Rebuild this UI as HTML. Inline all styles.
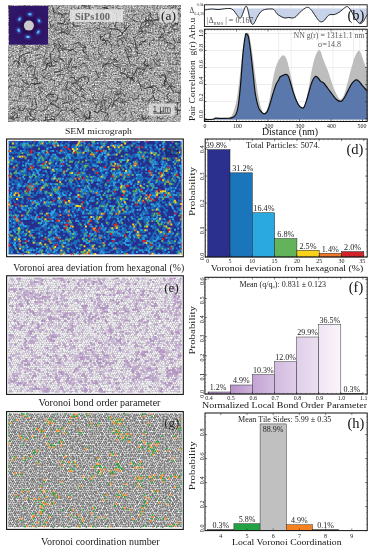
<!DOCTYPE html>
<html><head><meta charset="utf-8"><title>figure</title>
<style>
html,body{margin:0;padding:0;background:#fff;}
svg{display:block;}
text{font-family:"Liberation Serif", serif;opacity:0.999;}
</style></head><body>
<svg width="377" height="550" viewBox="0 0 377 550">
<defs>
<filter id="sem" x="0" y="0" width="100%" height="100%" color-interpolation-filters="sRGB">
<feTurbulence type="fractalNoise" baseFrequency="0.7" numOctaves="2" seed="3" result="n"/>
<feColorMatrix in="n" type="matrix" values="0 0.9 0 0 0.2  0 0.9 0 0 0.2  0 0.9 0 0 0.2  0 0 0 0 1"/>
</filter>
<filter id="soft" x="-2%" y="-2%" width="104%" height="104%"><feGaussianBlur stdDeviation="0.38"/></filter>
<filter id="soft2" x="-2%" y="-2%" width="104%" height="104%"><feGaussianBlur stdDeviation="0.35"/></filter>
<filter id="warp" x="0" y="0" width="100%" height="100%"><feTurbulence type="fractalNoise" baseFrequency="0.06" numOctaves="2" seed="8" result="t"/><feDisplacementMap in="SourceGraphic" in2="t" scale="16" xChannelSelector="R" yChannelSelector="G"/></filter>
<filter id="spot" x="-100%" y="-100%" width="300%" height="300%"><feGaussianBlur stdDeviation="1.1"/></filter>
<filter id="spot2" x="-100%" y="-100%" width="300%" height="300%"><feGaussianBlur stdDeviation="0.7"/></filter>
<radialGradient id="insbg" cx="50%" cy="50%" r="70%"><stop offset="0" stop-color="#2a0c4e"/><stop offset="0.5" stop-color="#2f1462"/><stop offset="1" stop-color="#331a70"/></radialGradient>
<clipPath id="clipA"><rect x="8" y="5" width="173" height="116.5"/></clipPath>
</defs>
<rect width="377" height="550" fill="#fff"/>

<g id="panelA">
<rect x="8" y="5" width="173" height="116.5" fill="#a6a6a6"/>
<rect x="8" y="5" width="173" height="116.5" filter="url(#sem)"/>
<g clip-path="url(#clipA)" fill="none" stroke-linecap="round" stroke-linejoin="round">
<path d="M30.24 63.17l-.24 -2.51M30.45 115.48l-.46 -3.76l2.53 -1.54l3.87 -1.99M149.3 68.97l3.76 -1.18M110.35 32.41l-.26 2.44l-.71 2.88l2.39 2.57M124.49 28.56l.92 -1.9M89.12 110.56l1.5 1.41l-1.67 5.23l1.26 1.79M154.34 73.49l1.56 -1.71M153.17 59.32l1.36 2.32l2.51 3.23M147.29 27.15l2.03 -2.24l-.46 -3.7l-2.67 -1.58M177.25 114.63l.25 -3.09l.08 -2.23M50.4 103.47l3.93 1.78l4.63 2.46M116.32 21.73l-1.35 4.95l2.37 2.24l4.26 3.47M69.8 12.09l1.89 1.72l.01 2.28M14.68 18.43l-3.01 .9M68.91 20.22l3.89 -3.45l3.94 .41M164.96 86.58l-.27 -4.38l1.68 -1.38l-1.07 -4.39M54.24 97l-3.13 -1.23M57.45 75.57l4.05 -1.05M58.24 98.06l-2.75 3.38l-2.85 -.55l-2.49 3.03M34.8 98.11l1.21 5.01l1.27 4.06M137.72 49.83l-1.67 -4.09l-1.19 -4.59l-1.42 -3.72M148.93 87.2l4.86 -1.48l4.25 2.76M115.14 57.99l-1.63 1.88M79.58 66.54l3.79 -3.29l2.13 .69M176.58 10.15l2.25 -.9l4.03 -1.99M57.82 34.76l2.43 -2.56l5.4 .08l1.55 2.04M20.35 11.23l.67 4.54l-1.56 1.41l-4.98 -.93M71.16 108.38l2.59 3.81l2.46 3.17M122.76 99.27l-.91 2.23l2.98 3.18M39.68 38.98l-.07 4.42M175.4 24.35l-4.85 2.1M65.43 24.61l-2.38 -.54l-3.97 -.77M163.7 111.2l.56 -3.63l.38 -3.38l4.24 -2.23M88.7 88.63l2.78 3.28M9.96 74.02l-2.13 2.72l-1.21 1.71l-.94 2.63M72.83 44.28l3.18 -.8l3.76 -1.42M62.88 50.13l4.04 -1.1l4.01 1.53l4.25 -2.84M171.1 100.71l-.91 -1.84M126.96 56.08l.99 2.02M16.43 33.97l-.66 3.35l1.9 2.27l2.85 -.34M29.15 118.47l3.55 1.94l2.98 -1.48M12.37 31.09l2.91 .46l3.47 -3.73M131.64 97.29l1.73 1.99l4.38 -.92l.8 -3.38M162.05 86.03l3.02 -1.44l-1 -3.55l3.37 -4.06M72.44 112.98l1.45 -1.81l2.61 -2.77l2.47 .57M116.84 22.65l-.08 -5.37l-.1 -3.13M113.2 64.7l2.85 1.66l3.44 1.25M51.91 116.13l3.94 1.06l3.34 -4.11l2.43 -3.16M85.57 78.92l-3.8 -2.16l-3.65 3.66l-4.4 3.22M174.84 23.53l3.24 -.41M11.2 113.73l2.84 -2.2l3.54 3.27l-.45 2.3M46.54 40.95l-3.07 -.75l-1.85 -.87M17.88 105.84l2.52 4.72l2.85 -.09l2.02 -3.89M90.53 10.31l-2.01 -4.76l-1.04 -4.64l-5.4 -.63M35.49 66.75l-.71 4.29l-1.08 5.11l3.61 4.04M32.27 109.33l-3.08 -.51M131.06 77.22l2.16 3.29M61.57 17.55l.9 -3.53l2.94 -.31l2.37 -.08M169.88 23.57l-1.27 -2.96l-5.11 -.18l-2.6 .44M173.96 92.64l-2.21 -3.25l-2.59 -4.25l-2.24 -3.01M11.24 35.79l3.52 -4.03l2.35 -3.51l1.76 -3.65M139.5 28.57l2.02 .17l.88 3.44l-2.11 2.23M130.28 24.49l-3.53 3.97l-1.52 2.19M36.16 13.85l3.63 .62M37.09 16.03l-3.68 -.14l-3.26 3.11M19.7 55.77l-.36 2.26l-.73 4.34l-1.03 5.05M41.82 70.89l4.78 -2.55l.25 -4.43l3.61 -1.95M35.04 5.97l.47 4.61l.46 3.43M153.18 95.73l1.57 4.17l3.83 .62M101.79 45.42l2.75 -2.45M27.5 37.89l.33 3.29l-1.56 2.28l-2.6 3.59M71.16 90.07l3.58 3.54l2.17 -1M117.51 36.62l4.72 -1.53l.49 -2.88M68.69 50.99l3.8 -1.6l3.93 2.81M166.16 76.3l-5.14 -.71M146.32 30.79l-2.84 .37l-2.73 .43l-2.24 .35M13.01 40.11l-2.09 -3.27M106.6 19.24l-3.9 .79l-3.37 .01l-.74 2.31M50.49 79.01l4.45 2M75.28 14.24l1.32 1.8M140.02 37.84l2.96 -.54M20.97 57.29l.58 -2.12l3.71 -1.55l4.92 -1.26M101.18 111.02l2.59 1.1l3.82 1.25l.78 3.85M118.99 14.72l-2.04 -1.84l-2.37 .58M18.73 74.57l3.29 1.37M171.89 31.8l-4.02 .72M63.12 60.27l-3.8 -2.23l-.33 -2.87M113.08 53.28l-3.46 -2.18M127.09 77.59l5.27 .51l2.22 3.77M76.11 19.42l-3.46 3.64l1.36 3.01l5.43 .15M59.5 52.42l-1.19 -3.27l2.28 -2.55l-1.96 -3.72M54.56 65.68l-5.24 .75M51.85 65.73l-.69 -4.32l-.63 -4.33l.06 -2.52M175.44 42.4l-2.62 -4.62M16.16 42.82l-.04 -4.35l-.05 -2.87l-3.8 -2.96M164.09 39.94l-2.06 .63M103.3 7.79l4.57 .7M54.52 72.89l4.34 -1.5l3.79 -.94M157.43 52.67l-1.36 2.96M69.33 90.42l-2.32 -.71l-1.1 -3.62l2.32 -3.79M13.34 61.87l1.91 -1.26l3.37 .78l.98 3.32M151.78 93.12l3.11 -3.36M169 103.23l-3.86 3.56l-5.11 -.85l-2.02 3.91M108.74 27.99l3.56 1l4.79 .41l2.25 .54M22.09 19.12l-.64 -3.09l3.75 -2.83l2.72 -.87M69.84 103.99l-1.33 -1.91l-4.48 1.02l-2.12 1.18M175.56 109.89l2.05 .38l4 .49l1.61 2.31M179.18 40.27l3.39 -4.31l2 -2.81M52.43 59.22l2.78 2.55l3.96 .14M174.34 25.1l-1.91 2.23l1.04 3.03l4.76 -1.46M45.31 115.64l.23 4.72M96.27 99.9l-4.01 .18l-2.66 .01M153.2 97.59l-4.14 1.82l-.2 4.54M143.25 100.63l-.72 -1.99M8.21 65.6l-2.43 -.51M83.52 49.83l.58 2.64M52.83 50.93l2.04 -3.57l-1.03 -4M13.98 81.28l-3.34 -.92M158.16 37.48l4.63 -.59l2.37 2.52l2.38 3.14M53.92 94.52l-5.29 -.4l-2.14 3.13M92.5 86.76l1.98 -1.74M57.82 21.91l1.39 2.07l4.37 -.57l1.48 -3.3M160.28 18.71l-5.06 1.11l-2.54 .23M76.11 98.52l-2.53 3.46l-1.37 1.73M120.22 97.19l-4.55 3.07M157.07 118.34l2.01 -1.06l2.25 1.72l2.21 -1.11M146.24 39.76l-3.46 2.75l-3.08 2.83M51.64 5.89l1.16 -1.9l4.01 .64M49.48 21.76l1.35 4.91l-1.6 1.82l-4.46 -.35M24.17 63.24l1.39 -4.4M101.86 41.15l2.16 -1.34M137.27 21.58l-4.51 -1.23M120.09 72.01l2.95 1.35l3.36 1.45l.87 3.07M84.97 91.27l-2.13 -2.69l-3.31 1.88l-3.73 -2.43M138.42 80.61l1.82 4.89l1.16 5.06M157.87 60.47l2.56 -1.25M169.89 101.96l-2.4 -3.63l-.93 -2.86l2.73 -2.98M67.23 26.63l1.04 3.22M51.65 62.66l-5.07 1.59M177.96 24.6l-2.56 -1.36l-.16 -3.68M126.98 28.01l-1.48 1.68l-2.54 2.99M161.57 20.18l.96 -2.39l4.36 -.08l1.95 2.89M9.98 14.16l.76 -3.32M16.87 21.66l1.14 -4.51l1.13 -2.6M42.66 110.71l4.02 -1.32l.78 -1.95l1.19 -2.67M86.73 83.48l2.16 -2.8l-.81 -3.45l-4.51 -1.15M75.11 78.96l-2.28 -1.78l-3.38 1.12M82.04 49.54l2.94 3.66l3.14 3.33l-.14 2.09M80.56 44.34l4.58 2.03l.64 2.74M20.98 91.5l-.83 2.39l-.69 2.93M38.8 87.85l2.06 3.59l-2.36 3.3M180.28 42.55l-2.72 -.06M119.82 39.35l2.95 1.93l-.57 2.34l1.4 1.48M109.37 42.11l1.56 2.65l2.1 .19l2.26 .16M17.1 8.27l-2.58 -.11M142.08 114.43l.72 4.42l2.89 .86l3.29 -3.6M155.32 58.96l1.95 2.26M89.79 112.2l.22 5.2l-2.72 1.27l-2.35 -3.38M115.26 94.42l5.01 -.47l-.12 -4.18M59.9 5.95l-3.07 3.3M43.67 77.86l2.86 -2.92l2.65 -2.41M135.36 65.28l-5.12 -.67l-1.33 -4.13l-.37 -2.32M145.78 17.33l.11 5.39l-.33 2.29l-4.12 2.53M93.51 98.31l-.94 -1.89l2.48 -2.22M155.56 105.92l2.32 2.43l3.17 2.93M96.2 71.53l1.09 2.8l1.21 3.17l-3.41 2.46M121.21 82.03l-2.43 .72l-1.67 -1.4l1.01 -2.82M25.96 108.01l2.42 3.19l1.81 3.15l2.11 2.78M102.4 67.44l1.58 -3.22l2.35 -.19l2.74 -.51M147.23 20.83l-2.27 .85l-3.28 1.05l-1.23 4.51M165.75 42.43l2.36 .33l4.14 1M117.12 100.78l-2.45 -.22l-1.29 3.2l-1.13 3.23M76.87 66.36l-4.72 .74M174.79 87.23l-3.98 -.6l-2.81 .32l-.41 2.98M178.92 74.02l3.44 -.71l2.09 -3.15M82.95 85.23l-2.7 2.93M12.14 121.02l-1.22 3.05l-2.4 4.81M152.97 87.45l-4.58 .15l-4.43 .81l-3.48 -3.31M145.77 59.73l-1.86 3.78l2.05 2.13l2.74 -.42M30.31 37.6l2.19 4.04M78.52 43.8l1.58 1.9l2.25 2.3l3.07 -.73M86.96 6.04l-4.85 -.34M146.95 66.09l-2.58 3.76l-3.43 -.98l-2.7 -.58M10.76 109.14l4.51 -1.12M54.9 119.59l-3.52 -.17l-5.39 .63l-2.08 .58M160.43 77.47l-2.04 -2.81M44.07 28.48l-1 -5.12M47.89 64.97l2.31 1.06M113.28 57.8l4 3.43M165.21 108.24l5 1.84l.28 2.03M102.86 108.47l-3.07 2.28l-2.88 1.9l-2.59 -1.44M111.43 101.8l-1.56 3.53l-2.11 3.61M85.53 98.96l-1.95 -1.42l-2.21 -1.51M149.75 45.52l-.24 -2.64l3.9 -3.56M177.19 105.06l.43 -2.71M31.83 80.16l3.96 -2.43l2.16 1.45M103.64 38.45l1.97 2.48l3.59 .31M106.65 45.18l-1.36 -4.46l-4.59 -1.09l-.55 -4.78M154.02 24.34l-2.51 -4.04l-4.49 .11M71.64 59.53l-1.7 3.59l-1.99 4.99M106.92 7.26l-2.72 .32M106.62 101.21l-3.42 -1.51l-1.9 1.63l1.11 5.04M138.98 45.29l2.04 -3.62l2.4 -.04l2.42 -.26M126.76 46.98l3 -.02l1.88 3.66l-1.7 1.96M99.96 28.93l-3 -.82M131.11 56.39l-3.04 .07l-1.3 -3.14l-1.65 -3.89M39.78 83.03l-4.27 1.03l-4.05 -.63l-3.26 4.15M22.05 79.25l1.95 3.49l4.61 1.16M10.04 85.62l-1.76 2.84l-.99 1.83M25.71 120l-.15 -2.85M152.81 18.74l-2.56 -2.63l.87 -2.27l-2.71 -1.79M25.01 46.08l-3.67 -2.13M137.37 67.43l-1.76 4.4l-2.65 4.36l-2.84 3.61M19.64 117.79l-3.8 -.31l-1.79 1.92l-2.99 -.92M27.29 71.28l-.52 -2.77l4.42 -3.11l2.48 1.22M99.58 36.69l2.43 .2l3.75 -2.76M52.94 8.35l.95 4.03l3.69 1.12l3.73 .76M10.68 6.25l-4.47 -.6M163.39 28.03l1.3 4.3l-3.24 2.79M11.67 26.76l1.3 4.43l4.15 2.3l3.56 -3.06" stroke="#222" stroke-width="0.9" opacity="0.8"/>
<path d="M61.52 13.99l-3.96 -1.94l-2.35 -1.03M89.11 26.62l-.92 3.36l2.43 2.15l3.23 -.99M106.4 120.22l3.49 .07l2 4.07M31.06 71.03l.99 2.62M100.02 15.82l-2.85 -1.38l-3.92 2.53l.27 2.46M125.55 86.04l1.62 2.39M48.47 114.82l-1.84 2.92l1.11 3.44M150.48 12.71l-1.39 3.57l-.57 2.42l2.72 1.82M65.04 83.84l1.2 -2.11l4.49 .34l2.51 3.13M124.75 69.05l-.84 2.39M172.26 101.11l3.13 1.16l5.14 .58M61.28 27.49l.66 5l-1.91 1.11M63.18 39.1l-3.44 4.03M161.41 74.87l5.21 -.65l3.4 -.6l4.95 -1.27M78.7 7.45l-2.23 2.87l-4.76 -.81l-2.17 2.12M100.07 99.45l-2.14 4.47l-1.56 3.31M116.48 13.75l-2.96 .26l-2.78 -3.81M102.84 27.12l2.48 .34M68.05 73.16l2.33 -3.23M81.08 91.56l.11 -3.96l-3.36 -2.67l-3.3 -2.67M54.85 120.69l-2.56 -1.49l-3.3 -2.89M122.48 92.69l3.06 4.41l-1.45 3.87l-4.59 1.24M105.33 112.61l-.05 -4.82l-1.02 -5.36M142.49 100.08l.68 2.16M85.17 112.62l-1.36 3.14l4.07 3.53M144.24 54.54l-2.26 -.38l-5.22 -1.13l-.71 -1.96M86.95 56.54l.4 2.8l4.1 1.85l3.74 2.24M32.49 15.39l-.19 -4.06l-3.05 -2.28M100.02 91.59l2.21 2.87l2.38 3.08l3.68 -.53M44.77 40.09l-4.44 -.7M173.32 82l-3.03 2.15l.67 3.73M46.72 97.06l2.91 3.5l1.83 1.93l1.94 1.44M21.3 89.33l2.54 1.68l4.25 -3.27M33.19 13.15l-2.09 -4.18l-2.08 -4.71M112.27 100.54l-3.41 -4.1M120.26 72.88l2.17 .9M171.84 109.37l4.08 -1.42l3.52 2.18l4.32 -3.13M81.06 69.74l-2.9 -1.77l-2.13 -.42l-2.68 -.28M32.24 102.74l-2.33 -1.88l.46 -2.15l-1.72 -2.1M129.7 10.76l4.7 .54l1.73 -2.06M27.92 120.34l-.97 -4.49M151.54 67.42l-3.19 -3.77l-3.95 .8M70.29 31.4l-2.16 2.95l-3.75 -.86l-1.7 1.63M161.95 33.86l-2.36 -3.87M154.67 29.53l2.47 -1.29M162.91 75.03l3.09 .65M148.05 27.63l-3.24 -.61M43.35 12.15l1.38 4.35M117.97 10.17l-4.94 1.6M20.28 96.65l-2.08 4.02l-3.34 -.24l-2.13 1.96M115.25 106.76l-1.42 -4.13M53.85 94.39l-3.26 -.23l-2 2.37l2.16 3.84M133.95 77.61l-3.74 .39l-2.37 -2.14M71.07 74.83l1.45 -2.32M29.73 39.89l2.04 -4.5l-2.2 -3.32l-1.03 -1.86M116.64 62.35l3.03 -2.25l3.76 -3.2M169.08 64.15l2.21 .24l4.17 -.19l3.6 0M40.48 54.59l-4.63 .61M103.69 63.73l3.23 .04l1.93 -2.97l2.12 -4.49M72.42 19.82l-5.12 .15l-2.78 -.92l-.97 -3.35M98.83 15.21l.99 -4.03l3.99 -1.61l3.24 -3.09M66.66 23.25l2 .71l3.81 -3.65M124.43 96.43l-1.24 -2.86l-3.07 .59M30.14 43.19l.6 -1.96l1 -5.31l-3.6 -2.37M151.81 18.89l-1.63 2.92M106.41 59.08l4.95 .54l4.45 1.05M75.96 112.55l-2.74 -2.6M127.38 66.95l1.07 1.9l1.39 3.37M110.17 24.74l-3.14 3.6l-2.85 -.49M50.45 12.6l-2.91 -4.62l.99 -1.85M66.82 65.08l2.46 -2.13M39.05 32.02l-3.06 2.09l-4.65 2.53l-1.9 .73M37.1 49.27l2.97 -4.26M107.46 108.48l-3.12 1.15l-2.52 -1.79M150.44 86.92l1.3 1.77l2.81 3.1l-2.02 3.91M175.13 72.35l-3.2 -4.13l-2.89 .6M104.24 65.06l4.93 -1.18l2.59 -.33M109.31 16.86l-3.84 3.55l-3.52 -.39l-2.5 3.57M34.92 13.03l-1.71 2.72l-2.41 -.07l-1.98 4.35M57.26 100.33l.68 -5.34M100.85 45.71l-2.62 2.69l.45 4.66l4.39 2.49M26.3 80.78l.76 3.61l-3.74 3.24l-.15 2.46M128.38 67.08l-2.81 -3.86l-4.88 .79l-3.87 .66M139.56 57.3l-3.1 2.63l.41 2.79M144.98 117.83l-4.01 .46l-2.56 -3.3M174.94 53.51l5.26 -.3l2.42 -.1l1.19 -1.75M48.61 38.55l2.23 .78M127.96 74.96l-1.31 -4.42l-1.03 -1.76M40.13 74.01l4.01 3.15l1.83 1.24l4.41 2.86M38.76 47.03l3.9 -1.84l2.05 1.62M101.58 62.42l1.6 4.25M115.98 78.55l-3.41 3.19M66.74 66.15l3.31 2.43M85.22 117.59l4.99 .55M29.55 116.8l-3.72 -.43M152.76 66.03l3.67 -0l4.28 -.54M164.83 23.44l.94 4.08M19.66 95.08l2.81 2.43l4.91 -1.16l4.34 -1.76M76.51 119.5l3.42 2.2l-1.05 5.36M140.98 72.49l-2.41 .23l-2.79 -3.38M12.55 38.59l2.58 -3.99l5.27 -.51M104.63 75.26l-1.15 -2.09M61.75 28.03l-1.89 -1.11M46.96 34.83l-4.51 -.96M123.62 101.7l4.75 -.86l.4 -2.07l1.52 -3.8M36.15 74.96l-3.94 -.2M10.6 48.07l-5.18 -.07M70.13 100.74l2.46 -1.29M28.31 78.14l-2.82 2.76M152.07 62.54l-3.05 4.09l-1.97 -.62M35.22 120.04l-1.96 -2.73M141.35 67.69l2.55 .38M114.11 104.45l3.36 2.7l-.41 2.05l1.73 2.27M55.68 114.95l4.17 .97l2.98 2.04l-.04 2.64M165.62 49.67l1.76 -4.25l4.63 -.81M106.5 61.29l-3.25 -3.65l-3.71 -3.13M47.54 57.58l-2.97 3.98l1.9 4.36l-1.52 3.74M85.62 18.26l3.97 3.73l2.57 2.03M19.55 110.57l-2.31 -3.04M101.44 64.09l-3.54 -.07l-1.12 2.43M100.71 31.69l4.49 -.53M119.1 61.97l-2.9 .29l-5.05 .58l-2.05 3.72M137.53 75.45l1.74 2.73l-2.62 3.81M53.9 23.19l-1.44 2.37l-1.31 1.57M27.36 6.7l-1.94 2.08l-2.25 2.35M61.81 72.77l-2.68 -1.59M130 54.12l4.16 2.53l3.09 -.66l.32 -5.24M12.25 54.73l-1.13 2.92l-3.71 .09M147.21 25.8l-1.31 1.89M32.48 68.96l-1.15 -3.25l-4.34 -1.06M174.63 49.56l.62 -3.55M130.87 111.73l.86 2.96l1.4 2.43M10.47 102.26l-.54 1.99M37.85 55.42l-3.81 -.45M72.88 23.47l.94 2.28l-1.69 2.29M55.01 111.31l1.97 -1.21l4.44 -2.39l2.29 -1.03M173 91.92l5.33 .68l3.11 -3.7M78.96 14l.01 3.59l.57 3.11M119.72 51.44l-.26 2.1M30.54 17.21l3.53 -.7l2.1 2.65l-2.19 4.38M37.35 59.24l5.08 -2l2.52 -1.31M144.84 64.63l-1.2 2.95l1.02 2.42l-3.33 4.2M176.78 65.45l-.12 -3.42l2.16 -1.43l2.7 .93M44.25 10.54l.25 2.15l-4.16 3.25l-4.17 -2.07M32.15 107.18l.41 -4.95l.07 -2.86l2.39 -.82M67.05 107.72l-1.21 2.55l-4.74 .32M32.58 84.84l1.64 -1.88l4.16 1.12l2.51 4.44M64.51 29.05l3.96 1.98l4.01 -2.36M133.51 34.15l1.93 3.73M101 13.31l2.77 -.76l4.29 3.16l2.6 2.34M170.09 63.32l-2.43 -3.59l.82 -1.94M12.7 85.12l4.98 1.67l4.9 .25M53.45 24.71l2.01 4.94l-2.86 3.6l.62 1.96M104.04 78.04l-2.77 .08M172.63 101.86l-1.22 2.46l-2.48 .18l-1.73 -1.98M56.6 101.72l-3.1 2.94M122.18 108.67l-1.3 -2.59M127.2 76.67l2.76 -1.17l2.19 -.61l.51 -4.76M74.9 91.15l3.44 2.15M66.77 96.2l-2.16 2.88l-4.98 -.51l-3.52 .09M124.46 119.91l.9 -3.55M170.61 72.37l-3.38 -1.19M57.23 40.23l2.48 -.71M177.49 18.15l-5.01 1.13M59.48 84.36l2.3 -3.66l2.13 -4.09l1.01 -3.22M108.26 88.4l-1.15 -3.14l-2.69 -2.68l-3.83 1.35M130.63 43.57l2.46 .38l1.3 4.04M177.3 91.45l3.68 1.45l1.41 4.65l2.42 1.46M117.83 93.77l.02 4.37M37.73 48.32l-2.41 -.56M85.34 59.96l-.58 -5.2M23.88 85.06l-2.04 1.49l.32 3.36M168.68 15.14l-3.99 -.78l-1.67 1.71M22.71 50.43l-2.41 .76M17.94 54.55l2.96 -4.13M124.57 71.52l-2.88 1.72l-.38 2.82M111.44 92.24l.27 2.59M121.47 109.34l3.98 1.66l.12 2.25l-2.64 1.67M172.25 78.48l2.95 2.34l2.72 -1.71M96.51 21.68l-3.05 1.96M66.91 89.13l-4.67 .16M93.25 53.63l1.17 4.92l4.1 1.16l1.86 -1.61M57.96 60.22l3.36 -.93l3.87 3.39l2.18 1.67M144.53 100.68l2.65 .7M55.68 45.49l.9 2.25l5.2 .63l4.01 -.76M123.31 77.93l1.98 3.04M142.6 14.97l3.77 -3.59M81.36 102.96l-1.38 -4.18M141.49 27.18l-2.54 1.83l-.1 4.93l-4.04 3.43M54.41 17.2l-.16 -2.42l-.49 -3.76l-.95 -3.93M129.19 29.51l-4.56 -1.15l-.38 -3.56l-3.23 -1.25M90.43 103.27l-1.89 -2.88l-2.19 .56l-4.78 .8M152.02 73.91l-2.1 -1.2M41.36 40.62l4.1 .46l1.99 -2.21M69.62 96.08l1.75 1.48l.85 3.86l2.05 1.08M83.8 97.35l-.64 -3.41l-.52 -2.38M51.18 102.72l4.15 2.92l2.11 1.58M76.42 79.08l.75 2.81l1.46 3.62l2.23 3.74M113.11 5.16l-4.08 -1.45l-1.52 -4.27l-2.78 -.39M38.37 49.18l-5.01 .64l-1.3 -2.17M77.61 77.95l3.39 .43l.65 1.93M67.68 94.94l1.3 4.71M73.62 35.76l-4.32 -1.04l-2.32 -3.72l-4.9 .64M54.64 92.02l.88 -4.97l3.52 -1.33l.69 -3.27M40.86 35.85l2.34 -2l-1.33 -2.73M12.43 65.81l1.8 -3.92M136.23 51.79l3.15 1.79M11.5 5.36l-2.12 -1.57l-3.65 -3.31l-2.76 -2.67M85.17 107.03l-3.51 -1.51M160.58 121.35l-3.38 1.23M27.26 47.42l-3.29 -.01l-1.57 -2.14M43.42 111.17l-2.32 .05M67.03 73.14l2.03 1.37l3.38 3.08M42.47 82.29l-5.19 1.57l-3.44 .75M176.22 53.37l-3.76 .13M54.71 43.37l2.98 .97l4.69 1.89l.45 5.19M48.11 114.32l2.14 -.54l3.97 -1.34M58.42 30.59l-2.03 .05l-.98 -1.88l2.32 -2.05M119.11 45.7l-3.58 2.31l-3.96 2.42M56.67 118.46l-2.61 1.52l.65 5.24M59.13 51.85l3.54 -3.05M160.15 37.26l-.99 3.24l-2.79 -.13l-2.85 -.38M159.85 37.27l2.08 -4.06M132 78.02l-1.73 5.06l-3.05 .86l-2.48 -1.98M153.12 33.07l-3.96 -.79l-3.64 .11l-1.81 3.31M99.85 57.04l.16 -2.62M114.86 59.96l2.76 -2.71M15.63 114.77l-4.16 2.58l-3.6 2.01M151.62 20.13l5.28 .66l1.57 -1.74l-1.36 -5.12M120.73 70.24l-.75 -4.96M46.22 28.97l-4.45 3.05l-4.34 2.55M31.2 43.11l-3 -3.92l-1.38 -1.47l-4 1.24M173.89 48.08l-4.6 .37M150.66 77.47l-1.55 2.07l1.64 4.11M105.34 117.06l2.33 1.72M103.51 74.79l3.67 1.9M159.25 66.02l.65 -3.69l-2.08 -1.92M57.1 41.19l2.21 -.4l2.88 3.01l2.26 3.77M89.1 119.6l.03 -2.8M128.96 41.27l4.72 -.13M131.14 20.16l2.19 -4.65l4.87 -1.56M111.73 37.5l-2.37 -4.16l-1.17 -2.06l-4.18 -.24M81.54 111.46l1.59 4.12l2.81 4.24l-1.68 2.44M168.13 115.2l-3.31 .41l-2.51 -.43M118.63 113.2l1.2 2.36M168.37 55.85l1.05 -2.05M177.81 37.4l-1.85 2.46M43.87 108.05l1.11 -2.27M75.14 87.09l-2.04 -3.64l2.22 -2.72l-1.3 -3.17M63.9 63.37l1.15 4.55l2.77 .72l.73 2.3M153.14 24.47l-2.58 .42M98.22 105.61l2.32 1.62l-.03 3.8l-3.13 1.75M27.52 65.06l-1.76 -3.07l-4.56 .44M67.59 54.03l4.38 .44l3.16 .4l2.79 -2.99M43.55 65.7l.18 -2.36l-.55 -4.11l2.81 -2.04M80.82 60.24l-3.15 2.21l-1.97 -.82M45.73 71.79l-2.89 2.51l.58 3.51M121.42 117l-2.63 -3.32l2.41 -3.83M73.72 75.45l-3.01 -3.51M89.23 6.76l-2.72 2.74M99.76 78.75l-.9 -2.86M125.31 40.2l1.58 -3.44l1.17 -4.33M89.15 42.78l1.3 2.49l2.03 -.21l2.6 3.92M52.48 76.58l-4.65 .97M134.79 94.83l-3.04 -3.72M9.49 96.5l2.76 3.19M108.86 87.28l1.89 2.12l4.04 -1.53l3.37 2.07M138.49 68.89l1.87 4.61l-1.11 1.72M150.49 28.22l2.52 -3.48l-1.36 -1.8l-3.62 .25M179.78 17.32l.31 -2.93l-4 -2.62M150.28 110.17l2.38 -4.5M109.11 68.95l-3.22 3.1M96.87 104.6l3.63 -1.84l.67 -2.6M18.38 35.02l-1.59 -4.09l-1.67 -4.41M32.04 16.81l-2.13 .05l-1.67 -1.41M41.5 99.41l-2.04 -4.84l3.31 -3.66M93.88 19.7l-5.36 .32l-2.71 -3.56M124.62 48.65l3.94 .96l.13 4.7M116.09 41.23l2 .46l3.35 -4.16l4.91 .18M95.58 112.44l.42 -4.83l1.02 -3.71l.79 -3.13M100.23 107.04l4.06 -1.87l.04 -4.59M132.05 19.24l-4.44 -2.47M170.29 10.96l.04 -2.69l4.77 -2.44l.82 -2.89M19.96 77.13l-3.26 -1.71l-3.35 -2.8M19.28 48.62l4.71 .06M36.95 82.6l-2.78 3.42l1.71 4.66M123.64 38.97l2.02 -4.95l5.39 -.92M11.58 14.59l-3.03 -3.28l-2.16 -2.78M176.41 6l-1.23 1.81l-4.21 -.4l-1.51 -2.6M34.39 113.31l1.3 2.35l-1.75 3.96l-2.89 .28M175.09 45.67l-.45 2.76l-1.96 .4M65.28 94.06l-.23 -4.32l.03 -2.99M117.96 64.95l-1.12 2.94l1.45 2.27M19.21 112.18l-.95 -3.45M165.07 80.44l3.61 1.51l3.17 3.38l2.85 2.24M108.19 114.48l-3.59 2.85l.79 3.36M125.75 69.1l-3.3 -.39M130.26 120.63l2.83 -1.14M60.76 37.71l-3.33 1.35l-4.05 1.73M13.79 36.6l1.37 -1.82l3.35 .67M9.61 8.76l-4.36 -.17l-2.51 -4.8M125.95 78.72l-2.22 -.09l-2.8 3.81l-2.59 3.82M145.56 116.97l-4.24 3.02l-2.65 -1.76l-2.29 .95M118.4 8.05l.64 2.88l1.92 5.02M88.21 110.6l1.35 2.55M62.25 99.49l5.27 1.54l2.56 -3.67M83.97 5.03l-2.16 -3.38M77.13 115.68l4.31 2.66l3.36 -2.73M114.79 91.45l2.44 .77l.33 2.45M44.56 89.93l-3 -2.07M131.38 43.45l2.71 .91l3.67 .78M87.31 118.41l-2.61 1.64M46.41 61.53l-2.19 3.13M172.68 104.24l1.36 1.97l3.67 3.93M135.72 45.13l-.46 3.35M176.21 91.93l3.4 1.64l3.5 -3.9M52.84 17.47l-3.26 -.97M138.14 69.04l2.76 -3.46l2.59 -2.22M31.85 41.02l1.99 -3.09M52.57 88.32l-1.83 4.46l-2.8 .81l-1.59 2.92M47.93 9.05l-1.23 2.37l-2.78 3.66l-3.49 3.06M160.15 28.94l.71 -2.61l-2.16 -1.67l-3.03 1.05M146.52 118.65l-1.79 -2.15M154.48 103.12l-2.77 -2.26M42.56 34.9l-2 -.37l-2.43 -4.39l-2.08 -4.66M60.16 46.27l-3.68 -.56l-2.37 -3.43M160.03 38.3l3.78 -2.31l2.06 -.94l4.46 -1.7M161.04 106.79l-3.53 .69l-1.08 4.27M127.83 72.44l5.27 .8l1.03 3.15M70.13 57.16l1.63 1.58l-1.08 3.07l-2.3 .5M106.37 63.53l-2.14 1.99l.4 2.58l.8 3.91M83.56 64.62l3.29 1.18l1.45 5.12l2.86 .39M89.59 101.07l4.37 .46l.87 2.91l2 .43M73.18 65.83l-2.17 4.1M46.62 13.23l2 3.39l-1.55 4.85l-1.77 3.47M89.37 35.97l-.54 -3.29M23.98 55.63l.47 5.47M86.66 92.3l-1.91 1.86l-4.29 2.94l-4.71 -2.63M45.62 59.5l2.46 -1.3l1.85 -1.63l.21 -5.42M146.69 65.99l-3.55 -.69M22.4 14.38l-4.99 -.34M160.46 104.03l-2.72 -.89l-3.37 2.96l-4.81 -1.8M73.94 46.29l-1.99 1.11M85.24 8.86l-.36 -5.3l5.07 -1.95l1.8 1.68M127.43 49.7l-2.71 -3.09M133.64 111.49l3.63 2.24M59.62 69.72l5.09 -1.38M67.56 62.11l2.96 -2.96M171.33 16.23l1.41 3.06M173.47 58.95l2.41 -.06l1.98 -4.66M137.3 78.16l-.49 -2.17l-.88 -4.16M15.33 113l-2.45 4.91l-5.44 .31l-2.51 4.82M75.37 83.86l.98 -1.89l4.37 -.46M23.41 32.57l4.61 -.26l1.44 -3.8M73.04 82.57l-1.38 2.98l-1.4 2.76M79.15 105.29l-1.64 -1.4M12.54 119.99l-1.9 -3.58M159.46 28.04l1.84 -4.04l-3.39 -2.68l1.16 -2.16M54.48 61.91l2.21 -.59l1.96 -4.2M36.44 81.34l3.11 .51l1.08 2.3l1.7 5.12M120.06 102.71l4.57 -.45l4.57 .63M50.03 43.98l-3.54 2.35l-.53 3.78l-.09 3.8M103.26 22.3l-4.32 2.51l.53 2.67l-4.55 3.01M162.41 28.61l2.36 -2.17l2.24 .25l1.36 -3.52M135.74 49.81l1.55 -2.02M180.62 91.15l-1.17 5.13l-.87 2.47l2.99 3.77M171.54 71.77l-3.39 .33M16.17 33.36l4.47 -.22M173.87 20.38l2.02 -1.79M51.1 24.8l2.58 4.14l3.78 .16l5.44 .63M106.26 29.39l5.03 -.16M139.83 20.57l-2.22 -3.52M35.28 19.42l3.13 .95M143.03 73.16l-.7 3.21l2.92 3.17M64.06 106.74l1.84 .82l.98 3.21l5.28 .2M64.32 120.23l-.84 -1.96M39.24 109.88l-2.23 1.63l-2.83 1.77M46.5 102.56l-1.05 -2.63l-4.9 -.39M108.97 97.47l-1.56 2.44l-3.86 -.1l-1.66 -4.26M117.4 90.64l-2.54 4.35l-.76 3.25l-.62 3.13M95.36 5.72l3.92 -3.19l2.3 2.32l4.13 .49M100.88 9.69l-2.06 .3l-1.06 2.16M156.58 64.74l-2.21 -.03M58 103.35l.9 3.41M123.93 91.57l-3.52 -3.06M87.54 54.36l-1.92 -2.95M55 61.33l-.34 -5.37l2.57 -1.61M14.25 120.64l-1.91 -4.34l-4.33 -.35l-1.26 -3.37M141.49 86.11l3.83 -3.55l3.94 2.14l2.74 2.98M126.06 25.88l.87 -4.07M125.61 40.14l2.13 3.52M117.4 37.51l.12 2.77l.32 4.92l3.28 2.32M66.52 25.16l2.4 -3.03M171.73 5.33l3.75 -3.26l3.57 1.1l1.86 3.25M97.73 73.7l2.37 -.86l3.58 -.8M163.77 93.28l-2.94 -1.3l-3.68 -2.13M177.87 40.6l2.86 .25l1.37 -1.46M109.27 16.17l-.47 -3.62M68.73 88.34l3 .49M8.88 75.83l-3.19 -2.41" stroke="#303030" stroke-width="0.6" opacity="0.75"/>
</g>
<rect x="9" y="6" width="39" height="38.7" fill="url(#insbg)"/>
<ellipse cx="29.9" cy="14.3" rx="2.2" ry="3.1" transform="rotate(-85 29.9 14.3)" fill="#3b4fc8" filter="url(#spot)" opacity="0.85"/>
<ellipse cx="29.9" cy="14.3" rx="1.1" ry="1.8" transform="rotate(-85 29.9 14.3)" fill="#55d2f8" filter="url(#spot2)"/>
<ellipse cx="39.1" cy="20.8" rx="2.2" ry="3.1" transform="rotate(-25 39.1 20.8)" fill="#3b4fc8" filter="url(#spot)" opacity="0.85"/>
<ellipse cx="39.1" cy="20.8" rx="1.1" ry="1.8" transform="rotate(-25 39.1 20.8)" fill="#55d2f8" filter="url(#spot2)"/>
<ellipse cx="38.2" cy="32.1" rx="2.2" ry="3.1" transform="rotate(35 38.2 32.1)" fill="#3b4fc8" filter="url(#spot)" opacity="0.85"/>
<ellipse cx="38.2" cy="32.1" rx="1.1" ry="1.8" transform="rotate(35 38.2 32.1)" fill="#55d2f8" filter="url(#spot2)"/>
<ellipse cx="27.9" cy="36.9" rx="2.2" ry="3.1" transform="rotate(95 27.9 36.9)" fill="#3b4fc8" filter="url(#spot)" opacity="0.85"/>
<ellipse cx="27.9" cy="36.9" rx="1.1" ry="1.8" transform="rotate(95 27.9 36.9)" fill="#55d2f8" filter="url(#spot2)"/>
<ellipse cx="18.7" cy="30.4" rx="2.2" ry="3.1" transform="rotate(155 18.7 30.4)" fill="#3b4fc8" filter="url(#spot)" opacity="0.85"/>
<ellipse cx="18.7" cy="30.4" rx="1.1" ry="1.8" transform="rotate(155 18.7 30.4)" fill="#55d2f8" filter="url(#spot2)"/>
<ellipse cx="19.6" cy="19.1" rx="2.2" ry="3.1" transform="rotate(215 19.6 19.1)" fill="#3b4fc8" filter="url(#spot)" opacity="0.85"/>
<ellipse cx="19.6" cy="19.1" rx="1.1" ry="1.8" transform="rotate(215 19.6 19.1)" fill="#55d2f8" filter="url(#spot2)"/>
<circle cx="28.9" cy="25.6" r="7.5" fill="#26094f" opacity="0.6" filter="url(#spot)"/>
<circle cx="28.9" cy="25.6" r="5" fill="#c9c9c9"/>
<rect x="70" y="9.3" width="53" height="12.6" fill="#e8e8e8" opacity="0.85"/>
<text x="75" y="19.6" font-size="10.4" fill="#666" font-weight="bold" textLength="35" lengthAdjust="spacingAndGlyphs">SiPs100</text>
<rect x="159.5" y="9.3" width="18.2" height="13.2" fill="#e4e4e4" opacity="0.85"/>
<text x="168.6" y="20.2" font-size="13.5" fill="#222" text-anchor="middle">(a)</text>
<rect x="148.6" y="103.4" width="26" height="12.2" fill="#e2e2e2" opacity="0.8"/>
<text x="161.9" y="112" font-size="8.3" fill="#3a3a3a" text-anchor="middle" style='font-family:"Liberation Sans",sans-serif'>1 µm</text>
<rect x="153.3" y="112.6" width="17.2" height="0.9" fill="#222"/>
</g>
<text x="98.4" y="134.2" font-size="9" text-anchor="middle" fill="#222" textLength="67" lengthAdjust="spacingAndGlyphs">SEM micrograph</text>
<g id="panelB">
<clipPath id="clipT"><rect x="204.4" y="8.2" width="162.8" height="18.3"/></clipPath>
<path d="M204.4 10.08C205.59 9.9 209.23 9.11 211.53 9.02C213.82 8.93 215.95 9.59 218.16 9.55C220.37 9.5 222.8 8.93 224.79 8.75C226.78 8.58 228.68 8.27 230.09 8.49C231.51 8.71 232.17 9.06 233.28 10.08C234.38 11.1 235.71 13.26 236.72 14.59C237.74 15.92 238.63 17.6 239.38 18.04C240.13 18.48 240.57 18.26 241.23 17.24C241.9 16.22 242.65 13.7 243.36 11.94C244.06 10.17 244.86 7.43 245.48 6.63C246.1 5.84 246.54 6.06 247.07 7.16C247.6 8.27 248.09 10.92 248.66 13.26C249.24 15.61 249.85 19.36 250.52 21.22C251.18 23.08 251.98 24.18 252.64 24.4C253.3 24.62 253.74 23.74 254.5 22.55C255.25 21.35 256.13 19.01 257.15 17.24C258.17 15.47 259.36 13.22 260.6 11.94C261.83 10.65 263.03 10.04 264.58 9.55C266.12 9.06 268.33 9.02 269.88 9.02C271.43 9.02 272.67 8.75 273.86 9.55C275.05 10.34 275.81 12.64 277 13.79C278.19 14.94 279.65 15.74 280.98 16.45C282.31 17.15 283.63 17.86 284.96 18.04C286.28 18.21 287.61 17.51 288.94 17.51C290.26 17.51 291.72 18.21 292.92 18.04C294.11 17.86 294.99 17.33 296.1 16.45C297.2 15.56 298.31 13.93 299.55 12.73C300.78 11.54 302.33 10.17 303.53 9.28C304.72 8.4 305.74 7.65 306.71 7.43C307.68 7.21 308.34 7.21 309.36 7.96C310.38 8.71 311.66 10.39 312.81 11.94C313.96 13.48 315.15 15.69 316.26 17.24C317.36 18.79 318.47 20.47 319.44 21.22C320.41 21.97 321.21 21.97 322.09 21.75C322.98 21.53 323.86 20.78 324.75 19.89C325.63 19.01 326.51 17.33 327.4 16.45C328.28 15.56 328.95 14.9 330.05 14.59C331.16 14.28 332.79 14.81 334.03 14.59C335.27 14.37 336.37 13.84 337.48 13.26C338.58 12.69 339.6 11.94 340.66 11.14C341.72 10.34 342.87 9.24 343.84 8.49C344.82 7.74 345.7 6.81 346.5 6.63C347.29 6.45 347.82 6.68 348.62 7.43C349.41 8.18 350.39 9.64 351.27 11.14C352.15 12.64 353.04 14.85 353.92 16.45C354.81 18.04 355.6 19.54 356.58 20.69C357.55 21.84 358.79 23.03 359.76 23.34C360.73 23.65 361.53 23.34 362.41 22.55C363.3 21.75 364.27 19.89 365.06 18.57C365.86 17.24 366.84 15.25 367.2 14.59L367.2 8.2L204.4 8.2Z" fill="#c6d3ea" clip-path="url(#clipT)"/>
<path d="M278.8 4.8V26.5M291.2 4.8V26.5M318.4 4.8V26.5M333 4.8V26.5M353.5 4.8V26.5M359.8 4.8V26.5" stroke="#d8d8d8" stroke-width="0.5" fill="none"/>
<path d="M204.4 10.08C205.59 9.9 209.23 9.11 211.53 9.02C213.82 8.93 215.95 9.59 218.16 9.55C220.37 9.5 222.8 8.93 224.79 8.75C226.78 8.58 228.68 8.27 230.09 8.49C231.51 8.71 232.17 9.06 233.28 10.08C234.38 11.1 235.71 13.26 236.72 14.59C237.74 15.92 238.63 17.6 239.38 18.04C240.13 18.48 240.57 18.26 241.23 17.24C241.9 16.22 242.65 13.7 243.36 11.94C244.06 10.17 244.86 7.43 245.48 6.63C246.1 5.84 246.54 6.06 247.07 7.16C247.6 8.27 248.09 10.92 248.66 13.26C249.24 15.61 249.85 19.36 250.52 21.22C251.18 23.08 251.98 24.18 252.64 24.4C253.3 24.62 253.74 23.74 254.5 22.55C255.25 21.35 256.13 19.01 257.15 17.24C258.17 15.47 259.36 13.22 260.6 11.94C261.83 10.65 263.03 10.04 264.58 9.55C266.12 9.06 268.33 9.02 269.88 9.02C271.43 9.02 272.67 8.75 273.86 9.55C275.05 10.34 275.81 12.64 277 13.79C278.19 14.94 279.65 15.74 280.98 16.45C282.31 17.15 283.63 17.86 284.96 18.04C286.28 18.21 287.61 17.51 288.94 17.51C290.26 17.51 291.72 18.21 292.92 18.04C294.11 17.86 294.99 17.33 296.1 16.45C297.2 15.56 298.31 13.93 299.55 12.73C300.78 11.54 302.33 10.17 303.53 9.28C304.72 8.4 305.74 7.65 306.71 7.43C307.68 7.21 308.34 7.21 309.36 7.96C310.38 8.71 311.66 10.39 312.81 11.94C313.96 13.48 315.15 15.69 316.26 17.24C317.36 18.79 318.47 20.47 319.44 21.22C320.41 21.97 321.21 21.97 322.09 21.75C322.98 21.53 323.86 20.78 324.75 19.89C325.63 19.01 326.51 17.33 327.4 16.45C328.28 15.56 328.95 14.9 330.05 14.59C331.16 14.28 332.79 14.81 334.03 14.59C335.27 14.37 336.37 13.84 337.48 13.26C338.58 12.69 339.6 11.94 340.66 11.14C341.72 10.34 342.87 9.24 343.84 8.49C344.82 7.74 345.7 6.81 346.5 6.63C347.29 6.45 347.82 6.68 348.62 7.43C349.41 8.18 350.39 9.64 351.27 11.14C352.15 12.64 353.04 14.85 353.92 16.45C354.81 18.04 355.6 19.54 356.58 20.69C357.55 21.84 358.79 23.03 359.76 23.34C360.73 23.65 361.53 23.34 362.41 22.55C363.3 21.75 364.27 19.89 365.06 18.57C365.86 17.24 366.84 15.25 367.2 14.59" fill="none" stroke="#111" stroke-width="0.9"/>
<rect x="204.4" y="4.8" width="162.80" height="21.70" fill="none" stroke="#111" stroke-width="0.9"/>
<text x="200.2" y="5.6" font-size="3.8" text-anchor="middle" fill="#333">0.04</text>
<text x="189.6" y="13.4" font-size="7.2" fill="#444">Δ<tspan font-size="4" dy="1.3">0.4,20</tspan></text>
<text x="206.8" y="23.4" font-size="8" fill="#555">|Δ<tspan font-size="4.6" dy="1.5">RMS</tspan><tspan dy="-1.5"> | = 0.167</tspan></text>
<text x="356" y="20" font-size="14.5" fill="#111" text-anchor="middle">(b)</text>
<path d="M278.8 29.2V121.5M291.2 29.2V121.5M318.4 29.2V121.5M333 29.2V121.5M353.5 29.2V121.5M359.8 29.2V121.5M204.4 33.5H367.2M204.4 50.52H367.2M204.4 67.54H367.2M204.4 84.56H367.2M204.4 101.58H367.2M204.4 118.6H367.2" stroke="#dcdcdc" stroke-width="0.5" fill="none"/>
<path d="M204.4 119.75C207.64 119.59 219.83 119.07 223.87 118.79C227.91 118.52 227.25 118.79 228.64 118.08C230.03 117.36 231.03 116.89 232.22 114.5C233.41 112.11 234.81 107.94 235.8 103.76C236.79 99.58 237.31 95.8 238.19 89.44C239.06 83.07 240.06 73.53 241.05 65.57C242.04 57.62 243.24 47.08 244.15 41.71C245.07 36.34 245.74 34.63 246.54 33.35C247.33 32.08 248.13 31.88 248.93 34.07C249.72 36.26 250.52 41.63 251.31 46.48C252.11 51.33 252.9 57.42 253.7 63.19C254.49 68.95 255.29 75.52 256.09 81.09C256.88 86.65 257.68 92.22 258.47 96.6C259.27 100.97 260.06 104.63 260.86 107.34C261.65 110.04 262.45 112.03 263.25 112.83C264.04 113.62 264.84 113.23 265.63 112.11C266.43 111 267.22 109.13 268.02 106.15C268.81 103.16 269.61 98.59 270.41 94.21C271.2 89.84 272 84.07 272.79 79.89C273.59 75.72 274.26 72.33 275.18 69.15C276.09 65.97 277.48 62.59 278.28 60.8C279.09 59.01 279.32 59.29 280 58.41C280.68 57.54 281.59 55.95 282.39 55.55C283.18 55.15 283.98 55.15 284.77 56.03C285.57 56.9 286.36 58.41 287.16 60.8C287.96 63.19 288.75 66.96 289.55 70.35C290.34 73.73 291.14 77.51 291.93 81.09C292.73 84.67 293.44 88.44 294.32 91.83C295.19 95.21 296.19 98.79 297.18 101.37C298.18 103.96 299.37 106.15 300.29 107.34C301.2 108.53 301.88 108.93 302.67 108.53C303.47 108.13 304.26 107.34 305.06 104.95C305.86 102.57 306.65 98.19 307.45 94.21C308.24 90.23 309.04 85.46 309.83 81.09C310.63 76.71 311.42 71.74 312.22 67.96C313.02 64.18 313.81 61 314.61 58.41C315.4 55.83 316.2 53.84 316.99 52.45C317.79 51.05 318.7 50.06 319.38 50.06C320.06 50.06 320.45 51.05 321.05 52.45C321.65 53.84 322.24 56.42 322.96 58.41C323.68 60.4 324.55 62.39 325.35 64.38C326.14 66.37 326.94 68.16 327.73 70.35C328.53 72.53 329.32 75.12 330.12 77.51C330.91 79.89 331.63 82.28 332.51 84.67C333.38 87.05 334.38 89.64 335.37 91.83C336.36 94.01 337.56 96.52 338.47 97.79C339.39 99.07 340.06 99.66 340.86 99.46C341.65 99.26 342.45 98.27 343.25 96.6C344.04 94.93 344.84 92.02 345.63 89.44C346.43 86.85 347.22 84.07 348.02 81.09C348.81 78.1 349.61 74.52 350.41 71.54C351.2 68.56 352 65.77 352.79 63.19C353.59 60.6 354.38 57.94 355.18 56.03C355.97 54.12 356.89 52.61 357.57 51.73C358.24 50.86 358.64 50.46 359.24 50.78C359.83 51.09 360.43 51.97 361.15 53.64C361.86 55.31 362.52 58.02 363.53 60.8C364.54 63.58 366.59 68.75 367.2 70.35L367.2 119.5L204.4 119.5Z" fill="#bdbdbd"/>
<path d="M204.4 119.75C205.85 119.67 211.27 119.55 213.13 119.27C214.98 118.99 214.52 118.24 215.51 118.08C216.51 117.92 217.3 118.28 219.09 118.32C220.88 118.36 224.07 118.44 226.25 118.32C228.44 118.2 230.63 118.24 232.22 117.6C233.81 116.96 234.81 116.41 235.8 114.5C236.79 112.59 237.39 111.12 238.19 106.15C238.98 101.17 239.78 93.42 240.57 84.67C241.37 75.91 242.16 61.79 242.96 53.64C243.75 45.49 244.71 39 245.35 35.74C245.98 32.48 246.26 33.87 246.78 34.07C247.3 34.27 247.81 34.07 248.45 36.93C249.09 39.8 249.84 45.29 250.6 51.25C251.35 57.22 252.19 65.57 252.98 72.73C253.78 79.89 254.46 88.44 255.37 94.21C256.28 99.98 257.44 104.36 258.47 107.34C259.51 110.32 260.66 111.04 261.58 112.11C262.49 113.19 263.09 113.78 263.96 113.78C264.84 113.78 265.87 113.58 266.83 112.11C267.78 110.64 268.7 107.94 269.69 104.95C270.68 101.97 271.76 97.59 272.79 94.21C273.83 90.83 274.9 87.05 275.89 84.67C276.89 82.28 278.07 81.17 278.76 79.89C279.44 78.62 279.2 77.82 280 77.03C280.8 76.23 282.59 75.56 283.58 75.12C284.57 74.68 285.17 74.2 285.97 74.4C286.76 74.6 287.56 74.8 288.35 76.31C289.15 77.82 289.94 80.89 290.74 83.47C291.54 86.06 292.21 89.04 293.13 91.83C294.04 94.61 295.23 97.87 296.23 100.18C297.22 102.49 298.14 104.4 299.09 105.67C300.05 106.94 301.16 107.54 301.96 107.82C302.75 108.09 303.15 108.41 303.87 107.34C304.58 106.26 305.46 103.76 306.25 101.37C307.05 98.99 307.84 95.8 308.64 93.02C309.44 90.23 310.23 87.05 311.03 84.67C311.82 82.28 312.62 80.09 313.41 78.7C314.21 77.31 315 76.43 315.8 76.31C316.6 76.19 317.39 77.19 318.19 77.98C318.98 78.78 319.58 80.17 320.57 81.09C321.57 82 322.96 82.28 324.15 83.47C325.35 84.67 326.54 86.65 327.73 88.25C328.93 89.84 330.12 91.43 331.31 93.02C332.51 94.61 333.7 96.48 334.89 97.79C336.09 99.11 337.48 100.3 338.47 100.89C339.47 101.49 340.06 101.61 340.86 101.37C341.65 101.13 342.45 100.46 343.25 99.46C344.04 98.47 344.84 96.88 345.63 95.41C346.43 93.93 347.1 92.42 348.02 90.63C348.93 88.84 350.13 86.26 351.12 84.67C352.12 83.07 353.11 81.88 353.99 81.09C354.86 80.29 355.58 79.89 356.37 79.89C357.17 79.89 357.88 80.29 358.76 81.09C359.63 81.88 360.63 83.47 361.62 84.67C362.62 85.86 363.8 87.17 364.73 88.25C365.66 89.32 366.79 90.63 367.2 91.11L367.2 119.5L204.4 119.5Z" fill="#5b78ad"/>
<path d="M204.4 119.75C205.85 119.67 211.27 119.55 213.13 119.27C214.98 118.99 214.52 118.24 215.51 118.08C216.51 117.92 217.3 118.28 219.09 118.32C220.88 118.36 224.07 118.44 226.25 118.32C228.44 118.2 230.63 118.24 232.22 117.6C233.81 116.96 234.81 116.41 235.8 114.5C236.79 112.59 237.39 111.12 238.19 106.15C238.98 101.17 239.78 93.42 240.57 84.67C241.37 75.91 242.16 61.79 242.96 53.64C243.75 45.49 244.71 39 245.35 35.74C245.98 32.48 246.26 33.87 246.78 34.07C247.3 34.27 247.81 34.07 248.45 36.93C249.09 39.8 249.84 45.29 250.6 51.25C251.35 57.22 252.19 65.57 252.98 72.73C253.78 79.89 254.46 88.44 255.37 94.21C256.28 99.98 257.44 104.36 258.47 107.34C259.51 110.32 260.66 111.04 261.58 112.11C262.49 113.19 263.09 113.78 263.96 113.78C264.84 113.78 265.87 113.58 266.83 112.11C267.78 110.64 268.7 107.94 269.69 104.95C270.68 101.97 271.76 97.59 272.79 94.21C273.83 90.83 274.9 87.05 275.89 84.67C276.89 82.28 278.07 81.17 278.76 79.89C279.44 78.62 279.2 77.82 280 77.03C280.8 76.23 282.59 75.56 283.58 75.12C284.57 74.68 285.17 74.2 285.97 74.4C286.76 74.6 287.56 74.8 288.35 76.31C289.15 77.82 289.94 80.89 290.74 83.47C291.54 86.06 292.21 89.04 293.13 91.83C294.04 94.61 295.23 97.87 296.23 100.18C297.22 102.49 298.14 104.4 299.09 105.67C300.05 106.94 301.16 107.54 301.96 107.82C302.75 108.09 303.15 108.41 303.87 107.34C304.58 106.26 305.46 103.76 306.25 101.37C307.05 98.99 307.84 95.8 308.64 93.02C309.44 90.23 310.23 87.05 311.03 84.67C311.82 82.28 312.62 80.09 313.41 78.7C314.21 77.31 315 76.43 315.8 76.31C316.6 76.19 317.39 77.19 318.19 77.98C318.98 78.78 319.58 80.17 320.57 81.09C321.57 82 322.96 82.28 324.15 83.47C325.35 84.67 326.54 86.65 327.73 88.25C328.93 89.84 330.12 91.43 331.31 93.02C332.51 94.61 333.7 96.48 334.89 97.79C336.09 99.11 337.48 100.3 338.47 100.89C339.47 101.49 340.06 101.61 340.86 101.37C341.65 101.13 342.45 100.46 343.25 99.46C344.04 98.47 344.84 96.88 345.63 95.41C346.43 93.93 347.1 92.42 348.02 90.63C348.93 88.84 350.13 86.26 351.12 84.67C352.12 83.07 353.11 81.88 353.99 81.09C354.86 80.29 355.58 79.89 356.37 79.89C357.17 79.89 357.88 80.29 358.76 81.09C359.63 81.88 360.63 83.47 361.62 84.67C362.62 85.86 363.8 87.17 364.73 88.25C365.66 89.32 366.79 90.63 367.2 91.11" fill="none" stroke="#111" stroke-width="1.2" stroke-linejoin="round"/>
<rect x="204.4" y="29.2" width="162.80" height="92.30" fill="none" stroke="#111" stroke-width="1.0"/>
<path d="M205 121.5v-1.3M208.15 121.5v-1.3M211.3 121.5v-1.3M214.45 121.5v-1.3M217.6 121.5v-1.3M220.75 121.5v-1.3M223.9 121.5v-1.3M227.05 121.5v-1.3M230.2 121.5v-1.3M233.35 121.5v-1.3M236.5 121.5v-1.3M239.65 121.5v-1.3M242.8 121.5v-1.3M245.95 121.5v-1.3M249.1 121.5v-1.3M252.25 121.5v-1.3M255.4 121.5v-1.3M258.55 121.5v-1.3M261.7 121.5v-1.3M264.85 121.5v-1.3M268 121.5v-1.3M271.15 121.5v-1.3M274.3 121.5v-1.3M277.45 121.5v-1.3M280.6 121.5v-1.3M283.75 121.5v-1.3M286.9 121.5v-1.3M290.05 121.5v-1.3M293.2 121.5v-1.3M296.35 121.5v-1.3M299.5 121.5v-1.3M302.65 121.5v-1.3M305.8 121.5v-1.3M308.95 121.5v-1.3M312.1 121.5v-1.3M315.25 121.5v-1.3M318.4 121.5v-1.3M321.55 121.5v-1.3M324.7 121.5v-1.3M327.85 121.5v-1.3M331 121.5v-1.3M334.15 121.5v-1.3M337.3 121.5v-1.3M340.45 121.5v-1.3M343.6 121.5v-1.3M346.75 121.5v-1.3M349.9 121.5v-1.3M353.05 121.5v-1.3M356.2 121.5v-1.3M359.35 121.5v-1.3M362.5 121.5v-1.3M365.65 121.5v-1.3" stroke="#222" stroke-width="0.4" fill="none"/>
<path d="M205 29.2v1.3M208.15 29.2v1.3M211.3 29.2v1.3M214.45 29.2v1.3M217.6 29.2v1.3M220.75 29.2v1.3M223.9 29.2v1.3M227.05 29.2v1.3M230.2 29.2v1.3M233.35 29.2v1.3M236.5 29.2v1.3M239.65 29.2v1.3M242.8 29.2v1.3M245.95 29.2v1.3M249.1 29.2v1.3M252.25 29.2v1.3M255.4 29.2v1.3M258.55 29.2v1.3M261.7 29.2v1.3M264.85 29.2v1.3M268 29.2v1.3M271.15 29.2v1.3M274.3 29.2v1.3M277.45 29.2v1.3M280.6 29.2v1.3M283.75 29.2v1.3M286.9 29.2v1.3M290.05 29.2v1.3M293.2 29.2v1.3M296.35 29.2v1.3M299.5 29.2v1.3M302.65 29.2v1.3M305.8 29.2v1.3M308.95 29.2v1.3M312.1 29.2v1.3M315.25 29.2v1.3M318.4 29.2v1.3M321.55 29.2v1.3M324.7 29.2v1.3M327.85 29.2v1.3M331 29.2v1.3M334.15 29.2v1.3M337.3 29.2v1.3M340.45 29.2v1.3M343.6 29.2v1.3M346.75 29.2v1.3M349.9 29.2v1.3M353.05 29.2v1.3M356.2 29.2v1.3M359.35 29.2v1.3M362.5 29.2v1.3M365.65 29.2v1.3" stroke="#222" stroke-width="0.4" fill="none"/>
<path d="M205 121.5v-2.4M236.5 121.5v-2.4M268 121.5v-2.4M299.5 121.5v-2.4M331 121.5v-2.4M362.5 121.5v-2.4" stroke="#222" stroke-width="0.5" fill="none"/>
<path d="M205 29.2v2.4M236.5 29.2v2.4M268 29.2v2.4M299.5 29.2v2.4M331 29.2v2.4M362.5 29.2v2.4" stroke="#222" stroke-width="0.5" fill="none"/>
<path d="M204.4 33.5h2.2M204.4 50.52h2.2M204.4 67.54h2.2M204.4 84.56h2.2M204.4 101.58h2.2M204.4 118.6h2.2" stroke="#222" stroke-width="0.5" fill="none"/>
<path d="M367.2 33.5h-2.2M367.2 50.52h-2.2M367.2 67.54h-2.2M367.2 84.56h-2.2M367.2 101.58h-2.2M367.2 118.6h-2.2" stroke="#222" stroke-width="0.5" fill="none"/>
<path d="M204.4 33.5h1.2M204.4 37.76h1.2M204.4 42.01h1.2M204.4 46.27h1.2M204.4 50.52h1.2M204.4 54.77h1.2M204.4 59.03h1.2M204.4 63.28h1.2M204.4 67.54h1.2M204.4 71.8h1.2M204.4 76.05h1.2M204.4 80.31h1.2M204.4 84.56h1.2M204.4 88.81h1.2M204.4 93.07h1.2M204.4 97.32h1.2M204.4 101.58h1.2M204.4 105.83h1.2M204.4 110.09h1.2M204.4 114.34h1.2M204.4 118.6h1.2" stroke="#222" stroke-width="0.4" fill="none"/>
<path d="M367.2 33.5h-1.2M367.2 37.76h-1.2M367.2 42.01h-1.2M367.2 46.27h-1.2M367.2 50.52h-1.2M367.2 54.77h-1.2M367.2 59.03h-1.2M367.2 63.28h-1.2M367.2 67.54h-1.2M367.2 71.8h-1.2M367.2 76.05h-1.2M367.2 80.31h-1.2M367.2 84.56h-1.2M367.2 88.81h-1.2M367.2 93.07h-1.2M367.2 97.32h-1.2M367.2 101.58h-1.2M367.2 105.83h-1.2M367.2 110.09h-1.2M367.2 114.34h-1.2M367.2 118.6h-1.2" stroke="#222" stroke-width="0.4" fill="none"/>
<text x="205.0" y="127.7" font-size="5.9" text-anchor="middle" fill="#222">0</text>
<text x="237.5" y="127.7" font-size="5.9" text-anchor="middle" fill="#222">100</text>
<text x="269.0" y="127.7" font-size="5.9" text-anchor="middle" fill="#222">200</text>
<text x="300.0" y="127.7" font-size="5.9" text-anchor="middle" fill="#222">300</text>
<text x="331.5" y="127.7" font-size="5.9" text-anchor="middle" fill="#222">400</text>
<text x="362.0" y="127.7" font-size="5.9" text-anchor="middle" fill="#222">500</text>
<text transform="translate(203.2,33.2) rotate(-90)" font-size="6.2" text-anchor="middle" fill="#222">1.0</text>
<text transform="translate(203.2,47.7) rotate(-90)" font-size="6.2" text-anchor="middle" fill="#222">0.8</text>
<text transform="translate(203.2,64.1) rotate(-90)" font-size="6.2" text-anchor="middle" fill="#222">0.6</text>
<text transform="translate(203.2,80.5) rotate(-90)" font-size="6.2" text-anchor="middle" fill="#222">0.4</text>
<text transform="translate(203.2,97.4) rotate(-90)" font-size="6.2" text-anchor="middle" fill="#222">0.2</text>
<text transform="translate(203.2,114.1) rotate(-90)" font-size="6.2" text-anchor="middle" fill="#222">0.0</text>
<text x="329" y="37.6" font-size="8" fill="#5a5a5a" text-anchor="middle" textLength="71" lengthAdjust="spacingAndGlyphs">NN g(r) = 131±1.1 nm</text>
<text x="329.5" y="47.4" font-size="8" fill="#5a5a5a" text-anchor="middle">σ=14.8</text>
<text x="290" y="134.6" font-size="9.4" fill="#111" text-anchor="middle" textLength="56" lengthAdjust="spacingAndGlyphs">Distance (nm)</text>
<text transform="translate(195.2,69.4) rotate(-90)" font-size="8.8" text-anchor="middle" fill="#222" textLength="103.3" lengthAdjust="spacingAndGlyphs">Pair Correlation &#160;g(r) Arb.u</text>
</g>
<g id="panelD">
<rect x="207.70" y="149.62" width="22.3" height="107.38" fill="#2b308e" stroke="#222" stroke-width="0.5"/>
<text x="216.3" y="148.2" font-size="8.2" text-anchor="middle" fill="#222">39.8%</text>
<rect x="230.00" y="172.82" width="22.3" height="84.18" fill="#1b75bb" stroke="#222" stroke-width="0.5"/>
<text x="242.8" y="171.4" font-size="8.2" text-anchor="middle" fill="#222">31.2%</text>
<rect x="252.30" y="212.75" width="22.3" height="44.25" fill="#29a9e0" stroke="#222" stroke-width="0.5"/>
<text x="263.9" y="211.4" font-size="8.2" text-anchor="middle" fill="#222">16.4%</text>
<rect x="274.60" y="238.65" width="22.3" height="18.35" fill="#62b35a" stroke="#222" stroke-width="0.5"/>
<text x="285.8" y="237.3" font-size="8.2" text-anchor="middle" fill="#222">6.8%</text>
<rect x="296.90" y="250.25" width="22.3" height="6.75" fill="#f9d21c" stroke="#222" stroke-width="0.5"/>
<text x="308.0" y="248.9" font-size="8.2" text-anchor="middle" fill="#222">2.5%</text>
<rect x="319.20" y="253.22" width="22.3" height="3.78" fill="#f0792b" stroke="#222" stroke-width="0.5"/>
<text x="330.3" y="251.8" font-size="8.2" text-anchor="middle" fill="#222">1.4%</text>
<rect x="341.50" y="251.60" width="22.3" height="5.40" fill="#d2232a" stroke="#222" stroke-width="0.5"/>
<text x="352.6" y="250.2" font-size="8.2" text-anchor="middle" fill="#222">2.0%</text>
<rect x="205.2" y="139.0" width="162.00" height="118.00" fill="none" stroke="#111" stroke-width="1.0"/>
<path d="M207.7 257v-2.2M230 257v-2.2M252.3 257v-2.2M274.6 257v-2.2M296.9 257v-2.2M319.2 257v-2.2M341.5 257v-2.2M363.8 257v-2.2" stroke="#222" stroke-width="0.5" fill="none"/>
<path d="M207.7 139v2.2M230 139v2.2M252.3 139v2.2M274.6 139v2.2M296.9 139v2.2M319.2 139v2.2M341.5 139v2.2M363.8 139v2.2" stroke="#222" stroke-width="0.5" fill="none"/>
<path d="M207.7 257v-1.1M212.16 257v-1.1M216.62 257v-1.1M221.08 257v-1.1M225.54 257v-1.1M230 257v-1.1M234.46 257v-1.1M238.92 257v-1.1M243.38 257v-1.1M247.84 257v-1.1M252.3 257v-1.1M256.76 257v-1.1M261.22 257v-1.1M265.68 257v-1.1M270.14 257v-1.1M274.6 257v-1.1M279.06 257v-1.1M283.52 257v-1.1M287.98 257v-1.1M292.44 257v-1.1M296.9 257v-1.1M301.36 257v-1.1M305.82 257v-1.1M310.28 257v-1.1M314.74 257v-1.1M319.2 257v-1.1M323.66 257v-1.1M328.12 257v-1.1M332.58 257v-1.1M337.04 257v-1.1M341.5 257v-1.1M345.96 257v-1.1M350.42 257v-1.1M354.88 257v-1.1M359.34 257v-1.1M363.8 257v-1.1" stroke="#222" stroke-width="0.35" fill="none"/>
<path d="M207.7 139v1.1M212.16 139v1.1M216.62 139v1.1M221.08 139v1.1M225.54 139v1.1M230 139v1.1M234.46 139v1.1M238.92 139v1.1M243.38 139v1.1M247.84 139v1.1M252.3 139v1.1M256.76 139v1.1M261.22 139v1.1M265.68 139v1.1M270.14 139v1.1M274.6 139v1.1M279.06 139v1.1M283.52 139v1.1M287.98 139v1.1M292.44 139v1.1M296.9 139v1.1M301.36 139v1.1M305.82 139v1.1M310.28 139v1.1M314.74 139v1.1M319.2 139v1.1M323.66 139v1.1M328.12 139v1.1M332.58 139v1.1M337.04 139v1.1M341.5 139v1.1M345.96 139v1.1M350.42 139v1.1M354.88 139v1.1M359.34 139v1.1M363.8 139v1.1" stroke="#222" stroke-width="0.35" fill="none"/>
<path d="M205.2 257h2.2M205.2 230.02h2.2M205.2 203.04h2.2M205.2 176.06h2.2M205.2 149.08h2.2" stroke="#222" stroke-width="0.5" fill="none"/>
<path d="M367.2 257h-2.2M367.2 230.02h-2.2M367.2 203.04h-2.2M367.2 176.06h-2.2M367.2 149.08h-2.2" stroke="#222" stroke-width="0.5" fill="none"/>
<path d="M205.2 257h1.1M205.2 251.6h1.1M205.2 246.21h1.1M205.2 240.81h1.1M205.2 235.42h1.1M205.2 230.02h1.1M205.2 224.62h1.1M205.2 219.23h1.1M205.2 213.83h1.1M205.2 208.44h1.1M205.2 203.04h1.1M205.2 197.64h1.1M205.2 192.25h1.1M205.2 186.85h1.1M205.2 181.46h1.1M205.2 176.06h1.1M205.2 170.66h1.1M205.2 165.27h1.1M205.2 159.87h1.1M205.2 154.48h1.1M205.2 149.08h1.1M205.2 143.68h1.1" stroke="#222" stroke-width="0.35" fill="none"/>
<path d="M367.2 257h-1.1M367.2 251.6h-1.1M367.2 246.21h-1.1M367.2 240.81h-1.1M367.2 235.42h-1.1M367.2 230.02h-1.1M367.2 224.62h-1.1M367.2 219.23h-1.1M367.2 213.83h-1.1M367.2 208.44h-1.1M367.2 203.04h-1.1M367.2 197.64h-1.1M367.2 192.25h-1.1M367.2 186.85h-1.1M367.2 181.46h-1.1M367.2 176.06h-1.1M367.2 170.66h-1.1M367.2 165.27h-1.1M367.2 159.87h-1.1M367.2 154.48h-1.1M367.2 149.08h-1.1M367.2 143.68h-1.1" stroke="#222" stroke-width="0.35" fill="none"/>
<text x="207.7" y="262.9" font-size="6" text-anchor="middle" fill="#222">0</text>
<text x="230.0" y="262.9" font-size="6" text-anchor="middle" fill="#222">5</text>
<text x="252.3" y="262.9" font-size="6" text-anchor="middle" fill="#222">10</text>
<text x="274.6" y="262.9" font-size="6" text-anchor="middle" fill="#222">15</text>
<text x="296.9" y="262.9" font-size="6" text-anchor="middle" fill="#222">20</text>
<text x="319.2" y="262.9" font-size="6" text-anchor="middle" fill="#222">25</text>
<text x="341.5" y="262.9" font-size="6" text-anchor="middle" fill="#222">30</text>
<text x="362.3" y="262.9" font-size="6" text-anchor="middle" fill="#222">35</text>
<text transform="translate(204.1,256.5) rotate(-90)" font-size="6.2" text-anchor="middle" fill="#222">0.0</text>
<text transform="translate(204.1,230.3) rotate(-90)" font-size="6.2" text-anchor="middle" fill="#222">0.1</text>
<text transform="translate(204.1,203.3) rotate(-90)" font-size="6.2" text-anchor="middle" fill="#222">0.2</text>
<text transform="translate(204.1,176.4) rotate(-90)" font-size="6.2" text-anchor="middle" fill="#222">0.3</text>
<text transform="translate(204.1,149.4) rotate(-90)" font-size="6.2" text-anchor="middle" fill="#222">0.4</text>
<text x="283" y="148.4" font-size="8.5" fill="#222" text-anchor="middle" textLength="74" lengthAdjust="spacingAndGlyphs">Total Particles: 5074.</text>
<text x="355" y="153.6" font-size="14.5" fill="#111" text-anchor="middle">(d)</text>
<text x="287" y="271.2" font-size="9.2" fill="#111" text-anchor="middle" textLength="152.5" lengthAdjust="spacingAndGlyphs">Voronoi deviation from hexagonal (%)</text>
<text transform="translate(194.6,191.5) rotate(-90)" font-size="8.8" text-anchor="middle" fill="#222" textLength="49" lengthAdjust="spacingAndGlyphs">Probability</text>
</g>
<g id="panelF"><defs>
<linearGradient id="fg0" x1="0" x2="1" y1="0" y2="0"><stop offset="0" stop-color="#b48ac6"/><stop offset="1" stop-color="#c3a3d3"/></linearGradient>
<linearGradient id="fg1" x1="0" x2="1" y1="0" y2="0"><stop offset="0" stop-color="#b892c9"/><stop offset="1" stop-color="#cdb2da"/></linearGradient>
<linearGradient id="fg2" x1="0" x2="1" y1="0" y2="0"><stop offset="0" stop-color="#c4a3d4"/><stop offset="1" stop-color="#d4bde1"/></linearGradient>
<linearGradient id="fg3" x1="0" x2="1" y1="0" y2="0"><stop offset="0" stop-color="#d2badf"/><stop offset="1" stop-color="#e0cfe9"/></linearGradient>
<linearGradient id="fg4" x1="0" x2="1" y1="0" y2="0"><stop offset="0" stop-color="#e0cfea"/><stop offset="1" stop-color="#ebdff1"/></linearGradient>
<linearGradient id="fg5" x1="0" x2="1" y1="0" y2="0"><stop offset="0" stop-color="#f1e6f4"/><stop offset="1" stop-color="#faf4fb"/></linearGradient>
<linearGradient id="fg6" x1="0" x2="1" y1="0" y2="0"><stop offset="0" stop-color="#fff"/><stop offset="1" stop-color="#fff"/></linearGradient>
</defs>
<rect x="208.20" y="392.0" width="22.1" height="2.00" fill="url(#fg0)" stroke="#333" stroke-width="0.5"/>
<text x="218.2" y="390.2" font-size="8" text-anchor="middle" fill="#222">1.2%</text>
<rect x="230.30" y="385.0" width="22.1" height="9.00" fill="url(#fg1)" stroke="#333" stroke-width="0.5"/>
<text x="241.3" y="383.2" font-size="8" text-anchor="middle" fill="#222">4.9%</text>
<rect x="252.40" y="374.6" width="22.1" height="19.40" fill="url(#fg2)" stroke="#333" stroke-width="0.5"/>
<text x="263.4" y="372.8" font-size="8" text-anchor="middle" fill="#222">10.3%</text>
<rect x="274.50" y="361.7" width="22.1" height="32.30" fill="url(#fg3)" stroke="#333" stroke-width="0.5"/>
<text x="285.6" y="359.9" font-size="8" text-anchor="middle" fill="#222">12.0%</text>
<rect x="296.60" y="337.0" width="22.1" height="57.00" fill="url(#fg4)" stroke="#333" stroke-width="0.5"/>
<text x="307.7" y="335.2" font-size="8" text-anchor="middle" fill="#222">29.9%</text>
<rect x="318.70" y="324.3" width="22.1" height="69.70" fill="url(#fg5)" stroke="#333" stroke-width="0.5"/>
<text x="329.8" y="322.5" font-size="8" text-anchor="middle" fill="#222">36.5%</text>
<rect x="340.80" y="393.4" width="22.1" height="0.60" fill="url(#fg6)" stroke="#333" stroke-width="0.5"/>
<text x="351.9" y="391.6" font-size="8" text-anchor="middle" fill="#222">0.3%</text>
<rect x="204.9" y="277.3" width="162.30" height="116.70" fill="none" stroke="#111" stroke-width="1.0"/>
<path d="M208.2 394v-2.2M230.3 394v-2.2M252.4 394v-2.2M274.5 394v-2.2M296.6 394v-2.2M318.7 394v-2.2M340.8 394v-2.2M362.9 394v-2.2" stroke="#222" stroke-width="0.5" fill="none"/>
<path d="M208.2 277.3v2.2M230.3 277.3v2.2M252.4 277.3v2.2M274.5 277.3v2.2M296.6 277.3v2.2M318.7 277.3v2.2M340.8 277.3v2.2M362.9 277.3v2.2" stroke="#222" stroke-width="0.5" fill="none"/>
<path d="M208.2 394v-1.1M212.62 394v-1.1M217.04 394v-1.1M221.46 394v-1.1M225.88 394v-1.1M230.3 394v-1.1M234.72 394v-1.1M239.14 394v-1.1M243.56 394v-1.1M247.98 394v-1.1M252.4 394v-1.1M256.82 394v-1.1M261.24 394v-1.1M265.66 394v-1.1M270.08 394v-1.1M274.5 394v-1.1M278.92 394v-1.1M283.34 394v-1.1M287.76 394v-1.1M292.18 394v-1.1M296.6 394v-1.1M301.02 394v-1.1M305.44 394v-1.1M309.86 394v-1.1M314.28 394v-1.1M318.7 394v-1.1M323.12 394v-1.1M327.54 394v-1.1M331.96 394v-1.1M336.38 394v-1.1M340.8 394v-1.1M345.22 394v-1.1M349.64 394v-1.1M354.06 394v-1.1M358.48 394v-1.1M362.9 394v-1.1" stroke="#222" stroke-width="0.35" fill="none"/>
<path d="M208.2 277.3v1.1M212.62 277.3v1.1M217.04 277.3v1.1M221.46 277.3v1.1M225.88 277.3v1.1M230.3 277.3v1.1M234.72 277.3v1.1M239.14 277.3v1.1M243.56 277.3v1.1M247.98 277.3v1.1M252.4 277.3v1.1M256.82 277.3v1.1M261.24 277.3v1.1M265.66 277.3v1.1M270.08 277.3v1.1M274.5 277.3v1.1M278.92 277.3v1.1M283.34 277.3v1.1M287.76 277.3v1.1M292.18 277.3v1.1M296.6 277.3v1.1M301.02 277.3v1.1M305.44 277.3v1.1M309.86 277.3v1.1M314.28 277.3v1.1M318.7 277.3v1.1M323.12 277.3v1.1M327.54 277.3v1.1M331.96 277.3v1.1M336.38 277.3v1.1M340.8 277.3v1.1M345.22 277.3v1.1M349.64 277.3v1.1M354.06 277.3v1.1M358.48 277.3v1.1M362.9 277.3v1.1" stroke="#222" stroke-width="0.35" fill="none"/>
<path d="M204.9 394h2.2M204.9 374.9h2.2M204.9 355.8h2.2M204.9 336.7h2.2M204.9 317.6h2.2M204.9 298.5h2.2M204.9 279.4h2.2" stroke="#222" stroke-width="0.5" fill="none"/>
<path d="M367.2 394h-2.2M367.2 374.9h-2.2M367.2 355.8h-2.2M367.2 336.7h-2.2M367.2 317.6h-2.2M367.2 298.5h-2.2M367.2 279.4h-2.2" stroke="#222" stroke-width="0.5" fill="none"/>
<path d="M204.9 394h1.1M204.9 390.18h1.1M204.9 386.36h1.1M204.9 382.54h1.1M204.9 378.72h1.1M204.9 374.9h1.1M204.9 371.08h1.1M204.9 367.26h1.1M204.9 363.44h1.1M204.9 359.62h1.1M204.9 355.8h1.1M204.9 351.98h1.1M204.9 348.16h1.1M204.9 344.34h1.1M204.9 340.52h1.1M204.9 336.7h1.1M204.9 332.88h1.1M204.9 329.06h1.1M204.9 325.24h1.1M204.9 321.42h1.1M204.9 317.6h1.1M204.9 313.78h1.1M204.9 309.96h1.1M204.9 306.14h1.1M204.9 302.32h1.1M204.9 298.5h1.1M204.9 294.68h1.1M204.9 290.86h1.1M204.9 287.04h1.1M204.9 283.22h1.1M204.9 279.4h1.1" stroke="#222" stroke-width="0.35" fill="none"/>
<path d="M367.2 394h-1.1M367.2 390.18h-1.1M367.2 386.36h-1.1M367.2 382.54h-1.1M367.2 378.72h-1.1M367.2 374.9h-1.1M367.2 371.08h-1.1M367.2 367.26h-1.1M367.2 363.44h-1.1M367.2 359.62h-1.1M367.2 355.8h-1.1M367.2 351.98h-1.1M367.2 348.16h-1.1M367.2 344.34h-1.1M367.2 340.52h-1.1M367.2 336.7h-1.1M367.2 332.88h-1.1M367.2 329.06h-1.1M367.2 325.24h-1.1M367.2 321.42h-1.1M367.2 317.6h-1.1M367.2 313.78h-1.1M367.2 309.96h-1.1M367.2 306.14h-1.1M367.2 302.32h-1.1M367.2 298.5h-1.1M367.2 294.68h-1.1M367.2 290.86h-1.1M367.2 287.04h-1.1M367.2 283.22h-1.1M367.2 279.4h-1.1" stroke="#222" stroke-width="0.35" fill="none"/>
<text x="209.0" y="400.1" font-size="6" text-anchor="middle" fill="#222">0.4</text>
<text x="231.1" y="400.1" font-size="6" text-anchor="middle" fill="#222">0.5</text>
<text x="253.2" y="400.1" font-size="6" text-anchor="middle" fill="#222">0.6</text>
<text x="275.3" y="400.1" font-size="6" text-anchor="middle" fill="#222">0.7</text>
<text x="297.4" y="400.1" font-size="6" text-anchor="middle" fill="#222">0.8</text>
<text x="319.5" y="400.1" font-size="6" text-anchor="middle" fill="#222">0.9</text>
<text x="341.6" y="400.1" font-size="6" text-anchor="middle" fill="#222">1.0</text>
<text x="363.7" y="400.1" font-size="6" text-anchor="middle" fill="#222">1.1</text>
<text transform="translate(204.0,393.8) rotate(-90)" font-size="6.2" text-anchor="middle" fill="#222">0.0</text>
<text transform="translate(204.0,376.7) rotate(-90)" font-size="6.2" text-anchor="middle" fill="#222">0.1</text>
<text transform="translate(204.0,357.6) rotate(-90)" font-size="6.2" text-anchor="middle" fill="#222">0.2</text>
<text transform="translate(204.0,338.5) rotate(-90)" font-size="6.2" text-anchor="middle" fill="#222">0.3</text>
<text transform="translate(204.0,319.4) rotate(-90)" font-size="6.2" text-anchor="middle" fill="#222">0.4</text>
<text transform="translate(204.0,300.3) rotate(-90)" font-size="6.2" text-anchor="middle" fill="#222">0.5</text>
<text transform="translate(204.0,281.2) rotate(-90)" font-size="6.2" text-anchor="middle" fill="#222">0.6</text>
<text x="239.4" y="286.6" font-size="8" fill="#222">Mean (q/q<tspan font-size="4.5" dy="1.3">o</tspan><tspan dy="-1.3">): 0.831 ± 0.123</tspan></text>
<text x="356" y="292.4" font-size="14.5" fill="#111" text-anchor="middle">(f)</text>
<text x="284.5" y="408.2" font-size="9.2" fill="#111" text-anchor="middle" textLength="165" lengthAdjust="spacingAndGlyphs">Normalized Local Bond Order Parameter</text>
<text transform="translate(194.6,330.3) rotate(-90)" font-size="8.8" text-anchor="middle" fill="#222" textLength="48.5" lengthAdjust="spacingAndGlyphs">Probability</text>
</g>
<g id="panelH">
<rect x="207.70" y="529.60" width="26.2" height="1.00" fill="#222" stroke="#333" stroke-width="0.5"/>
<text x="220.8" y="527.8" font-size="8" text-anchor="middle" fill="#222">0.3%</text>
<rect x="233.90" y="523.64" width="26.2" height="6.96" fill="#22a147" stroke="#333" stroke-width="0.5"/>
<text x="247.0" y="521.8" font-size="8" text-anchor="middle" fill="#222">5.8%</text>
<rect x="260.10" y="423.92" width="26.2" height="106.68" fill="#c0c0c0" stroke="#333" stroke-width="0.5"/>
<text x="273.2" y="432.1" font-size="8" text-anchor="middle" fill="#222">88.9%</text>
<rect x="286.30" y="524.72" width="26.2" height="5.88" fill="#f5821f" stroke="#333" stroke-width="0.5"/>
<text x="299.4" y="522.9" font-size="8" text-anchor="middle" fill="#222">4.9%</text>
<rect x="312.50" y="529.60" width="26.2" height="1.00" fill="#333" stroke="#333" stroke-width="0.5"/>
<text x="325.6" y="527.8" font-size="8" text-anchor="middle" fill="#222">0.1%</text>
<rect x="205.0" y="413.0" width="162.20" height="117.60" fill="none" stroke="#111" stroke-width="1.0"/>
<path d="M220.8 530.6v-2.2M247 530.6v-2.2M273.2 530.6v-2.2M299.4 530.6v-2.2M325.6 530.6v-2.2M351.8 530.6v-2.2" stroke="#222" stroke-width="0.5" fill="none"/>
<path d="M220.8 413v2.2M247 413v2.2M273.2 413v2.2M299.4 413v2.2M325.6 413v2.2M351.8 413v2.2" stroke="#222" stroke-width="0.5" fill="none"/>
<path d="M205 530.6h2.2M205 506.6h2.2M205 482.6h2.2M205 458.6h2.2M205 434.6h2.2" stroke="#222" stroke-width="0.5" fill="none"/>
<path d="M367.2 530.6h-2.2M367.2 506.6h-2.2M367.2 482.6h-2.2M367.2 458.6h-2.2M367.2 434.6h-2.2" stroke="#222" stroke-width="0.5" fill="none"/>
<path d="M205 530.6h1.1M205 524.6h1.1M205 518.6h1.1M205 512.6h1.1M205 506.6h1.1M205 500.6h1.1M205 494.6h1.1M205 488.6h1.1M205 482.6h1.1M205 476.6h1.1M205 470.6h1.1M205 464.6h1.1M205 458.6h1.1M205 452.6h1.1M205 446.6h1.1M205 440.6h1.1M205 434.6h1.1M205 428.6h1.1M205 422.6h1.1M205 416.6h1.1" stroke="#222" stroke-width="0.35" fill="none"/>
<path d="M367.2 530.6h-1.1M367.2 524.6h-1.1M367.2 518.6h-1.1M367.2 512.6h-1.1M367.2 506.6h-1.1M367.2 500.6h-1.1M367.2 494.6h-1.1M367.2 488.6h-1.1M367.2 482.6h-1.1M367.2 476.6h-1.1M367.2 470.6h-1.1M367.2 464.6h-1.1M367.2 458.6h-1.1M367.2 452.6h-1.1M367.2 446.6h-1.1M367.2 440.6h-1.1M367.2 434.6h-1.1M367.2 428.6h-1.1M367.2 422.6h-1.1M367.2 416.6h-1.1" stroke="#222" stroke-width="0.35" fill="none"/>
<text x="220.8" y="537.7" font-size="6" text-anchor="middle" fill="#222">4</text>
<text x="247.0" y="537.7" font-size="6" text-anchor="middle" fill="#222">5</text>
<text x="273.2" y="537.7" font-size="6" text-anchor="middle" fill="#222">6</text>
<text x="299.4" y="537.7" font-size="6" text-anchor="middle" fill="#222">7</text>
<text x="325.6" y="537.7" font-size="6" text-anchor="middle" fill="#222">8</text>
<text x="351.8" y="537.7" font-size="6" text-anchor="middle" fill="#222">9</text>
<text transform="translate(204.1,528.4) rotate(-90)" font-size="6.2" text-anchor="middle" fill="#222">0.0</text>
<text transform="translate(204.1,504.4) rotate(-90)" font-size="6.2" text-anchor="middle" fill="#222">0.2</text>
<text transform="translate(204.1,480.4) rotate(-90)" font-size="6.2" text-anchor="middle" fill="#222">0.4</text>
<text transform="translate(204.1,456.4) rotate(-90)" font-size="6.2" text-anchor="middle" fill="#222">0.6</text>
<text transform="translate(204.1,432.4) rotate(-90)" font-size="6.2" text-anchor="middle" fill="#222">0.8</text>
<text x="284.7" y="422.3" font-size="8.2" fill="#222" text-anchor="middle" textLength="93.4" lengthAdjust="spacingAndGlyphs">Mean Tile Sides: 5.99 ± 0.35</text>
<text x="356" y="428.4" font-size="14.5" fill="#111" text-anchor="middle">(h)</text>
<text x="286.8" y="544.6" font-size="9.2" fill="#111" text-anchor="middle" textLength="109.5" lengthAdjust="spacingAndGlyphs">Local Voronoi Coordination</text>
<text transform="translate(194.6,465.7) rotate(-90)" font-size="8.8" text-anchor="middle" fill="#222" textLength="49" lengthAdjust="spacingAndGlyphs">Probability</text>
</g>
<g id="panelC">
<clipPath id="clipC"><rect x="8.4" y="140.8" width="173.4" height="113.8"/></clipPath>
<g filter="url(#soft)" clip-path="url(#clipC)">
<rect x="8.4" y="140.8" width="173.4" height="113.8" fill="#282f8e"/>
<path d="M9.3 141.4h0M11.7 142.0h0M15.6 141.7h0M17.8 141.9h0M24.2 142.0h0M28.3 141.5h0M30.9 141.8h0M35.1 141.5h0M45.8 141.8h0M52.0 141.7h0M62.3 141.7h0M69.1 141.8h0M100.6 141.5h0M102.5 141.5h0M105.1 141.8h0M107.0 141.8h0M125.9 142.0h0M132.7 141.6h0M136.6 141.8h0M156.0 141.9h0M157.9 141.7h0M162.4 141.7h0M14.8 143.5h0M20.9 143.4h0M33.9 143.3h0M37.8 143.7h0M48.4 143.3h0M50.5 143.8h0M61.3 143.5h0M65.8 143.4h0M67.6 143.8h0M80.7 143.4h0M89.1 143.8h0M95.1 143.6h0M106.0 143.4h0M112.0 143.5h0M118.5 143.9h0M135.4 143.3h0M146.1 143.9h0M156.5 143.3h0M165.5 143.7h0M177.9 143.8h0M180.4 143.6h0M15.6 145.6h0M17.6 145.3h0M20.2 145.5h0M26.2 145.6h0M34.6 145.5h0M39.4 145.7h0M43.6 145.2h0M45.5 145.7h0M56.2 145.6h0M64.5 145.2h0M73.1 145.4h0M75.3 145.2h0M83.7 145.5h0M87.8 145.3h0M94.0 145.6h0M128.0 145.7h0M130.4 145.1h0M136.9 145.2h0M139.0 145.6h0M145.4 145.2h0M147.3 145.5h0M149.4 145.2h0M151.5 145.3h0M164.1 145.2h0M176.9 145.3h0M16.7 147.1h0M25.4 147.4h0M27.7 147.4h0M29.7 146.9h0M31.4 147.4h0M46.5 147.5h0M48.5 147.4h0M63.2 147.2h0M67.8 147.2h0M72.2 147.1h0M74.3 147.3h0M78.5 147.1h0M84.5 147.5h0M88.8 147.4h0M93.2 147.0h0M95.6 147.1h0M103.5 147.3h0M116.5 147.5h0M125.0 147.0h0M135.8 147.1h0M139.6 147.2h0M144.3 147.4h0M169.7 147.1h0M171.7 147.1h0M178.2 147.1h0M180.1 147.4h0M9.6 149.2h0M11.5 148.9h0M18.0 149.0h0M24.4 149.0h0M62.4 148.8h0M64.8 149.1h0M79.5 149.1h0M94.4 149.3h0M111.3 149.3h0M115.2 149.2h0M117.4 148.8h0M119.8 149.1h0M122.1 149.1h0M124.1 149.1h0M130.0 149.3h0M147.5 149.3h0M151.6 149.0h0M155.5 149.2h0M157.8 149.1h0M166.3 149.2h0M174.9 149.2h0M179.2 149.3h0M14.7 150.9h0M23.3 150.6h0M25.1 150.7h0M27.5 151.1h0M33.9 151.1h0M50.9 150.9h0M57.0 151.2h0M63.3 151.1h0M65.9 150.7h0M70.0 150.8h0M78.1 151.1h0M80.5 150.9h0M90.9 151.0h0M110.4 150.8h0M118.9 150.6h0M125.2 150.8h0M127.2 151.1h0M133.2 150.8h0M152.6 151.0h0M159.0 150.9h0M163.1 150.7h0M167.5 150.8h0M169.7 150.9h0M173.7 150.8h0M180.2 151.1h0M182.4 151.2h0M9.7 152.5h0M11.8 152.8h0M13.5 153.0h0M16.0 152.8h0M18.1 152.7h0M20.2 153.0h0M24.4 152.7h0M26.6 152.9h0M28.3 152.8h0M34.9 152.6h0M37.2 153.0h0M41.5 152.5h0M58.4 152.7h0M62.3 152.8h0M66.8 152.5h0M81.3 152.8h0M88.1 152.8h0M94.4 152.9h0M107.1 153.0h0M108.8 152.5h0M117.3 152.7h0M142.9 152.5h0M147.4 152.7h0M149.5 152.9h0M159.8 152.9h0M164.4 152.9h0M181.4 152.9h0M19.0 154.8h0M33.7 154.4h0M40.4 154.8h0M44.6 154.6h0M65.6 154.4h0M72.2 154.5h0M80.2 154.5h0M82.8 154.3h0M86.5 154.8h0M95.6 154.5h0M106.0 154.5h0M110.0 154.9h0M112.2 154.7h0M125.1 154.7h0M129.2 154.7h0M133.5 154.6h0M135.8 154.5h0M142.2 154.7h0M150.6 154.7h0M156.9 154.5h0M165.2 154.7h0M173.6 154.3h0M182.3 154.3h0M11.7 156.4h0M15.7 156.6h0M26.5 156.7h0M33.1 156.4h0M35.1 156.4h0M39.3 156.4h0M45.5 156.3h0M47.3 156.3h0M53.8 156.7h0M71.1 156.4h0M73.2 156.2h0M77.5 156.5h0M79.2 156.5h0M83.8 156.5h0M86.0 156.3h0M89.7 156.5h0M92.2 156.6h0M100.6 156.6h0M124.2 156.7h0M128.2 156.3h0M130.3 156.2h0M132.2 156.7h0M134.8 156.5h0M136.7 156.3h0M141.1 156.5h0M145.1 156.6h0M151.7 156.6h0M155.7 156.6h0M157.9 156.2h0M162.1 156.4h0M164.0 156.5h0M179.3 156.7h0M10.6 158.4h0M21.4 158.1h0M33.8 158.1h0M38.4 158.6h0M44.7 158.3h0M46.5 158.3h0M50.9 158.4h0M53.2 158.3h0M59.0 158.4h0M61.2 158.6h0M67.7 158.1h0M74.4 158.1h0M76.4 158.1h0M78.4 158.0h0M80.5 158.1h0M82.5 158.0h0M86.7 158.1h0M91.0 158.3h0M110.1 158.0h0M116.3 158.4h0M125.0 158.1h0M127.1 158.2h0M131.5 158.3h0M142.0 158.0h0M154.9 158.4h0M158.8 158.3h0M169.7 158.1h0M173.5 158.0h0M177.9 158.5h0M13.9 160.3h0M16.0 160.4h0M32.9 160.1h0M37.2 160.3h0M41.4 160.0h0M52.1 160.2h0M53.8 160.3h0M56.3 159.9h0M58.2 160.2h0M70.7 160.3h0M73.2 160.3h0M79.3 160.3h0M88.0 159.9h0M90.1 159.9h0M91.8 160.3h0M94.5 160.4h0M96.4 159.9h0M100.8 160.4h0M107.0 160.3h0M126.0 159.9h0M130.3 159.8h0M136.8 160.2h0M145.0 160.2h0M149.3 160.3h0M151.3 160.3h0M161.9 160.4h0M170.4 160.0h0M175.0 160.2h0M10.6 161.8h0M12.6 161.7h0M14.6 161.8h0M16.7 162.0h0M19.3 162.2h0M23.2 161.9h0M27.6 161.9h0M32.0 161.8h0M33.9 161.7h0M40.1 162.0h0M42.2 161.7h0M44.5 162.0h0M48.9 162.2h0M53.1 162.2h0M57.0 162.2h0M65.8 161.7h0M76.1 161.9h0M90.8 161.8h0M103.7 162.2h0M106.0 161.7h0M110.3 161.8h0M137.7 161.9h0M143.9 161.8h0M156.7 161.9h0M161.2 161.9h0M165.4 161.9h0M176.1 161.9h0M178.2 162.2h0M9.5 164.0h0M17.8 163.9h0M32.9 163.8h0M36.8 163.7h0M51.7 163.5h0M60.4 163.8h0M75.0 163.6h0M77.4 163.9h0M81.4 163.9h0M85.9 163.6h0M88.1 164.0h0M92.1 163.6h0M94.1 163.9h0M96.4 163.6h0M106.9 163.7h0M119.4 164.0h0M125.9 163.8h0M128.4 163.6h0M140.7 163.8h0M151.4 163.6h0M157.7 163.8h0M164.3 163.6h0M14.8 165.6h0M29.6 165.8h0M34.0 165.9h0M38.1 165.6h0M50.8 165.7h0M53.0 165.6h0M54.8 165.9h0M57.4 165.7h0M59.5 165.8h0M63.5 165.6h0M68.0 165.8h0M78.1 165.6h0M82.7 165.4h0M89.0 165.8h0M106.0 165.4h0M110.2 165.8h0M116.4 165.7h0M123.1 165.7h0M126.9 165.4h0M138.0 165.6h0M146.5 165.6h0M162.9 165.3h0M167.6 165.8h0M169.7 165.8h0M173.7 165.4h0M177.8 165.4h0M18.1 167.4h0M26.3 167.5h0M41.5 167.4h0M53.9 167.6h0M60.3 167.3h0M75.1 167.8h0M81.7 167.4h0M83.7 167.5h0M90.3 167.3h0M96.6 167.4h0M102.8 167.7h0M108.9 167.4h0M121.9 167.7h0M134.5 167.4h0M136.5 167.2h0M140.9 167.6h0M145.2 167.2h0M149.4 167.4h0M151.4 167.8h0M155.7 167.3h0M157.9 167.7h0M166.3 167.6h0M170.5 167.6h0M8.5 169.1h0M10.6 169.4h0M12.4 169.4h0M14.6 169.2h0M16.9 169.4h0M23.5 169.2h0M33.7 169.0h0M38.4 169.6h0M50.7 169.3h0M55.0 169.0h0M59.0 169.2h0M69.7 169.3h0M74.2 169.2h0M76.0 169.5h0M78.1 169.2h0M86.8 169.6h0M99.5 169.1h0M108.0 169.1h0M127.0 169.1h0M133.7 169.0h0M142.0 169.4h0M152.8 169.4h0M156.7 169.0h0M163.3 169.5h0M171.8 169.3h0M175.8 169.4h0M180.3 169.3h0M182.1 169.2h0M19.9 171.0h0M26.2 171.4h0M32.7 171.1h0M39.0 170.9h0M43.4 171.2h0M56.4 170.9h0M58.5 171.3h0M60.2 171.1h0M62.5 171.2h0M71.1 171.5h0M72.9 171.1h0M77.3 171.2h0M81.4 171.4h0M83.8 171.0h0M94.4 170.9h0M96.3 171.1h0M98.3 171.4h0M102.7 171.0h0M107.2 171.3h0M115.3 170.9h0M117.7 171.0h0M119.8 171.0h0M134.6 171.2h0M139.0 171.1h0M160.3 171.3h0M168.5 171.4h0M174.7 171.2h0M181.1 171.0h0M21.1 172.9h0M23.4 172.8h0M25.5 173.1h0M29.3 173.0h0M35.7 173.1h0M46.8 172.8h0M51.0 173.1h0M57.0 172.9h0M74.2 172.8h0M76.0 173.1h0M80.3 173.1h0M95.2 173.1h0M101.7 172.8h0M107.8 173.1h0M112.4 172.9h0M123.0 173.1h0M131.5 173.0h0M135.3 173.1h0M137.8 172.8h0M141.9 172.8h0M146.1 172.8h0M148.4 172.9h0M152.3 172.7h0M167.7 173.1h0M174.0 173.0h0M15.7 175.0h0M20.0 174.8h0M22.3 174.6h0M26.3 174.9h0M28.7 174.6h0M30.5 174.7h0M41.1 174.6h0M47.4 175.1h0M55.9 174.7h0M62.2 174.6h0M68.6 175.0h0M71.0 174.7h0M73.2 174.8h0M81.7 175.0h0M83.8 174.8h0M86.0 175.1h0M89.8 174.7h0M98.3 174.7h0M104.8 174.9h0M106.9 175.1h0M117.3 175.1h0M124.0 174.9h0M126.2 175.0h0M130.6 174.6h0M149.6 175.0h0M155.8 175.0h0M160.2 175.1h0M172.7 175.0h0M8.5 176.4h0M17.0 176.5h0M38.1 176.7h0M40.2 176.6h0M42.1 176.8h0M46.8 176.5h0M48.5 176.7h0M53.0 176.8h0M63.5 176.5h0M72.3 176.5h0M74.0 176.6h0M78.3 177.0h0M84.8 176.4h0M89.3 176.8h0M95.4 176.8h0M99.7 176.4h0M105.6 176.5h0M118.8 176.5h0M123.0 176.5h0M127.3 176.9h0M129.4 176.9h0M137.5 176.9h0M139.9 176.9h0M142.0 176.7h0M156.9 176.9h0M159.0 176.8h0M163.0 176.7h0M169.5 176.8h0M176.2 176.6h0M11.7 178.6h0M34.9 178.3h0M36.7 178.5h0M38.9 178.6h0M47.8 178.8h0M66.9 178.5h0M68.7 178.8h0M73.2 178.4h0M81.2 178.4h0M85.7 178.6h0M87.8 178.4h0M92.0 178.6h0M94.4 178.6h0M96.2 178.4h0M100.6 178.8h0M102.6 178.3h0M113.6 178.3h0M121.6 178.8h0M134.3 178.5h0M138.8 178.6h0M140.8 178.6h0M142.9 178.4h0M145.4 178.3h0M147.1 178.3h0M149.5 178.8h0M157.9 178.3h0M168.4 178.5h0M174.9 178.8h0M12.8 180.3h0M14.9 180.5h0M17.0 180.5h0M21.3 180.3h0M31.7 180.5h0M33.8 180.3h0M36.2 180.1h0M38.4 180.6h0M40.4 180.2h0M52.9 180.1h0M59.5 180.1h0M61.4 180.3h0M76.2 180.2h0M84.7 180.5h0M95.1 180.6h0M101.6 180.5h0M110.3 180.4h0M112.4 180.5h0M114.3 180.3h0M122.9 180.2h0M125.0 180.2h0M126.9 180.5h0M129.4 180.1h0M131.6 180.5h0M137.8 180.4h0M140.1 180.2h0M142.1 180.4h0M148.4 180.2h0M152.7 180.4h0M154.7 180.6h0M159.2 180.6h0M165.0 180.5h0M169.4 180.3h0M171.9 180.1h0M175.9 180.4h0M9.5 182.4h0M11.3 182.0h0M15.8 181.9h0M18.0 182.4h0M19.9 182.4h0M22.2 182.3h0M30.8 182.0h0M41.1 182.2h0M45.7 182.4h0M68.7 182.5h0M77.3 182.1h0M83.9 182.3h0M100.7 182.5h0M102.5 182.3h0M107.3 182.1h0M109.2 182.1h0M111.3 182.2h0M117.6 182.0h0M119.5 182.2h0M122.0 182.4h0M132.2 182.2h0M141.1 182.4h0M147.4 182.5h0M157.6 182.1h0M159.9 182.2h0M161.8 182.5h0M164.0 182.3h0M170.8 182.0h0M175.0 182.1h0M179.1 182.4h0M181.4 182.1h0M8.1 184.1h0M14.7 184.1h0M17.0 184.3h0M21.0 184.3h0M25.4 183.9h0M27.3 184.2h0M31.7 183.9h0M40.0 184.0h0M48.5 183.8h0M52.9 183.9h0M59.1 184.3h0M63.3 184.1h0M67.5 183.9h0M69.9 184.1h0M72.0 184.0h0M74.3 183.9h0M78.2 184.0h0M82.8 184.1h0M99.5 184.1h0M110.4 184.1h0M125.1 183.9h0M135.5 183.8h0M140.1 184.1h0M158.8 184.3h0M173.7 184.2h0M177.9 184.3h0M22.1 186.1h0M26.6 186.1h0M34.9 185.8h0M37.2 186.1h0M52.1 185.8h0M55.8 186.1h0M58.0 185.9h0M60.2 186.1h0M62.6 186.0h0M64.5 186.0h0M66.9 186.0h0M71.0 185.6h0M75.4 185.7h0M77.6 186.0h0M81.4 186.1h0M83.4 185.6h0M85.7 185.7h0M89.9 185.7h0M98.5 185.9h0M100.9 185.9h0M105.0 185.8h0M106.9 185.6h0M111.2 185.6h0M115.2 185.9h0M149.3 185.7h0M164.2 185.6h0M170.5 186.1h0M177.2 185.9h0M181.2 186.0h0M16.8 187.7h0M18.7 187.9h0M23.4 187.6h0M40.5 187.7h0M48.7 187.6h0M57.4 187.9h0M72.0 187.6h0M74.0 187.6h0M87.0 188.0h0M95.0 187.9h0M101.5 187.5h0M106.0 188.0h0M107.9 188.0h0M114.2 187.5h0M118.7 187.5h0M131.2 187.7h0M133.3 187.7h0M135.6 187.9h0M137.9 187.5h0M148.1 187.9h0M154.8 187.8h0M165.3 187.6h0M169.7 187.6h0M173.5 187.7h0M17.9 189.7h0M26.3 189.9h0M39.1 189.4h0M51.8 189.7h0M60.6 189.4h0M73.2 189.4h0M77.2 189.3h0M86.0 189.8h0M92.4 189.8h0M94.3 189.5h0M96.6 189.7h0M98.3 189.4h0M113.1 189.5h0M124.2 189.4h0M126.3 189.4h0M147.2 189.8h0M149.3 189.8h0M170.7 189.8h0M174.6 189.7h0M179.3 189.3h0M181.4 189.8h0M12.4 191.5h0M14.8 191.4h0M16.6 191.5h0M18.8 191.6h0M21.1 191.1h0M37.9 191.1h0M44.6 191.2h0M52.7 191.2h0M59.3 191.2h0M63.4 191.2h0M65.5 191.7h0M68.0 191.1h0M76.1 191.4h0M84.9 191.2h0M89.2 191.2h0M95.2 191.6h0M99.5 191.7h0M105.8 191.2h0M110.4 191.3h0M112.4 191.3h0M121.0 191.7h0M129.1 191.7h0M137.7 191.6h0M150.4 191.1h0M154.8 191.3h0M167.1 191.3h0M13.7 193.4h0M22.1 193.1h0M24.5 193.2h0M28.5 193.3h0M33.0 193.1h0M37.0 193.0h0M39.4 193.0h0M41.5 193.3h0M47.8 193.3h0M60.1 193.0h0M66.6 193.1h0M77.2 193.0h0M81.6 193.1h0M87.9 193.3h0M92.4 193.1h0M94.5 192.9h0M98.7 193.0h0M115.6 193.5h0M128.3 193.4h0M140.7 193.5h0M151.4 193.0h0M153.4 193.2h0M164.1 193.4h0M170.4 193.2h0M172.4 193.5h0M177.1 193.0h0M178.9 193.0h0M181.1 193.0h0M12.9 195.1h0M21.2 194.9h0M23.3 195.3h0M25.4 194.8h0M27.5 195.3h0M33.8 195.3h0M36.0 195.1h0M46.3 194.8h0M52.8 194.8h0M61.7 195.3h0M82.8 195.3h0M86.8 195.4h0M89.0 195.2h0M106.0 195.2h0M107.8 195.0h0M112.0 195.0h0M114.2 195.1h0M125.3 195.2h0M135.4 194.8h0M139.8 195.3h0M161.2 195.3h0M163.3 195.0h0M171.7 195.1h0M177.8 195.1h0M182.3 194.9h0M13.9 197.0h0M15.6 197.0h0M30.9 196.8h0M32.6 196.9h0M49.5 196.8h0M51.9 196.9h0M66.4 197.1h0M69.1 197.2h0M73.3 197.2h0M83.4 197.1h0M87.9 196.8h0M91.9 197.1h0M94.0 197.0h0M109.1 196.6h0M117.5 197.2h0M119.6 197.2h0M123.8 196.9h0M126.3 197.0h0M132.3 196.8h0M136.8 197.2h0M138.6 196.7h0M144.9 196.6h0M147.5 196.9h0M151.3 196.9h0M153.9 196.8h0M172.7 196.8h0M178.8 197.1h0M8.6 198.7h0M10.5 198.9h0M12.4 198.5h0M23.1 198.7h0M27.5 198.8h0M40.1 198.8h0M42.5 198.5h0M48.7 198.9h0M53.2 198.6h0M54.8 198.8h0M67.7 198.8h0M74.4 198.8h0M86.9 198.5h0M93.3 199.0h0M107.8 199.0h0M116.8 199.0h0M118.6 199.0h0M135.4 198.8h0M137.8 199.0h0M144.0 198.5h0M159.0 198.9h0M169.7 198.8h0M171.9 198.7h0M173.6 198.8h0M182.4 198.6h0M13.8 200.4h0M18.2 200.3h0M22.3 200.7h0M28.4 200.4h0M32.7 200.5h0M37.3 200.4h0M43.5 200.4h0M47.5 200.8h0M62.7 200.4h0M70.7 200.4h0M79.3 200.4h0M81.6 200.6h0M86.0 200.9h0M94.0 200.7h0M98.7 200.8h0M104.8 200.9h0M108.9 200.4h0M119.5 200.3h0M130.2 200.3h0M141.0 200.4h0M159.9 200.8h0M162.0 200.5h0M170.5 200.5h0M173.0 200.7h0M178.9 200.5h0M181.2 200.9h0M15.0 202.3h0M21.2 202.3h0M22.9 202.6h0M27.3 202.7h0M31.6 202.3h0M40.2 202.2h0M52.9 202.2h0M57.4 202.6h0M68.0 202.2h0M71.9 202.6h0M84.5 202.7h0M88.8 202.7h0M101.8 202.3h0M103.8 202.4h0M108.1 202.2h0M110.1 202.2h0M116.3 202.5h0M121.0 202.2h0M142.0 202.5h0M148.1 202.7h0M156.9 202.3h0M159.1 202.4h0M163.0 202.5h0M165.1 202.2h0M171.7 202.7h0M178.2 202.6h0M17.9 204.6h0M30.5 204.6h0M43.3 204.2h0M47.7 204.0h0M49.8 204.1h0M56.0 204.3h0M60.3 204.3h0M64.3 204.4h0M71.0 204.1h0M75.0 204.4h0M77.1 204.5h0M96.5 204.1h0M100.7 204.5h0M103.0 204.5h0M104.6 204.4h0M124.1 204.1h0M141.1 204.1h0M145.0 204.4h0M156.0 204.3h0M159.9 204.5h0M168.3 204.1h0M174.8 204.3h0M176.9 204.4h0M179.3 204.3h0M19.2 206.4h0M31.4 206.0h0M40.4 205.9h0M46.8 206.1h0M61.1 206.2h0M63.7 206.3h0M65.7 206.4h0M69.9 206.0h0M71.9 205.9h0M82.4 206.1h0M86.6 206.3h0M90.9 205.9h0M129.0 206.3h0M135.8 206.4h0M138.0 206.4h0M139.9 206.1h0M144.0 206.1h0M152.5 206.3h0M156.6 206.3h0M160.8 206.4h0M162.9 206.4h0M167.4 206.3h0M9.2 207.8h0M24.4 208.1h0M26.4 207.8h0M33.0 207.8h0M37.0 208.0h0M50.0 207.7h0M66.7 207.7h0M73.1 207.9h0M86.0 208.1h0M94.2 207.9h0M102.7 207.8h0M104.9 207.9h0M106.8 207.8h0M111.4 208.2h0M121.7 207.9h0M128.2 207.7h0M132.3 207.9h0M140.7 207.9h0M147.5 207.8h0M149.2 207.9h0M151.8 207.7h0M153.7 207.7h0M164.4 207.9h0M177.2 208.1h0M179.0 208.2h0M14.6 210.0h0M16.9 209.6h0M32.0 210.0h0M35.8 209.5h0M48.6 209.6h0M59.3 209.7h0M67.5 210.0h0M69.7 210.0h0M72.3 209.5h0M74.0 209.5h0M76.5 209.7h0M80.8 209.7h0M84.7 209.7h0M88.7 210.1h0M91.0 209.9h0M93.2 209.5h0M95.1 209.7h0M103.7 209.6h0M116.8 210.1h0M121.0 210.1h0M131.6 209.7h0M154.8 210.0h0M165.2 209.6h0M167.2 209.9h0M173.9 210.0h0M178.2 209.9h0M182.4 209.9h0M9.3 211.4h0M11.4 211.6h0M13.7 211.6h0M17.9 211.5h0M26.3 211.5h0M30.6 211.7h0M34.8 211.9h0M41.4 211.3h0M77.2 211.5h0M81.8 211.5h0M92.2 211.4h0M94.2 211.4h0M96.2 211.8h0M100.4 211.8h0M107.3 211.6h0M109.1 211.4h0M113.2 211.4h0M115.7 211.7h0M117.4 211.8h0M128.3 211.8h0M143.1 211.4h0M145.3 211.5h0M147.3 211.4h0M160.1 211.8h0M164.0 211.9h0M166.5 211.4h0M177.1 211.9h0M181.1 211.7h0M10.8 213.5h0M14.6 213.6h0M35.8 213.2h0M55.2 213.3h0M57.0 213.6h0M63.3 213.6h0M65.7 213.6h0M67.8 213.5h0M69.7 213.5h0M74.1 213.5h0M84.8 213.5h0M86.9 213.2h0M93.3 213.7h0M99.7 213.7h0M108.0 213.4h0M120.7 213.4h0M122.9 213.4h0M124.8 213.5h0M126.9 213.5h0M129.0 213.7h0M133.8 213.6h0M137.8 213.5h0M141.7 213.5h0M146.1 213.6h0M148.1 213.5h0M152.3 213.4h0M165.2 213.7h0M24.0 215.3h0M26.6 215.4h0M30.9 215.5h0M53.9 215.2h0M56.0 215.3h0M58.4 215.2h0M77.5 215.0h0M96.5 215.6h0M100.7 215.5h0M102.6 215.2h0M108.9 215.2h0M111.3 215.1h0M115.4 215.6h0M117.9 215.4h0M134.7 215.6h0M143.1 215.2h0M151.7 215.4h0M155.8 215.6h0M166.2 215.3h0M181.0 215.0h0M12.7 217.4h0M29.4 217.2h0M33.8 217.0h0M48.6 217.3h0M51.1 217.2h0M54.8 217.0h0M63.5 217.2h0M72.0 217.0h0M74.4 217.1h0M82.7 217.0h0M87.0 217.0h0M108.0 217.3h0M112.4 217.3h0M114.6 217.1h0M116.4 217.4h0M118.5 217.3h0M120.5 217.0h0M137.4 217.0h0M144.2 217.3h0M146.2 217.0h0M152.7 217.1h0M160.8 216.9h0M173.6 216.9h0M9.6 218.9h0M11.7 219.1h0M28.8 219.0h0M33.0 218.9h0M37.0 219.0h0M51.8 219.0h0M55.8 219.0h0M58.0 219.2h0M60.6 218.8h0M69.1 219.0h0M77.0 218.8h0M87.7 219.1h0M102.9 219.1h0M106.8 219.0h0M109.0 219.0h0M124.2 218.9h0M128.1 218.7h0M134.7 218.7h0M142.8 218.8h0M145.0 219.0h0M149.4 218.8h0M151.6 218.9h0M158.0 219.2h0M162.2 219.0h0M170.4 219.2h0M8.1 220.8h0M15.0 220.6h0M35.9 220.7h0M50.7 220.7h0M63.7 220.7h0M72.1 220.6h0M82.9 220.7h0M84.5 220.6h0M87.1 221.1h0M95.2 220.9h0M105.9 220.6h0M114.1 221.0h0M129.0 220.6h0M135.6 220.8h0M144.4 220.9h0M146.4 220.9h0M154.9 220.8h0M161.2 220.7h0M165.5 220.6h0M173.5 220.7h0M180.4 221.0h0M11.7 222.8h0M15.5 222.4h0M18.1 222.8h0M32.7 222.7h0M43.5 222.7h0M47.8 222.4h0M55.9 222.6h0M58.2 222.6h0M60.6 222.8h0M66.7 222.7h0M79.4 222.9h0M85.8 222.5h0M96.4 222.5h0M108.8 222.7h0M113.2 222.8h0M115.7 222.6h0M136.8 222.9h0M145.3 222.5h0M166.3 222.4h0M174.6 222.6h0M176.7 222.6h0M10.7 224.7h0M14.9 224.5h0M19.0 224.6h0M40.3 224.4h0M50.9 224.3h0M53.1 224.7h0M57.0 224.6h0M61.6 224.3h0M69.9 224.5h0M72.0 224.8h0M78.6 224.3h0M108.1 224.4h0M112.5 224.6h0M122.7 224.8h0M125.1 224.7h0M154.6 224.3h0M162.9 224.6h0M167.6 224.2h0M169.4 224.2h0M175.7 224.5h0M9.5 226.5h0M11.8 226.6h0M19.8 226.3h0M22.4 226.1h0M28.5 226.2h0M41.5 226.5h0M45.5 226.4h0M49.5 226.2h0M51.8 226.2h0M81.6 226.3h0M90.0 226.2h0M100.4 226.2h0M119.5 226.5h0M121.8 226.2h0M126.3 226.1h0M153.3 226.3h0M155.6 226.5h0M159.9 226.4h0M176.8 226.1h0M14.9 228.4h0M17.0 228.2h0M21.1 227.9h0M23.0 228.4h0M27.7 228.2h0M36.1 228.1h0M38.3 228.0h0M40.2 228.2h0M44.6 228.2h0M46.6 228.4h0M53.2 228.3h0M56.9 228.2h0M59.3 228.3h0M72.1 228.3h0M84.7 228.1h0M103.5 228.5h0M110.4 228.0h0M114.3 228.0h0M118.9 228.3h0M124.8 228.2h0M129.3 228.4h0M131.4 228.3h0M135.9 228.4h0M139.7 228.4h0M152.8 228.2h0M154.5 228.2h0M156.6 228.2h0M163.2 228.4h0M165.4 228.2h0M171.6 228.1h0M182.1 228.5h0M15.9 229.9h0M30.9 230.1h0M35.1 230.1h0M36.7 229.8h0M38.9 230.0h0M45.3 230.1h0M60.5 229.9h0M73.3 230.1h0M81.3 229.8h0M83.4 230.2h0M91.8 230.0h0M98.7 229.8h0M102.9 230.0h0M109.0 229.9h0M111.2 230.2h0M117.6 230.3h0M119.6 230.0h0M121.8 230.1h0M123.9 230.3h0M126.0 229.9h0M132.6 229.8h0M136.7 230.2h0M142.8 230.2h0M156.0 230.3h0M164.2 229.8h0M170.4 230.0h0M21.3 232.1h0M27.5 232.1h0M31.9 232.1h0M33.6 232.1h0M40.2 231.9h0M42.2 231.6h0M53.2 231.8h0M56.9 231.8h0M59.2 232.0h0M63.6 231.8h0M65.4 231.8h0M76.4 232.0h0M82.5 231.7h0M84.7 232.2h0M90.8 231.8h0M99.4 232.1h0M103.8 231.6h0M106.1 232.0h0M122.8 232.0h0M124.7 231.8h0M139.6 232.0h0M142.3 232.1h0M144.3 232.2h0M154.8 232.1h0M165.1 232.0h0M171.6 231.9h0M178.1 232.1h0M16.1 233.7h0M19.9 233.4h0M22.0 233.6h0M24.3 233.7h0M36.9 233.5h0M41.4 234.0h0M45.2 233.9h0M51.9 233.4h0M53.7 233.6h0M68.8 233.6h0M77.3 234.0h0M83.4 233.7h0M94.1 233.8h0M96.2 233.7h0M104.7 233.9h0M109.0 233.6h0M115.7 233.5h0M121.6 233.9h0M124.2 233.7h0M153.7 233.5h0M155.9 233.8h0M162.1 234.0h0M166.2 233.6h0M170.7 233.8h0M179.3 233.8h0M23.2 235.7h0M40.2 235.4h0M50.7 235.4h0M59.3 235.7h0M63.8 235.3h0M70.1 235.3h0M71.8 235.5h0M74.4 235.4h0M76.3 235.5h0M80.8 235.4h0M93.2 235.3h0M108.1 235.7h0M112.2 235.6h0M114.4 235.3h0M116.3 235.7h0M118.5 235.9h0M135.8 235.5h0M141.9 235.3h0M152.8 235.8h0M157.0 235.4h0M158.7 235.6h0M161.0 235.9h0M163.0 235.7h0M167.2 235.3h0M171.5 235.4h0M178.0 235.4h0M9.5 237.4h0M13.9 237.6h0M18.2 237.5h0M30.4 237.3h0M39.0 237.2h0M47.8 237.5h0M51.6 237.7h0M66.8 237.5h0M70.8 237.2h0M75.0 237.2h0M89.9 237.4h0M94.2 237.3h0M98.5 237.6h0M102.7 237.5h0M109.0 237.3h0M128.2 237.5h0M136.9 237.7h0M144.9 237.2h0M147.2 237.3h0M151.7 237.5h0M153.7 237.2h0M155.9 237.7h0M159.9 237.4h0M168.7 237.4h0M170.7 237.5h0M174.6 237.6h0M178.9 237.4h0M181.1 237.2h0M10.3 239.0h0M17.1 239.0h0M23.0 239.3h0M33.9 239.1h0M46.3 239.5h0M54.8 239.5h0M71.9 239.2h0M78.4 239.4h0M84.9 239.1h0M91.2 239.1h0M97.4 239.2h0M99.6 239.5h0M106.2 239.3h0M108.3 239.0h0M122.8 239.1h0M125.2 239.3h0M129.1 239.0h0M133.8 239.5h0M140.0 239.4h0M142.0 239.5h0M150.5 239.1h0M152.8 239.0h0M159.0 239.1h0M160.8 239.1h0M169.2 239.0h0M176.0 239.2h0M182.0 239.4h0M9.6 241.3h0M13.7 241.2h0M15.8 240.9h0M17.9 240.8h0M32.9 241.0h0M35.1 241.3h0M41.3 240.8h0M43.1 241.1h0M51.8 240.8h0M64.8 241.1h0M75.1 241.1h0M77.1 240.9h0M79.2 241.3h0M87.9 240.8h0M92.2 241.0h0M94.3 241.2h0M96.5 240.9h0M100.6 241.0h0M105.0 241.4h0M119.9 241.4h0M121.7 241.1h0M130.1 240.9h0M134.6 241.2h0M140.7 241.0h0M151.8 241.3h0M170.6 241.2h0M172.6 241.0h0M179.2 241.1h0M8.2 242.9h0M10.8 242.8h0M12.8 243.1h0M19.2 242.9h0M23.3 242.7h0M36.1 243.1h0M38.1 243.0h0M53.0 242.8h0M55.0 242.8h0M57.0 242.6h0M59.5 242.7h0M61.6 242.7h0M68.1 242.8h0M71.8 243.2h0M74.0 243.0h0M76.1 242.9h0M97.5 242.6h0M99.7 243.1h0M101.7 243.0h0M112.0 243.0h0M114.5 242.7h0M118.5 242.8h0M120.5 242.9h0M123.1 243.0h0M131.6 242.7h0M156.5 243.1h0M158.8 243.0h0M163.3 242.8h0M165.6 242.8h0M167.7 242.9h0M171.9 243.0h0M174.0 242.7h0M15.5 245.0h0M17.9 244.6h0M36.8 244.6h0M47.8 245.0h0M53.8 244.5h0M58.1 244.8h0M66.8 244.9h0M71.2 244.8h0M75.2 244.8h0M79.6 244.9h0M90.0 244.9h0M92.0 244.9h0M102.7 245.0h0M111.4 244.8h0M117.5 244.5h0M121.5 244.5h0M138.9 244.5h0M140.7 244.7h0M143.1 244.5h0M147.1 245.0h0M149.3 244.9h0M153.8 245.0h0M155.9 244.8h0M168.2 244.8h0M175.1 244.6h0M10.3 246.9h0M19.3 246.6h0M25.2 246.9h0M44.2 246.6h0M48.5 246.5h0M59.5 246.3h0M61.4 246.7h0M65.8 246.6h0M76.0 246.7h0M80.3 246.5h0M91.0 246.3h0M114.5 246.5h0M129.5 246.3h0M131.6 246.9h0M135.6 246.8h0M150.3 246.9h0M156.7 246.6h0M160.9 246.8h0M163.0 246.3h0M173.5 246.4h0M182.1 246.7h0M9.3 248.2h0M11.6 248.5h0M22.3 248.2h0M24.3 248.6h0M26.7 248.7h0M30.5 248.4h0M32.5 248.5h0M39.4 248.6h0M41.0 248.5h0M55.8 248.2h0M60.6 248.3h0M62.3 248.5h0M66.7 248.3h0M70.7 248.3h0M89.9 248.3h0M100.8 248.4h0M102.9 248.4h0M104.8 248.3h0M106.9 248.3h0M117.7 248.6h0M119.7 248.7h0M132.3 248.4h0M136.5 248.2h0M138.8 248.7h0M145.4 248.2h0M147.3 248.7h0M155.9 248.5h0M159.8 248.5h0M164.2 248.4h0M166.3 248.4h0M176.7 248.2h0M181.3 248.3h0M10.6 250.1h0M12.9 250.0h0M17.0 250.3h0M36.2 250.2h0M48.8 250.4h0M63.6 250.4h0M72.1 250.0h0M74.3 250.3h0M86.6 250.5h0M95.0 250.1h0M97.2 250.5h0M99.5 250.0h0M103.8 250.5h0M110.4 250.2h0M112.0 250.1h0M116.4 250.5h0M118.4 250.5h0M121.1 250.1h0M127.1 250.4h0M129.2 250.0h0M133.4 250.1h0M144.2 250.1h0M154.5 250.4h0M163.2 250.5h0M171.8 250.2h0M178.1 250.4h0M180.0 250.1h0M9.6 252.3h0M24.3 251.9h0M30.7 251.9h0M36.9 251.9h0M49.5 251.9h0M52.1 252.4h0M56.3 251.9h0M60.2 252.2h0M62.6 252.3h0M68.7 251.9h0M73.3 252.1h0M85.8 251.9h0M91.9 252.4h0M105.0 252.2h0M106.9 252.1h0M109.0 251.9h0M119.4 252.0h0M124.1 252.2h0M125.8 251.8h0M151.2 251.9h0M153.5 251.8h0M164.5 252.4h0M176.8 252.0h0M181.0 252.3h0M8.6 253.8h0M12.4 253.8h0M19.3 253.7h0M21.2 254.1h0M23.2 254.2h0M29.4 253.8h0M35.9 254.1h0M40.0 254.1h0M46.4 253.9h0M54.8 254.2h0M56.9 254.0h0M59.5 254.0h0M65.4 253.8h0M78.5 254.2h0M99.5 254.1h0M114.4 254.0h0M118.3 254.2h0M120.7 254.2h0M131.3 254.2h0M150.3 254.2h0" stroke="#1a70bc" stroke-width="1.95" stroke-linecap="square" fill="none"/>
<path d="M39.3 141.7h0M43.3 141.9h0M81.5 141.8h0M83.5 141.6h0M115.2 141.8h0M121.9 141.6h0M138.7 141.9h0M145.1 141.5h0M172.6 141.6h0M181.1 141.5h0M8.5 143.3h0M16.8 143.6h0M23.4 143.8h0M25.4 143.8h0M27.5 143.4h0M40.2 143.8h0M46.7 143.6h0M53.0 143.7h0M54.8 143.6h0M57.4 143.4h0M84.6 143.5h0M93.3 143.6h0M97.7 143.3h0M101.5 143.4h0M133.5 143.6h0M163.0 143.8h0M22.5 145.2h0M30.4 145.7h0M37.1 145.6h0M60.6 145.4h0M62.2 145.2h0M68.6 145.2h0M79.5 145.7h0M91.8 145.5h0M102.7 145.6h0M104.6 145.6h0M111.2 145.4h0M115.4 145.2h0M117.6 145.6h0M119.7 145.7h0M155.5 145.2h0M160.2 145.2h0M170.7 145.1h0M23.5 147.0h0M50.7 147.5h0M54.8 147.0h0M76.0 147.0h0M86.6 147.0h0M97.5 147.0h0M99.7 147.5h0M127.0 147.0h0M129.2 147.2h0M146.1 147.3h0M150.5 147.5h0M156.9 147.3h0M163.3 147.0h0M47.4 148.9h0M74.9 149.4h0M88.0 149.3h0M96.7 149.0h0M100.4 149.1h0M126.2 149.3h0M138.9 148.8h0M159.8 149.1h0M172.4 149.1h0M8.3 151.2h0M20.8 151.0h0M42.5 151.0h0M44.4 150.6h0M53.1 151.0h0M84.9 151.1h0M86.7 150.9h0M105.8 150.9h0M116.5 150.7h0M139.9 151.2h0M150.7 151.2h0M39.2 153.0h0M43.5 152.8h0M60.1 152.8h0M64.5 152.6h0M96.5 152.5h0M102.5 152.9h0M104.9 153.0h0M153.6 152.7h0M170.8 152.5h0M172.6 152.9h0M175.1 152.7h0M27.8 154.8h0M31.6 154.5h0M46.3 154.5h0M48.6 154.5h0M53.1 154.6h0M55.2 154.8h0M67.9 154.5h0M69.8 154.5h0M78.1 154.4h0M99.8 154.6h0M102.0 154.4h0M114.4 154.5h0M137.4 154.4h0M139.5 154.8h0M143.9 154.7h0M177.8 154.3h0M9.3 156.3h0M17.9 156.5h0M51.6 156.6h0M56.3 156.6h0M66.5 156.2h0M69.0 156.6h0M81.5 156.7h0M98.6 156.2h0M105.0 156.5h0M106.7 156.2h0M138.9 156.4h0M147.4 156.7h0M181.2 156.5h0M35.7 158.0h0M40.0 158.1h0M57.4 158.2h0M63.3 158.1h0M70.0 158.2h0M97.6 158.0h0M99.4 158.4h0M105.8 158.3h0M140.1 158.4h0M9.6 160.3h0M28.4 160.4h0M50.0 160.2h0M66.6 160.2h0M98.7 160.1h0M104.7 160.1h0M119.8 160.3h0M122.0 160.0h0M124.0 160.1h0M153.3 160.1h0M38.3 162.2h0M61.2 162.0h0M63.5 161.9h0M97.4 162.0h0M101.5 162.1h0M112.3 161.7h0M114.1 161.7h0M133.7 162.3h0M152.4 162.1h0M154.9 161.8h0M163.1 161.7h0M173.5 162.0h0M182.1 162.1h0M11.6 164.0h0M26.1 163.5h0M28.6 163.8h0M30.8 163.9h0M56.0 163.8h0M66.8 164.1h0M117.6 164.0h0M130.3 163.8h0M153.5 163.9h0M155.8 164.1h0M162.2 164.1h0M166.6 163.8h0M23.0 165.5h0M25.6 165.6h0M40.5 165.4h0M44.5 165.6h0M46.8 165.8h0M61.4 165.9h0M76.0 165.4h0M93.1 165.5h0M95.2 165.7h0M97.6 165.9h0M125.2 165.5h0M133.7 165.5h0M152.7 165.5h0M165.2 165.5h0M180.0 165.8h0M182.0 165.6h0M50.0 167.7h0M70.8 167.6h0M77.2 167.2h0M100.4 167.7h0M126.2 167.6h0M132.4 167.6h0M138.5 167.5h0M142.9 167.6h0M153.7 167.5h0M161.9 167.3h0M164.0 167.4h0M174.8 167.7h0M181.3 167.6h0M25.1 169.5h0M31.6 169.5h0M35.8 169.2h0M40.2 169.6h0M56.9 169.3h0M61.2 169.4h0M80.7 169.1h0M84.5 169.4h0M101.4 169.4h0M103.9 169.4h0M105.7 169.5h0M129.5 169.6h0M146.0 169.5h0M150.6 169.4h0M158.8 169.1h0M161.1 169.2h0M24.1 171.2h0M37.1 170.9h0M45.8 171.1h0M51.8 171.4h0M66.6 170.9h0M100.8 171.0h0M111.2 171.0h0M128.4 171.3h0M130.6 171.4h0M155.8 171.3h0M164.1 171.0h0M176.8 171.4h0M10.6 173.2h0M16.8 173.1h0M18.9 173.2h0M33.8 172.8h0M37.9 172.9h0M84.5 173.2h0M106.1 172.9h0M114.2 172.9h0M116.8 173.2h0M118.9 172.8h0M120.6 172.8h0M125.0 172.9h0M127.0 172.8h0M129.4 172.7h0M171.7 173.1h0M176.2 173.1h0M180.3 172.8h0M33.0 174.8h0M39.1 174.8h0M43.5 174.9h0M54.0 174.7h0M64.7 174.7h0M75.0 174.8h0M79.5 174.6h0M102.7 174.7h0M115.2 174.7h0M119.9 174.8h0M136.8 175.0h0M138.7 174.6h0M140.8 174.7h0M153.6 174.9h0M164.3 175.1h0M181.4 174.9h0M23.1 176.9h0M31.9 176.6h0M55.0 176.9h0M93.3 176.6h0M103.6 176.7h0M114.4 176.4h0M152.8 176.7h0M173.6 176.5h0M20.2 178.3h0M24.3 178.7h0M30.5 178.3h0M52.0 178.8h0M55.8 178.6h0M60.2 178.8h0M62.7 178.8h0M70.7 178.7h0M98.4 178.5h0M104.6 178.3h0M111.1 178.4h0M136.6 178.4h0M151.6 178.6h0M164.3 178.7h0M179.3 178.3h0M8.3 180.6h0M29.4 180.5h0M46.3 180.1h0M65.7 180.5h0M82.6 180.1h0M88.8 180.3h0M93.0 180.5h0M97.7 180.4h0M99.6 180.2h0M118.9 180.3h0M133.3 180.1h0M150.3 180.4h0M179.8 180.6h0M182.1 180.4h0M28.5 182.0h0M43.2 182.2h0M71.0 182.2h0M81.5 182.3h0M87.6 181.9h0M92.1 182.4h0M113.5 182.3h0M115.5 182.4h0M128.3 182.4h0M130.1 182.0h0M156.0 182.4h0M12.7 184.2h0M19.0 184.2h0M33.7 184.2h0M38.1 184.1h0M44.6 184.3h0M50.8 183.9h0M55.2 184.1h0M89.1 183.8h0M97.4 184.0h0M114.1 184.3h0M121.0 183.8h0M127.4 184.1h0M131.2 183.9h0M137.9 184.1h0M144.3 184.2h0M150.5 184.0h0M152.6 183.8h0M9.4 186.0h0M18.1 185.8h0M19.9 185.9h0M24.4 186.0h0M30.5 186.0h0M45.2 185.6h0M79.2 186.0h0M109.2 186.0h0M113.6 185.6h0M124.0 185.7h0M134.2 185.7h0M153.6 185.7h0M12.7 187.6h0M29.3 187.5h0M33.6 187.6h0M44.2 187.5h0M52.8 187.7h0M55.3 187.5h0M84.9 187.5h0M88.8 187.9h0M116.3 187.4h0M123.1 187.7h0M144.0 187.9h0M156.6 187.9h0M171.5 188.0h0M175.7 187.9h0M182.5 187.9h0M11.4 189.5h0M32.9 189.8h0M81.6 189.3h0M83.9 189.6h0M89.8 189.4h0M108.9 189.8h0M117.4 189.4h0M139.0 189.8h0M151.8 189.7h0M166.1 189.3h0M168.4 189.3h0M29.9 191.6h0M40.5 191.3h0M57.3 191.4h0M78.3 191.1h0M82.4 191.2h0M86.7 191.1h0M93.4 191.7h0M97.2 191.5h0M101.6 191.1h0M127.1 191.5h0M140.0 191.5h0M146.3 191.3h0M171.7 191.3h0M174.0 191.2h0M11.3 193.0h0M30.4 193.0h0M45.4 193.0h0M51.8 193.5h0M56.3 193.1h0M58.4 193.5h0M62.7 193.3h0M70.9 193.3h0M83.4 193.4h0M104.8 193.1h0M113.1 193.3h0M130.3 193.2h0M134.4 193.5h0M136.6 193.1h0M143.3 193.4h0M144.9 193.4h0M155.8 193.0h0M162.0 193.0h0M8.3 195.2h0M10.8 195.0h0M59.4 194.8h0M63.6 195.0h0M65.5 195.1h0M69.7 195.0h0M80.2 195.4h0M97.6 195.1h0M99.8 194.8h0M127.2 195.3h0M152.8 195.3h0M154.9 195.3h0M167.7 195.3h0M173.9 194.8h0M176.1 195.3h0M9.3 196.7h0M18.1 196.8h0M19.9 197.1h0M47.8 196.7h0M58.3 197.2h0M60.4 196.7h0M75.5 196.8h0M77.2 196.8h0M100.9 197.1h0M106.9 196.8h0M134.6 196.8h0M155.5 196.7h0M159.8 197.2h0M162.0 197.2h0M166.2 197.1h0M168.3 196.9h0M44.3 198.8h0M78.5 199.0h0M91.3 198.6h0M97.5 198.9h0M125.0 198.7h0M133.7 198.9h0M148.6 198.7h0M152.4 199.0h0M9.7 200.5h0M30.9 200.7h0M35.0 200.9h0M41.0 200.4h0M58.0 200.6h0M60.5 200.7h0M89.8 200.6h0M92.3 200.9h0M117.5 200.7h0M124.0 200.5h0M132.7 200.6h0M134.4 200.6h0M149.7 200.8h0M8.2 202.7h0M10.7 202.6h0M35.9 202.7h0M37.9 202.6h0M46.6 202.2h0M48.9 202.4h0M59.2 202.4h0M87.0 202.5h0M137.6 202.7h0M140.1 202.7h0M169.4 202.4h0M182.1 202.5h0M32.6 204.0h0M39.0 204.2h0M45.6 204.4h0M52.1 204.5h0M54.2 204.2h0M68.6 204.6h0M73.3 204.1h0M87.7 204.3h0M122.0 204.1h0M125.9 204.0h0M132.4 204.1h0M151.4 204.3h0M153.4 204.4h0M158.0 204.1h0M166.1 204.6h0M12.4 206.0h0M23.0 206.4h0M27.3 206.0h0M36.1 206.0h0M99.8 206.3h0M106.1 206.2h0M110.2 206.0h0M112.2 206.2h0M114.3 206.1h0M118.8 206.2h0M123.1 206.1h0M126.9 206.3h0M131.4 206.4h0M154.7 206.0h0M159.1 206.3h0M171.9 206.2h0M11.5 208.1h0M16.0 207.8h0M21.9 208.2h0M28.7 208.1h0M34.6 208.0h0M75.2 207.7h0M79.3 208.1h0M90.3 207.7h0M98.4 208.2h0M145.0 208.0h0M157.7 208.2h0M172.9 208.1h0M23.0 209.6h0M25.3 209.9h0M29.4 209.9h0M54.8 209.7h0M65.8 209.9h0M78.6 209.9h0M86.9 209.9h0M97.5 209.9h0M105.7 209.5h0M107.8 210.0h0M114.1 209.9h0M118.4 209.8h0M127.4 209.5h0M133.6 209.7h0M137.6 209.9h0M140.1 209.7h0M146.2 209.8h0M158.7 209.7h0M180.2 210.0h0M20.2 211.8h0M52.0 211.5h0M54.0 211.4h0M60.2 211.7h0M64.6 211.5h0M66.9 211.8h0M72.9 211.6h0M83.5 211.6h0M90.2 211.5h0M98.2 211.4h0M104.9 211.7h0M111.1 211.6h0M126.0 211.7h0M130.3 211.7h0M132.7 211.5h0M174.8 211.4h0M40.2 213.6h0M48.4 213.2h0M51.0 213.4h0M52.9 213.3h0M82.9 213.4h0M91.0 213.5h0M97.5 213.5h0M110.0 213.2h0M143.9 213.5h0M180.4 213.5h0M11.5 215.5h0M13.8 215.6h0M18.2 215.5h0M28.5 215.2h0M37.1 215.3h0M45.2 215.2h0M51.6 215.3h0M71.2 215.1h0M75.0 215.5h0M140.8 215.2h0M157.9 215.3h0M174.7 215.1h0M16.9 217.1h0M25.4 217.2h0M31.7 217.4h0M36.0 217.3h0M53.0 217.4h0M84.7 217.3h0M93.3 216.9h0M110.0 217.2h0M131.6 217.1h0M141.7 217.5h0M148.6 217.0h0M157.0 217.4h0M169.6 217.0h0M171.8 216.9h0M182.4 217.4h0M13.8 219.2h0M22.0 219.3h0M24.4 218.7h0M26.3 219.0h0M35.2 219.0h0M39.1 219.0h0M41.2 219.2h0M90.2 219.3h0M94.0 218.9h0M117.8 218.7h0M121.7 219.3h0M132.5 218.8h0M140.8 219.0h0M147.2 219.0h0M153.6 218.9h0M155.6 219.0h0M164.4 219.1h0M173.0 219.1h0M10.4 220.9h0M18.8 220.9h0M42.1 221.1h0M44.6 220.8h0M48.5 221.1h0M52.7 220.9h0M76.1 220.8h0M78.3 221.1h0M97.2 220.9h0M118.5 221.0h0M120.9 220.6h0M137.9 221.1h0M148.5 221.0h0M159.1 220.7h0M13.8 222.7h0M22.2 223.0h0M41.0 222.9h0M45.8 222.6h0M62.2 222.6h0M64.8 222.8h0M68.9 222.5h0M88.0 222.7h0M119.6 222.6h0M162.0 222.4h0M164.4 222.6h0M170.5 222.5h0M179.1 222.9h0M8.4 224.5h0M20.8 224.8h0M23.1 224.8h0M44.3 224.8h0M46.3 224.3h0M84.9 224.5h0M90.8 224.6h0M101.9 224.3h0M135.7 224.7h0M146.4 224.8h0M148.4 224.7h0M178.2 224.4h0M182.3 224.3h0M13.5 226.5h0M24.4 226.2h0M26.2 226.3h0M43.1 226.2h0M56.2 226.3h0M58.0 226.4h0M64.3 226.4h0M92.1 226.6h0M96.3 226.2h0M102.9 226.3h0M130.4 226.5h0M140.6 226.2h0M151.7 226.1h0M181.3 226.6h0M8.3 228.3h0M48.7 227.9h0M54.8 228.0h0M70.0 228.0h0M101.6 228.5h0M105.7 228.2h0M122.8 228.5h0M133.6 228.2h0M178.2 228.4h0M13.7 230.2h0M32.6 230.1h0M51.7 229.8h0M56.1 230.2h0M62.7 229.9h0M68.6 229.8h0M85.8 229.9h0M104.6 229.8h0M113.2 230.0h0M141.1 230.0h0M147.1 230.2h0M175.0 229.8h0M8.7 232.0h0M10.8 231.7h0M14.9 231.7h0M23.1 231.7h0M48.9 232.1h0M54.8 231.6h0M67.9 231.7h0M74.2 232.1h0M87.1 232.2h0M95.4 231.7h0M110.0 231.7h0M114.4 231.9h0M116.6 231.7h0M129.1 231.9h0M131.5 231.7h0M163.4 232.0h0M182.0 231.7h0M9.3 233.6h0M30.5 233.7h0M39.1 233.5h0M49.7 233.9h0M55.9 233.8h0M70.8 233.5h0M74.9 233.7h0M90.0 233.7h0M92.3 233.9h0M113.3 233.4h0M117.9 233.4h0M119.5 233.5h0M130.2 233.7h0M136.6 233.7h0M149.5 233.5h0M160.1 233.5h0M168.5 233.7h0M172.9 233.5h0M19.2 235.8h0M25.4 235.4h0M42.1 235.7h0M48.7 235.7h0M57.0 235.5h0M84.6 235.4h0M86.6 235.7h0M91.3 235.4h0M99.4 235.5h0M101.6 235.7h0M120.6 235.4h0M123.0 235.8h0M129.3 235.6h0M133.7 235.5h0M144.3 235.7h0M145.9 235.4h0M175.8 235.7h0M20.2 237.4h0M33.0 237.4h0M53.9 237.7h0M60.2 237.6h0M83.8 237.6h0M104.8 237.3h0M130.2 237.3h0M134.5 237.2h0M142.7 237.6h0M158.0 237.5h0M166.5 237.7h0M8.6 239.2h0M25.2 239.0h0M50.6 239.0h0M53.1 239.3h0M65.9 239.4h0M95.5 239.1h0M112.5 239.1h0M114.4 239.4h0M127.0 239.1h0M143.8 239.1h0M156.8 239.4h0M180.3 239.4h0M28.6 240.8h0M60.3 241.0h0M83.9 240.8h0M85.7 241.2h0M125.9 240.9h0M128.0 241.1h0M147.2 241.0h0M149.2 241.2h0M153.6 240.8h0M155.5 240.9h0M168.5 241.2h0M181.2 240.9h0M15.0 242.9h0M63.7 243.0h0M65.4 243.0h0M86.9 243.0h0M88.8 242.7h0M110.5 242.9h0M116.4 243.0h0M124.7 242.9h0M144.1 242.9h0M152.4 243.1h0M178.3 242.8h0M180.0 243.0h0M182.3 242.6h0M14.0 244.9h0M26.5 245.1h0M39.2 244.6h0M68.6 244.7h0M109.0 244.6h0M113.6 244.6h0M125.9 244.5h0M128.1 245.0h0M130.3 244.6h0M159.8 244.7h0M15.1 246.6h0M20.9 246.6h0M27.5 246.9h0M42.6 246.8h0M52.7 246.5h0M112.2 246.3h0M148.3 246.8h0M152.3 246.8h0M159.1 246.5h0M179.9 246.4h0M37.0 248.6h0M47.4 248.6h0M50.0 248.4h0M58.5 248.3h0M77.1 248.3h0M79.7 248.6h0M87.6 248.7h0M92.2 248.4h0M96.5 248.6h0M113.6 248.7h0M130.5 248.2h0M149.6 248.6h0M168.4 248.7h0M172.9 248.4h0M8.2 250.2h0M23.0 250.3h0M27.5 250.5h0M29.5 250.2h0M31.5 250.0h0M33.9 250.3h0M40.2 250.2h0M46.3 250.6h0M51.0 250.2h0M54.9 250.3h0M56.9 250.1h0M67.8 250.4h0M90.9 250.5h0M101.6 250.4h0M139.6 250.5h0M141.8 250.3h0M146.4 250.1h0M148.6 250.4h0M165.3 250.0h0M182.2 250.3h0M11.7 252.2h0M39.0 251.8h0M47.8 252.2h0M54.0 251.9h0M77.6 252.3h0M100.5 252.4h0M102.7 252.3h0M117.3 252.3h0M122.0 252.0h0M132.7 252.1h0M136.9 252.0h0M143.2 252.1h0M149.1 252.4h0M168.8 252.3h0M31.5 254.2h0M33.7 254.2h0M44.3 253.9h0M48.8 254.1h0M76.5 254.0h0M91.3 253.7h0M103.6 253.7h0M133.2 254.1h0M154.5 253.8h0M158.8 253.8h0M163.4 254.2h0M167.1 254.2h0M178.1 254.0h0M182.0 254.2h0" stroke="#2ba6e2" stroke-width="1.95" stroke-linecap="square" fill="none"/>
<path d="M41.3 141.5h0M49.5 141.9h0M54.1 141.8h0M56.0 141.9h0M92.3 141.8h0M94.2 141.7h0M123.8 141.9h0M164.1 142.0h0M104.0 143.8h0M176.1 143.4h0M24.4 145.1h0M28.5 145.2h0M32.7 145.3h0M81.4 145.2h0M132.2 145.5h0M181.4 145.7h0M10.4 147.1h0M12.7 147.2h0M14.7 147.4h0M123.0 147.2h0M173.5 147.2h0M39.0 148.8h0M85.8 149.1h0M109.2 148.9h0M163.9 149.3h0M177.0 148.9h0M46.7 151.1h0M76.1 150.6h0M88.7 150.8h0M103.8 150.7h0M120.6 150.8h0M171.8 151.2h0M22.4 153.0h0M72.9 152.7h0M77.4 152.7h0M79.6 152.6h0M92.1 152.8h0M119.4 152.5h0M138.5 152.5h0M141.1 152.5h0M145.2 152.5h0M155.8 152.9h0M177.0 153.0h0M29.4 154.6h0M38.2 154.7h0M126.8 154.4h0M158.7 154.9h0M41.5 156.4h0M94.3 156.6h0M121.7 156.3h0M25.6 158.2h0M42.5 158.3h0M54.9 158.3h0M65.7 158.1h0M144.4 158.4h0M150.5 158.5h0M163.0 158.5h0M167.6 158.4h0M11.9 160.1h0M39.1 160.2h0M43.3 159.9h0M60.3 160.1h0M62.5 160.1h0M86.0 160.4h0M168.3 160.1h0M177.0 160.4h0M50.7 162.2h0M69.8 161.7h0M71.9 161.8h0M78.5 162.2h0M82.6 161.8h0M99.3 162.2h0M121.0 161.8h0M127.2 162.0h0M135.5 161.8h0M150.6 161.8h0M45.4 164.0h0M111.3 163.7h0M175.1 163.7h0M8.3 165.6h0M16.7 165.5h0M42.4 165.3h0M69.6 165.6h0M84.8 165.8h0M86.8 165.6h0M112.4 165.6h0M120.6 165.8h0M131.1 165.9h0M30.8 167.4h0M43.3 167.4h0M45.2 167.7h0M85.5 167.3h0M130.4 167.7h0M67.8 169.3h0M112.3 169.3h0M118.9 169.1h0M123.2 169.4h0M165.5 169.5h0M167.1 169.1h0M169.2 169.1h0M16.1 171.4h0M22.2 171.2h0M54.0 171.0h0M14.6 173.0h0M63.8 173.0h0M70.1 173.3h0M82.5 173.0h0M158.9 173.2h0M163.3 173.1h0M11.3 174.6h0M24.4 175.1h0M34.6 174.9h0M77.4 174.9h0M113.2 175.0h0M132.7 174.9h0M174.8 174.8h0M29.9 176.7h0M36.0 176.6h0M80.4 176.5h0M87.1 176.6h0M91.2 176.9h0M116.6 176.8h0M124.8 176.4h0M177.8 177.0h0M58.5 178.7h0M115.2 178.7h0M124.0 178.5h0M172.5 178.6h0M69.7 180.5h0M72.3 180.5h0M86.7 180.3h0M91.2 180.5h0M157.0 180.5h0M167.6 180.6h0M173.8 180.6h0M36.8 182.4h0M149.1 182.3h0M166.3 182.1h0M36.0 183.8h0M46.4 184.3h0M57.0 184.1h0M61.5 183.9h0M105.8 184.3h0M165.1 184.0h0M169.7 183.8h0M171.5 183.9h0M28.6 186.1h0M43.5 186.1h0M47.4 185.6h0M87.7 186.1h0M147.3 185.9h0M151.5 185.6h0M31.7 187.5h0M124.9 187.6h0M142.2 187.4h0M152.8 187.7h0M30.6 189.5h0M54.0 189.5h0M55.8 189.4h0M58.1 189.5h0M115.2 189.8h0M121.7 189.8h0M136.7 189.4h0M25.1 191.2h0M46.5 191.7h0M55.2 191.6h0M80.5 191.2h0M91.2 191.2h0M108.1 191.4h0M133.5 191.2h0M135.8 191.3h0M141.9 191.5h0M26.5 193.3h0M49.5 193.1h0M85.6 193.4h0M124.2 193.0h0M159.7 193.1h0M166.4 193.0h0M29.3 195.1h0M103.6 194.9h0M110.4 195.4h0M133.7 194.8h0M169.8 194.9h0M180.2 195.1h0M11.4 197.0h0M22.2 197.2h0M81.6 196.7h0M140.9 196.8h0M164.5 197.1h0M70.2 198.5h0M101.8 199.0h0M110.3 198.6h0M114.4 198.5h0M122.9 199.0h0M127.1 198.9h0M140.0 199.0h0M163.1 198.9h0M121.6 200.5h0M147.4 200.4h0M151.3 200.5h0M50.8 202.3h0M61.3 202.3h0M97.4 202.7h0M118.5 202.4h0M135.6 202.6h0M173.9 202.3h0M37.1 204.3h0M66.5 204.3h0M81.7 204.1h0M107.2 204.4h0M119.4 204.5h0M10.2 206.3h0M25.4 206.0h0M48.6 206.1h0M59.2 206.2h0M102.0 206.1h0M103.7 206.3h0M121.0 206.4h0M30.7 208.1h0M96.5 208.1h0M113.1 207.7h0M117.7 207.7h0M126.3 207.8h0M112.2 209.7h0M152.6 210.0h0M28.4 211.8h0M124.1 211.4h0M27.2 213.7h0M42.1 213.6h0M88.7 213.4h0M112.0 213.7h0M118.9 213.4h0M154.6 213.4h0M157.1 213.6h0M182.3 213.6h0M9.3 215.3h0M15.9 215.3h0M153.7 215.5h0M159.7 215.1h0M179.3 215.6h0M42.4 217.4h0M97.2 217.2h0M101.5 217.0h0M125.0 216.9h0M16.1 219.0h0M96.5 218.8h0M138.9 219.1h0M181.0 219.1h0M46.6 220.8h0M69.8 220.8h0M88.9 221.0h0M152.3 221.1h0M157.0 221.0h0M38.8 222.9h0M71.0 222.6h0M98.2 222.6h0M106.9 222.8h0M122.1 222.8h0M138.6 222.8h0M147.5 222.9h0M158.1 222.8h0M80.6 224.4h0M140.0 224.5h0M159.1 224.4h0M161.2 224.3h0M54.1 226.4h0M66.4 226.4h0M117.4 226.3h0M145.0 226.5h0M164.2 226.3h0M67.5 228.1h0M167.6 228.3h0M18.2 230.0h0M19.8 229.8h0M26.6 230.3h0M67.0 229.8h0M158.1 229.8h0M19.0 231.7h0M50.8 231.9h0M69.8 231.6h0M107.8 231.9h0M112.1 231.9h0M127.2 232.1h0M159.1 231.6h0M18.0 233.7h0M26.2 233.9h0M73.0 234.0h0M85.5 233.7h0M138.6 233.8h0M164.2 233.8h0M177.2 234.0h0M10.5 235.3h0M12.4 235.8h0M29.6 235.5h0M95.6 235.8h0M16.1 237.4h0M34.6 237.6h0M45.6 237.5h0M58.3 237.6h0M73.0 237.5h0M125.9 237.5h0M138.7 237.7h0M48.8 239.2h0M67.7 239.5h0M70.2 239.1h0M82.8 239.0h0M86.8 239.5h0M92.9 239.2h0M62.7 240.8h0M68.9 240.8h0M162.3 241.0h0M175.0 241.2h0M25.5 242.6h0M50.8 242.9h0M150.4 242.8h0M169.8 243.1h0M41.5 244.5h0M62.3 244.7h0M81.4 244.9h0M94.3 245.0h0M104.6 245.0h0M23.3 246.7h0M46.8 246.8h0M99.6 246.4h0M103.7 246.3h0M171.7 246.6h0M15.9 248.5h0M54.0 248.3h0M68.5 248.6h0M134.4 248.3h0M151.4 248.3h0M157.8 248.4h0M162.3 248.4h0M42.2 250.5h0M17.9 252.1h0M26.5 251.9h0M41.5 252.1h0M64.4 252.4h0M81.6 252.0h0M83.7 251.9h0M89.9 251.8h0M179.0 252.1h0M61.2 253.7h0M74.3 253.9h0M82.6 254.2h0M86.6 253.9h0M93.4 254.1h0M124.8 254.1h0" stroke="#5fb85e" stroke-width="1.95" stroke-linecap="square" fill="none"/>
<path d="M79.3 141.6h0M12.9 143.5h0M42.4 143.4h0M78.5 143.4h0M125.1 143.4h0M58.1 145.5h0M77.3 145.3h0M113.3 145.7h0M121.6 145.3h0M101.7 147.2h0M108.3 147.0h0M114.7 147.2h0M118.7 147.2h0M72.9 149.0h0M77.2 149.0h0M10.3 151.1h0M74.0 151.0h0M83.5 152.8h0M151.6 153.0h0M179.2 152.5h0M93.4 154.6h0M108.3 154.4h0M116.6 154.6h0M154.5 154.6h0M19.9 156.7h0M22.4 156.4h0M12.9 158.2h0M182.1 158.1h0M128.0 160.3h0M179.2 160.3h0M8.6 162.2h0M49.6 163.6h0M115.2 163.7h0M135.3 165.6h0M47.8 167.4h0M52.9 169.6h0M114.2 169.2h0M126.0 170.9h0M166.5 171.0h0M72.1 173.0h0M162.2 174.9h0M101.6 176.8h0M161.3 176.6h0M54.2 178.5h0M42.4 180.2h0M163.1 180.2h0M60.2 182.1h0M138.6 182.0h0M182.4 183.8h0M121.7 185.8h0M140.7 185.7h0M42.3 187.8h0M120.9 187.5h0M123.1 191.5h0M160.9 191.4h0M163.0 191.2h0M165.1 191.3h0M15.6 193.1h0M157.6 193.2h0M168.6 193.3h0M14.5 194.9h0M19.0 195.3h0M50.8 195.1h0M78.4 195.0h0M156.9 194.9h0M17.0 199.0h0M59.3 198.5h0M120.9 198.8h0M146.1 198.5h0M69.0 200.9h0M138.7 200.8h0M174.8 200.6h0M44.6 202.5h0M65.7 202.5h0M124.9 202.2h0M175.7 202.5h0M9.4 204.5h0M170.3 204.5h0M181.2 204.0h0M76.3 206.0h0M78.2 205.9h0M80.3 206.3h0M156.8 209.5h0M119.4 211.5h0M46.8 213.6h0M101.8 213.7h0M91.3 216.9h0M99.7 217.3h0M45.4 219.1h0M160.0 218.8h0M133.2 224.4h0M171.4 224.4h0M72.8 226.6h0M86.0 226.4h0M134.3 226.6h0M147.1 226.5h0M166.3 226.4h0M18.9 228.2h0M112.2 228.2h0M116.7 227.9h0M169.4 228.4h0M145.3 230.3h0M29.4 231.7h0M137.8 232.0h0M161.1 232.1h0M169.7 231.8h0M137.8 235.5h0M14.8 239.4h0M19.0 239.3h0M33.7 242.7h0M40.3 242.9h0M146.4 242.9h0M45.3 244.5h0M55.2 246.9h0M63.4 246.6h0M84.5 246.3h0M92.9 246.4h0M20.1 248.6h0M61.4 250.5h0M84.7 250.4h0M89.1 250.3h0M28.7 252.4h0M87.6 252.4h0M42.4 254.1h0M63.6 254.2h0M95.3 254.0h0M152.6 253.8h0M180.3 253.7h0" stroke="#f6d524" stroke-width="1.95" stroke-linecap="square" fill="none"/>
<path d="M54.2 145.4h0M61.2 150.7h0M47.5 152.5h0M90.9 154.5h0M24.4 156.6h0M143.0 156.5h0M165.2 158.4h0M176.1 158.3h0M46.3 162.0h0M134.7 163.6h0M136.5 163.8h0M114.3 165.9h0M118.4 165.8h0M13.9 167.4h0M93.4 169.4h0M64.3 171.4h0M150.4 172.8h0M121.5 174.7h0M128.4 174.7h0M151.6 174.9h0M10.5 176.7h0M75.4 178.6h0M79.3 178.7h0M57.2 180.4h0M168.3 182.0h0M32.6 186.1h0M59.1 187.5h0M41.1 189.6h0M124.8 191.2h0M156.8 191.1h0M17.9 193.1h0M96.5 192.9h0M146.5 195.2h0M150.3 195.0h0M149.1 197.0h0M143.1 200.6h0M33.6 202.5h0M69.9 202.6h0M21.4 205.8h0M181.4 208.2h0M123.0 209.8h0M69.0 211.4h0M103.7 213.6h0M116.4 213.7h0M21.9 215.4h0M60.4 215.1h0M68.6 215.3h0M17.7 219.1h0M98.4 219.0h0M17.0 220.6h0M59.1 220.8h0M169.8 221.1h0M168.2 222.7h0M71.0 226.1h0M115.6 226.1h0M93.3 228.4h0M95.0 228.1h0M94.4 230.1h0M134.7 230.3h0M31.8 235.6h0M139.8 235.4h0M100.3 237.7h0M20.1 241.1h0M49.7 241.3h0M89.7 241.1h0M103.7 243.0h0M20.1 244.6h0M94.1 248.6h0M115.5 248.4h0M84.6 254.0h0M127.1 254.2h0" stroke="#f0802a" stroke-width="1.95" stroke-linecap="square" fill="none"/>
<path d="M89.9 145.1h0M65.6 147.0h0M138.0 147.2h0M142.0 147.3h0M68.7 148.9h0M162.4 149.1h0M170.3 149.1h0M31.6 150.7h0M97.6 151.0h0M101.4 151.0h0M30.9 152.5h0M75.0 152.6h0M43.3 163.9h0M62.4 164.0h0M31.8 165.9h0M32.8 167.7h0M105.1 167.2h0M117.8 167.5h0M168.2 167.4h0M29.5 169.2h0M149.2 171.0h0M78.4 172.9h0M97.2 172.9h0M161.1 173.3h0M177.0 174.7h0M112.4 176.5h0M17.8 178.3h0M83.8 178.4h0M159.8 178.7h0M108.2 180.6h0M29.8 184.2h0M126.4 186.0h0M128.3 185.6h0M27.5 187.5h0M28.7 189.5h0M34.7 189.3h0M79.4 189.7h0M141.1 189.5h0M159.8 189.7h0M27.5 191.2h0M114.6 191.6h0M182.3 191.5h0M123.1 195.1h0M165.0 195.2h0M79.3 196.9h0M157.6 197.2h0M170.7 197.0h0M29.5 198.6h0M150.4 199.0h0M53.9 200.7h0M64.6 200.4h0M153.9 200.3h0M82.7 202.2h0M144.4 202.5h0M15.8 204.4h0M136.5 204.5h0M83.4 207.9h0M8.3 209.8h0M158.8 213.4h0M175.7 213.3h0M47.9 215.6h0M14.6 217.3h0M38.2 217.3h0M49.9 219.2h0M57.2 220.8h0M67.8 220.9h0M90.9 220.8h0M182.3 221.0h0M20.3 222.5h0M65.8 224.7h0M67.7 224.7h0M89.1 224.3h0M114.6 224.7h0M116.4 224.4h0M65.5 228.2h0M99.6 228.2h0M96.1 230.2h0M168.7 230.0h0M97.7 231.6h0M111.0 234.0h0M88.9 235.8h0M125.3 235.3h0M165.6 235.7h0M56.0 237.5h0M44.7 239.0h0M59.3 239.5h0M163.0 239.0h0M26.5 241.1h0M113.3 241.2h0M143.1 241.3h0M145.3 240.9h0M9.2 244.9h0M56.3 244.9h0M151.4 245.0h0M51.8 248.7h0M170.5 248.3h0M89.2 253.8h0" stroke="#dc2424" stroke-width="1.95" stroke-linecap="square" fill="none"/>
</g>
<path d="M104.7 140.2l.9 1.8h-1.8zM83.1 140.2l.9 1.8h-1.8zM14.1 140.2l.9 1.8h-1.8zM105.0 140.2l.9 1.8h-1.8zM55.3 140.2l.9 1.8h-1.8zM146.1 140.2l.9 1.8h-1.8zM82.1 140.2l.9 1.8h-1.8zM172.8 140.2l.9 1.8h-1.8zM127.6 140.2l.9 1.8h-1.8zM173.0 140.2l.9 1.8h-1.8zM147.8 140.2l.9 1.8h-1.8zM135.3 140.2l.9 1.8h-1.8zM35.0 140.2l.9 1.8h-1.8zM85.9 140.2l.9 1.8h-1.8zM71.3 255.4l.9 -1.8h-1.8zM60.9 255.4l.9 -1.8h-1.8zM48.9 255.4l.9 -1.8h-1.8zM79.8 255.4l.9 -1.8h-1.8zM149.9 255.4l.9 -1.8h-1.8zM36.3 255.4l.9 -1.8h-1.8zM73.5 255.4l.9 -1.8h-1.8zM23.2 255.4l.9 -1.8h-1.8zM7.8 190.3l1.8 .9v-1.8zM7.8 151.0l1.8 .9v-1.8zM7.8 246.1l1.8 .9v-1.8zM7.8 151.4l1.8 .9v-1.8zM7.8 234.8l1.8 .9v-1.8zM7.8 206.0l1.8 .9v-1.8zM7.8 175.5l1.8 .9v-1.8zM7.8 203.0l1.8 .9v-1.8zM182.4 243.1l-1.8 .9v-1.8zM182.4 193.7l-1.8 .9v-1.8zM182.4 215.5l-1.8 .9v-1.8zM182.4 217.8l-1.8 .9v-1.8zM182.4 198.8l-1.8 .9v-1.8zM182.4 150.2l-1.8 .9v-1.8zM182.4 249.0l-1.8 .9v-1.8zM182.4 202.3l-1.8 .9v-1.8z" fill="#e03030"/>
<rect x="6.6" y="139.0" width="176.7" height="117.7" fill="none" stroke="#111" stroke-width="1.1"/>
<circle cx="172" cy="151" r="5.6" fill="#1d2a7a" opacity="0.55" filter="url(#spot)"/>
<text x="172" y="155" font-size="13" fill="#141a50" text-anchor="middle" style="opacity:.75">(c)</text>
</g>
<text x="98.8" y="271" font-size="9.3" text-anchor="middle" fill="#222" textLength="171" lengthAdjust="spacingAndGlyphs">Voronoi area deviation from hexagonal (%)</text>
<g id="panelE">
<clipPath id="clipE"><rect x="8.2" y="277.4" width="173.6" height="115.4"/></clipPath>
<g filter="url(#soft2)" clip-path="url(#clipE)">
<rect x="8.2" y="277.4" width="173.6" height="115.4" fill="#b2aeb8"/>
<path d="M9.2 278.6h0M13.5 278.1h0M15.3 278.7h0M22.1 278.1h0M24.0 278.6h0M26.0 278.5h0M28.2 278.3h0M30.6 278.6h0M32.8 278.4h0M43.0 278.2h0M45.0 278.1h0M47.6 278.1h0M49.6 278.5h0M51.6 278.6h0M64.2 278.2h0M66.2 278.1h0M68.6 278.0h0M72.8 278.3h0M75.0 278.5h0M77.0 278.0h0M78.9 278.4h0M81.5 278.6h0M83.3 278.3h0M87.5 278.4h0M91.8 278.1h0M96.0 278.1h0M100.7 278.1h0M106.9 278.6h0M109.0 278.3h0M110.8 278.5h0M112.9 278.1h0M119.8 278.4h0M121.4 278.2h0M125.6 278.5h0M128.2 278.3h0M129.8 278.2h0M132.5 278.6h0M134.6 278.4h0M140.4 278.3h0M146.9 278.1h0M149.4 278.4h0M151.4 278.3h0M153.1 278.3h0M155.3 278.2h0M159.6 278.6h0M162.1 278.2h0M166.2 278.4h0M168.4 278.5h0M176.8 278.5h0M178.7 278.4h0M8.2 280.1h0M10.4 280.3h0M14.7 280.3h0M16.7 280.4h0M21.2 280.1h0M23.2 280.3h0M24.9 280.3h0M27.5 280.3h0M29.3 280.4h0M33.4 279.9h0M35.9 280.2h0M37.9 280.4h0M44.2 280.4h0M46.7 279.9h0M48.3 280.4h0M53.0 280.3h0M54.6 280.4h0M57.3 280.0h0M58.8 280.1h0M67.3 280.3h0M70.0 280.1h0M71.6 280.0h0M76.4 279.9h0M77.9 280.4h0M92.8 279.8h0M95.0 280.4h0M96.9 280.1h0M101.3 280.4h0M105.8 280.3h0M108.1 280.2h0M109.9 280.0h0M111.9 280.5h0M114.5 280.5h0M116.6 280.0h0M120.6 280.1h0M123.0 280.2h0M126.7 280.5h0M129.2 279.8h0M131.3 280.4h0M133.4 280.3h0M135.7 279.9h0M137.2 280.5h0M140.0 280.3h0M141.7 280.1h0M143.9 280.2h0M146.2 280.2h0M148.0 279.9h0M152.7 280.3h0M154.4 280.4h0M156.8 280.4h0M158.7 280.1h0M160.9 280.1h0M162.7 279.9h0M167.1 280.2h0M173.3 280.1h0M175.6 280.1h0M177.7 280.4h0M182.1 280.1h0M9.1 282.0h0M11.1 281.9h0M13.2 282.0h0M15.6 282.0h0M17.5 282.1h0M19.9 282.2h0M22.0 282.3h0M24.3 282.3h0M26.5 281.7h0M28.6 282.1h0M43.2 282.3h0M45.4 282.2h0M47.7 282.3h0M49.5 282.2h0M51.6 282.3h0M53.5 281.7h0M55.9 281.8h0M58.2 282.0h0M60.1 282.0h0M62.4 282.0h0M66.4 282.3h0M70.8 282.3h0M73.0 281.7h0M75.0 282.1h0M77.3 281.8h0M81.1 282.3h0M83.2 281.7h0M87.8 282.3h0M89.9 282.3h0M98.4 281.9h0M102.5 281.7h0M104.8 282.0h0M106.7 281.9h0M108.8 282.2h0M111.2 282.3h0M113.3 282.3h0M117.4 282.3h0M119.5 282.2h0M125.8 282.3h0M130.0 282.1h0M132.0 282.1h0M134.6 282.3h0M138.9 282.3h0M140.5 281.8h0M143.1 282.0h0M145.0 282.0h0M146.8 282.0h0M149.4 281.8h0M151.5 281.7h0M155.4 281.8h0M157.6 281.8h0M159.5 282.0h0M162.1 281.9h0M163.8 282.3h0M166.1 282.2h0M168.2 282.0h0M174.7 281.7h0M177.0 281.8h0M10.1 283.6h0M12.2 283.7h0M14.7 283.8h0M16.6 283.6h0M20.6 284.0h0M23.2 283.9h0M25.3 284.2h0M27.2 283.8h0M29.7 283.6h0M35.5 283.8h0M37.7 283.9h0M44.3 284.1h0M46.0 283.9h0M48.7 283.7h0M50.9 283.6h0M53.0 283.8h0M54.7 283.7h0M57.3 283.8h0M59.3 283.9h0M61.5 283.8h0M63.3 283.7h0M65.4 283.5h0M67.6 283.9h0M69.8 283.8h0M72.0 284.0h0M73.6 283.9h0M75.9 283.8h0M80.4 283.8h0M84.4 283.5h0M86.5 284.1h0M90.8 284.0h0M95.2 283.9h0M103.9 283.9h0M105.8 283.9h0M107.6 283.7h0M110.1 283.8h0M111.9 283.7h0M114.0 283.7h0M120.6 284.1h0M122.8 284.0h0M124.5 284.1h0M131.4 284.2h0M137.6 283.7h0M139.9 283.7h0M142.1 283.8h0M146.1 284.1h0M150.5 284.0h0M152.0 283.7h0M154.1 284.0h0M156.5 283.7h0M159.0 283.8h0M165.0 284.2h0M167.3 284.2h0M171.7 283.5h0M175.8 283.9h0M177.6 283.5h0M179.6 284.0h0M182.2 283.8h0M15.3 286.0h0M17.7 285.7h0M19.9 285.4h0M24.1 285.9h0M26.2 285.5h0M36.9 285.4h0M39.1 285.8h0M41.2 285.9h0M42.9 285.9h0M45.5 286.0h0M47.2 285.4h0M49.4 285.4h0M51.8 285.5h0M53.6 285.8h0M55.6 286.0h0M57.9 285.5h0M60.0 285.8h0M66.8 285.5h0M68.9 286.0h0M71.0 285.8h0M73.0 285.9h0M75.0 285.8h0M77.1 285.5h0M83.2 285.4h0M85.9 285.4h0M90.1 285.7h0M91.8 285.5h0M94.3 285.7h0M95.8 285.9h0M98.4 285.4h0M100.1 285.8h0M102.5 285.4h0M106.9 285.4h0M109.2 285.3h0M111.3 285.8h0M113.0 285.7h0M117.2 285.4h0M119.7 285.6h0M121.5 285.9h0M124.1 285.5h0M125.9 285.5h0M130.1 285.9h0M132.3 285.6h0M134.4 285.9h0M136.4 285.5h0M138.6 285.4h0M141.0 286.0h0M142.7 285.5h0M145.0 285.6h0M147.0 285.6h0M149.4 285.9h0M151.3 285.4h0M153.5 285.4h0M157.6 286.0h0M159.9 286.0h0M162.2 285.7h0M164.0 285.9h0M166.0 285.9h0M168.4 286.0h0M172.5 285.6h0M174.9 285.8h0M178.7 285.7h0M181.2 285.5h0M10.6 287.7h0M12.3 287.5h0M14.7 287.3h0M17.0 287.3h0M18.9 287.4h0M21.0 287.2h0M23.2 287.2h0M24.9 287.7h0M27.4 287.8h0M29.7 287.3h0M31.4 287.6h0M33.8 287.6h0M35.9 287.3h0M38.1 287.3h0M40.1 287.6h0M41.9 287.3h0M44.5 287.6h0M46.3 287.2h0M50.8 287.3h0M52.9 287.7h0M54.6 287.3h0M57.1 287.4h0M61.2 287.3h0M63.6 287.2h0M67.3 287.4h0M69.4 287.5h0M71.7 287.7h0M73.7 287.6h0M78.4 287.2h0M80.0 287.8h0M82.5 287.2h0M84.8 287.2h0M86.9 287.6h0M88.5 287.7h0M92.8 287.7h0M95.3 287.8h0M101.1 287.8h0M108.0 287.3h0M109.8 287.4h0M111.9 287.5h0M116.6 287.3h0M118.2 287.2h0M120.6 287.5h0M122.8 287.2h0M124.6 287.7h0M128.8 287.7h0M131.3 287.5h0M133.0 287.6h0M135.6 287.5h0M137.5 287.2h0M139.9 287.5h0M141.5 287.4h0M143.7 287.6h0M146.1 287.6h0M150.3 287.2h0M152.7 287.7h0M154.2 287.6h0M156.5 287.2h0M158.5 287.8h0M160.8 287.2h0M163.3 287.4h0M165.1 287.2h0M167.3 287.8h0M169.2 287.7h0M171.7 287.4h0M175.7 287.7h0M177.7 287.4h0M180.2 287.5h0M182.1 287.7h0M17.9 289.1h0M26.0 289.1h0M28.2 289.6h0M30.5 289.4h0M34.9 289.7h0M36.8 289.7h0M38.7 289.1h0M41.0 289.2h0M43.1 289.2h0M45.5 289.1h0M49.8 289.4h0M51.8 289.2h0M53.8 289.7h0M56.1 289.5h0M59.8 289.4h0M61.9 289.1h0M64.1 289.6h0M66.4 289.2h0M69.0 289.2h0M72.6 289.1h0M77.3 289.6h0M85.9 289.1h0M88.0 289.4h0M89.5 289.6h0M91.8 289.5h0M94.1 289.0h0M100.7 289.6h0M104.7 289.6h0M106.7 289.3h0M115.4 289.6h0M117.3 289.1h0M119.5 289.0h0M121.8 289.1h0M123.8 289.1h0M127.8 289.0h0M132.0 289.4h0M134.3 289.0h0M136.7 289.5h0M138.3 289.7h0M145.2 289.1h0M147.3 289.1h0M148.9 289.3h0M151.2 289.7h0M153.2 289.4h0M155.7 289.4h0M157.6 289.4h0M161.7 289.4h0M163.8 289.5h0M166.2 289.5h0M168.5 289.5h0M170.1 289.6h0M179.2 289.2h0M181.1 289.2h0M10.5 291.5h0M12.3 291.2h0M16.9 291.5h0M19.0 290.9h0M22.9 291.4h0M31.3 291.5h0M35.8 291.2h0M37.8 291.1h0M40.0 291.4h0M42.2 291.4h0M44.4 291.3h0M46.2 291.0h0M48.7 291.1h0M50.7 291.3h0M53.0 290.9h0M57.3 291.1h0M59.4 290.9h0M61.2 291.2h0M65.7 291.4h0M67.4 291.4h0M71.8 291.4h0M76.0 290.9h0M80.1 291.3h0M84.8 291.2h0M86.9 291.3h0M91.0 291.1h0M93.2 291.2h0M95.3 291.3h0M97.6 291.4h0M99.1 291.4h0M101.5 291.1h0M103.4 291.1h0M105.7 291.4h0M107.9 291.4h0M109.7 291.5h0M112.4 291.0h0M116.2 291.2h0M122.7 291.2h0M126.9 291.5h0M131.4 291.2h0M135.7 291.4h0M137.5 291.1h0M139.3 290.9h0M145.8 291.5h0M148.1 291.2h0M154.8 291.0h0M156.8 290.9h0M160.6 290.9h0M167.5 291.5h0M169.2 291.1h0M171.8 291.0h0M173.5 291.1h0M175.9 291.4h0M178.1 291.2h0M180.0 291.5h0M9.2 293.3h0M11.6 293.3h0M13.4 293.3h0M15.4 293.0h0M22.2 293.0h0M36.6 292.8h0M39.3 293.0h0M45.1 293.2h0M53.8 293.1h0M60.4 293.1h0M64.5 293.2h0M66.2 293.0h0M72.9 293.1h0M75.1 292.7h0M79.5 293.0h0M81.6 292.9h0M85.9 292.9h0M89.9 292.7h0M92.0 292.8h0M93.8 292.7h0M96.4 292.8h0M98.5 292.7h0M100.3 293.1h0M104.9 293.1h0M106.4 293.0h0M108.8 293.4h0M110.8 293.0h0M115.5 292.8h0M125.6 293.0h0M128.2 293.0h0M136.3 293.2h0M138.7 293.4h0M140.9 292.7h0M144.8 293.2h0M147.4 293.3h0M149.0 292.9h0M151.4 292.7h0M153.2 293.4h0M157.4 293.3h0M159.6 293.4h0M164.0 293.1h0M168.4 293.1h0M170.6 293.3h0M172.7 292.7h0M177.1 292.8h0M7.9 295.1h0M10.2 294.6h0M12.6 294.8h0M14.3 294.9h0M16.5 294.6h0M20.6 295.0h0M41.9 295.1h0M44.4 295.1h0M46.4 295.0h0M50.4 295.0h0M52.6 295.0h0M56.9 294.7h0M59.2 295.2h0M63.3 294.5h0M67.3 294.6h0M69.7 295.0h0M73.8 294.9h0M76.0 295.1h0M78.2 294.7h0M80.1 295.1h0M84.8 294.9h0M86.5 295.0h0M88.8 294.8h0M90.7 295.0h0M92.8 294.7h0M94.8 295.2h0M101.6 295.2h0M108.0 294.6h0M116.6 295.2h0M118.2 295.1h0M120.7 294.6h0M122.7 295.0h0M124.9 295.0h0M126.8 294.8h0M131.2 294.9h0M133.5 294.5h0M137.6 295.2h0M146.1 295.0h0M150.2 295.0h0M152.2 294.9h0M154.7 295.2h0M158.5 295.0h0M160.6 294.9h0M163.3 294.7h0M165.3 294.8h0M167.4 294.7h0M169.0 295.0h0M171.5 295.1h0M177.7 294.5h0M180.0 294.7h0M182.2 294.5h0M9.1 296.4h0M11.1 296.6h0M13.2 296.6h0M15.8 296.9h0M21.9 296.9h0M26.1 296.9h0M41.0 296.8h0M51.6 296.9h0M53.6 296.6h0M58.2 297.1h0M60.0 297.0h0M66.5 296.9h0M70.5 297.1h0M72.6 297.0h0M74.6 296.6h0M77.4 296.6h0M79.5 296.9h0M81.3 297.0h0M83.6 296.4h0M85.9 296.6h0M87.5 296.6h0M90.1 296.6h0M92.1 296.6h0M94.2 296.9h0M96.1 297.0h0M100.7 296.7h0M102.7 297.0h0M104.7 296.6h0M106.6 296.9h0M108.8 296.6h0M110.9 296.9h0M112.9 296.5h0M115.5 296.5h0M117.0 296.4h0M119.6 296.5h0M121.9 296.5h0M136.5 296.9h0M141.0 296.8h0M144.7 296.4h0M149.3 296.6h0M151.5 296.8h0M155.4 296.7h0M157.7 296.9h0M160.1 296.4h0M161.8 296.6h0M164.1 296.4h0M168.3 297.0h0M170.5 296.4h0M180.9 296.6h0M12.1 298.6h0M14.5 298.4h0M16.5 298.6h0M23.0 298.4h0M27.3 298.4h0M29.6 298.5h0M33.7 298.5h0M50.8 298.4h0M52.4 298.6h0M58.8 298.5h0M65.4 298.3h0M67.7 298.2h0M70.0 298.5h0M71.6 298.2h0M74.1 298.4h0M75.9 298.2h0M78.3 298.3h0M80.4 298.4h0M82.7 298.4h0M84.9 298.5h0M86.3 298.5h0M88.6 298.6h0M95.2 298.2h0M101.3 298.7h0M103.8 298.4h0M105.4 298.7h0M107.8 298.4h0M109.7 298.4h0M111.9 298.6h0M114.4 298.6h0M116.1 298.2h0M118.6 298.2h0M120.7 298.6h0M128.9 298.7h0M133.1 298.3h0M137.4 298.6h0M142.1 298.4h0M143.8 298.6h0M145.8 298.2h0M147.8 298.3h0M156.3 298.3h0M159.0 298.6h0M160.8 298.4h0M163.1 298.5h0M169.5 298.5h0M171.1 298.4h0M180.2 298.4h0M182.2 298.9h0M11.0 300.6h0M13.8 300.7h0M17.9 300.6h0M19.9 300.1h0M23.9 300.4h0M30.6 300.6h0M32.8 300.5h0M34.6 300.2h0M36.8 300.3h0M41.2 300.1h0M43.3 300.2h0M47.5 300.2h0M51.5 300.7h0M58.1 300.2h0M59.8 300.1h0M68.9 300.1h0M70.9 300.6h0M72.7 300.1h0M79.2 300.1h0M81.6 300.3h0M85.5 300.5h0M87.8 300.5h0M90.0 300.3h0M93.8 300.4h0M96.2 300.1h0M102.4 300.3h0M104.3 300.3h0M106.6 300.6h0M108.7 300.2h0M115.2 300.1h0M117.7 300.7h0M119.7 300.2h0M123.9 300.1h0M127.9 300.3h0M130.2 300.5h0M132.0 300.5h0M145.2 300.6h0M146.7 300.4h0M148.9 300.5h0M151.6 300.6h0M153.6 300.4h0M155.6 300.4h0M157.8 300.4h0M159.7 300.4h0M161.9 300.1h0M163.8 300.1h0M168.5 300.5h0M170.5 300.4h0M178.7 300.3h0M10.6 302.5h0M12.2 302.2h0M14.6 302.2h0M16.4 302.1h0M18.8 302.2h0M22.9 302.4h0M25.5 302.4h0M29.5 302.3h0M31.9 302.0h0M33.6 302.2h0M44.0 302.1h0M46.5 302.4h0M48.3 302.1h0M50.6 302.3h0M52.9 302.0h0M54.8 302.0h0M60.9 302.5h0M63.6 302.0h0M65.7 302.3h0M67.7 301.9h0M69.4 302.2h0M71.6 302.1h0M73.9 302.5h0M76.1 302.5h0M82.7 302.6h0M86.5 302.2h0M88.9 302.3h0M90.8 302.2h0M92.7 302.5h0M96.9 302.0h0M103.4 302.3h0M105.5 302.2h0M108.1 302.3h0M120.4 301.9h0M122.6 302.6h0M125.1 302.5h0M126.7 302.0h0M128.8 302.3h0M131.1 302.0h0M135.6 301.9h0M139.7 302.1h0M141.4 302.5h0M143.6 302.4h0M146.1 302.4h0M150.2 302.0h0M154.3 302.3h0M156.7 302.5h0M158.4 302.2h0M160.6 302.4h0M163.1 302.2h0M167.0 301.9h0M169.5 302.4h0M171.7 302.3h0M173.6 302.2h0M9.5 304.2h0M11.3 304.0h0M13.5 304.1h0M15.3 303.8h0M17.7 303.8h0M24.1 304.4h0M26.3 304.3h0M30.7 304.2h0M32.8 304.2h0M38.8 303.9h0M41.2 304.1h0M43.3 304.3h0M47.4 303.9h0M49.3 304.1h0M53.6 304.1h0M56.2 304.0h0M64.4 303.8h0M68.7 304.1h0M70.6 304.4h0M73.0 304.4h0M75.1 303.8h0M76.8 303.8h0M78.9 304.3h0M81.6 304.1h0M83.3 304.1h0M85.7 303.8h0M88.0 304.3h0M90.1 304.2h0M91.8 304.0h0M96.4 303.9h0M102.6 304.1h0M106.5 304.3h0M108.9 304.4h0M110.7 303.7h0M113.5 304.2h0M115.4 303.9h0M119.8 303.8h0M121.6 303.9h0M123.9 304.0h0M125.9 303.7h0M127.7 304.2h0M132.4 304.0h0M138.7 304.1h0M140.8 304.4h0M151.6 303.8h0M153.1 304.3h0M157.8 303.8h0M159.6 304.3h0M161.8 303.9h0M166.2 304.2h0M168.0 304.2h0M170.5 304.4h0M172.3 304.4h0M176.6 304.1h0M179.0 304.1h0M8.5 306.2h0M14.8 305.8h0M25.0 306.0h0M27.6 306.2h0M29.1 305.9h0M31.8 305.6h0M33.6 306.3h0M36.0 305.7h0M37.6 305.7h0M42.3 306.2h0M43.9 305.8h0M46.2 306.0h0M52.6 305.9h0M54.7 305.7h0M57.0 306.2h0M58.8 305.8h0M61.4 306.2h0M63.6 305.9h0M69.7 305.9h0M72.0 306.0h0M74.0 306.1h0M76.1 305.8h0M78.2 305.8h0M80.2 306.0h0M88.5 305.7h0M90.8 305.7h0M92.8 306.0h0M95.3 305.7h0M101.3 306.1h0M103.8 306.3h0M109.9 306.2h0M112.2 305.7h0M114.5 305.7h0M116.5 306.2h0M118.2 305.7h0M120.7 306.2h0M122.7 306.3h0M126.9 306.1h0M129.0 305.9h0M131.4 305.6h0M133.4 305.7h0M137.7 305.9h0M139.9 305.7h0M142.0 306.0h0M144.1 306.1h0M148.0 306.1h0M149.9 306.2h0M158.8 305.7h0M160.6 306.2h0M163.2 306.1h0M167.1 306.1h0M171.1 305.6h0M175.8 305.9h0M177.5 305.9h0M182.1 306.1h0M9.6 307.8h0M11.2 307.9h0M13.7 307.8h0M15.3 307.6h0M18.0 308.0h0M20.0 307.5h0M22.2 307.8h0M24.3 307.5h0M26.5 307.8h0M28.1 307.7h0M30.5 307.8h0M32.6 307.7h0M34.4 307.6h0M36.7 307.8h0M38.8 307.6h0M41.2 307.5h0M43.4 307.8h0M45.1 307.5h0M47.2 308.0h0M49.5 307.5h0M51.8 307.7h0M53.7 307.7h0M56.0 307.7h0M57.8 307.7h0M62.4 307.9h0M64.4 307.5h0M68.7 307.8h0M70.6 307.6h0M73.1 307.9h0M75.2 307.7h0M76.9 308.0h0M79.5 307.5h0M81.2 307.5h0M87.8 308.0h0M89.8 307.8h0M93.9 307.9h0M109.2 307.6h0M111.3 307.5h0M113.3 307.8h0M117.5 307.9h0M119.6 307.5h0M121.8 307.5h0M128.1 307.5h0M130.3 308.1h0M132.3 307.7h0M134.4 308.0h0M142.6 307.6h0M147.0 307.9h0M149.4 308.1h0M151.4 307.6h0M153.1 307.9h0M155.8 307.8h0M157.7 307.5h0M159.6 307.5h0M161.8 307.7h0M164.3 307.6h0M166.1 307.8h0M170.7 307.5h0M8.4 309.4h0M10.5 309.8h0M14.2 309.6h0M20.7 309.3h0M22.9 309.3h0M25.4 309.6h0M31.7 309.6h0M33.5 309.8h0M35.8 309.3h0M37.6 309.8h0M44.0 309.6h0M50.9 309.3h0M52.5 309.9h0M54.9 309.7h0M56.8 309.5h0M65.4 309.4h0M67.4 309.5h0M69.9 309.5h0M71.9 309.5h0M73.7 309.5h0M75.9 309.3h0M78.0 309.8h0M80.1 309.5h0M82.2 309.8h0M88.9 309.4h0M90.8 309.6h0M92.9 309.8h0M97.5 309.9h0M99.2 309.8h0M108.2 309.7h0M109.7 309.9h0M112.3 309.4h0M118.1 309.6h0M131.0 309.8h0M142.0 309.5h0M143.8 309.8h0M146.1 309.3h0M148.2 309.5h0M149.9 309.3h0M152.7 309.9h0M154.5 309.7h0M156.5 309.8h0M158.5 309.5h0M163.3 309.7h0M171.4 309.3h0M175.3 309.8h0M179.6 309.5h0M182.0 309.3h0M9.2 311.1h0M11.6 311.2h0M15.6 311.8h0M21.8 311.8h0M24.0 311.5h0M28.7 311.4h0M34.9 311.2h0M36.5 311.3h0M43.4 311.7h0M53.4 311.6h0M62.1 311.3h0M64.2 311.7h0M66.5 311.7h0M68.8 311.7h0M70.5 311.7h0M74.9 311.6h0M76.8 311.2h0M78.9 311.4h0M87.9 311.7h0M89.7 311.6h0M92.2 311.5h0M98.6 311.4h0M100.7 311.8h0M108.9 311.3h0M111.0 311.5h0M113.4 311.1h0M115.3 311.2h0M119.7 311.4h0M121.9 311.6h0M123.4 311.5h0M132.1 311.2h0M134.3 311.4h0M136.4 311.3h0M140.7 311.6h0M142.9 311.2h0M144.8 311.7h0M147.3 311.5h0M149.1 311.7h0M151.1 311.3h0M155.3 311.5h0M159.7 311.5h0M168.2 311.5h0M172.2 311.5h0M174.3 311.2h0M180.8 311.2h0M8.4 313.6h0M10.5 313.4h0M12.2 313.3h0M17.0 313.4h0M19.1 313.5h0M23.1 313.2h0M25.5 313.4h0M31.3 313.6h0M42.0 313.1h0M44.5 313.4h0M48.5 313.4h0M50.3 313.2h0M55.0 312.9h0M59.0 313.2h0M61.2 313.0h0M78.3 313.4h0M80.3 313.5h0M84.8 313.1h0M89.0 313.1h0M92.9 313.2h0M94.9 313.4h0M99.1 313.5h0M105.4 313.4h0M108.0 313.4h0M110.2 313.3h0M111.9 313.0h0M125.1 313.4h0M126.6 313.0h0M131.1 313.3h0M133.3 313.4h0M135.3 313.2h0M139.3 313.0h0M141.9 313.3h0M143.9 313.6h0M146.0 313.2h0M147.8 313.3h0M150.3 313.1h0M154.8 313.5h0M158.4 313.3h0M160.7 313.3h0M163.3 313.4h0M165.3 313.5h0M166.9 313.5h0M173.5 313.2h0M177.8 313.1h0M181.7 313.1h0M9.4 314.8h0M11.3 315.2h0M13.4 314.8h0M15.6 314.9h0M19.7 314.9h0M21.9 314.9h0M24.0 315.1h0M26.3 314.9h0M28.1 315.1h0M32.4 315.3h0M47.4 315.0h0M49.4 315.0h0M51.9 315.4h0M53.6 315.4h0M56.1 315.2h0M57.8 315.2h0M62.3 315.1h0M68.6 315.0h0M76.9 315.2h0M81.0 315.1h0M85.3 315.1h0M87.8 314.9h0M91.7 315.4h0M93.9 315.0h0M100.4 315.0h0M102.4 315.3h0M104.8 315.2h0M107.0 314.8h0M108.8 315.4h0M111.3 315.1h0M112.9 315.0h0M115.4 315.2h0M119.4 315.0h0M121.6 315.1h0M123.6 315.4h0M129.8 315.0h0M132.5 314.8h0M134.0 314.9h0M140.7 315.4h0M142.7 314.8h0M144.7 315.1h0M146.9 315.3h0M149.2 315.3h0M151.2 314.8h0M153.1 314.8h0M159.8 314.9h0M161.7 314.9h0M163.7 315.5h0M165.9 314.9h0M168.4 315.2h0M172.7 314.9h0M10.2 317.1h0M12.2 316.9h0M14.7 316.6h0M16.8 317.1h0M18.8 316.7h0M20.8 317.2h0M23.2 316.7h0M25.4 317.0h0M29.5 317.1h0M31.7 317.3h0M33.7 316.7h0M35.9 316.6h0M38.1 317.3h0M39.8 316.8h0M42.4 317.2h0M44.3 317.2h0M46.1 316.8h0M57.3 316.7h0M59.3 317.1h0M69.4 316.8h0M71.5 316.7h0M73.8 317.1h0M76.1 316.8h0M80.3 317.1h0M82.2 317.1h0M86.5 317.3h0M97.1 317.2h0M99.3 316.8h0M110.0 316.9h0M111.9 316.9h0M114.5 316.6h0M116.5 316.7h0M118.7 317.0h0M120.5 316.9h0M126.7 317.1h0M129.1 317.2h0M130.9 317.0h0M135.6 316.8h0M137.3 316.9h0M139.6 316.9h0M141.5 316.9h0M143.6 317.1h0M145.7 317.3h0M152.6 316.7h0M156.4 317.3h0M160.7 317.3h0M162.7 317.2h0M165.1 316.7h0M167.5 316.9h0M169.3 316.9h0M171.2 317.0h0M173.3 317.2h0M175.6 316.9h0M177.8 317.0h0M180.1 317.0h0M182.2 317.0h0M9.2 318.9h0M11.3 318.6h0M13.7 319.1h0M15.4 318.6h0M20.1 319.1h0M22.3 318.6h0M24.0 319.1h0M26.3 319.0h0M28.5 318.6h0M30.7 318.7h0M32.5 318.8h0M34.6 318.9h0M36.7 319.0h0M39.0 318.5h0M41.2 319.1h0M47.7 319.0h0M60.0 318.6h0M62.0 318.8h0M64.7 318.7h0M66.5 318.9h0M71.0 318.9h0M74.9 318.7h0M79.0 318.9h0M81.4 318.7h0M83.7 318.7h0M87.6 318.6h0M94.1 318.7h0M100.7 318.9h0M104.3 318.6h0M106.8 318.8h0M108.8 319.0h0M111.0 318.6h0M112.9 318.9h0M119.3 318.5h0M124.0 318.6h0M128.3 318.9h0M130.2 319.1h0M131.9 318.8h0M134.7 318.5h0M136.7 319.1h0M138.5 318.9h0M140.5 318.5h0M145.1 318.9h0M147.2 318.7h0M149.0 319.1h0M151.2 318.6h0M153.6 318.6h0M164.0 319.0h0M170.1 318.7h0M172.5 318.7h0M179.2 318.9h0M181.2 319.1h0M8.0 320.3h0M10.3 320.6h0M12.4 320.9h0M18.6 320.6h0M21.0 320.8h0M23.1 320.9h0M25.2 320.4h0M29.7 320.8h0M31.5 320.5h0M34.0 320.8h0M36.0 320.7h0M37.7 320.8h0M40.1 320.8h0M46.6 320.4h0M48.2 320.4h0M52.5 320.4h0M54.5 320.7h0M57.3 320.9h0M61.5 320.7h0M63.1 320.6h0M67.7 320.4h0M69.5 320.8h0M74.1 320.8h0M76.3 320.4h0M80.2 320.5h0M82.4 320.6h0M86.5 320.7h0M93.1 320.5h0M97.2 320.3h0M99.4 321.0h0M101.3 320.7h0M103.9 320.9h0M107.9 320.5h0M109.8 320.4h0M112.2 320.8h0M114.2 320.5h0M116.0 320.6h0M118.4 320.5h0M120.6 320.9h0M131.4 320.8h0M133.3 320.9h0M135.5 320.4h0M137.5 320.4h0M144.0 320.7h0M145.9 320.6h0M149.9 320.9h0M152.3 320.6h0M154.4 320.6h0M159.1 320.8h0M160.5 320.7h0M162.8 320.6h0M165.4 320.7h0M169.1 320.6h0M171.7 320.4h0M175.4 320.6h0M178.0 320.4h0M179.7 320.9h0M9.2 322.8h0M11.6 322.7h0M13.3 322.4h0M15.8 322.8h0M19.7 322.4h0M22.0 322.4h0M28.4 322.5h0M30.7 322.5h0M39.3 322.3h0M40.8 322.6h0M43.1 322.8h0M47.6 322.7h0M55.6 322.2h0M57.8 322.7h0M60.1 322.3h0M64.5 322.7h0M68.6 322.5h0M75.0 322.6h0M76.8 322.5h0M81.6 322.2h0M83.4 322.6h0M87.4 322.6h0M93.9 322.3h0M96.4 322.5h0M98.0 322.2h0M100.6 322.1h0M102.8 322.4h0M105.0 322.7h0M109.0 322.8h0M110.9 322.3h0M113.1 322.5h0M115.0 322.8h0M117.7 322.7h0M121.9 322.6h0M126.1 322.3h0M128.0 322.2h0M130.4 322.5h0M132.1 322.5h0M134.4 322.4h0M136.5 322.5h0M149.3 322.7h0M151.0 322.7h0M153.7 322.5h0M155.7 322.5h0M157.7 322.7h0M159.8 322.3h0M164.3 322.3h0M166.0 322.7h0M168.2 322.7h0M170.5 322.7h0M172.6 322.2h0M174.4 322.2h0M176.8 322.8h0M179.2 322.6h0M180.7 322.7h0M10.0 324.5h0M12.6 324.0h0M14.2 324.0h0M16.8 324.1h0M22.8 324.0h0M25.4 324.3h0M27.6 324.3h0M29.1 324.0h0M35.7 324.4h0M40.3 324.0h0M46.4 324.2h0M50.3 324.4h0M52.6 324.3h0M55.1 324.5h0M57.3 324.1h0M61.0 324.0h0M63.5 324.4h0M65.4 324.0h0M67.2 324.0h0M73.7 324.5h0M75.7 324.2h0M80.1 324.2h0M82.7 324.5h0M84.8 324.0h0M86.7 324.6h0M90.6 324.3h0M92.9 324.6h0M95.2 324.4h0M99.3 324.3h0M101.4 324.6h0M103.6 324.5h0M105.7 324.6h0M107.5 324.1h0M109.8 324.0h0M112.3 324.6h0M113.9 324.0h0M116.0 324.4h0M122.8 324.2h0M124.7 324.1h0M126.8 324.5h0M128.8 324.0h0M133.0 324.5h0M135.7 324.3h0M137.5 324.3h0M141.6 324.3h0M143.7 324.4h0M145.7 324.1h0M148.4 324.0h0M150.0 324.2h0M152.1 324.0h0M158.8 324.4h0M161.1 324.5h0M162.7 324.1h0M164.8 324.1h0M167.5 324.4h0M169.3 324.5h0M171.3 324.1h0M173.5 324.4h0M175.6 324.1h0M177.9 324.5h0M9.5 326.3h0M11.1 326.1h0M17.5 326.3h0M19.5 326.1h0M28.1 326.1h0M30.3 326.0h0M32.9 326.1h0M34.9 326.1h0M42.8 326.0h0M45.4 326.0h0M47.1 326.1h0M53.9 326.2h0M62.5 325.9h0M64.6 325.9h0M66.3 326.2h0M68.7 325.9h0M77.3 325.9h0M78.9 325.8h0M81.1 326.3h0M83.7 325.9h0M85.8 326.4h0M87.6 326.4h0M89.9 326.3h0M91.9 326.0h0M93.9 326.3h0M95.8 326.3h0M98.4 326.1h0M100.1 326.5h0M102.8 326.4h0M104.7 326.1h0M106.6 325.8h0M113.1 325.9h0M115.0 325.9h0M117.3 325.9h0M121.4 326.4h0M125.9 325.9h0M130.3 326.4h0M136.4 326.4h0M140.6 326.4h0M142.8 326.4h0M145.1 326.1h0M149.2 326.1h0M151.0 326.4h0M153.2 325.9h0M155.7 326.2h0M157.8 326.4h0M159.9 326.2h0M161.6 326.0h0M166.4 326.3h0M168.4 326.0h0M170.4 325.9h0M172.3 326.4h0M174.5 325.9h0M176.8 326.4h0M180.9 326.4h0M10.3 328.2h0M12.7 327.7h0M23.1 327.8h0M24.9 327.9h0M27.2 328.0h0M31.9 327.8h0M33.5 327.8h0M40.0 328.3h0M42.4 328.1h0M44.1 327.7h0M46.7 328.0h0M48.2 328.0h0M50.7 328.3h0M52.4 328.1h0M56.8 328.2h0M61.5 328.2h0M63.1 327.9h0M74.1 328.2h0M76.4 328.0h0M78.1 328.0h0M82.3 327.9h0M84.5 328.0h0M86.9 328.2h0M89.1 328.1h0M90.5 327.9h0M95.0 327.9h0M97.5 328.0h0M99.5 328.0h0M103.9 328.3h0M106.0 328.0h0M108.1 328.3h0M112.0 328.0h0M114.3 327.8h0M122.3 328.1h0M124.7 328.0h0M127.0 327.8h0M130.8 328.3h0M133.1 327.9h0M137.7 328.2h0M139.6 327.8h0M141.5 328.2h0M148.1 328.2h0M150.5 327.8h0M152.5 328.2h0M156.5 327.9h0M159.0 327.9h0M160.6 328.2h0M163.2 327.9h0M165.1 328.2h0M171.6 327.8h0M173.6 327.9h0M175.8 327.8h0M179.9 328.2h0M182.0 328.2h0M9.4 330.2h0M15.6 329.7h0M17.8 330.2h0M21.9 329.6h0M26.5 329.8h0M28.3 329.7h0M30.7 329.6h0M34.5 329.8h0M36.7 329.7h0M45.5 329.7h0M47.7 329.8h0M49.3 329.7h0M51.6 329.8h0M53.6 329.9h0M55.6 330.0h0M58.3 329.8h0M60.2 330.0h0M64.5 330.0h0M66.3 330.0h0M74.9 329.7h0M76.8 330.1h0M79.0 330.2h0M81.1 329.9h0M85.5 329.9h0M88.0 330.1h0M89.9 330.0h0M91.8 329.6h0M94.2 330.0h0M96.2 329.9h0M98.4 329.6h0M104.8 329.8h0M115.2 329.6h0M117.4 330.0h0M119.6 330.0h0M122.0 330.0h0M124.0 329.7h0M125.8 329.5h0M127.8 330.0h0M132.1 330.1h0M134.4 329.6h0M136.7 330.0h0M138.5 330.0h0M142.6 330.1h0M144.8 329.9h0M149.4 330.2h0M153.2 330.2h0M155.8 329.8h0M157.8 330.0h0M162.1 329.8h0M164.1 330.0h0M166.5 330.0h0M170.6 330.0h0M172.5 329.5h0M174.6 330.1h0M8.0 331.8h0M10.5 331.4h0M12.1 331.8h0M14.9 331.5h0M17.0 332.0h0M18.9 331.8h0M20.8 331.6h0M23.1 331.7h0M25.3 331.7h0M27.2 331.6h0M35.7 331.8h0M38.2 331.9h0M42.3 332.0h0M44.1 331.4h0M48.4 331.7h0M50.9 331.9h0M54.9 331.6h0M57.1 331.9h0M58.9 331.9h0M61.3 331.8h0M65.6 332.0h0M69.5 331.4h0M74.0 331.5h0M75.8 331.9h0M78.4 331.6h0M84.3 331.7h0M86.8 331.5h0M89.0 332.0h0M91.0 331.4h0M93.2 331.6h0M97.5 331.9h0M99.2 331.8h0M101.4 331.5h0M103.8 331.8h0M114.5 331.6h0M118.2 331.5h0M125.0 332.0h0M127.2 332.0h0M129.3 331.4h0M131.2 331.7h0M133.4 331.7h0M139.7 332.0h0M141.9 331.9h0M143.9 331.7h0M148.3 331.6h0M150.4 331.5h0M152.7 331.4h0M154.6 331.7h0M158.4 332.0h0M161.2 331.8h0M163.1 331.7h0M164.9 331.6h0M167.5 331.9h0M173.9 331.5h0M9.5 333.5h0M11.7 333.5h0M13.4 333.2h0M15.9 333.5h0M17.8 333.7h0M19.9 333.2h0M22.2 333.2h0M24.0 333.8h0M26.4 333.9h0M32.8 333.3h0M35.0 333.7h0M36.7 333.4h0M39.1 333.5h0M41.2 333.8h0M42.9 333.5h0M45.2 333.3h0M47.2 333.4h0M49.2 333.8h0M51.7 333.8h0M55.9 333.2h0M57.9 333.7h0M60.3 333.2h0M62.3 333.9h0M64.2 333.8h0M66.2 333.5h0M68.9 333.6h0M71.0 333.2h0M76.9 333.8h0M81.3 333.7h0M83.8 333.6h0M85.7 333.6h0M87.8 333.4h0M90.2 333.6h0M92.2 333.2h0M94.0 333.8h0M96.1 333.4h0M100.2 333.4h0M107.0 333.9h0M113.2 333.6h0M115.0 333.2h0M117.5 333.5h0M119.2 333.7h0M124.0 333.7h0M132.3 333.9h0M134.6 333.2h0M138.3 333.7h0M140.4 333.8h0M143.2 333.6h0M146.7 333.6h0M149.5 333.5h0M151.3 333.6h0M153.6 333.5h0M157.8 333.7h0M159.7 333.7h0M162.1 333.5h0M163.9 333.2h0M166.0 333.9h0M168.5 333.3h0M174.6 333.6h0M180.8 333.3h0M14.6 335.1h0M16.7 335.1h0M18.9 335.3h0M21.0 335.1h0M22.8 335.5h0M24.9 335.3h0M31.7 335.3h0M33.6 335.2h0M37.6 335.4h0M40.2 335.5h0M42.1 335.1h0M44.0 335.4h0M46.2 335.7h0M48.1 335.2h0M61.1 335.0h0M63.6 335.1h0M65.4 335.6h0M67.5 335.1h0M70.0 335.7h0M71.6 335.5h0M77.8 335.0h0M80.5 335.7h0M84.4 335.5h0M86.6 335.1h0M90.9 335.3h0M92.9 335.1h0M95.0 335.3h0M97.2 335.0h0M99.3 335.4h0M101.5 335.1h0M103.9 335.2h0M107.8 335.2h0M109.7 335.1h0M112.0 335.3h0M118.3 335.0h0M120.8 335.3h0M124.8 335.4h0M126.6 335.5h0M128.9 335.4h0M131.2 335.1h0M133.2 335.1h0M137.8 335.3h0M139.9 335.2h0M141.7 335.4h0M144.1 335.3h0M146.2 335.6h0M148.0 335.1h0M150.5 335.1h0M152.0 335.6h0M154.7 335.4h0M156.3 335.6h0M164.8 335.7h0M167.2 335.3h0M169.3 335.0h0M171.4 335.4h0M173.7 335.5h0M177.9 335.0h0M179.6 335.4h0M15.5 337.1h0M22.0 337.0h0M24.2 337.1h0M26.1 337.4h0M30.2 337.4h0M37.1 337.2h0M38.8 337.5h0M41.3 337.0h0M43.3 337.2h0M45.1 337.0h0M49.8 337.4h0M57.8 337.4h0M60.4 337.4h0M62.0 337.1h0M64.2 336.9h0M66.8 337.4h0M68.3 337.5h0M70.7 337.2h0M75.1 337.4h0M77.2 337.2h0M79.3 337.2h0M81.4 337.4h0M83.6 336.9h0M85.8 337.0h0M94.3 337.0h0M96.0 337.0h0M98.5 337.2h0M100.3 336.9h0M102.8 337.1h0M104.9 336.9h0M106.5 337.3h0M108.9 337.4h0M112.8 337.1h0M115.5 336.9h0M117.3 336.9h0M119.2 337.4h0M121.8 337.4h0M125.8 337.0h0M127.8 337.5h0M130.2 337.2h0M132.5 337.2h0M134.6 337.0h0M136.4 337.4h0M138.4 336.9h0M140.8 337.1h0M145.0 337.2h0M147.2 337.0h0M148.9 336.9h0M151.5 337.2h0M157.3 337.0h0M159.8 337.0h0M161.8 337.2h0M166.4 337.2h0M168.4 337.5h0M170.7 337.4h0M172.2 337.5h0M179.0 337.3h0M180.9 336.9h0M12.2 339.3h0M14.7 339.1h0M17.0 339.0h0M18.7 339.2h0M21.0 339.4h0M22.9 339.0h0M27.1 339.3h0M29.1 339.2h0M33.8 339.2h0M38.1 338.8h0M40.2 339.1h0M42.4 338.8h0M46.3 339.3h0M55.0 338.7h0M56.7 339.1h0M59.0 339.1h0M61.5 339.4h0M63.4 339.4h0M65.5 339.0h0M72.0 339.2h0M73.8 338.7h0M76.0 338.9h0M78.4 338.8h0M80.3 339.2h0M84.2 338.8h0M88.4 339.1h0M90.9 339.2h0M92.8 339.1h0M99.3 339.3h0M101.3 339.3h0M103.7 339.1h0M105.8 339.3h0M108.1 339.1h0M118.1 338.8h0M125.1 338.8h0M126.7 339.3h0M129.1 339.4h0M131.4 339.1h0M133.3 339.3h0M135.2 338.9h0M137.2 338.7h0M139.7 339.3h0M148.5 339.0h0M152.5 339.3h0M160.8 339.2h0M163.0 338.9h0M164.9 338.8h0M167.0 339.0h0M169.0 339.0h0M171.2 338.8h0M175.4 339.4h0M177.9 339.3h0M181.8 338.9h0M11.2 341.1h0M13.5 341.0h0M15.8 341.1h0M17.4 340.7h0M19.8 340.5h0M22.1 340.8h0M24.2 340.7h0M28.0 340.7h0M38.9 340.9h0M41.0 340.7h0M43.3 340.9h0M45.2 340.9h0M47.7 340.8h0M55.9 341.2h0M57.8 341.1h0M60.3 340.9h0M62.4 340.7h0M64.4 340.9h0M66.8 340.8h0M72.9 340.8h0M79.1 341.0h0M83.7 340.9h0M85.9 340.7h0M87.5 341.1h0M89.6 340.9h0M91.6 341.2h0M94.3 341.1h0M102.2 341.0h0M104.7 340.9h0M115.5 341.2h0M121.7 340.9h0M126.1 340.7h0M130.4 340.9h0M132.5 341.1h0M134.3 341.0h0M136.8 341.2h0M138.9 341.0h0M140.6 341.2h0M142.6 341.2h0M145.2 341.1h0M146.7 340.8h0M148.9 340.7h0M155.3 340.8h0M157.7 340.6h0M166.0 340.7h0M168.4 340.8h0M170.5 340.7h0M174.7 340.6h0M176.8 340.6h0M178.7 340.6h0M8.5 342.7h0M10.5 342.5h0M12.6 342.5h0M14.3 342.7h0M16.4 342.4h0M18.6 342.9h0M21.0 343.0h0M22.9 342.4h0M27.0 342.9h0M35.9 342.7h0M37.7 342.6h0M40.0 343.0h0M42.4 342.5h0M44.4 343.0h0M46.3 342.8h0M48.3 342.5h0M50.6 342.4h0M55.0 342.8h0M57.2 342.4h0M61.4 342.9h0M65.4 342.6h0M67.8 342.9h0M71.5 342.4h0M74.2 342.5h0M78.0 342.7h0M80.0 342.5h0M82.6 343.0h0M84.3 342.6h0M86.5 342.4h0M89.0 342.7h0M93.1 342.6h0M95.5 342.9h0M97.4 342.9h0M103.4 342.9h0M109.9 342.5h0M122.4 342.6h0M126.7 342.6h0M129.3 342.9h0M130.9 342.8h0M137.4 342.9h0M141.7 342.5h0M143.9 342.6h0M152.1 342.4h0M154.5 342.8h0M156.7 342.6h0M161.0 342.5h0M163.0 343.1h0M164.8 342.9h0M169.4 342.9h0M173.6 342.4h0M177.7 343.1h0M181.7 342.7h0M13.5 344.7h0M17.8 344.9h0M20.0 344.3h0M22.3 344.6h0M28.2 344.8h0M30.2 344.7h0M32.4 344.4h0M34.7 344.4h0M37.0 344.6h0M38.7 344.9h0M40.8 344.3h0M43.1 344.8h0M45.2 344.4h0M47.7 344.4h0M49.9 344.5h0M51.4 344.4h0M53.8 344.5h0M56.2 344.3h0M57.7 344.7h0M61.9 344.4h0M66.7 344.6h0M68.3 344.8h0M72.6 344.8h0M74.7 344.3h0M77.0 344.6h0M79.5 344.8h0M81.0 344.7h0M83.2 344.5h0M85.4 344.6h0M87.5 344.5h0M89.5 344.3h0M96.1 344.8h0M98.4 344.7h0M100.7 344.8h0M106.8 344.4h0M111.2 344.5h0M113.3 344.9h0M117.4 344.6h0M119.8 344.6h0M128.2 344.5h0M129.9 344.4h0M132.5 344.9h0M134.3 344.2h0M138.7 344.7h0M140.5 344.9h0M143.1 344.9h0M144.9 344.3h0M149.1 344.6h0M155.7 344.4h0M160.0 344.7h0M162.1 344.9h0M166.2 344.5h0M170.3 344.8h0M172.2 344.9h0M174.4 344.4h0M8.5 346.3h0M12.2 346.1h0M14.5 346.4h0M16.4 346.5h0M19.1 346.1h0M23.1 346.4h0M27.0 346.2h0M29.7 346.2h0M31.9 346.1h0M33.4 346.2h0M35.8 346.6h0M37.7 346.4h0M40.0 346.3h0M42.3 346.7h0M43.9 346.6h0M46.6 346.5h0M48.8 346.6h0M52.5 346.6h0M58.8 346.7h0M61.2 346.2h0M63.5 346.5h0M69.6 346.7h0M76.1 346.5h0M78.5 346.2h0M80.0 346.5h0M82.3 346.1h0M84.4 346.2h0M90.7 346.4h0M93.0 346.6h0M95.0 346.5h0M97.1 346.1h0M99.7 346.5h0M103.5 346.1h0M105.7 346.3h0M107.7 346.4h0M109.7 346.4h0M114.2 346.3h0M116.1 346.4h0M118.6 346.4h0M120.8 346.3h0M122.5 346.5h0M124.5 346.3h0M129.0 346.5h0M131.1 346.2h0M133.1 346.2h0M143.8 346.1h0M146.3 346.7h0M147.9 346.2h0M152.7 346.1h0M154.6 346.5h0M156.4 346.2h0M158.8 346.1h0M161.2 346.7h0M162.9 346.5h0M164.7 346.5h0M167.5 346.2h0M171.3 346.4h0M173.5 346.7h0M9.1 348.4h0M11.7 347.9h0M13.7 348.4h0M15.5 348.6h0M17.5 348.1h0M24.1 348.3h0M30.2 348.3h0M32.6 348.5h0M34.7 348.1h0M37.1 348.3h0M39.1 348.0h0M41.2 348.1h0M43.5 348.4h0M49.7 348.5h0M51.5 348.2h0M56.0 347.9h0M60.3 348.3h0M62.0 348.6h0M64.1 348.5h0M66.7 348.0h0M68.5 348.1h0M77.0 348.2h0M79.3 348.4h0M81.1 348.4h0M83.5 348.0h0M88.0 348.1h0M90.0 348.4h0M95.9 348.2h0M98.5 348.5h0M102.6 348.2h0M109.1 348.2h0M111.3 348.2h0M115.0 348.2h0M117.5 347.9h0M121.8 348.2h0M123.7 348.0h0M126.0 348.3h0M128.1 348.1h0M130.1 348.2h0M132.1 347.9h0M134.1 348.5h0M136.8 348.1h0M138.8 348.0h0M140.6 348.6h0M145.1 347.9h0M146.9 348.2h0M149.1 348.1h0M151.5 348.4h0M153.2 348.5h0M161.6 348.4h0M166.1 348.2h0M168.4 347.9h0M170.4 348.0h0M172.6 347.9h0M174.4 348.5h0M10.5 349.9h0M12.5 350.1h0M14.5 349.8h0M16.7 350.3h0M18.5 349.8h0M21.2 349.8h0M23.0 350.4h0M26.9 350.2h0M33.7 350.2h0M35.5 350.1h0M37.8 350.4h0M40.0 350.1h0M42.1 350.3h0M44.5 349.9h0M46.5 350.1h0M57.1 349.8h0M58.9 350.1h0M61.0 350.0h0M63.7 350.1h0M65.3 350.3h0M67.8 349.9h0M71.8 350.2h0M73.9 350.1h0M76.3 349.8h0M80.4 350.2h0M82.1 349.9h0M84.3 350.2h0M93.1 349.8h0M95.2 350.0h0M97.4 350.4h0M99.4 350.3h0M101.3 350.3h0M103.4 350.3h0M108.0 350.0h0M111.9 350.3h0M114.3 349.8h0M118.1 349.8h0M125.0 350.3h0M127.2 349.8h0M131.0 350.3h0M133.3 350.3h0M135.4 350.2h0M137.4 350.3h0M139.9 350.2h0M142.0 349.8h0M143.9 349.7h0M145.7 349.9h0M148.4 350.3h0M150.2 350.3h0M154.5 349.8h0M169.5 349.8h0M171.2 349.8h0M177.7 349.8h0M182.3 349.9h0M9.6 351.6h0M11.6 351.7h0M13.6 352.0h0M17.7 352.0h0M20.0 351.7h0M22.0 351.9h0M24.2 351.7h0M30.3 351.8h0M36.6 352.2h0M38.9 352.2h0M41.2 352.2h0M45.0 351.7h0M47.2 352.2h0M49.3 351.8h0M52.0 351.7h0M55.7 351.7h0M58.2 351.7h0M60.0 351.7h0M64.2 351.8h0M66.5 351.6h0M68.6 351.8h0M70.6 351.7h0M73.1 352.0h0M75.1 351.6h0M76.9 351.8h0M79.0 352.0h0M81.4 351.6h0M87.5 351.8h0M89.7 351.7h0M98.5 351.6h0M104.4 351.8h0M106.6 352.1h0M108.7 352.0h0M111.3 352.0h0M113.4 351.7h0M115.4 351.6h0M119.2 352.2h0M121.5 352.2h0M125.5 351.6h0M129.8 351.7h0M132.0 352.0h0M134.2 352.1h0M140.7 351.7h0M149.0 351.8h0M153.5 352.1h0M155.4 352.1h0M157.4 352.1h0M172.7 352.0h0M174.6 351.8h0M176.4 352.0h0M180.7 351.6h0M8.3 354.1h0M10.0 353.5h0M12.6 353.8h0M14.5 353.4h0M20.9 353.5h0M25.3 353.7h0M27.5 353.6h0M29.7 354.0h0M33.5 353.9h0M35.9 353.6h0M38.0 354.0h0M40.3 353.9h0M41.9 353.7h0M46.2 353.7h0M48.8 353.8h0M50.9 353.5h0M53.0 353.8h0M54.6 353.9h0M56.7 354.1h0M58.7 353.9h0M61.4 353.8h0M63.4 353.8h0M65.5 353.8h0M71.6 353.5h0M74.1 353.6h0M76.3 353.7h0M77.9 353.9h0M84.3 353.6h0M90.9 353.5h0M96.9 353.4h0M99.3 353.5h0M101.2 353.5h0M105.8 353.9h0M108.1 353.7h0M110.2 353.6h0M114.5 353.5h0M116.4 353.6h0M118.7 353.5h0M120.4 353.7h0M123.0 353.8h0M124.7 354.1h0M126.7 353.8h0M129.1 354.0h0M130.9 353.6h0M133.2 353.5h0M139.7 353.5h0M146.0 353.8h0M148.3 353.9h0M150.5 354.1h0M152.7 353.7h0M154.5 353.9h0M156.4 353.6h0M158.7 353.6h0M164.9 353.9h0M169.2 354.1h0M171.3 353.9h0M173.7 353.7h0M175.7 354.0h0M177.5 353.5h0M182.2 353.5h0M9.5 355.7h0M17.6 355.7h0M19.8 355.7h0M22.1 355.4h0M24.0 355.6h0M26.0 355.6h0M28.0 355.6h0M30.7 355.9h0M38.8 355.4h0M43.0 355.8h0M45.4 355.9h0M49.7 355.3h0M51.8 355.3h0M60.3 355.3h0M61.9 355.4h0M66.8 355.3h0M68.4 355.8h0M85.5 355.6h0M87.7 355.4h0M90.1 355.6h0M100.3 355.5h0M102.5 355.4h0M111.2 355.8h0M115.4 355.5h0M117.5 355.4h0M119.2 355.6h0M122.0 355.4h0M123.5 355.9h0M125.6 355.5h0M128.1 355.6h0M130.2 355.9h0M132.1 355.9h0M134.7 355.3h0M138.6 355.6h0M147.2 355.6h0M149.2 355.4h0M151.3 355.7h0M153.7 355.8h0M157.7 355.5h0M160.0 355.8h0M168.5 355.4h0M170.3 355.6h0M174.8 355.6h0M176.9 355.8h0M12.7 357.7h0M14.4 357.3h0M21.0 357.7h0M23.2 357.1h0M25.4 357.5h0M27.0 357.6h0M29.4 357.6h0M31.5 357.7h0M33.3 357.5h0M41.9 357.6h0M44.5 357.4h0M46.7 357.4h0M48.6 357.7h0M52.5 357.6h0M54.6 357.5h0M59.3 357.4h0M63.0 357.6h0M67.3 357.5h0M69.6 357.7h0M71.5 357.2h0M90.6 357.5h0M93.2 357.4h0M99.2 357.4h0M101.5 357.5h0M112.4 357.2h0M116.6 357.4h0M118.5 357.5h0M120.5 357.2h0M122.4 357.1h0M126.8 357.6h0M129.4 357.3h0M130.9 357.1h0M133.2 357.4h0M135.2 357.1h0M137.7 357.7h0M139.8 357.1h0M143.8 357.5h0M146.2 357.6h0M150.4 357.2h0M152.7 357.5h0M154.8 357.5h0M156.9 357.1h0M158.6 357.5h0M164.8 357.5h0M167.3 357.8h0M171.5 357.6h0M173.5 357.5h0M175.8 357.8h0M181.9 357.6h0M9.5 359.4h0M13.2 359.1h0M15.4 359.2h0M17.5 359.6h0M21.9 359.5h0M24.0 359.2h0M28.2 359.2h0M30.3 359.6h0M34.4 359.4h0M36.6 359.6h0M39.0 359.4h0M41.0 359.6h0M43.4 359.6h0M45.5 359.6h0M47.1 359.6h0M49.7 359.5h0M55.7 359.3h0M62.4 359.5h0M64.6 359.3h0M68.5 359.1h0M70.4 359.2h0M73.1 359.5h0M79.2 359.1h0M85.5 359.1h0M95.9 359.4h0M106.9 359.2h0M111.2 359.3h0M113.5 359.3h0M115.6 359.2h0M119.8 359.4h0M121.7 359.5h0M123.9 359.4h0M127.9 359.1h0M130.3 359.3h0M134.4 359.1h0M140.9 359.0h0M142.5 359.5h0M145.0 358.9h0M147.3 359.4h0M155.7 359.5h0M157.9 359.1h0M165.8 359.5h0M174.5 359.1h0M176.5 359.1h0M178.6 359.2h0M181.0 359.2h0M10.2 361.2h0M12.6 361.0h0M14.6 360.8h0M16.5 360.9h0M18.6 360.9h0M20.7 361.1h0M33.5 361.1h0M37.9 361.1h0M39.8 361.2h0M41.8 361.3h0M46.2 361.1h0M48.4 361.3h0M55.1 361.0h0M56.8 361.2h0M63.4 361.0h0M67.6 361.2h0M71.5 360.9h0M77.9 361.4h0M82.1 361.0h0M84.9 361.0h0M86.9 361.1h0M88.4 361.0h0M92.8 361.4h0M95.2 361.2h0M99.1 361.0h0M101.6 360.9h0M110.3 361.5h0M111.8 361.3h0M118.5 361.0h0M120.3 361.3h0M123.0 361.3h0M129.0 360.8h0M133.4 361.2h0M137.7 361.5h0M139.7 361.1h0M141.7 361.1h0M143.7 361.1h0M150.0 361.4h0M154.4 361.1h0M160.6 361.0h0M163.0 361.4h0M167.4 361.3h0M169.3 360.8h0M173.2 361.0h0M177.5 361.2h0M179.9 361.4h0M181.9 361.3h0M11.3 363.0h0M13.6 363.0h0M15.6 362.7h0M17.8 362.6h0M19.8 363.2h0M24.0 362.8h0M26.1 363.0h0M30.6 362.7h0M32.4 362.9h0M36.6 363.1h0M41.0 362.9h0M43.5 362.8h0M49.7 362.8h0M51.9 362.7h0M54.1 363.3h0M64.6 362.9h0M66.7 362.8h0M68.9 362.8h0M72.6 362.7h0M75.3 362.7h0M77.1 362.7h0M79.1 363.0h0M81.2 362.9h0M89.8 363.3h0M96.1 363.3h0M102.6 362.6h0M104.3 363.2h0M115.2 363.0h0M117.7 363.1h0M119.4 362.8h0M121.8 362.9h0M123.9 362.8h0M130.3 363.1h0M138.4 363.0h0M142.6 362.7h0M147.1 362.7h0M149.0 363.1h0M153.5 362.8h0M155.9 362.8h0M159.7 363.1h0M161.8 362.7h0M164.0 363.3h0M166.4 363.3h0M168.4 362.8h0M174.7 363.1h0M176.9 363.0h0M179.1 363.0h0M181.2 362.9h0M8.3 364.6h0M12.4 364.8h0M14.5 364.8h0M16.4 365.1h0M23.4 365.1h0M31.4 364.7h0M34.0 364.7h0M41.8 364.6h0M44.4 365.1h0M48.2 365.1h0M52.5 364.6h0M54.9 365.1h0M56.9 364.5h0M65.4 364.6h0M67.3 364.6h0M69.7 364.8h0M72.1 364.5h0M73.8 365.0h0M75.7 364.7h0M77.8 364.7h0M80.4 365.0h0M88.8 365.1h0M92.9 364.8h0M97.3 364.8h0M101.6 365.1h0M103.6 364.7h0M108.0 364.6h0M112.0 365.0h0M113.9 365.1h0M116.4 365.0h0M118.1 364.7h0M120.6 365.1h0M122.9 365.1h0M131.5 365.0h0M132.9 364.9h0M135.2 364.9h0M137.2 364.8h0M142.0 364.5h0M144.1 364.7h0M148.2 364.8h0M150.1 364.9h0M156.8 365.1h0M158.9 364.8h0M160.6 364.9h0M163.3 364.6h0M169.7 365.1h0M171.3 364.7h0M173.7 365.0h0M176.0 364.9h0M177.5 364.5h0M180.0 365.1h0M181.9 364.6h0M9.3 366.9h0M13.7 366.7h0M15.7 366.8h0M17.8 366.9h0M24.1 366.7h0M26.2 366.8h0M28.2 366.9h0M30.7 366.4h0M32.6 366.4h0M35.0 366.4h0M37.2 366.5h0M38.7 367.0h0M41.2 366.5h0M45.0 366.6h0M47.3 366.7h0M49.4 366.9h0M51.7 366.5h0M57.7 366.7h0M62.5 366.7h0M66.7 366.8h0M68.7 366.4h0M71.0 366.4h0M72.8 366.6h0M75.1 366.9h0M77.0 366.4h0M83.5 366.6h0M85.4 366.6h0M87.6 366.9h0M89.6 366.3h0M94.3 366.5h0M95.9 366.6h0M106.7 366.8h0M109.1 366.4h0M113.2 366.9h0M115.4 366.7h0M117.2 367.0h0M119.3 366.6h0M121.3 366.8h0M126.1 366.4h0M140.5 367.0h0M146.9 366.6h0M151.6 366.4h0M153.3 366.7h0M155.3 366.7h0M157.8 366.7h0M162.1 366.5h0M163.8 366.4h0M166.4 366.8h0M168.6 366.8h0M170.2 366.8h0M172.8 366.5h0M176.8 366.5h0M178.7 366.7h0M8.3 368.7h0M10.4 368.2h0M12.7 368.6h0M14.9 368.2h0M17.0 368.8h0M20.8 368.3h0M29.4 368.3h0M33.7 368.3h0M37.7 368.8h0M40.0 368.8h0M42.1 368.4h0M44.1 368.7h0M46.4 368.6h0M48.3 368.5h0M50.6 368.5h0M52.9 368.8h0M57.2 368.8h0M58.8 368.5h0M61.2 368.2h0M63.7 368.6h0M65.7 368.7h0M67.8 368.7h0M70.0 368.8h0M71.8 368.6h0M73.9 368.5h0M80.0 368.6h0M82.6 368.8h0M84.6 368.7h0M86.4 368.8h0M91.0 368.7h0M93.1 368.6h0M95.1 368.3h0M101.7 368.3h0M105.6 368.2h0M108.1 368.6h0M110.0 368.8h0M113.9 368.3h0M116.5 368.5h0M118.1 368.2h0M120.4 368.8h0M122.4 368.5h0M124.6 368.3h0M131.2 368.7h0M139.7 368.8h0M141.4 368.8h0M158.7 368.8h0M160.6 368.5h0M163.2 368.5h0M164.9 368.2h0M169.3 368.5h0M171.2 368.5h0M175.7 368.7h0M9.1 370.0h0M11.6 370.3h0M13.2 370.1h0M15.3 370.6h0M17.9 370.0h0M22.2 370.3h0M24.0 370.5h0M32.6 370.3h0M34.5 370.7h0M41.3 370.5h0M43.0 370.0h0M45.4 370.1h0M49.3 370.0h0M52.0 370.1h0M57.8 370.5h0M62.4 370.0h0M64.2 370.4h0M66.8 370.5h0M68.8 370.4h0M72.8 370.4h0M81.3 370.4h0M83.6 370.1h0M85.9 370.3h0M87.8 370.3h0M94.2 370.5h0M98.2 370.1h0M100.7 370.3h0M102.7 370.0h0M107.1 370.0h0M112.9 370.5h0M115.0 370.5h0M117.5 370.4h0M119.5 370.5h0M124.0 370.3h0M127.7 370.6h0M130.3 370.6h0M138.6 370.5h0M145.2 370.4h0M155.3 370.7h0M157.6 370.5h0M159.9 370.2h0M162.2 370.1h0M164.1 370.3h0M8.5 372.1h0M10.4 372.1h0M12.5 372.2h0M14.7 372.3h0M18.5 372.1h0M21.3 372.1h0M23.0 372.0h0M29.3 372.2h0M31.4 372.4h0M36.0 371.9h0M37.6 372.3h0M44.6 372.0h0M46.3 372.1h0M48.6 372.2h0M50.9 372.5h0M54.7 372.0h0M57.2 371.9h0M65.2 372.4h0M67.4 372.4h0M69.9 372.4h0M71.9 371.9h0M78.0 372.4h0M80.0 371.8h0M82.2 372.4h0M86.6 372.5h0M88.4 371.9h0M92.7 372.3h0M94.9 372.3h0M105.8 372.5h0M107.8 372.5h0M112.2 372.4h0M114.5 372.5h0M116.6 372.5h0M118.7 371.9h0M120.7 371.9h0M122.4 372.2h0M124.5 372.1h0M126.9 372.1h0M129.0 371.8h0M130.8 372.4h0M135.2 372.2h0M139.8 372.0h0M148.3 372.4h0M150.2 372.4h0M152.7 372.1h0M154.7 371.9h0M159.0 372.2h0M160.9 372.1h0M162.8 372.0h0M165.2 372.3h0M171.4 372.0h0M9.5 373.9h0M11.2 374.0h0M22.3 373.9h0M23.9 373.7h0M26.4 373.8h0M28.1 373.7h0M32.8 374.1h0M36.5 374.1h0M39.3 373.7h0M40.8 374.0h0M43.1 373.7h0M45.5 374.3h0M49.6 374.3h0M51.5 374.2h0M57.8 373.9h0M71.1 374.0h0M73.2 374.3h0M74.7 373.7h0M76.9 374.1h0M85.7 373.9h0M90.1 374.3h0M94.0 373.7h0M96.2 374.2h0M98.2 373.8h0M104.8 373.8h0M106.7 374.0h0M109.2 373.9h0M111.3 373.9h0M113.3 373.8h0M115.1 373.7h0M119.2 374.1h0M123.6 374.2h0M126.2 373.9h0M127.7 373.7h0M130.1 374.0h0M131.9 374.3h0M134.5 374.3h0M143.0 373.7h0M149.2 373.7h0M155.5 374.1h0M162.0 374.2h0M164.1 374.0h0M179.2 374.3h0M180.6 374.2h0M7.9 375.8h0M10.6 376.0h0M19.0 375.8h0M21.2 375.7h0M23.0 376.1h0M24.8 376.1h0M29.4 375.8h0M31.6 375.9h0M37.5 376.1h0M39.9 376.0h0M41.9 375.9h0M44.0 375.8h0M46.6 375.8h0M53.0 375.8h0M58.8 376.1h0M60.9 375.6h0M69.4 376.2h0M74.1 375.6h0M76.1 376.0h0M78.1 375.8h0M80.4 375.6h0M88.6 375.7h0M94.8 376.1h0M97.1 376.2h0M99.3 375.8h0M101.7 376.0h0M106.0 375.8h0M107.5 376.2h0M110.2 375.9h0M112.0 376.2h0M114.5 375.9h0M118.2 376.1h0M120.8 376.0h0M125.0 376.1h0M126.6 376.2h0M129.2 375.6h0M135.7 375.5h0M141.5 375.7h0M144.0 376.0h0M146.3 375.9h0M147.9 375.5h0M154.3 376.0h0M158.8 375.7h0M161.0 376.1h0M165.2 375.6h0M173.8 375.8h0M181.8 375.6h0M9.2 377.9h0M11.7 377.4h0M15.7 377.5h0M20.0 377.4h0M22.3 377.4h0M26.0 377.9h0M30.5 377.4h0M34.7 377.9h0M37.0 378.0h0M38.7 377.4h0M40.7 377.7h0M49.3 377.5h0M54.0 377.5h0M62.5 377.7h0M64.4 377.5h0M66.8 377.5h0M73.0 377.3h0M75.3 377.6h0M79.0 377.6h0M81.6 377.6h0M83.2 377.5h0M87.7 377.5h0M89.6 377.6h0M91.8 377.8h0M93.7 377.5h0M96.1 377.8h0M98.5 377.7h0M100.4 377.7h0M102.6 377.9h0M113.2 377.9h0M115.6 377.5h0M117.4 377.4h0M119.4 377.7h0M121.9 378.0h0M125.9 377.6h0M128.3 378.0h0M132.1 377.6h0M140.9 377.4h0M142.7 377.7h0M159.9 377.7h0M162.2 377.5h0M164.2 377.6h0M166.2 377.7h0M170.2 377.8h0M172.8 377.6h0M174.7 377.8h0M179.2 377.9h0M181.1 377.7h0M12.6 379.8h0M18.8 379.6h0M20.6 379.4h0M23.2 379.7h0M27.4 379.7h0M29.5 379.6h0M31.4 379.7h0M33.8 379.5h0M35.7 379.6h0M37.6 379.2h0M39.8 379.4h0M42.4 379.2h0M44.1 379.5h0M46.1 379.2h0M48.5 379.3h0M50.9 379.2h0M52.4 379.7h0M54.6 379.5h0M61.3 379.5h0M63.0 379.8h0M65.2 379.4h0M69.9 379.6h0M82.6 379.8h0M88.4 379.7h0M90.7 379.2h0M93.3 379.5h0M94.9 379.3h0M97.2 379.5h0M99.7 379.4h0M101.3 379.8h0M105.8 379.2h0M110.1 379.2h0M112.1 379.5h0M118.6 379.5h0M120.6 379.8h0M125.1 379.5h0M130.8 379.7h0M137.7 379.6h0M146.0 379.8h0M147.9 379.5h0M160.7 379.3h0M162.6 379.8h0M165.4 379.6h0M169.4 379.8h0M171.4 379.5h0M177.9 379.8h0M180.1 379.6h0M17.5 381.4h0M19.9 381.2h0M25.9 381.1h0M28.0 381.4h0M32.8 381.6h0M37.1 381.3h0M38.8 381.6h0M42.9 381.4h0M47.3 381.5h0M49.7 381.6h0M51.7 381.3h0M55.8 381.7h0M60.3 381.0h0M62.1 381.3h0M75.1 381.2h0M76.8 381.2h0M83.4 381.6h0M87.9 381.6h0M90.0 381.1h0M106.6 381.5h0M111.3 381.3h0M113.0 381.1h0M115.5 381.6h0M117.3 381.1h0M119.5 381.0h0M121.3 381.2h0M123.5 381.0h0M125.9 381.5h0M128.2 381.1h0M130.3 381.3h0M136.2 381.7h0M138.9 381.6h0M142.6 381.2h0M145.1 381.4h0M147.3 381.7h0M149.3 381.4h0M151.1 381.6h0M159.5 381.1h0M164.2 381.6h0M165.9 381.1h0M168.3 381.1h0M170.6 381.7h0M176.5 381.3h0M178.7 381.6h0M181.0 381.6h0M12.1 383.4h0M27.4 383.2h0M33.5 383.0h0M36.0 383.0h0M38.2 383.3h0M39.8 383.5h0M41.9 382.9h0M44.2 383.3h0M48.7 383.0h0M52.8 383.5h0M54.8 383.0h0M56.7 383.5h0M63.1 383.5h0M65.4 382.9h0M67.9 383.1h0M78.0 383.3h0M82.2 383.4h0M84.2 383.5h0M86.6 383.5h0M90.8 382.9h0M99.2 383.5h0M101.1 383.3h0M103.7 383.0h0M105.6 383.0h0M112.1 383.1h0M120.7 383.5h0M124.8 383.5h0M126.9 383.3h0M128.7 383.3h0M133.4 383.0h0M139.7 383.0h0M142.1 383.5h0M143.5 383.2h0M146.3 383.5h0M148.2 382.9h0M150.0 383.3h0M152.3 383.3h0M154.3 382.9h0M156.7 383.0h0M159.0 383.1h0M160.7 383.3h0M167.0 383.3h0M173.5 383.2h0M175.5 383.0h0M178.0 383.0h0M180.1 383.3h0M181.8 383.3h0M9.1 385.0h0M11.5 385.4h0M13.3 384.9h0M15.5 384.7h0M21.9 385.3h0M34.9 384.7h0M37.0 385.3h0M39.2 384.7h0M40.9 384.9h0M45.0 384.9h0M47.7 385.1h0M49.6 385.0h0M51.6 385.2h0M53.8 385.2h0M56.1 385.3h0M60.3 385.3h0M62.6 384.9h0M64.5 385.1h0M66.4 384.9h0M68.9 385.2h0M70.8 385.4h0M75.1 385.0h0M79.2 384.7h0M81.0 385.4h0M87.9 385.3h0M89.9 385.3h0M91.9 385.3h0M94.4 384.8h0M96.4 385.4h0M100.6 384.8h0M102.5 385.4h0M104.8 385.4h0M106.6 385.3h0M109.1 385.3h0M110.7 385.0h0M115.1 385.2h0M119.5 385.3h0M121.9 385.0h0M123.5 385.1h0M126.1 385.1h0M128.2 385.4h0M130.2 384.9h0M132.3 385.0h0M134.4 385.2h0M136.7 385.2h0M138.5 385.1h0M141.0 385.0h0M143.1 385.0h0M144.9 385.2h0M147.2 385.3h0M149.3 384.7h0M151.1 385.2h0M153.6 385.0h0M155.4 385.0h0M157.5 385.3h0M159.7 385.0h0M162.2 385.2h0M164.2 385.0h0M172.2 385.2h0M174.5 385.4h0M176.7 384.9h0M178.7 385.1h0M180.9 385.2h0M8.1 386.5h0M10.1 386.7h0M12.1 386.6h0M14.4 386.9h0M17.0 386.8h0M19.0 386.6h0M20.9 386.8h0M23.0 387.2h0M25.4 386.9h0M27.0 386.8h0M29.6 386.8h0M31.7 386.5h0M33.8 387.0h0M37.6 386.7h0M39.8 387.2h0M42.2 387.1h0M50.4 387.1h0M52.5 387.0h0M55.1 387.2h0M57.0 387.1h0M59.3 387.2h0M63.6 387.1h0M65.7 386.8h0M67.7 387.0h0M69.6 387.0h0M73.7 386.6h0M76.2 386.7h0M78.2 386.6h0M80.0 387.0h0M82.3 386.8h0M86.4 387.0h0M88.6 387.1h0M91.0 387.0h0M93.2 387.0h0M94.8 387.1h0M97.2 386.8h0M99.6 387.2h0M101.7 386.8h0M103.5 386.7h0M105.9 386.9h0M107.6 386.8h0M110.0 387.0h0M114.5 386.8h0M118.2 386.5h0M120.7 387.2h0M122.6 386.8h0M125.0 386.7h0M126.8 387.0h0M129.3 386.7h0M131.1 386.6h0M133.6 386.8h0M139.3 387.1h0M141.6 387.0h0M143.8 386.8h0M145.9 386.6h0M147.8 387.2h0M152.4 386.8h0M156.4 387.1h0M161.1 386.5h0M162.8 386.8h0M165.3 386.8h0M169.2 387.1h0M171.3 387.0h0M182.0 386.7h0M9.1 389.0h0M11.2 388.7h0M13.2 388.8h0M15.8 388.4h0M17.7 388.4h0M19.6 388.5h0M24.1 388.9h0M26.4 388.9h0M28.2 388.5h0M51.8 388.5h0M53.8 388.8h0M55.9 388.9h0M64.4 388.9h0M66.8 388.7h0M68.7 388.6h0M73.0 389.0h0M77.2 388.5h0M79.3 388.5h0M88.0 388.4h0M91.7 389.0h0M93.8 388.5h0M98.4 388.4h0M102.8 388.8h0M104.5 388.9h0M106.8 388.8h0M109.2 389.0h0M111.0 388.9h0M113.3 388.6h0M115.0 388.9h0M121.6 389.0h0M123.8 388.4h0M126.0 388.5h0M127.9 388.5h0M134.4 388.8h0M138.5 388.8h0M141.0 388.6h0M144.6 388.6h0M147.2 388.4h0M148.9 388.8h0M151.1 389.1h0M153.7 388.6h0M155.6 388.8h0M157.6 388.9h0M163.7 388.5h0M168.0 388.7h0M170.2 388.5h0M174.9 388.6h0M176.8 388.8h0M180.8 388.6h0M7.9 390.6h0M12.7 390.3h0M14.5 390.7h0M16.4 390.8h0M18.9 390.4h0M22.8 390.7h0M25.2 390.6h0M33.8 390.8h0M36.1 390.4h0M37.8 390.7h0M39.9 390.6h0M50.8 390.5h0M54.8 390.7h0M60.9 390.6h0M65.1 390.3h0M69.7 390.5h0M72.0 390.3h0M73.7 390.8h0M78.4 390.8h0M80.2 390.8h0M88.7 390.8h0M93.2 390.9h0M95.0 390.2h0M97.5 390.3h0M103.6 390.3h0M106.0 390.3h0M108.2 390.3h0M109.7 390.6h0M111.9 390.5h0M113.9 390.5h0M118.7 390.5h0M120.7 390.7h0M125.1 390.5h0M127.2 390.5h0M129.1 390.7h0M133.3 390.7h0M135.5 390.9h0M137.4 390.5h0M139.6 390.6h0M144.0 390.3h0M146.1 390.8h0M148.2 390.2h0M149.9 390.6h0M152.6 390.4h0M154.4 390.8h0M156.9 390.6h0M162.8 390.5h0M165.3 390.4h0M167.4 390.3h0M169.3 390.9h0M171.7 390.5h0M173.5 390.6h0M178.1 390.4h0M180.2 390.2h0M182.1 390.3h0M13.7 392.3h0M15.4 392.4h0M17.8 392.4h0M20.0 392.6h0M22.2 392.4h0M23.8 392.1h0M26.4 392.2h0M28.2 392.6h0M30.1 392.2h0M32.4 392.7h0M35.0 392.2h0M36.9 392.3h0M38.6 392.4h0M41.2 392.1h0M49.7 392.3h0M51.9 392.5h0M53.7 392.5h0M60.3 392.2h0M62.2 392.1h0M66.3 392.5h0M68.4 392.3h0M72.7 392.7h0M74.7 392.4h0M79.1 392.3h0M81.5 392.3h0M83.4 392.5h0M87.5 392.3h0M92.2 392.4h0M94.2 392.1h0M96.2 392.4h0M98.3 392.6h0M106.7 392.6h0M109.1 392.5h0M110.8 392.6h0M115.4 392.2h0M117.1 392.3h0M123.8 392.7h0M126.2 392.1h0M134.5 392.5h0M136.5 392.6h0M145.0 392.1h0M147.4 392.3h0M151.1 392.1h0M153.5 392.6h0M155.3 392.6h0M157.6 392.3h0M164.3 392.2h0M166.0 392.6h0M168.2 392.3h0M170.6 392.5h0M172.6 392.4h0M175.0 392.5h0M180.8 392.1h0" stroke="#fbfafc" stroke-width="1.5" stroke-linecap="square" fill="none"/>
<path d="M19.8 278.6h0M54.0 278.3h0M57.8 278.5h0M60.3 278.0h0M62.5 278.4h0M117.1 278.4h0M163.7 278.3h0M170.7 278.4h0M174.9 278.0h0M181.2 278.4h0M42.2 280.2h0M34.9 282.3h0M68.6 282.2h0M85.4 281.7h0M94.2 281.9h0M100.2 281.8h0M42.0 284.0h0M78.1 284.0h0M93.3 284.0h0M101.5 283.5h0M135.6 284.1h0M169.1 284.0h0M11.7 289.4h0M19.9 289.3h0M110.7 289.6h0M113.0 289.1h0M130.1 289.3h0M159.9 289.7h0M174.5 289.4h0M14.5 291.3h0M63.4 290.9h0M144.0 290.9h0M150.0 291.3h0M30.7 293.1h0M47.4 293.3h0M117.5 292.9h0M123.6 292.9h0M134.1 293.0h0M143.1 292.8h0M40.3 295.1h0M97.2 294.8h0M103.7 294.5h0M109.7 294.5h0M114.0 294.9h0M141.4 295.1h0M148.1 295.0h0M19.6 296.6h0M34.4 296.4h0M43.0 296.9h0M45.0 297.1h0M49.7 296.7h0M174.9 296.6h0M179.1 296.6h0M35.4 298.2h0M42.1 298.3h0M57.3 298.5h0M154.8 298.3h0M177.6 298.8h0M92.2 300.6h0M113.2 300.3h0M121.6 300.5h0M140.7 300.6h0M174.9 300.5h0M27.6 302.3h0M35.4 302.2h0M56.8 302.4h0M118.7 302.4h0M178.1 302.5h0M19.5 304.0h0M28.1 303.9h0M117.1 303.8h0M136.2 303.8h0M155.5 303.9h0M181.2 303.9h0M21.2 305.9h0M65.2 306.1h0M82.5 305.8h0M84.8 305.8h0M86.8 305.7h0M99.1 305.7h0M107.8 305.6h0M154.6 306.0h0M179.9 306.0h0M100.5 307.6h0M102.9 308.0h0M104.9 307.9h0M179.1 307.6h0M29.6 309.7h0M48.5 309.6h0M103.4 309.5h0M133.1 309.8h0M135.3 309.6h0M137.7 309.4h0M30.5 311.7h0M32.6 311.4h0M60.4 311.7h0M85.6 311.7h0M104.6 311.6h0M107.1 311.5h0M125.9 311.7h0M128.2 311.3h0M138.5 311.3h0M162.2 311.5h0M14.7 313.6h0M33.7 313.2h0M67.3 313.3h0M74.2 313.3h0M82.7 313.5h0M90.8 313.3h0M101.6 313.4h0M114.2 313.4h0M116.1 313.3h0M64.6 314.9h0M70.6 314.8h0M96.4 315.1h0M155.5 315.4h0M50.7 317.2h0M63.0 316.9h0M78.5 317.2h0M89.0 317.1h0M93.0 316.8h0M103.6 317.3h0M159.0 317.0h0M49.2 319.1h0M53.5 319.1h0M68.5 318.6h0M91.7 318.5h0M98.3 318.5h0M167.9 319.1h0M14.9 320.4h0M42.1 320.5h0M44.3 320.8h0M65.2 320.9h0M95.0 320.9h0M105.7 320.8h0M126.7 320.4h0M139.4 320.8h0M147.8 320.6h0M173.8 320.7h0M18.0 322.7h0M32.9 322.4h0M85.5 322.3h0M106.6 322.6h0M144.9 322.4h0M18.7 324.3h0M37.7 324.4h0M42.3 324.3h0M21.8 326.3h0M38.7 326.5h0M72.7 326.2h0M14.4 327.7h0M20.9 327.8h0M38.0 327.9h0M71.5 327.7h0M110.2 327.8h0M68.9 329.7h0M111.3 329.5h0M31.3 331.6h0M109.7 331.4h0M122.7 332.0h0M137.3 331.8h0M171.3 331.7h0M175.9 331.6h0M178.1 331.5h0M30.8 333.7h0M104.8 333.3h0M125.9 333.3h0M172.7 333.5h0M179.0 333.2h0M10.7 335.2h0M51.6 337.1h0M53.9 336.9h0M56.2 337.4h0M110.9 337.3h0M155.3 336.9h0M25.2 339.3h0M50.6 339.3h0M120.7 338.8h0M150.1 339.1h0M26.3 341.1h0M51.5 340.8h0M54.0 340.9h0M71.1 341.1h0M117.3 340.8h0M119.5 340.6h0M151.3 340.7h0M153.2 340.7h0M24.9 342.5h0M90.6 342.8h0M99.2 342.7h0M120.4 342.6h0M15.3 344.7h0M109.1 344.6h0M153.5 344.7h0M181.2 344.8h0M65.6 346.7h0M74.1 346.5h0M21.9 348.5h0M26.6 348.1h0M47.3 348.0h0M57.7 348.3h0M94.1 348.5h0M119.4 348.3h0M157.7 348.1h0M90.9 349.9h0M120.4 350.3h0M161.2 350.3h0M173.4 350.1h0M102.5 351.7h0M138.6 352.2h0M145.0 352.2h0M147.3 351.9h0M159.4 351.8h0M164.3 352.1h0M80.5 353.4h0M141.6 353.9h0M47.5 355.5h0M56.2 355.3h0M64.6 355.8h0M104.9 355.5h0M107.0 355.3h0M142.9 355.3h0M144.7 355.7h0M163.8 355.5h0M178.8 355.6h0M181.0 355.3h0M10.0 357.7h0M40.3 357.1h0M50.6 357.4h0M80.4 357.4h0M82.3 357.1h0M97.5 357.1h0M163.2 357.3h0M26.4 359.4h0M32.5 359.2h0M60.3 359.5h0M81.6 359.2h0M98.3 359.1h0M100.5 359.1h0M136.4 359.5h0M138.8 359.3h0M170.6 359.0h0M25.5 361.4h0M90.9 361.0h0M97.5 360.9h0M103.3 361.3h0M124.6 360.9h0M127.0 360.9h0M135.7 361.1h0M146.2 361.4h0M156.8 361.4h0M34.8 362.8h0M47.8 363.0h0M57.9 363.2h0M59.9 363.3h0M85.5 362.8h0M94.3 363.0h0M98.6 362.8h0M100.5 362.9h0M106.9 363.0h0M113.3 363.2h0M128.1 362.8h0M25.0 364.7h0M27.6 364.6h0M110.2 364.7h0M154.1 365.0h0M79.6 366.6h0M100.3 366.4h0M102.2 366.3h0M129.9 366.3h0M181.3 366.7h0M27.5 368.8h0M76.1 368.7h0M89.0 368.6h0M148.4 368.2h0M150.2 368.5h0M156.3 368.7h0M167.1 368.1h0M173.3 368.6h0M180.2 368.5h0M38.9 370.0h0M132.0 370.3h0M168.3 370.6h0M170.2 370.4h0M172.5 370.4h0M175.0 370.0h0M61.4 372.5h0M74.3 372.1h0M133.2 371.9h0M167.5 372.0h0M173.7 372.1h0M175.7 372.3h0M177.8 372.2h0M179.9 372.2h0M62.4 374.0h0M83.5 374.0h0M138.6 374.0h0M170.4 373.8h0M176.6 374.2h0M14.4 376.2h0M16.4 375.6h0M33.4 375.8h0M35.7 375.9h0M82.2 375.7h0M139.5 376.0h0M167.5 376.1h0M55.6 377.7h0M68.5 377.3h0M104.7 378.0h0M124.0 377.5h0M136.6 377.7h0M146.9 378.0h0M149.1 377.6h0M155.5 377.6h0M59.1 379.8h0M67.8 379.4h0M132.9 379.5h0M175.8 379.2h0M11.5 381.1h0M13.8 381.6h0M30.5 381.0h0M34.6 381.4h0M66.8 381.7h0M81.5 381.5h0M96.4 381.4h0M153.2 381.1h0M8.2 383.1h0M18.5 383.0h0M20.6 383.3h0M25.0 383.2h0M69.6 383.0h0M95.4 383.3h0M97.3 383.5h0M109.9 383.0h0M116.2 383.0h0M165.2 383.4h0M169.7 383.1h0M171.3 383.1h0M17.8 385.1h0M23.9 385.1h0M35.6 386.6h0M150.5 386.9h0M173.5 387.2h0M34.5 389.1h0M36.9 388.6h0M39.2 389.0h0M47.3 388.6h0M85.8 388.8h0M100.5 388.7h0M119.4 388.7h0M162.0 389.0h0M46.1 390.5h0M84.2 390.4h0M86.5 390.6h0M99.5 390.4h0M101.8 390.2h0M160.8 390.8h0M45.2 392.7h0M47.5 392.5h0M64.4 392.7h0M85.3 392.2h0M102.3 392.7h0M104.4 392.4h0M140.8 392.1h0" stroke="#b38cc6" stroke-width="1.75" stroke-linecap="square" fill="none"/>
<path d="M17.6 278.7h0M36.6 278.1h0M39.0 278.0h0M138.3 278.3h0M172.6 278.4h0M61.5 280.3h0M63.4 280.1h0M73.9 280.0h0M84.6 280.0h0M99.5 280.5h0M103.9 280.4h0M150.3 280.0h0M164.9 280.1h0M30.6 282.0h0M37.0 282.0h0M64.5 282.1h0M96.3 281.9h0M153.1 281.9h0M7.9 284.1h0M31.5 283.7h0M88.8 284.1h0M118.7 283.9h0M126.6 283.8h0M128.9 284.1h0M148.4 283.7h0M64.7 285.9h0M79.2 285.9h0M104.7 285.6h0M176.5 285.8h0M59.0 287.2h0M75.7 287.5h0M105.6 287.2h0M173.5 287.2h0M9.0 289.7h0M13.8 289.3h0M15.9 289.2h0M98.5 289.6h0M126.1 289.6h0M172.6 289.5h0M8.3 291.1h0M27.3 291.1h0M33.4 291.4h0M88.7 291.0h0M118.3 291.4h0M129.1 291.3h0M142.1 291.3h0M24.1 292.7h0M32.7 293.1h0M41.4 292.7h0M119.4 293.0h0M129.9 293.3h0M174.7 293.1h0M25.0 294.5h0M27.3 294.9h0M35.6 294.6h0M61.1 294.7h0M99.6 294.7h0M144.1 294.9h0M24.4 296.4h0M126.0 297.0h0M128.1 296.8h0M10.7 298.5h0M18.5 298.3h0M24.8 298.4h0M31.7 298.5h0M37.8 298.6h0M40.2 298.5h0M61.3 298.9h0M90.6 298.3h0M97.0 298.6h0M99.1 298.4h0M152.5 298.9h0M15.7 300.5h0M26.2 300.4h0M28.1 300.3h0M45.6 300.3h0M53.8 300.4h0M64.7 300.7h0M66.6 300.5h0M77.1 300.6h0M100.2 300.5h0M110.7 300.3h0M136.5 300.5h0M142.7 300.7h0M7.9 302.4h0M38.0 302.6h0M40.0 302.4h0M42.2 302.1h0M77.9 302.5h0M94.8 302.0h0M101.8 302.2h0M148.4 302.2h0M152.7 302.4h0M175.9 302.4h0M179.6 302.4h0M182.3 302.3h0M21.7 304.3h0M58.1 304.0h0M62.4 304.1h0M98.3 304.1h0M104.7 304.2h0M174.6 304.1h0M10.0 306.0h0M12.2 305.7h0M16.8 305.7h0M22.8 306.0h0M105.7 305.8h0M125.1 306.1h0M135.5 306.1h0M146.0 305.7h0M152.6 306.0h0M156.7 306.1h0M165.3 305.8h0M169.4 305.8h0M173.6 305.9h0M83.2 308.1h0M85.6 308.1h0M107.1 307.9h0M123.9 307.6h0M136.2 307.8h0M168.4 307.8h0M176.5 308.1h0M180.9 307.8h0M16.8 309.7h0M39.7 309.9h0M84.3 309.9h0M124.8 309.6h0M161.1 309.9h0M173.3 309.6h0M45.0 311.4h0M49.2 311.1h0M57.8 311.5h0M117.0 311.1h0M157.7 311.3h0M166.4 311.3h0M170.3 311.4h0M176.6 311.1h0M27.4 313.0h0M39.7 313.6h0M65.3 313.1h0M70.0 313.2h0M122.5 313.2h0M152.2 313.4h0M156.9 313.5h0M171.4 313.5h0M180.2 313.3h0M34.9 315.0h0M36.6 314.9h0M66.3 314.9h0M74.8 315.0h0M89.8 314.9h0M117.6 314.8h0M174.8 315.2h0M177.0 315.3h0M8.0 317.3h0M27.6 317.2h0M48.8 316.9h0M61.4 316.7h0M65.5 316.9h0M94.8 317.3h0M107.6 317.2h0M148.1 316.7h0M51.6 318.9h0M58.3 318.9h0M73.0 318.8h0M76.8 318.6h0M89.7 318.5h0M142.7 318.8h0M157.7 319.0h0M160.0 318.7h0M174.6 319.0h0M176.8 318.6h0M50.9 320.5h0M59.3 320.5h0M84.6 320.5h0M88.9 320.6h0M124.7 320.8h0M128.9 320.5h0M141.8 320.9h0M24.3 322.6h0M51.4 322.5h0M147.3 322.2h0M162.1 322.5h0M8.1 324.6h0M48.5 324.6h0M72.0 324.3h0M120.6 324.1h0M139.7 324.3h0M156.5 324.3h0M180.0 324.6h0M181.8 324.1h0M23.9 326.0h0M119.7 325.8h0M134.6 326.5h0M138.4 326.3h0M147.0 326.5h0M164.1 326.4h0M178.8 325.9h0M65.6 327.9h0M92.9 328.3h0M118.6 328.2h0M120.8 328.1h0M20.1 330.0h0M42.9 330.0h0M62.5 329.9h0M70.6 329.5h0M72.7 330.0h0M108.9 330.2h0M140.6 330.1h0M146.8 330.1h0M29.1 331.7h0M33.5 331.4h0M39.7 331.7h0M46.6 331.6h0M53.0 331.9h0M67.4 332.0h0M71.6 331.4h0M95.0 331.8h0M112.0 331.5h0M120.3 332.0h0M98.1 333.7h0M110.7 333.3h0M136.3 333.4h0M155.7 333.8h0M177.0 333.4h0M8.5 335.1h0M12.5 335.4h0M35.8 335.6h0M50.8 335.2h0M53.0 335.2h0M55.1 335.1h0M73.7 335.3h0M116.0 335.1h0M122.3 335.6h0M162.6 335.7h0M32.8 337.5h0M34.5 337.3h0M47.5 337.0h0M177.0 337.3h0M48.7 338.7h0M109.9 339.3h0M116.4 339.0h0M154.7 339.1h0M156.7 339.2h0M173.4 339.0h0M9.1 341.1h0M30.6 341.2h0M32.8 340.6h0M74.8 340.7h0M77.2 341.0h0M96.5 341.0h0M109.0 340.7h0M128.1 340.7h0M160.0 341.1h0M172.7 340.6h0M181.1 340.6h0M31.3 342.9h0M33.8 342.6h0M101.2 342.9h0M124.5 342.9h0M135.1 342.9h0M147.8 342.4h0M167.4 342.7h0M26.5 344.5h0M64.4 344.9h0M91.8 344.4h0M94.1 344.5h0M102.4 344.8h0M115.6 344.6h0M121.5 344.5h0M136.3 344.7h0M177.1 344.8h0M24.8 346.7h0M55.1 346.4h0M57.1 346.2h0M88.9 346.3h0M135.4 346.1h0M137.6 346.3h0M28.5 348.4h0M85.3 348.5h0M159.9 348.2h0M178.7 348.0h0M8.5 350.0h0M31.6 349.9h0M88.8 349.8h0M156.8 350.4h0M163.2 350.0h0M175.4 350.4h0M53.6 351.7h0M85.7 351.7h0M92.1 351.9h0M142.7 352.0h0M162.2 351.8h0M44.5 353.9h0M82.6 353.8h0M92.8 353.9h0M103.7 353.4h0M137.5 353.6h0M144.1 353.9h0M161.1 353.7h0M13.3 355.5h0M96.4 355.5h0M98.0 355.5h0M136.6 355.6h0M155.2 355.7h0M161.8 355.6h0M8.4 357.3h0M38.0 357.3h0M57.0 357.7h0M65.7 357.6h0M84.8 357.7h0M86.5 357.2h0M88.6 357.3h0M108.1 357.6h0M114.1 357.1h0M160.6 357.7h0M177.8 357.5h0M11.1 359.4h0M66.3 359.3h0M83.7 359.0h0M87.5 359.1h0M132.2 359.5h0M151.5 359.1h0M161.8 359.1h0M172.7 359.2h0M23.3 361.0h0M27.5 361.0h0M31.7 361.0h0M52.6 360.8h0M59.1 361.3h0M75.7 361.4h0M116.2 360.8h0M131.3 361.2h0M148.3 361.1h0M175.3 360.8h0M9.5 363.1h0M22.3 362.8h0M28.4 363.0h0M45.1 363.3h0M87.5 363.2h0M109.0 363.1h0M111.3 362.7h0M170.4 363.1h0M172.5 363.0h0M29.6 364.6h0M84.4 364.6h0M95.4 364.5h0M99.3 365.1h0M105.7 365.1h0M125.0 365.1h0M128.8 365.0h0M140.0 364.9h0M127.7 366.7h0M136.4 366.4h0M138.4 366.4h0M36.1 368.3h0M111.9 368.8h0M133.3 368.3h0M135.7 368.8h0M177.7 368.7h0M182.0 368.7h0M53.6 370.6h0M75.0 370.3h0M77.3 370.1h0M89.8 370.1h0M91.9 370.5h0M111.2 370.5h0M121.6 370.0h0M134.7 370.3h0M141.0 370.1h0M142.7 370.4h0M147.1 370.4h0M151.5 370.4h0M153.7 370.2h0M181.3 370.3h0M25.5 372.1h0M59.2 371.9h0M63.6 372.0h0M144.0 372.0h0M156.3 372.1h0M181.7 372.2h0M13.6 373.7h0M34.7 373.9h0M47.3 374.2h0M56.0 373.9h0M66.2 374.0h0M100.5 374.1h0M136.8 374.1h0M159.4 373.8h0M168.1 374.2h0M172.2 373.7h0M174.9 374.0h0M48.3 375.8h0M50.4 375.9h0M57.0 376.0h0M67.5 376.0h0M84.4 376.0h0M137.8 375.9h0M150.6 375.7h0M152.6 375.7h0M169.1 375.8h0M175.4 375.8h0M32.7 377.4h0M85.8 377.7h0M109.2 377.4h0M138.4 377.5h0M145.0 377.8h0M153.7 377.7h0M168.1 377.7h0M8.3 379.3h0M14.4 379.2h0M16.7 379.2h0M56.6 379.5h0M72.1 379.7h0M86.4 379.6h0M114.3 379.4h0M116.6 379.4h0M143.9 379.5h0M152.7 379.5h0M173.9 379.4h0M182.2 379.8h0M15.7 381.4h0M53.5 381.7h0M57.9 381.1h0M70.9 381.3h0M78.9 381.5h0M85.6 381.4h0M92.2 381.4h0M134.3 381.3h0M162.0 381.5h0M174.4 381.2h0M50.9 383.5h0M59.2 382.9h0M74.1 382.9h0M88.8 383.4h0M92.8 383.0h0M118.2 383.1h0M131.3 383.5h0M73.2 385.3h0M83.5 385.1h0M85.8 384.8h0M166.1 384.9h0M168.6 385.2h0M170.2 385.4h0M44.1 386.8h0M60.9 386.9h0M167.2 387.1h0M177.7 386.8h0M32.8 388.9h0M49.5 389.0h0M59.8 389.0h0M61.9 388.7h0M71.0 388.6h0M117.7 388.5h0M172.5 388.9h0M44.0 390.5h0M48.8 390.8h0M63.3 390.3h0M76.1 390.8h0M82.5 390.4h0M90.6 390.7h0M141.8 390.4h0M70.7 392.6h0M89.9 392.5h0M100.3 392.1h0M113.2 392.4h0M121.9 392.2h0M162.1 392.1h0" stroke="#bf9fcf" stroke-width="1.75" stroke-linecap="square" fill="none"/>
<path d="M11.3 278.0h0M34.6 278.0h0M41.2 278.6h0M56.1 278.5h0M90.0 278.2h0M94.1 278.4h0M98.1 278.1h0M104.6 278.3h0M115.2 278.2h0M123.7 278.5h0M136.6 278.1h0M142.7 278.3h0M12.7 280.1h0M18.6 280.4h0M80.5 280.5h0M86.5 280.5h0M88.5 280.1h0M124.5 280.5h0M169.6 280.2h0M171.6 280.0h0M179.7 280.2h0M32.9 282.2h0M38.7 281.8h0M41.4 281.8h0M79.4 281.9h0M91.9 282.1h0M121.9 281.7h0M128.2 281.8h0M179.2 282.3h0M18.6 283.7h0M33.9 283.8h0M82.5 283.8h0M99.5 283.7h0M116.3 284.1h0M143.9 283.7h0M160.9 283.5h0M162.8 284.1h0M11.4 285.8h0M21.9 285.6h0M28.3 286.0h0M34.9 285.5h0M62.1 285.5h0M88.0 285.4h0M115.4 285.4h0M170.3 285.4h0M48.7 287.3h0M65.1 287.2h0M91.0 287.8h0M99.2 287.8h0M22.3 289.3h0M47.7 289.6h0M75.0 289.2h0M79.4 289.2h0M81.4 289.3h0M108.6 289.3h0M20.8 291.1h0M25.5 291.3h0M54.6 291.1h0M73.8 291.5h0M77.9 291.1h0M82.1 291.4h0M114.1 291.4h0M120.8 291.4h0M152.3 291.0h0M158.6 291.4h0M17.4 292.8h0M26.5 293.4h0M28.1 293.1h0M49.5 293.0h0M51.9 293.0h0M62.6 292.7h0M68.4 293.1h0M83.1 292.9h0M121.7 292.9h0M155.5 293.2h0M178.5 293.2h0M23.2 295.0h0M31.3 294.8h0M37.8 294.6h0M54.5 294.9h0M65.8 295.0h0M135.4 295.1h0M173.6 295.2h0M175.6 294.9h0M17.6 297.0h0M28.5 296.6h0M30.6 296.6h0M32.2 296.6h0M47.6 296.4h0M56.0 297.1h0M62.6 296.8h0M64.1 296.9h0M142.8 296.8h0M146.9 296.7h0M166.3 296.6h0M8.2 298.2h0M44.2 298.4h0M46.0 298.8h0M48.8 298.5h0M55.0 298.6h0M63.3 298.9h0M139.5 298.6h0M165.1 298.3h0M175.8 298.8h0M9.3 300.4h0M38.7 300.3h0M49.9 300.6h0M75.1 300.2h0M83.6 300.6h0M98.6 300.7h0M138.4 300.7h0M180.7 300.5h0M20.6 302.3h0M84.8 302.4h0M99.3 302.6h0M114.0 302.0h0M116.2 302.5h0M137.9 302.3h0M164.9 302.5h0M37.0 303.8h0M45.0 304.2h0M51.6 304.2h0M93.9 304.3h0M130.2 304.4h0M144.7 304.3h0M40.0 306.1h0M48.2 306.0h0M67.7 306.0h0M97.3 306.0h0M60.2 307.6h0M96.2 307.9h0M141.0 307.6h0M144.8 307.9h0M12.1 309.5h0M18.9 309.3h0M27.2 309.7h0M46.5 309.4h0M95.0 309.7h0M114.4 309.9h0M122.6 309.4h0M127.1 309.8h0M177.8 309.8h0M17.5 311.1h0M20.1 311.6h0M40.7 311.6h0M47.3 311.4h0M51.9 311.2h0M93.9 311.6h0M102.4 311.1h0M153.1 311.5h0M164.1 311.5h0M63.2 313.1h0M72.0 313.6h0M86.6 313.5h0M97.0 313.6h0M120.7 313.4h0M128.8 313.3h0M175.7 313.0h0M17.5 315.3h0M43.2 315.4h0M45.3 315.2h0M73.2 315.3h0M79.0 315.4h0M83.4 315.2h0M157.4 314.8h0M178.9 315.3h0M181.0 314.9h0M67.3 316.7h0M101.3 316.8h0M124.5 316.8h0M154.4 316.7h0M43.1 318.5h0M55.8 318.7h0M85.9 318.8h0M95.9 318.7h0M115.1 318.9h0M126.2 318.7h0M165.8 319.1h0M71.7 320.9h0M90.9 320.9h0M182.2 320.7h0M26.3 322.1h0M73.1 322.6h0M90.1 322.4h0M91.6 322.2h0M119.7 322.8h0M124.1 322.2h0M142.5 322.6h0M31.2 324.6h0M59.0 324.3h0M69.6 324.2h0M77.8 324.0h0M89.1 324.3h0M131.0 324.4h0M154.7 324.3h0M13.5 326.2h0M15.8 326.0h0M49.6 326.3h0M55.7 326.3h0M59.8 326.2h0M71.1 326.5h0M74.7 325.9h0M109.2 326.0h0M111.0 326.5h0M16.7 328.0h0M18.9 328.3h0M29.3 328.3h0M35.6 327.8h0M101.5 328.3h0M116.6 327.8h0M135.1 328.3h0M167.3 327.9h0M169.4 328.2h0M32.5 329.7h0M39.1 330.0h0M41.1 330.1h0M83.4 330.0h0M102.7 329.7h0M113.5 329.7h0M130.0 329.6h0M159.5 329.7h0M168.3 329.7h0M178.6 329.6h0M181.0 329.6h0M82.3 331.5h0M135.6 331.9h0M146.3 332.0h0M28.4 333.7h0M53.9 333.7h0M72.8 333.8h0M79.1 333.7h0M127.7 333.2h0M130.0 333.6h0M144.6 333.8h0M170.1 333.6h0M27.4 335.0h0M29.2 335.4h0M56.8 335.1h0M59.3 335.2h0M105.7 335.3h0M158.7 335.7h0M161.0 335.5h0M181.8 335.6h0M11.4 337.1h0M13.3 337.3h0M88.0 337.3h0M123.5 337.0h0M142.6 337.3h0M153.7 337.3h0M164.0 337.4h0M8.4 339.0h0M10.6 339.2h0M35.9 339.3h0M67.6 339.2h0M95.4 338.9h0M111.7 338.7h0M141.4 338.7h0M145.9 338.9h0M34.8 340.6h0M36.6 340.8h0M49.4 341.0h0M161.6 341.2h0M163.7 341.1h0M29.5 342.7h0M63.4 342.8h0M105.4 343.0h0M114.4 342.4h0M116.1 342.5h0M133.0 343.0h0M150.2 343.1h0M158.8 342.4h0M171.5 342.7h0M176.0 342.6h0M180.1 342.8h0M11.0 344.3h0M24.3 344.2h0M60.4 344.4h0M70.8 344.7h0M123.5 344.5h0M147.3 344.2h0M151.3 344.6h0M157.9 344.5h0M164.0 344.9h0M168.6 344.5h0M178.5 344.8h0M71.8 346.5h0M101.4 346.2h0M139.9 346.2h0M141.9 346.6h0M150.1 346.2h0M169.4 346.2h0M175.8 346.3h0M178.1 346.6h0M45.5 348.6h0M53.5 348.5h0M70.6 348.6h0M72.9 348.2h0M74.8 348.1h0M104.6 348.1h0M106.7 348.1h0M143.1 348.0h0M163.8 348.5h0M24.8 350.1h0M50.3 350.1h0M52.7 349.9h0M54.9 350.4h0M69.5 350.4h0M78.4 350.4h0M86.3 350.1h0M106.0 349.8h0M159.1 349.8h0M32.4 351.7h0M94.1 351.8h0M127.7 352.0h0M136.7 351.7h0M151.1 351.7h0M166.3 351.8h0M167.9 351.7h0M16.5 354.1h0M18.7 354.0h0M31.3 353.8h0M86.8 353.8h0M135.7 353.8h0M163.1 353.9h0M167.1 354.0h0M179.8 353.7h0M32.9 355.3h0M34.8 355.5h0M53.6 355.3h0M71.0 355.3h0M77.0 355.7h0M79.4 355.8h0M83.8 355.9h0M93.8 355.6h0M109.1 355.3h0M112.8 355.8h0M18.8 357.1h0M35.7 357.3h0M76.2 357.7h0M78.1 357.3h0M103.5 357.2h0M105.6 357.2h0M124.5 357.4h0M179.6 357.8h0M19.6 359.3h0M53.7 359.6h0M57.8 359.0h0M75.1 359.3h0M77.0 359.2h0M89.7 359.4h0M102.7 359.4h0M126.1 359.6h0M159.9 359.3h0M168.3 359.5h0M35.9 361.0h0M44.5 361.0h0M65.6 361.3h0M74.1 361.2h0M80.3 360.8h0M105.8 361.1h0M114.1 361.3h0M158.6 361.0h0M164.9 360.9h0M171.3 360.8h0M39.1 362.9h0M55.6 363.2h0M83.4 363.0h0M125.7 363.0h0M134.5 362.8h0M140.5 362.7h0M144.9 362.8h0M151.4 363.1h0M10.1 364.9h0M18.7 364.5h0M21.2 365.0h0M35.9 364.9h0M50.9 364.9h0M63.0 364.7h0M91.1 364.5h0M126.6 364.7h0M152.6 364.6h0M11.3 366.5h0M19.6 366.8h0M21.8 367.0h0M56.0 367.0h0M60.0 366.6h0M92.2 367.0h0M104.7 366.3h0M123.8 366.8h0M132.4 366.9h0M134.4 366.6h0M145.1 366.6h0M149.3 366.6h0M174.8 366.3h0M18.7 368.2h0M25.5 368.3h0M78.2 368.6h0M96.9 368.2h0M137.6 368.4h0M146.0 368.3h0M19.6 370.3h0M28.4 370.2h0M30.7 370.5h0M37.1 370.3h0M47.6 370.0h0M56.2 370.2h0M108.9 370.1h0M125.5 370.2h0M149.3 370.3h0M178.8 370.5h0M33.3 372.2h0M40.3 372.1h0M91.1 372.4h0M99.1 372.0h0M101.4 372.3h0M103.8 372.3h0M137.5 372.4h0M146.2 372.3h0M169.0 372.4h0M17.4 373.9h0M19.7 374.3h0M30.6 374.2h0M60.0 373.8h0M64.5 374.3h0M79.5 374.0h0M92.0 374.2h0M117.4 374.0h0M121.4 373.8h0M140.4 374.3h0M153.7 374.3h0M157.8 374.1h0M12.8 375.8h0M63.2 376.0h0M71.6 375.7h0M86.8 375.8h0M91.0 375.7h0M103.8 376.1h0M122.9 376.1h0M133.0 375.6h0M171.3 375.8h0M13.4 377.4h0M28.3 377.6h0M43.0 377.4h0M45.4 377.9h0M58.0 377.8h0M60.1 377.7h0M106.5 377.4h0M111.0 378.0h0M129.9 377.6h0M134.5 377.5h0M151.1 377.5h0M176.9 377.6h0M10.0 379.4h0M25.0 379.6h0M74.0 379.6h0M78.3 379.8h0M122.7 379.6h0M126.8 379.9h0M139.3 379.7h0M142.0 379.5h0M149.9 379.2h0M154.8 379.5h0M156.6 379.3h0M9.5 381.3h0M21.8 381.3h0M40.8 381.2h0M68.6 381.5h0M102.6 381.0h0M108.8 381.5h0M157.5 381.6h0M16.8 383.0h0M23.3 383.0h0M46.2 383.0h0M71.5 382.9h0M80.3 383.2h0M107.8 383.3h0M162.6 383.1h0M26.0 384.7h0M28.0 384.8h0M32.9 385.4h0M43.1 384.9h0M57.8 385.2h0M76.9 385.3h0M117.2 385.4h0M111.9 387.1h0M135.3 386.7h0M154.5 386.7h0M22.3 388.8h0M30.6 389.0h0M41.2 388.6h0M43.0 389.1h0M45.4 389.0h0M81.0 388.9h0M90.0 388.9h0M130.0 388.9h0M136.7 389.0h0M142.6 388.6h0M160.1 389.0h0M178.5 388.6h0M10.4 390.7h0M20.9 390.5h0M27.2 390.7h0M31.4 390.8h0M41.8 390.3h0M52.7 390.8h0M67.4 390.5h0M122.9 390.6h0M131.3 390.5h0M158.5 390.8h0M9.2 392.6h0M43.4 392.5h0M55.6 392.6h0M58.1 392.2h0M76.8 392.4h0M119.3 392.5h0M128.1 392.3h0M130.0 392.3h0M142.8 392.4h0M149.4 392.6h0M178.7 392.6h0" stroke="#ccb3d9" stroke-width="1.75" stroke-linecap="square" fill="none"/>
<path d="M70.7 278.6h0M85.4 278.1h0M102.6 278.4h0M144.8 278.5h0M158.0 278.4h0M31.7 280.5h0M39.7 280.4h0M50.3 280.1h0M65.4 280.2h0M82.6 280.5h0M90.7 279.9h0M118.3 279.8h0M115.0 282.1h0M123.9 281.9h0M136.5 281.7h0M170.3 281.7h0M172.4 281.8h0M181.3 281.8h0M39.9 283.9h0M97.0 283.9h0M133.1 283.7h0M173.4 283.8h0M9.2 285.5h0M13.5 285.9h0M30.5 285.9h0M32.8 285.4h0M81.3 285.7h0M128.3 285.4h0M155.5 285.4h0M8.5 287.3h0M97.1 287.5h0M103.6 287.4h0M114.5 287.9h0M127.2 287.3h0M147.8 287.6h0M24.3 289.6h0M32.8 289.6h0M57.8 289.6h0M70.9 289.6h0M83.6 289.4h0M96.1 289.5h0M102.4 289.3h0M140.8 289.1h0M142.5 289.4h0M176.4 289.2h0M29.4 291.3h0M69.6 291.2h0M124.8 290.9h0M133.5 291.3h0M162.9 291.2h0M165.0 291.4h0M182.2 291.0h0M19.9 292.7h0M34.4 293.2h0M43.3 292.8h0M56.0 292.9h0M58.2 293.3h0M70.7 293.3h0M77.4 292.9h0M88.0 293.3h0M102.6 293.0h0M113.0 293.3h0M132.0 293.1h0M162.1 293.0h0M166.5 293.2h0M181.3 293.0h0M18.8 295.0h0M29.5 295.2h0M33.8 295.1h0M48.8 295.1h0M71.5 294.6h0M82.4 295.2h0M106.0 294.6h0M112.1 294.9h0M129.3 295.0h0M139.3 295.1h0M156.7 294.8h0M36.5 296.7h0M38.7 297.0h0M68.4 296.6h0M98.1 296.5h0M123.5 297.0h0M130.3 297.0h0M132.0 296.4h0M134.2 296.5h0M138.3 296.8h0M153.4 296.6h0M172.3 296.9h0M177.0 296.8h0M20.7 298.9h0M93.1 298.9h0M122.5 298.7h0M124.9 298.8h0M127.0 298.9h0M130.9 298.8h0M135.3 298.7h0M150.0 298.3h0M167.2 298.6h0M173.5 298.9h0M22.3 300.5h0M55.7 300.5h0M62.2 300.1h0M125.9 300.5h0M134.6 300.5h0M166.2 300.4h0M172.8 300.4h0M176.5 300.4h0M59.2 302.5h0M80.1 302.3h0M110.2 302.3h0M112.2 302.0h0M133.4 302.5h0M34.7 303.8h0M60.1 303.8h0M66.6 303.9h0M100.5 303.7h0M134.4 304.1h0M142.5 304.2h0M146.8 304.4h0M149.0 303.9h0M163.7 304.1h0M18.5 305.8h0M50.7 305.8h0M66.5 307.5h0M91.8 308.0h0M98.5 307.5h0M115.3 307.6h0M125.9 307.4h0M138.3 308.0h0M172.6 307.5h0M174.7 307.6h0M42.2 309.7h0M59.0 309.9h0M61.0 309.3h0M63.3 309.4h0M86.8 309.4h0M101.4 309.9h0M105.9 309.9h0M116.3 309.6h0M120.8 309.6h0M129.3 309.8h0M139.4 309.8h0M164.7 309.6h0M167.1 309.9h0M169.6 309.6h0M13.6 311.2h0M25.9 311.4h0M39.0 311.4h0M55.6 311.7h0M73.1 311.3h0M81.7 311.7h0M83.6 311.3h0M96.3 311.5h0M130.3 311.5h0M179.0 311.6h0M21.1 313.4h0M29.1 313.1h0M36.0 313.5h0M37.9 313.4h0M46.5 313.1h0M53.0 313.6h0M57.0 313.4h0M75.7 313.3h0M103.8 313.6h0M118.1 313.0h0M137.5 313.4h0M169.1 313.3h0M30.4 315.3h0M38.6 315.5h0M41.4 315.4h0M60.4 315.3h0M98.1 315.3h0M125.8 315.1h0M128.3 315.0h0M136.2 315.4h0M138.3 315.3h0M170.4 315.3h0M53.0 316.7h0M55.0 316.7h0M84.3 316.7h0M91.1 317.1h0M105.6 317.0h0M122.6 317.2h0M133.4 316.9h0M150.2 316.8h0M17.5 319.0h0M45.5 318.6h0M102.9 318.9h0M117.2 318.6h0M121.4 318.7h0M155.3 318.9h0M162.2 319.0h0M16.9 320.6h0M27.6 320.7h0M78.5 320.8h0M122.9 321.0h0M156.8 320.4h0M167.1 320.7h0M34.4 322.5h0M36.9 322.5h0M45.3 322.5h0M49.9 322.4h0M54.0 322.7h0M62.2 322.2h0M66.4 322.8h0M71.1 322.5h0M79.5 322.3h0M138.6 322.6h0M140.8 322.7h0M20.8 324.0h0M33.9 324.5h0M44.5 324.3h0M97.1 324.6h0M118.7 324.6h0M26.0 326.3h0M36.6 326.1h0M41.0 326.5h0M51.7 326.3h0M57.8 326.0h0M123.7 326.0h0M127.9 326.0h0M132.5 326.5h0M8.4 328.0h0M54.6 327.9h0M59.0 327.7h0M67.6 327.8h0M70.0 327.7h0M80.5 328.2h0M128.9 328.0h0M144.1 328.1h0M146.2 327.7h0M154.7 328.1h0M177.6 328.2h0M11.3 329.5h0M13.8 329.7h0M23.8 329.6h0M100.4 330.0h0M106.9 330.0h0M151.1 329.7h0M176.7 330.0h0M63.2 331.8h0M80.3 331.9h0M106.0 331.6h0M107.5 331.9h0M116.5 331.4h0M156.6 331.4h0M169.6 331.9h0M179.8 331.4h0M182.0 331.5h0M74.8 333.7h0M102.3 333.6h0M109.0 333.4h0M121.7 333.4h0M75.8 335.3h0M82.4 335.4h0M88.8 335.5h0M113.9 335.5h0M135.7 335.5h0M175.4 335.1h0M8.9 337.2h0M17.9 336.9h0M20.0 337.3h0M28.3 337.3h0M73.1 337.0h0M89.6 337.0h0M92.1 337.2h0M174.8 337.5h0M31.7 338.9h0M44.3 339.1h0M52.9 338.9h0M69.6 339.2h0M82.5 338.8h0M86.9 339.0h0M97.6 338.8h0M114.5 339.4h0M122.8 338.9h0M143.6 339.3h0M158.6 339.0h0M179.9 339.3h0M68.9 340.8h0M81.5 341.0h0M98.2 341.2h0M100.5 341.0h0M106.9 341.1h0M110.7 340.8h0M113.4 340.7h0M124.0 340.9h0M52.5 342.6h0M59.2 342.6h0M69.5 343.0h0M75.8 342.5h0M108.0 342.5h0M112.0 342.9h0M118.6 342.9h0M139.5 342.7h0M146.0 342.7h0M9.2 344.7h0M105.0 344.6h0M125.9 344.6h0M10.1 346.3h0M20.7 346.6h0M50.4 346.2h0M67.5 346.4h0M86.8 346.3h0M111.7 346.4h0M126.9 346.7h0M179.9 346.7h0M181.7 346.7h0M20.1 348.0h0M91.8 348.3h0M100.5 348.5h0M113.0 348.5h0M155.8 348.1h0M176.7 348.1h0M180.7 348.3h0M29.3 350.2h0M48.8 350.3h0M109.7 350.3h0M116.4 350.1h0M122.4 350.1h0M128.9 350.3h0M152.6 349.9h0M165.4 350.0h0M166.9 350.4h0M180.2 350.2h0M15.4 351.9h0M26.3 351.9h0M28.5 352.2h0M34.4 351.8h0M43.4 351.8h0M61.9 351.9h0M83.4 351.9h0M96.2 352.2h0M100.3 351.6h0M117.2 351.6h0M123.9 352.1h0M170.3 351.7h0M178.6 352.0h0M23.2 353.9h0M67.3 353.4h0M69.7 353.6h0M88.6 353.4h0M95.4 353.4h0M111.8 354.0h0M11.5 355.9h0M15.8 355.8h0M37.0 355.5h0M41.1 355.8h0M58.2 355.3h0M72.9 355.9h0M75.3 355.4h0M81.4 355.4h0M92.1 355.4h0M141.0 355.9h0M165.9 355.8h0M172.7 355.4h0M16.5 357.7h0M61.0 357.1h0M73.8 357.5h0M95.0 357.8h0M109.9 357.4h0M141.7 357.2h0M147.8 357.3h0M169.3 357.3h0M51.5 359.2h0M92.0 359.3h0M93.8 359.4h0M104.9 359.2h0M109.0 359.6h0M117.7 359.4h0M149.0 359.4h0M153.3 359.0h0M163.9 359.5h0M8.4 361.4h0M29.1 360.9h0M50.6 361.3h0M61.5 360.9h0M69.7 361.0h0M107.6 360.8h0M152.6 361.5h0M62.5 363.0h0M70.9 362.7h0M92.1 363.1h0M132.4 363.0h0M136.2 362.6h0M157.6 363.3h0M37.5 364.7h0M40.0 365.1h0M46.2 364.5h0M59.2 365.1h0M61.2 365.1h0M82.1 365.0h0M86.3 364.8h0M146.1 364.5h0M165.0 364.8h0M167.5 364.7h0M43.5 366.3h0M54.0 366.6h0M64.4 366.9h0M81.6 367.0h0M98.2 366.5h0M111.1 366.3h0M142.6 366.9h0M160.0 366.9h0M23.0 368.8h0M31.8 368.8h0M55.1 368.8h0M99.1 368.1h0M103.7 368.8h0M127.0 368.5h0M128.9 368.2h0M144.0 368.6h0M152.2 368.2h0M154.4 368.7h0M26.2 370.3h0M60.0 370.2h0M70.8 370.2h0M79.4 370.5h0M96.1 370.2h0M104.5 370.6h0M136.5 370.1h0M166.3 370.4h0M176.6 370.1h0M16.8 371.9h0M27.1 372.2h0M41.9 371.9h0M52.9 372.3h0M75.9 372.4h0M84.2 371.9h0M97.5 372.1h0M110.1 372.4h0M141.9 372.4h0M15.6 374.3h0M54.1 373.7h0M68.9 374.2h0M81.6 373.8h0M87.9 374.0h0M102.7 373.7h0M145.1 373.8h0M147.0 374.2h0M151.3 373.8h0M166.3 374.0h0M27.3 375.9h0M54.7 375.7h0M65.1 375.9h0M93.0 375.9h0M116.1 375.7h0M131.3 375.6h0M156.9 375.8h0M163.2 375.9h0M178.0 376.1h0M179.7 375.6h0M17.5 377.9h0M23.8 377.6h0M47.1 377.9h0M51.9 378.0h0M70.9 377.6h0M77.1 378.0h0M157.7 377.7h0M75.8 379.2h0M80.1 379.3h0M84.5 379.3h0M103.5 379.2h0M107.5 379.7h0M129.0 379.3h0M135.3 379.8h0M159.0 379.7h0M167.5 379.5h0M24.2 381.5h0M45.6 381.3h0M64.2 381.7h0M72.7 381.6h0M93.8 381.1h0M98.1 381.2h0M100.6 381.1h0M104.6 381.4h0M132.1 381.5h0M140.7 381.3h0M155.8 381.5h0M172.7 381.6h0M10.5 383.5h0M14.6 383.2h0M29.3 383.5h0M31.8 383.0h0M61.0 383.4h0M75.9 383.1h0M114.1 383.4h0M122.6 383.3h0M135.7 383.1h0M137.9 383.4h0M19.5 384.8h0M30.3 384.8h0M98.5 384.7h0M112.8 384.9h0M46.6 386.8h0M48.1 386.9h0M71.6 387.2h0M84.8 386.6h0M116.1 386.7h0M137.7 386.6h0M158.8 386.7h0M175.5 386.9h0M180.2 386.9h0M58.1 388.6h0M74.7 389.0h0M83.5 389.0h0M96.0 388.5h0M132.1 388.7h0M165.8 388.8h0M29.4 390.3h0M56.8 390.3h0M58.8 390.5h0M116.3 390.8h0M175.9 390.6h0M11.5 392.6h0M132.5 392.1h0M138.6 392.3h0M159.6 392.7h0M176.8 392.7h0" stroke="#dccae4" stroke-width="1.75" stroke-linecap="square" fill="none"/>
</g>
<rect x="6.6" y="275.8" width="176.7" height="118.6" fill="none" stroke="#111" stroke-width="1.1"/>
<text x="171.5" y="292" font-size="13" fill="#222" text-anchor="middle">(e)</text>
</g>
<text x="99.5" y="406.4" font-size="9.3" text-anchor="middle" fill="#222" textLength="122" lengthAdjust="spacingAndGlyphs">Voronoi bond order parameter</text>
<g id="panelG">
<clipPath id="clipG"><rect x="8.2" y="413.2" width="173.6" height="114.6"/></clipPath>
<g filter="url(#soft2)" clip-path="url(#clipG)">
<rect x="8.2" y="413.2" width="173.6" height="114.6" fill="#f6f6f6"/>
<path d="M11.1 414.3h0M13.7 414.0h0M15.5 414.2h0M17.4 414.3h0M19.5 414.4h0M21.9 414.0h0M26.5 413.9h0M28.6 414.0h0M30.5 414.1h0M32.3 414.3h0M34.8 413.9h0M37.1 414.2h0M38.8 414.1h0M41.2 414.0h0M43.5 414.3h0M45.0 414.1h0M47.3 414.0h0M49.4 414.0h0M52.0 414.2h0M53.7 414.4h0M55.6 413.9h0M57.7 414.1h0M60.2 414.0h0M62.5 414.0h0M64.7 413.9h0M66.6 413.9h0M68.7 414.4h0M70.7 414.0h0M73.2 414.4h0M81.6 413.8h0M83.3 414.5h0M85.6 414.0h0M89.9 413.8h0M91.9 413.9h0M94.0 414.4h0M96.0 414.1h0M98.2 413.8h0M100.2 414.2h0M102.2 414.2h0M105.0 413.9h0M107.0 414.2h0M108.9 414.1h0M111.2 414.4h0M113.4 414.1h0M115.0 414.2h0M117.6 414.4h0M119.3 414.1h0M121.6 414.1h0M123.7 413.8h0M126.0 414.0h0M128.0 414.1h0M130.1 414.3h0M132.1 413.8h0M134.2 414.4h0M136.3 414.4h0M138.3 414.2h0M141.0 414.4h0M145.0 414.1h0M146.8 414.4h0M149.0 414.0h0M153.3 414.1h0M155.7 414.4h0M157.5 414.0h0M159.8 414.1h0M162.2 414.3h0M164.0 414.3h0M166.1 413.9h0M168.1 414.4h0M170.5 414.2h0M172.3 414.1h0M174.9 413.9h0M176.4 414.5h0M179.1 414.3h0M181.1 414.4h0M8.4 415.7h0M10.3 415.8h0M12.2 416.3h0M14.5 415.9h0M16.4 416.2h0M19.1 415.8h0M21.3 415.7h0M25.0 416.2h0M29.6 415.7h0M31.4 416.0h0M33.4 415.6h0M35.9 415.7h0M37.6 416.2h0M40.3 416.0h0M42.3 416.2h0M44.6 415.9h0M46.4 416.2h0M48.2 415.9h0M50.8 416.1h0M52.6 416.3h0M54.5 415.6h0M56.9 416.0h0M58.8 416.2h0M60.9 415.8h0M63.6 416.0h0M65.4 415.7h0M67.8 415.8h0M69.5 416.3h0M77.8 416.1h0M80.6 415.9h0M82.3 415.7h0M84.4 416.2h0M88.7 415.6h0M90.5 416.0h0M92.9 416.1h0M95.2 415.9h0M97.4 416.2h0M99.2 415.7h0M101.2 416.1h0M103.7 416.1h0M105.5 415.8h0M107.8 416.0h0M110.2 416.2h0M112.4 416.0h0M114.1 416.0h0M116.3 416.2h0M118.5 416.3h0M120.7 415.8h0M122.9 416.1h0M125.0 415.6h0M127.0 415.7h0M128.9 415.9h0M131.0 416.1h0M133.5 416.1h0M135.4 416.0h0M137.2 415.8h0M139.3 415.8h0M141.9 416.1h0M146.1 416.3h0M148.4 415.8h0M150.3 415.8h0M154.8 415.9h0M156.9 416.1h0M158.4 416.2h0M160.5 415.6h0M163.3 416.1h0M164.8 416.3h0M166.9 416.2h0M169.4 415.9h0M171.3 416.2h0M173.6 415.7h0M175.8 416.1h0M177.7 415.7h0M180.2 416.0h0M182.2 416.2h0M9.1 417.7h0M11.4 418.0h0M13.5 418.0h0M15.5 418.0h0M17.7 417.6h0M19.6 417.5h0M22.1 418.0h0M24.3 417.6h0M26.2 417.6h0M30.7 418.1h0M32.3 417.5h0M34.4 417.5h0M36.9 417.8h0M39.2 418.1h0M41.1 417.8h0M42.9 418.0h0M45.1 417.6h0M47.4 417.7h0M49.6 417.8h0M51.9 417.9h0M53.8 417.6h0M55.7 417.7h0M57.9 417.9h0M60.1 417.7h0M62.5 417.6h0M64.3 417.5h0M66.7 417.7h0M68.5 417.5h0M73.0 417.7h0M74.8 417.5h0M79.0 418.0h0M81.7 418.0h0M83.7 417.6h0M85.3 417.5h0M87.9 418.0h0M90.0 417.5h0M91.8 417.8h0M94.1 417.6h0M95.8 417.9h0M98.3 417.7h0M100.3 418.1h0M102.3 417.7h0M104.7 417.6h0M106.5 417.9h0M113.3 418.1h0M115.3 417.8h0M117.5 417.7h0M119.5 418.0h0M121.6 417.9h0M123.5 417.6h0M126.0 417.8h0M127.6 418.0h0M129.8 417.6h0M132.5 417.8h0M134.4 418.1h0M136.1 418.1h0M138.6 417.8h0M140.5 417.9h0M143.1 417.9h0M144.7 418.0h0M147.4 417.8h0M149.5 418.0h0M151.4 417.8h0M153.5 417.8h0M155.3 417.5h0M157.6 417.5h0M159.6 418.1h0M162.1 417.6h0M163.7 418.1h0M166.5 417.6h0M168.0 417.8h0M170.6 417.8h0M172.6 418.1h0M174.6 418.0h0M176.7 418.1h0M179.2 417.6h0M180.9 418.1h0M8.0 419.8h0M10.1 419.5h0M12.6 419.5h0M18.7 419.7h0M20.8 419.5h0M23.3 419.4h0M25.1 419.8h0M27.5 419.8h0M29.1 419.4h0M31.4 419.4h0M33.4 419.7h0M35.7 419.9h0M38.2 419.4h0M40.2 419.7h0M42.1 419.5h0M43.9 420.0h0M52.4 419.7h0M55.2 419.5h0M56.7 419.3h0M59.3 419.9h0M61.3 419.8h0M63.4 419.8h0M65.3 420.0h0M67.7 419.9h0M70.0 419.4h0M72.1 419.9h0M73.7 419.9h0M75.8 419.3h0M78.3 419.5h0M80.4 419.7h0M82.3 419.3h0M84.7 419.7h0M86.3 419.8h0M88.6 420.0h0M91.0 419.8h0M93.3 420.0h0M95.2 419.9h0M97.1 420.0h0M99.6 419.8h0M101.5 419.5h0M103.3 419.8h0M105.9 419.7h0M108.1 419.4h0M110.0 419.6h0M114.4 419.8h0M124.9 419.9h0M126.8 419.4h0M129.0 419.3h0M130.8 420.0h0M133.1 419.6h0M135.1 419.9h0M137.5 419.7h0M139.9 419.3h0M141.8 419.7h0M143.8 419.5h0M146.1 419.8h0M147.9 419.8h0M150.0 419.7h0M152.2 419.5h0M154.7 419.3h0M156.6 419.7h0M158.9 419.9h0M160.8 419.7h0M163.2 419.9h0M165.1 419.5h0M167.0 419.7h0M169.1 419.5h0M171.6 420.0h0M173.7 419.5h0M175.5 419.4h0M177.5 419.9h0M179.9 419.9h0M9.2 421.2h0M11.6 421.5h0M13.5 421.2h0M15.5 421.5h0M17.4 421.7h0M19.7 421.6h0M22.0 421.2h0M23.9 421.2h0M26.3 421.7h0M28.5 421.2h0M30.6 421.7h0M32.7 421.8h0M34.5 421.4h0M36.7 421.1h0M38.7 421.2h0M41.2 421.7h0M43.2 421.6h0M45.2 421.2h0M47.5 421.6h0M51.3 421.6h0M55.7 421.6h0M57.8 421.3h0M60.2 421.2h0M62.4 421.5h0M64.3 421.6h0M66.3 421.2h0M70.8 421.7h0M73.1 421.3h0M75.0 421.5h0M77.0 421.4h0M78.9 421.4h0M81.0 421.8h0M83.2 421.8h0M85.7 421.5h0M87.5 421.6h0M89.5 421.7h0M91.7 421.7h0M93.9 421.2h0M96.3 421.4h0M98.5 421.4h0M100.3 421.3h0M102.7 421.1h0M104.5 421.2h0M106.6 421.2h0M108.6 421.2h0M110.7 421.7h0M115.5 421.7h0M124.0 421.1h0M126.0 421.7h0M127.7 421.3h0M130.0 421.2h0M132.1 421.2h0M134.3 421.2h0M136.3 421.8h0M138.3 421.7h0M140.9 421.7h0M142.7 421.4h0M145.1 421.8h0M147.1 421.7h0M149.3 421.4h0M151.5 421.3h0M153.5 421.7h0M155.2 421.3h0M157.4 421.5h0M159.9 421.3h0M162.2 421.5h0M163.8 421.6h0M165.9 421.5h0M168.4 421.7h0M170.6 421.7h0M172.6 421.8h0M174.3 421.5h0M176.8 421.2h0M178.5 421.2h0M12.6 423.1h0M14.4 423.3h0M16.9 423.6h0M19.0 423.2h0M21.1 423.2h0M22.8 423.3h0M25.5 423.0h0M27.3 423.2h0M29.5 423.1h0M31.3 423.6h0M33.4 423.5h0M35.7 423.3h0M37.9 423.5h0M39.8 423.2h0M42.4 423.0h0M44.5 423.6h0M50.4 423.3h0M54.9 423.2h0M57.0 423.5h0M59.4 423.3h0M61.0 423.0h0M63.6 423.4h0M65.6 423.1h0M67.6 423.5h0M71.6 423.5h0M73.6 423.3h0M75.8 423.1h0M78.2 423.2h0M80.0 423.3h0M82.4 423.0h0M84.9 423.3h0M86.5 423.6h0M89.0 423.2h0M93.2 423.4h0M95.3 423.4h0M97.5 423.3h0M101.4 423.3h0M103.8 423.3h0M106.0 423.3h0M107.5 423.5h0M110.3 423.4h0M112.3 423.6h0M122.6 423.3h0M124.9 423.3h0M126.6 423.6h0M128.9 423.2h0M131.2 423.0h0M133.4 423.5h0M135.5 423.3h0M137.4 423.1h0M139.4 423.6h0M142.0 423.1h0M143.6 423.2h0M145.9 423.4h0M150.2 423.0h0M152.1 423.5h0M154.3 423.0h0M156.3 423.2h0M158.8 423.5h0M161.0 423.2h0M162.9 423.6h0M165.0 423.6h0M167.3 423.4h0M169.5 423.5h0M171.5 423.5h0M173.6 423.5h0M175.6 423.7h0M178.0 423.1h0M179.9 423.6h0M182.1 423.2h0M9.4 425.1h0M11.7 425.4h0M13.2 425.0h0M15.8 425.2h0M17.8 425.0h0M19.8 424.8h0M22.0 425.1h0M24.1 425.0h0M26.0 425.2h0M28.4 425.3h0M30.4 425.2h0M32.6 425.3h0M34.5 425.4h0M37.0 425.4h0M39.0 425.5h0M40.7 424.8h0M43.4 425.3h0M45.3 425.1h0M47.4 425.5h0M49.8 424.9h0M51.3 425.2h0M54.1 425.3h0M55.7 425.5h0M57.8 425.5h0M60.4 425.3h0M62.5 425.0h0M64.1 425.4h0M66.2 425.1h0M68.7 425.0h0M70.9 425.3h0M72.8 425.5h0M75.1 425.4h0M76.8 425.0h0M79.4 425.4h0M81.6 424.8h0M83.3 425.4h0M85.9 425.2h0M87.4 425.0h0M92.1 424.9h0M94.4 424.9h0M100.5 425.5h0M102.5 425.2h0M104.5 425.4h0M106.8 424.9h0M108.7 425.3h0M111.0 425.4h0M113.0 425.2h0M115.4 425.3h0M117.4 425.0h0M119.6 425.5h0M121.5 425.1h0M123.5 425.1h0M126.0 425.3h0M128.3 425.4h0M130.2 425.2h0M132.1 424.9h0M134.2 424.9h0M136.3 425.3h0M138.3 425.5h0M140.7 425.0h0M142.9 425.4h0M144.6 425.5h0M147.4 424.9h0M151.5 425.3h0M153.3 425.4h0M155.8 425.4h0M157.3 425.0h0M159.9 425.3h0M162.1 425.2h0M163.7 425.4h0M166.1 425.1h0M168.3 425.0h0M170.1 425.2h0M172.2 424.9h0M174.5 425.3h0M176.9 425.5h0M179.2 425.4h0M180.7 425.1h0M8.3 427.0h0M10.7 426.9h0M12.7 427.1h0M14.5 427.1h0M17.0 427.0h0M18.5 427.2h0M20.9 426.8h0M22.9 426.8h0M24.9 426.7h0M27.0 427.2h0M29.6 426.7h0M31.4 426.7h0M33.6 426.9h0M35.7 426.7h0M37.6 427.1h0M39.7 427.1h0M42.4 426.8h0M44.0 427.1h0M46.3 427.2h0M48.6 426.8h0M50.8 427.2h0M53.0 427.2h0M54.5 426.9h0M57.1 427.0h0M59.0 426.9h0M61.4 427.0h0M63.3 426.7h0M65.2 426.8h0M67.6 426.9h0M69.8 427.0h0M71.8 427.3h0M74.0 426.9h0M75.8 426.7h0M78.0 427.1h0M80.6 426.9h0M82.6 427.2h0M84.5 427.0h0M86.5 427.0h0M88.6 426.9h0M90.9 426.9h0M93.3 426.7h0M95.4 426.7h0M97.1 426.9h0M99.3 427.3h0M101.2 427.0h0M103.4 426.7h0M105.9 427.0h0M107.5 426.9h0M109.7 426.7h0M112.0 426.8h0M114.1 426.9h0M116.5 427.1h0M118.7 427.3h0M120.9 427.3h0M122.7 426.9h0M127.0 427.2h0M128.9 426.9h0M131.3 427.0h0M133.4 426.7h0M135.2 426.9h0M137.2 426.9h0M139.6 426.7h0M141.6 427.0h0M143.9 426.8h0M146.2 427.1h0M148.2 426.9h0M150.4 427.2h0M152.1 426.7h0M154.2 427.0h0M156.4 426.8h0M158.9 427.3h0M160.9 426.7h0M162.7 426.7h0M164.9 427.0h0M167.1 426.8h0M169.1 427.0h0M171.5 427.0h0M173.5 427.2h0M175.7 426.7h0M180.2 426.9h0M181.9 427.2h0M8.9 429.1h0M11.6 428.9h0M13.8 429.2h0M15.7 428.6h0M18.0 429.2h0M20.2 428.6h0M21.8 428.5h0M23.8 429.0h0M26.5 428.6h0M28.3 428.8h0M30.5 429.0h0M32.9 429.0h0M38.7 428.6h0M41.2 429.1h0M43.5 428.9h0M45.1 428.5h0M47.3 428.6h0M49.8 429.0h0M51.5 429.1h0M53.6 428.9h0M55.6 428.8h0M60.4 428.8h0M66.5 429.0h0M68.4 429.1h0M71.0 429.2h0M72.6 429.2h0M75.2 428.6h0M77.2 428.6h0M78.9 428.9h0M81.3 428.7h0M83.4 429.2h0M85.8 429.0h0M87.6 428.8h0M90.1 428.5h0M92.2 428.6h0M94.2 428.7h0M96.3 428.9h0M98.6 428.7h0M100.3 429.0h0M102.2 428.7h0M104.6 428.8h0M106.5 429.0h0M109.1 428.5h0M112.9 429.0h0M115.0 428.5h0M119.2 429.2h0M121.3 429.0h0M123.6 428.8h0M125.8 429.0h0M128.3 428.6h0M129.8 428.9h0M132.1 428.8h0M134.4 429.2h0M136.4 428.7h0M138.7 428.6h0M140.7 428.9h0M142.5 428.9h0M144.8 428.8h0M146.8 429.1h0M149.3 428.6h0M151.2 429.0h0M153.7 428.6h0M155.2 428.7h0M157.8 429.2h0M159.7 428.5h0M161.7 428.7h0M163.8 428.6h0M165.8 428.6h0M168.3 428.6h0M170.1 428.8h0M172.3 429.0h0M174.8 428.5h0M176.8 429.1h0M8.4 430.9h0M10.2 431.0h0M12.6 431.0h0M14.6 430.7h0M16.4 430.8h0M19.0 431.0h0M20.8 430.9h0M23.0 430.9h0M25.4 430.8h0M27.6 430.6h0M29.1 430.8h0M31.2 430.8h0M33.4 430.6h0M35.9 430.9h0M37.6 430.7h0M46.2 430.3h0M48.6 430.8h0M50.9 430.9h0M52.8 430.6h0M54.9 430.4h0M60.9 430.6h0M63.3 430.8h0M65.7 430.6h0M67.6 431.0h0M69.5 430.4h0M71.5 430.9h0M74.2 431.0h0M75.8 430.4h0M78.1 430.6h0M82.4 430.7h0M84.2 431.0h0M86.6 430.7h0M89.1 431.0h0M91.1 430.7h0M93.1 430.7h0M95.0 431.0h0M96.9 430.5h0M99.4 430.7h0M101.2 430.4h0M103.7 430.9h0M105.8 430.4h0M108.2 430.6h0M110.1 430.4h0M112.1 430.5h0M120.6 430.4h0M122.9 430.6h0M124.6 430.5h0M127.3 430.6h0M129.2 430.4h0M131.2 430.7h0M133.5 430.8h0M135.4 430.9h0M137.3 430.8h0M139.9 430.4h0M141.5 431.0h0M144.1 431.0h0M146.3 430.4h0M148.3 430.6h0M150.3 430.3h0M152.7 430.3h0M154.1 430.6h0M156.4 430.6h0M158.5 430.5h0M161.0 430.9h0M163.1 430.4h0M165.1 430.9h0M167.1 431.0h0M169.3 430.9h0M171.6 431.0h0M173.3 430.4h0M175.6 430.9h0M178.0 430.9h0M179.9 430.9h0M182.1 430.4h0M9.4 432.8h0M11.6 432.3h0M13.6 432.4h0M15.3 432.3h0M17.8 432.3h0M19.5 432.8h0M22.0 432.6h0M24.0 432.4h0M26.5 432.9h0M28.6 432.7h0M30.2 432.7h0M32.7 432.7h0M34.4 432.3h0M36.5 432.4h0M38.6 432.3h0M43.3 432.8h0M45.2 432.2h0M47.4 432.8h0M49.5 432.7h0M51.4 432.7h0M53.5 432.6h0M56.0 432.7h0M59.9 432.2h0M61.9 432.6h0M68.3 432.7h0M71.0 432.9h0M72.7 432.2h0M75.0 432.3h0M76.8 432.3h0M83.4 432.7h0M85.7 432.2h0M87.5 432.3h0M90.0 432.4h0M92.1 432.6h0M94.3 432.7h0M96.5 432.4h0M98.5 432.2h0M100.6 432.6h0M102.2 432.8h0M104.7 432.2h0M106.7 432.5h0M108.8 432.4h0M111.0 432.3h0M115.2 432.6h0M121.4 432.8h0M123.8 432.7h0M128.0 432.8h0M129.9 432.4h0M132.2 432.2h0M134.5 432.3h0M136.3 432.5h0M138.9 432.5h0M141.0 432.3h0M143.0 432.7h0M147.1 432.4h0M149.5 432.5h0M151.5 432.7h0M153.6 432.8h0M155.4 432.6h0M157.9 432.5h0M160.0 432.3h0M162.2 432.4h0M163.7 432.3h0M166.1 432.7h0M168.5 432.3h0M170.6 432.7h0M172.8 432.4h0M174.6 432.5h0M177.1 432.6h0M179.2 432.4h0M180.9 432.7h0M7.9 434.4h0M10.5 434.7h0M12.2 434.2h0M14.8 434.1h0M16.6 434.1h0M19.1 434.3h0M21.0 434.1h0M23.2 434.3h0M24.9 434.6h0M27.5 434.6h0M29.6 434.2h0M31.6 434.4h0M34.0 434.1h0M35.7 434.1h0M37.7 434.4h0M40.0 434.2h0M41.9 434.4h0M44.1 434.6h0M46.7 434.5h0M48.6 434.4h0M50.9 434.6h0M52.4 434.2h0M54.5 434.2h0M57.1 434.1h0M58.8 434.4h0M61.4 434.4h0M63.1 434.7h0M65.5 434.2h0M67.7 434.6h0M69.4 434.3h0M71.6 434.2h0M73.6 434.3h0M75.7 434.5h0M78.2 434.2h0M80.0 434.4h0M82.2 434.7h0M84.8 434.7h0M86.4 434.3h0M88.9 434.3h0M91.0 434.5h0M92.7 434.4h0M95.1 434.2h0M97.2 434.3h0M99.1 434.1h0M101.8 434.5h0M103.3 434.0h0M106.0 434.4h0M108.1 434.6h0M110.0 434.3h0M112.3 434.4h0M114.3 434.3h0M123.0 434.6h0M124.8 434.2h0M129.1 434.2h0M133.0 434.1h0M135.3 434.4h0M137.6 434.6h0M139.5 434.4h0M141.6 434.1h0M146.2 434.7h0M147.8 434.1h0M150.2 434.2h0M152.4 434.2h0M154.3 434.2h0M156.7 434.6h0M158.6 434.6h0M160.5 434.1h0M162.8 434.7h0M165.2 434.5h0M167.1 434.4h0M169.3 434.6h0M171.3 434.2h0M173.5 434.1h0M175.8 434.5h0M177.6 434.5h0M179.7 434.1h0M181.8 434.6h0M9.2 436.2h0M11.3 436.1h0M13.6 435.9h0M15.6 436.4h0M17.5 436.3h0M24.0 436.5h0M26.2 436.5h0M28.6 436.1h0M30.2 436.3h0M34.7 436.5h0M37.2 436.3h0M39.3 436.4h0M40.9 435.9h0M43.4 436.2h0M49.4 435.9h0M51.7 436.3h0M54.1 436.1h0M55.8 436.3h0M58.0 436.4h0M59.8 436.0h0M62.1 436.5h0M64.3 436.1h0M66.3 436.1h0M68.9 436.3h0M70.6 436.4h0M72.7 436.5h0M75.2 436.2h0M76.9 436.5h0M79.3 436.1h0M81.5 436.0h0M83.5 436.5h0M85.9 436.1h0M87.6 436.4h0M89.9 436.4h0M91.9 436.3h0M94.1 436.3h0M96.0 436.2h0M98.6 436.3h0M100.7 436.5h0M102.5 436.2h0M104.5 436.3h0M107.1 436.0h0M108.6 436.5h0M111.1 436.5h0M113.5 436.3h0M115.3 436.3h0M117.7 436.5h0M119.5 436.2h0M121.7 436.3h0M128.2 436.3h0M132.1 435.9h0M134.1 436.2h0M136.7 436.0h0M138.4 436.2h0M140.9 436.1h0M143.1 436.5h0M144.8 436.3h0M147.1 436.4h0M149.2 436.3h0M151.2 436.1h0M153.5 436.2h0M155.8 436.4h0M158.0 436.3h0M159.8 436.4h0M163.9 436.5h0M165.9 435.9h0M168.2 436.0h0M170.0 436.1h0M172.8 436.3h0M176.5 435.9h0M179.2 436.2h0M181.2 436.3h0M7.9 438.3h0M10.5 437.9h0M12.6 438.1h0M14.4 437.9h0M16.5 437.9h0M18.9 437.8h0M25.3 437.8h0M29.6 437.9h0M31.4 438.1h0M35.7 437.8h0M37.6 437.9h0M39.8 437.9h0M42.2 438.0h0M44.5 438.4h0M46.4 438.4h0M48.3 438.1h0M50.5 438.1h0M53.0 438.3h0M54.9 438.2h0M56.9 438.4h0M59.2 438.3h0M60.9 438.2h0M63.4 437.7h0M65.7 437.8h0M67.6 438.3h0M69.9 438.4h0M71.5 438.2h0M74.1 438.0h0M75.8 437.9h0M78.3 438.4h0M80.1 438.2h0M82.5 437.9h0M84.6 437.8h0M86.5 438.0h0M88.5 438.3h0M90.8 438.0h0M93.2 438.1h0M95.3 438.0h0M97.4 438.3h0M99.1 438.1h0M101.7 438.1h0M103.5 437.8h0M105.9 438.2h0M108.1 437.7h0M110.0 438.3h0M112.2 438.2h0M114.0 437.7h0M116.3 438.3h0M120.6 438.2h0M127.2 438.4h0M129.0 437.8h0M131.0 437.8h0M133.1 438.0h0M135.4 438.2h0M137.3 437.7h0M139.8 437.8h0M141.7 438.3h0M143.8 437.9h0M146.3 438.3h0M147.9 437.9h0M149.9 437.9h0M152.3 437.8h0M154.2 437.9h0M156.6 438.0h0M158.4 437.8h0M160.6 438.1h0M163.2 438.3h0M165.4 438.2h0M167.4 437.8h0M169.2 438.0h0M171.3 438.1h0M173.4 437.8h0M177.8 438.2h0M180.0 438.4h0M182.2 437.8h0M9.5 440.2h0M11.5 439.9h0M13.5 439.7h0M15.4 439.7h0M17.9 439.8h0M20.0 439.7h0M21.9 440.0h0M24.3 440.2h0M28.3 439.9h0M30.2 439.7h0M32.3 440.2h0M34.9 439.9h0M36.9 440.0h0M39.3 439.8h0M40.9 440.2h0M43.3 440.1h0M45.0 439.8h0M47.2 439.8h0M49.3 439.9h0M51.3 440.0h0M53.8 440.1h0M56.0 439.6h0M57.7 439.7h0M60.4 439.9h0M64.7 439.7h0M66.4 439.7h0M68.8 439.6h0M70.8 440.0h0M73.1 439.6h0M75.0 440.0h0M77.1 440.0h0M79.0 440.0h0M81.1 440.2h0M83.6 439.7h0M85.3 439.8h0M87.8 439.8h0M89.6 439.9h0M91.9 439.7h0M94.2 439.7h0M96.2 439.8h0M98.6 439.6h0M100.7 439.8h0M102.4 439.8h0M104.9 439.8h0M106.5 439.7h0M109.0 439.9h0M110.8 440.2h0M113.0 439.8h0M115.2 440.2h0M119.7 439.7h0M121.9 440.2h0M126.0 439.9h0M128.0 439.9h0M132.2 439.9h0M134.1 440.1h0M136.1 439.6h0M138.5 440.0h0M140.6 440.0h0M143.0 439.7h0M144.9 439.6h0M147.4 439.8h0M149.2 439.8h0M151.3 440.2h0M153.3 439.8h0M155.6 439.6h0M157.7 440.1h0M160.1 439.7h0M162.1 439.6h0M164.0 439.9h0M165.9 440.0h0M168.4 440.1h0M170.6 440.1h0M172.3 440.0h0M174.7 439.8h0M176.8 439.9h0M178.7 440.0h0M181.2 440.0h0M8.5 441.7h0M12.6 441.7h0M14.6 441.7h0M16.9 441.4h0M18.7 441.9h0M20.6 441.6h0M23.3 442.0h0M25.1 441.8h0M27.2 441.8h0M29.3 441.6h0M31.6 441.9h0M33.5 441.5h0M35.5 441.7h0M37.9 441.7h0M39.7 442.1h0M42.3 442.0h0M44.1 441.5h0M46.6 441.7h0M50.9 442.0h0M52.9 441.6h0M54.9 441.5h0M56.8 442.0h0M63.3 441.7h0M65.7 441.8h0M67.5 441.7h0M69.8 441.9h0M72.1 441.4h0M73.6 441.6h0M76.1 441.7h0M77.8 441.5h0M80.2 441.6h0M82.4 442.0h0M84.4 441.7h0M86.3 442.0h0M88.4 442.0h0M90.7 441.9h0M92.7 441.7h0M94.8 441.6h0M97.5 441.6h0M99.4 441.5h0M101.3 441.8h0M103.9 441.9h0M105.8 441.8h0M108.1 441.4h0M110.2 441.4h0M111.8 441.6h0M114.1 441.5h0M116.0 441.5h0M118.1 441.6h0M120.5 441.4h0M122.6 441.5h0M124.9 441.5h0M126.9 441.7h0M131.3 442.0h0M133.1 441.7h0M135.7 442.0h0M137.2 441.4h0M139.3 442.1h0M145.9 441.5h0M147.8 441.9h0M150.1 441.9h0M152.3 441.7h0M154.3 442.0h0M161.1 441.9h0M162.9 441.9h0M165.4 442.0h0M166.9 441.6h0M169.6 441.7h0M171.1 441.7h0M173.7 441.8h0M176.0 441.8h0M178.0 441.9h0M179.9 441.9h0M182.0 441.6h0M11.6 443.6h0M13.4 443.4h0M15.4 443.5h0M17.6 443.5h0M19.8 443.5h0M21.9 443.5h0M24.0 443.6h0M26.5 443.7h0M28.5 443.3h0M30.2 443.9h0M32.5 443.6h0M34.5 443.8h0M36.8 443.6h0M39.1 443.3h0M41.3 443.3h0M43.1 443.5h0M45.0 443.6h0M49.5 443.4h0M51.6 443.7h0M53.5 443.2h0M55.8 443.3h0M58.0 443.2h0M62.6 443.6h0M64.3 443.3h0M66.8 443.3h0M68.6 443.7h0M70.5 443.6h0M72.7 443.8h0M75.2 443.7h0M77.2 443.4h0M79.5 443.7h0M81.6 443.5h0M83.2 443.3h0M85.8 443.4h0M87.9 443.4h0M89.5 443.5h0M91.8 443.6h0M94.1 443.3h0M96.2 443.9h0M98.6 443.8h0M100.2 443.3h0M102.4 443.8h0M104.5 443.4h0M106.5 443.3h0M109.1 443.7h0M111.1 443.3h0M113.4 443.5h0M115.0 443.9h0M117.3 443.3h0M119.2 443.5h0M121.3 443.4h0M123.8 443.4h0M125.6 443.4h0M127.9 443.5h0M130.0 443.7h0M132.4 443.2h0M134.5 443.6h0M136.6 443.4h0M138.8 443.3h0M140.6 443.3h0M142.8 443.6h0M149.1 443.6h0M155.8 443.4h0M159.6 443.4h0M162.0 443.3h0M163.9 443.7h0M165.8 443.8h0M168.0 443.8h0M170.5 443.5h0M172.3 443.4h0M174.4 443.4h0M176.7 443.5h0M178.7 443.3h0M180.8 443.8h0M8.1 445.4h0M10.6 445.5h0M12.2 445.5h0M14.9 445.2h0M16.6 445.6h0M18.5 445.3h0M20.9 445.5h0M25.4 445.3h0M27.0 445.7h0M29.4 445.6h0M31.4 445.5h0M33.5 445.2h0M36.1 445.7h0M38.2 445.3h0M39.8 445.6h0M42.4 445.3h0M44.2 445.1h0M46.4 445.6h0M48.6 445.5h0M57.2 445.5h0M59.2 445.2h0M63.0 445.7h0M65.2 445.5h0M67.3 445.1h0M70.0 445.7h0M71.9 445.7h0M73.7 445.4h0M76.3 445.3h0M78.5 445.1h0M80.5 445.2h0M82.4 445.6h0M84.3 445.6h0M86.6 445.7h0M88.9 445.5h0M90.7 445.7h0M93.1 445.7h0M95.4 445.1h0M96.9 445.5h0M99.3 445.4h0M101.5 445.3h0M103.7 445.5h0M105.8 445.1h0M108.0 445.3h0M109.7 445.2h0M112.2 445.4h0M114.5 445.5h0M116.4 445.1h0M118.6 445.5h0M120.4 445.6h0M122.9 445.1h0M124.7 445.2h0M127.0 445.6h0M129.3 445.6h0M131.2 445.5h0M132.9 445.6h0M135.5 445.1h0M137.3 445.3h0M139.4 445.2h0M141.9 445.7h0M144.0 445.4h0M145.8 445.7h0M148.3 445.6h0M152.7 445.6h0M154.7 445.6h0M158.6 445.6h0M160.6 445.2h0M162.7 445.6h0M165.4 445.2h0M166.9 445.7h0M169.3 445.1h0M171.4 445.2h0M173.7 445.2h0M175.7 445.2h0M177.6 445.6h0M179.6 445.3h0M181.7 445.3h0M8.9 447.6h0M11.3 447.2h0M13.5 446.9h0M15.8 447.6h0M17.6 447.2h0M20.2 447.0h0M22.2 447.3h0M24.4 447.2h0M26.5 447.3h0M28.1 447.1h0M30.5 447.5h0M32.4 447.4h0M34.7 447.0h0M37.2 447.4h0M38.9 447.4h0M41.4 447.4h0M43.2 447.5h0M45.6 447.1h0M47.5 446.9h0M51.5 447.1h0M55.9 447.1h0M57.8 447.4h0M60.0 447.1h0M62.2 447.3h0M64.2 447.0h0M66.3 447.1h0M68.5 447.4h0M70.9 447.5h0M72.6 447.3h0M74.8 447.0h0M77.3 447.6h0M79.4 446.9h0M81.6 446.9h0M83.3 447.4h0M85.5 447.1h0M89.6 447.2h0M91.8 447.0h0M93.8 447.4h0M96.3 447.0h0M98.3 447.5h0M100.3 447.2h0M102.6 446.9h0M104.9 447.3h0M106.8 447.4h0M109.0 447.2h0M111.0 447.6h0M113.1 447.3h0M115.3 447.2h0M117.5 447.1h0M119.7 447.0h0M121.5 447.2h0M123.9 447.2h0M126.2 447.4h0M128.0 447.1h0M130.1 447.2h0M132.5 447.1h0M134.4 447.2h0M136.8 446.9h0M140.7 447.2h0M144.8 447.2h0M147.4 447.2h0M153.5 447.4h0M157.5 447.4h0M160.1 447.0h0M162.1 447.4h0M163.9 447.4h0M166.3 447.4h0M167.9 447.0h0M170.5 447.3h0M172.6 447.2h0M174.6 447.0h0M176.5 447.0h0M178.6 446.9h0M180.9 447.2h0M8.0 449.3h0M10.0 449.0h0M12.7 449.0h0M14.4 448.8h0M16.9 449.1h0M18.7 448.8h0M20.7 449.2h0M23.3 449.1h0M25.4 449.3h0M27.6 448.9h0M29.7 449.2h0M31.8 449.0h0M33.9 449.2h0M35.8 449.3h0M37.9 448.8h0M40.0 449.0h0M42.4 449.4h0M44.5 449.0h0M46.6 448.9h0M48.6 449.4h0M50.6 449.0h0M52.7 449.4h0M54.5 448.7h0M57.3 448.8h0M58.8 449.0h0M61.2 449.3h0M63.5 449.0h0M65.5 449.4h0M67.2 448.8h0M70.0 448.9h0M72.1 448.9h0M73.6 449.2h0M75.8 449.3h0M78.1 449.1h0M80.6 448.8h0M82.6 449.1h0M84.5 449.3h0M89.0 448.9h0M91.1 448.8h0M93.3 449.2h0M95.4 448.8h0M97.2 449.4h0M99.7 448.9h0M101.5 449.2h0M103.6 449.2h0M105.7 449.4h0M108.0 449.2h0M110.0 449.2h0M111.8 449.1h0M114.3 449.2h0M116.5 449.2h0M118.8 448.7h0M120.8 448.8h0M122.6 448.9h0M125.1 449.0h0M126.6 448.8h0M129.3 449.3h0M131.0 448.9h0M133.6 449.3h0M135.1 448.9h0M137.2 449.0h0M142.0 448.8h0M143.6 449.0h0M146.3 449.0h0M154.2 449.2h0M156.4 449.0h0M158.9 448.8h0M160.7 449.0h0M162.7 449.1h0M165.3 449.2h0M169.3 449.4h0M171.4 449.0h0M173.5 448.8h0M175.7 449.2h0M177.7 448.8h0M9.4 450.7h0M11.5 451.1h0M13.5 450.6h0M15.4 451.3h0M17.4 451.2h0M19.5 450.8h0M22.1 450.8h0M24.3 450.6h0M26.1 450.8h0M28.5 451.3h0M30.4 451.1h0M32.7 450.9h0M38.6 450.9h0M41.2 450.6h0M43.0 450.6h0M45.6 450.6h0M47.2 451.1h0M49.3 450.8h0M52.0 450.9h0M54.0 451.2h0M55.9 450.9h0M58.3 451.1h0M60.5 450.8h0M62.5 450.7h0M64.6 451.0h0M66.2 450.8h0M68.4 451.0h0M71.0 451.2h0M72.8 450.7h0M75.1 450.6h0M77.1 450.7h0M78.9 451.2h0M81.2 450.8h0M83.2 451.2h0M85.3 451.0h0M87.5 451.0h0M89.7 451.1h0M91.7 451.1h0M93.7 450.9h0M96.3 450.6h0M98.3 450.9h0M100.1 451.1h0M102.6 451.1h0M104.4 450.8h0M106.6 450.8h0M109.1 450.8h0M110.8 451.1h0M112.8 451.2h0M114.9 451.0h0M117.1 450.6h0M119.5 450.9h0M121.4 450.9h0M123.7 450.6h0M126.0 450.8h0M128.3 450.7h0M130.0 450.6h0M131.9 451.2h0M134.0 450.7h0M136.6 451.1h0M138.8 450.9h0M140.7 450.8h0M143.0 450.6h0M144.8 450.6h0M147.4 451.1h0M151.6 450.6h0M159.6 451.2h0M161.6 451.1h0M163.8 450.8h0M166.5 450.6h0M170.6 450.8h0M172.5 451.1h0M174.4 451.2h0M176.9 450.9h0M179.1 451.2h0M181.1 451.0h0M8.4 452.9h0M10.3 452.6h0M12.7 452.6h0M14.5 452.9h0M16.8 452.4h0M18.9 452.8h0M21.0 452.8h0M22.7 452.5h0M25.2 453.0h0M27.2 452.7h0M29.4 452.5h0M31.8 453.1h0M37.6 452.7h0M40.2 452.9h0M42.4 452.8h0M44.5 452.7h0M46.2 453.0h0M48.4 452.7h0M50.4 453.0h0M52.8 452.6h0M54.5 452.9h0M57.0 452.8h0M59.1 452.9h0M61.5 452.5h0M63.6 452.7h0M65.4 452.8h0M67.6 453.1h0M69.6 452.5h0M71.6 452.5h0M74.2 452.5h0M76.3 452.7h0M77.9 452.5h0M80.1 452.5h0M82.2 452.7h0M84.6 452.8h0M87.0 452.4h0M89.0 452.6h0M90.8 452.4h0M93.3 452.5h0M95.2 452.8h0M97.6 453.0h0M99.4 453.0h0M101.4 452.7h0M103.5 452.5h0M105.6 452.9h0M108.1 452.7h0M110.0 452.5h0M114.4 453.0h0M116.5 453.0h0M118.6 453.0h0M120.5 452.5h0M122.7 452.9h0M124.8 452.7h0M126.9 452.5h0M129.4 452.9h0M131.4 452.9h0M133.4 452.5h0M135.3 452.6h0M137.6 452.5h0M139.4 452.5h0M141.4 452.5h0M143.8 452.6h0M146.3 452.6h0M148.3 453.0h0M150.4 452.6h0M154.2 453.1h0M156.3 453.0h0M158.7 452.8h0M160.8 453.1h0M162.7 452.8h0M165.1 452.7h0M167.4 452.6h0M169.0 452.7h0M171.8 452.9h0M173.5 452.8h0M175.6 452.8h0M178.1 452.5h0M179.7 453.1h0M182.1 452.5h0M9.3 454.9h0M11.6 454.7h0M13.8 454.8h0M15.7 454.5h0M17.7 454.3h0M20.1 454.4h0M21.9 454.9h0M24.0 454.3h0M26.5 454.5h0M28.6 454.9h0M30.2 454.7h0M32.6 454.8h0M34.7 454.9h0M36.7 454.3h0M39.3 454.8h0M40.8 454.6h0M43.1 454.4h0M45.4 454.4h0M47.6 454.6h0M49.7 454.3h0M51.8 454.8h0M54.1 454.8h0M56.1 454.3h0M57.7 454.8h0M60.0 454.3h0M62.4 454.3h0M66.3 454.3h0M68.3 454.8h0M70.8 454.7h0M72.8 454.9h0M75.2 454.7h0M77.3 454.4h0M79.0 454.8h0M81.4 454.9h0M83.2 454.3h0M85.6 454.8h0M87.7 454.8h0M89.9 454.8h0M92.1 454.7h0M94.1 454.4h0M96.4 454.5h0M98.5 454.9h0M100.5 454.6h0M102.8 454.5h0M104.6 454.5h0M106.5 454.7h0M109.2 454.8h0M117.3 454.3h0M119.2 454.6h0M121.9 454.4h0M123.4 454.9h0M126.2 454.5h0M128.2 454.9h0M130.4 454.8h0M132.4 454.9h0M134.6 454.8h0M136.6 454.3h0M138.7 454.8h0M140.7 454.7h0M143.1 454.9h0M145.2 454.6h0M147.3 454.5h0M149.1 454.4h0M155.9 454.4h0M157.8 454.7h0M159.5 454.7h0M161.9 454.6h0M163.8 454.7h0M166.2 454.7h0M168.0 454.5h0M170.5 454.4h0M172.8 454.5h0M174.9 454.5h0M176.6 454.3h0M178.5 454.4h0M181.1 454.4h0M7.9 456.3h0M10.3 456.6h0M12.4 456.5h0M16.4 456.2h0M18.5 456.4h0M21.1 456.6h0M22.8 456.3h0M25.2 456.6h0M27.0 456.7h0M29.3 456.4h0M33.4 456.6h0M35.9 456.5h0M37.6 456.3h0M40.1 456.6h0M41.8 456.8h0M44.3 456.1h0M46.0 456.3h0M48.2 456.5h0M50.8 456.5h0M53.0 456.2h0M54.5 456.8h0M57.2 456.1h0M59.3 456.8h0M61.2 456.6h0M63.3 456.3h0M67.7 456.6h0M69.6 456.8h0M72.1 456.7h0M73.6 456.7h0M76.2 456.7h0M78.4 456.7h0M80.6 456.5h0M82.3 456.1h0M84.8 456.5h0M86.8 456.2h0M88.9 456.4h0M91.0 456.1h0M93.2 456.6h0M94.9 456.7h0M97.3 456.6h0M99.0 456.8h0M101.8 456.7h0M103.8 456.6h0M105.5 456.5h0M107.6 456.5h0M109.8 456.3h0M112.0 456.6h0M114.3 456.8h0M116.3 456.5h0M118.6 456.6h0M120.9 456.5h0M122.5 456.3h0M124.9 456.3h0M126.6 456.2h0M128.9 456.3h0M131.1 456.2h0M133.6 456.2h0M135.5 456.1h0M137.6 456.5h0M139.4 456.3h0M141.9 456.6h0M144.0 456.5h0M145.9 456.7h0M148.3 456.2h0M149.9 456.4h0M152.2 456.3h0M154.4 456.5h0M156.4 456.6h0M158.6 456.4h0M161.1 456.2h0M163.0 456.5h0M165.3 456.7h0M167.0 456.3h0M169.1 456.3h0M171.6 456.1h0M173.5 456.5h0M175.6 456.4h0M178.0 456.3h0M180.3 456.1h0M181.7 456.5h0M9.4 458.3h0M11.1 458.2h0M17.5 458.6h0M19.7 458.5h0M22.0 458.5h0M28.3 458.3h0M32.7 458.6h0M34.9 458.3h0M36.8 458.6h0M38.7 458.0h0M41.3 458.5h0M43.3 458.2h0M45.1 458.3h0M47.8 458.6h0M49.4 458.6h0M51.9 458.3h0M53.8 458.2h0M55.7 458.3h0M57.9 458.1h0M60.3 458.4h0M62.1 458.3h0M64.6 458.2h0M66.4 458.1h0M68.3 458.5h0M70.8 458.2h0M73.1 458.4h0M74.8 458.2h0M76.8 458.5h0M78.9 458.4h0M81.6 458.3h0M83.5 458.0h0M85.8 458.5h0M88.0 458.1h0M89.6 458.4h0M91.9 458.5h0M94.4 458.6h0M96.0 458.1h0M100.3 458.2h0M102.8 458.6h0M104.8 458.2h0M106.4 458.2h0M108.7 458.2h0M111.3 458.5h0M113.2 458.0h0M115.1 458.1h0M117.6 458.0h0M119.6 458.2h0M121.7 458.4h0M123.5 458.1h0M126.0 458.3h0M127.9 458.4h0M130.2 458.4h0M132.3 458.4h0M134.1 458.4h0M136.1 458.2h0M138.4 458.0h0M140.9 458.1h0M143.0 458.1h0M144.8 458.2h0M146.7 458.2h0M149.2 458.2h0M151.3 458.5h0M153.4 458.0h0M155.7 458.2h0M157.9 458.2h0M159.5 458.0h0M162.2 458.0h0M163.8 457.9h0M166.2 458.3h0M168.3 458.6h0M170.4 458.2h0M174.9 458.2h0M177.1 458.5h0M179.2 458.2h0M180.9 458.0h0M8.2 460.2h0M10.4 460.3h0M14.5 460.1h0M16.6 460.0h0M18.7 459.9h0M20.7 460.1h0M23.0 460.3h0M27.3 460.2h0M29.1 459.8h0M31.7 460.2h0M33.9 460.2h0M35.8 459.8h0M38.1 460.1h0M39.8 460.5h0M42.4 459.8h0M44.3 460.5h0M46.2 460.4h0M48.7 459.9h0M50.3 459.9h0M52.7 460.3h0M54.7 460.4h0M56.9 459.9h0M59.3 460.0h0M61.1 459.9h0M63.4 459.9h0M65.2 459.8h0M67.3 460.1h0M69.5 460.1h0M72.0 460.0h0M73.6 459.8h0M76.3 459.8h0M78.4 460.4h0M80.0 460.1h0M82.7 460.1h0M84.4 460.0h0M87.0 460.4h0M88.9 459.8h0M91.2 460.2h0M93.3 460.2h0M95.3 459.8h0M99.3 460.5h0M101.2 460.0h0M103.6 460.2h0M106.0 459.9h0M107.5 459.8h0M109.9 460.4h0M112.1 460.0h0M114.2 460.1h0M116.1 459.9h0M118.3 460.1h0M120.5 460.3h0M122.4 460.1h0M124.6 459.9h0M127.2 460.4h0M129.3 460.3h0M130.9 459.9h0M133.0 459.8h0M135.7 459.9h0M137.7 460.5h0M139.5 460.5h0M142.0 460.4h0M144.0 460.0h0M146.2 460.0h0M147.8 460.3h0M150.2 460.3h0M152.3 459.9h0M154.8 459.9h0M156.8 459.8h0M158.6 460.1h0M160.6 460.1h0M162.7 460.3h0M165.4 460.5h0M167.4 460.4h0M169.2 459.9h0M171.2 460.3h0M175.9 460.3h0M178.1 460.3h0M180.1 459.9h0M181.9 460.2h0M9.4 461.8h0M11.7 462.2h0M13.4 462.1h0M15.5 462.3h0M17.5 462.1h0M19.6 461.7h0M21.8 462.3h0M24.4 462.0h0M26.2 462.0h0M28.0 462.1h0M30.3 461.6h0M32.6 462.2h0M34.5 462.1h0M36.5 462.2h0M41.3 461.7h0M43.0 462.0h0M45.0 462.2h0M47.7 461.7h0M49.7 462.1h0M51.3 462.1h0M53.9 461.7h0M55.6 462.2h0M58.0 461.7h0M64.1 462.2h0M66.6 461.7h0M70.5 461.7h0M76.9 461.7h0M79.4 462.3h0M81.0 462.0h0M83.1 461.7h0M85.3 462.1h0M87.5 461.9h0M89.6 462.3h0M91.8 462.0h0M94.3 461.6h0M96.3 461.8h0M98.6 462.3h0M100.4 461.9h0M102.7 462.1h0M104.9 462.3h0M106.7 462.1h0M109.2 461.8h0M111.0 461.8h0M112.9 461.8h0M115.5 462.1h0M119.7 461.9h0M121.4 461.7h0M123.7 462.0h0M125.8 462.2h0M127.9 462.1h0M130.1 461.7h0M132.3 461.9h0M136.7 461.7h0M138.5 462.3h0M142.6 462.2h0M144.7 462.1h0M147.3 462.2h0M149.4 461.9h0M151.4 461.8h0M153.1 462.3h0M155.5 462.3h0M157.4 461.8h0M159.5 462.3h0M161.9 461.7h0M164.2 461.9h0M166.5 461.8h0M168.0 461.6h0M170.5 462.2h0M172.2 462.1h0M174.4 462.1h0M176.8 461.8h0M178.7 461.8h0M180.8 461.6h0M8.0 464.0h0M10.4 464.0h0M12.5 463.8h0M14.4 463.8h0M16.9 463.5h0M18.9 463.9h0M21.0 464.0h0M23.1 463.5h0M25.4 463.9h0M27.1 463.5h0M29.5 463.9h0M31.8 463.9h0M33.6 463.5h0M35.9 464.0h0M40.2 464.0h0M42.3 463.8h0M44.4 463.5h0M46.6 463.5h0M48.2 463.5h0M50.6 463.9h0M52.7 463.7h0M54.7 464.1h0M57.1 464.0h0M59.1 463.9h0M61.4 463.9h0M63.0 463.8h0M65.5 463.5h0M69.7 463.8h0M72.0 463.9h0M74.0 463.7h0M76.1 463.6h0M78.4 463.9h0M80.3 463.8h0M82.5 463.9h0M84.7 463.5h0M86.9 464.1h0M89.0 464.0h0M90.7 463.5h0M92.9 464.1h0M94.9 463.8h0M101.1 463.6h0M103.6 464.1h0M105.4 463.7h0M107.7 463.7h0M110.3 463.5h0M111.9 463.6h0M114.4 463.7h0M120.4 463.6h0M122.6 464.0h0M124.7 464.0h0M126.8 464.1h0M129.0 463.7h0M135.2 463.9h0M137.2 464.0h0M139.6 463.7h0M143.7 463.7h0M146.2 464.1h0M147.9 463.7h0M150.5 464.0h0M152.3 464.1h0M154.3 463.6h0M156.5 464.0h0M159.0 464.1h0M160.9 463.5h0M162.8 463.5h0M164.9 463.9h0M167.2 464.1h0M169.1 463.6h0M171.3 463.9h0M173.4 464.0h0M175.4 464.0h0M178.0 463.8h0M180.2 463.9h0M182.2 464.0h0M11.2 465.7h0M13.7 465.7h0M15.6 465.3h0M17.7 465.5h0M20.1 465.6h0M21.9 465.5h0M24.4 465.7h0M25.9 465.3h0M28.5 466.0h0M30.8 465.7h0M32.9 465.8h0M34.9 465.7h0M36.7 465.5h0M38.8 465.3h0M41.3 465.4h0M43.0 465.4h0M45.1 465.4h0M47.6 465.4h0M49.8 465.3h0M51.6 465.4h0M53.8 465.4h0M56.2 465.6h0M57.9 465.8h0M60.1 465.6h0M64.7 465.7h0M66.6 465.6h0M68.6 466.0h0M70.9 466.0h0M73.1 465.7h0M79.3 465.7h0M81.1 465.6h0M83.6 465.8h0M85.3 465.6h0M87.6 466.0h0M89.8 465.7h0M92.2 465.5h0M94.3 466.0h0M102.7 465.3h0M104.7 465.7h0M107.0 465.4h0M109.2 465.4h0M111.1 465.4h0M113.4 465.6h0M115.1 465.4h0M117.2 465.7h0M121.6 465.5h0M123.6 465.9h0M126.2 465.3h0M127.8 465.8h0M130.4 465.8h0M132.3 465.9h0M136.3 465.5h0M141.0 465.6h0M142.5 465.4h0M144.6 465.8h0M146.9 465.7h0M149.5 465.8h0M151.5 465.7h0M153.2 465.7h0M155.3 465.9h0M157.8 465.8h0M160.1 465.4h0M161.7 465.3h0M164.3 465.6h0M166.1 466.0h0M168.3 465.3h0M170.2 465.9h0M172.6 465.9h0M174.6 466.0h0M176.5 465.6h0M178.9 465.7h0M181.3 465.7h0M10.5 467.3h0M12.6 467.6h0M14.3 467.7h0M16.6 467.3h0M18.8 467.2h0M20.7 467.6h0M22.7 467.2h0M25.4 467.4h0M27.2 467.7h0M29.2 467.2h0M31.5 467.4h0M34.0 467.1h0M35.9 467.5h0M37.7 467.7h0M39.7 467.2h0M42.1 467.4h0M44.5 467.5h0M46.2 467.3h0M48.2 467.5h0M50.5 467.7h0M52.6 467.6h0M54.9 467.7h0M56.7 467.5h0M59.0 467.8h0M63.0 467.3h0M65.2 467.8h0M67.3 467.3h0M69.9 467.4h0M71.8 467.8h0M74.0 467.2h0M76.1 467.4h0M78.4 467.7h0M80.5 467.4h0M82.6 467.4h0M84.3 467.2h0M86.7 467.3h0M88.6 467.8h0M91.1 467.2h0M97.1 467.3h0M99.6 467.4h0M103.8 467.6h0M107.9 467.4h0M110.2 467.4h0M112.3 467.4h0M113.9 467.8h0M123.0 467.4h0M125.0 467.7h0M127.2 467.2h0M129.2 467.4h0M131.5 467.4h0M133.0 467.4h0M139.5 467.3h0M144.2 467.3h0M145.9 467.4h0M148.3 467.5h0M150.6 467.7h0M152.3 467.7h0M154.2 467.2h0M156.8 467.8h0M159.0 467.6h0M160.6 467.4h0M162.9 467.3h0M164.9 467.4h0M167.3 467.5h0M169.1 467.6h0M171.5 467.3h0M173.8 467.7h0M175.7 467.3h0M178.1 467.7h0M179.6 467.2h0M182.3 467.4h0M9.5 469.2h0M11.6 469.5h0M13.3 469.4h0M15.9 469.0h0M17.6 469.0h0M20.0 469.1h0M21.8 469.0h0M24.1 469.6h0M26.0 469.4h0M28.1 469.0h0M30.4 469.5h0M32.5 469.4h0M34.8 469.1h0M36.5 469.4h0M39.0 469.0h0M40.9 469.1h0M42.9 469.1h0M45.0 469.5h0M47.4 469.4h0M49.3 469.4h0M51.5 469.5h0M53.9 469.4h0M56.0 469.4h0M58.1 469.0h0M59.8 469.0h0M62.0 469.2h0M64.7 469.1h0M66.2 469.5h0M68.6 469.5h0M74.7 469.2h0M77.2 469.2h0M79.0 469.0h0M81.2 469.6h0M83.1 469.0h0M85.7 469.1h0M87.8 469.2h0M89.9 469.5h0M92.0 469.5h0M93.8 469.6h0M96.0 469.4h0M98.5 469.7h0M102.4 469.4h0M106.6 469.1h0M109.2 469.2h0M111.1 469.6h0M113.3 469.4h0M119.4 469.2h0M123.8 469.2h0M126.0 469.5h0M128.0 469.4h0M130.1 469.3h0M132.0 469.7h0M134.6 469.3h0M136.5 469.5h0M138.7 469.2h0M142.5 469.4h0M145.0 469.5h0M147.3 469.6h0M149.1 469.4h0M151.0 469.6h0M153.3 469.6h0M155.3 469.0h0M157.8 469.4h0M159.9 469.5h0M161.8 469.1h0M164.2 469.1h0M166.1 469.6h0M168.4 469.6h0M170.3 469.3h0M172.8 469.5h0M174.7 469.4h0M176.8 469.6h0M179.1 469.6h0M181.2 469.4h0M8.3 471.2h0M10.3 471.4h0M12.4 471.4h0M14.6 471.4h0M16.6 471.1h0M18.6 471.0h0M20.9 471.4h0M22.9 471.4h0M25.0 470.8h0M27.4 470.9h0M29.7 471.2h0M31.2 471.3h0M33.5 470.9h0M35.7 471.0h0M37.7 471.3h0M39.7 471.1h0M42.1 471.1h0M44.6 471.5h0M46.6 470.9h0M48.8 471.3h0M50.6 471.1h0M52.7 470.9h0M54.6 471.2h0M57.0 470.9h0M59.1 470.8h0M61.2 471.2h0M63.6 470.9h0M65.7 471.0h0M67.4 471.0h0M74.2 471.1h0M75.9 471.2h0M78.4 471.2h0M80.0 471.2h0M82.3 471.2h0M84.5 471.5h0M86.3 471.0h0M88.7 471.4h0M91.2 471.0h0M93.0 471.2h0M95.2 471.2h0M97.4 471.5h0M103.5 471.3h0M105.7 470.9h0M107.7 471.3h0M114.3 471.3h0M116.4 471.3h0M118.3 471.0h0M122.8 471.1h0M124.5 470.9h0M127.1 470.9h0M128.9 471.3h0M131.1 471.3h0M133.5 471.5h0M135.2 471.0h0M137.4 471.4h0M139.3 471.3h0M141.4 471.1h0M144.0 471.4h0M146.3 471.4h0M148.1 471.2h0M150.5 471.0h0M152.6 471.4h0M154.6 471.4h0M156.9 471.3h0M159.0 471.1h0M161.0 471.3h0M162.7 471.1h0M164.9 471.2h0M167.3 471.5h0M169.5 471.3h0M171.8 471.2h0M173.6 471.4h0M175.4 471.4h0M178.0 471.2h0M179.8 471.3h0M181.7 471.2h0M9.5 473.2h0M11.2 472.7h0M13.8 472.8h0M17.8 472.9h0M21.9 473.0h0M24.1 472.8h0M25.9 473.0h0M28.5 472.9h0M30.8 472.7h0M32.7 473.2h0M34.6 472.7h0M36.5 473.0h0M39.3 473.0h0M40.8 472.8h0M43.4 472.9h0M45.6 472.8h0M47.2 472.8h0M49.7 473.2h0M51.6 473.2h0M53.7 473.0h0M55.9 472.7h0M58.3 473.0h0M59.8 473.0h0M62.1 472.9h0M64.3 472.8h0M66.2 473.1h0M68.7 473.1h0M70.9 473.2h0M73.1 472.8h0M74.8 472.7h0M77.3 472.7h0M78.9 473.1h0M81.5 473.1h0M83.3 472.8h0M85.4 472.7h0M87.6 473.1h0M89.9 473.0h0M92.1 473.3h0M93.7 473.3h0M96.1 472.8h0M102.3 472.9h0M104.8 473.3h0M106.8 472.8h0M109.1 473.1h0M115.1 473.1h0M117.1 473.2h0M119.4 473.0h0M121.3 473.3h0M123.8 473.2h0M126.0 473.1h0M128.2 472.8h0M130.2 472.8h0M131.9 473.1h0M134.0 472.7h0M136.7 473.2h0M138.9 472.8h0M140.7 472.8h0M142.9 473.2h0M144.6 473.1h0M147.1 473.3h0M149.1 472.9h0M151.5 472.9h0M153.1 473.1h0M155.5 472.9h0M157.9 472.8h0M159.5 473.1h0M164.0 472.9h0M165.9 473.1h0M168.0 473.0h0M170.5 472.8h0M172.7 473.0h0M174.6 473.3h0M176.4 473.1h0M178.7 472.7h0M180.9 473.1h0M8.2 474.7h0M10.6 474.5h0M12.2 474.6h0M14.7 475.0h0M18.7 474.6h0M22.8 474.6h0M25.1 474.7h0M27.0 474.9h0M29.4 475.1h0M31.7 474.8h0M33.9 474.8h0M35.7 475.1h0M38.2 474.8h0M39.9 474.9h0M42.1 475.1h0M44.2 474.9h0M46.5 475.0h0M48.8 474.7h0M50.4 474.7h0M52.7 474.9h0M54.9 475.1h0M56.9 474.8h0M59.3 475.0h0M61.0 474.9h0M63.1 474.7h0M65.4 474.9h0M67.2 475.2h0M70.0 475.0h0M71.8 475.0h0M74.2 474.8h0M75.9 475.1h0M78.4 474.8h0M80.5 474.6h0M82.3 474.7h0M84.6 474.6h0M86.9 475.0h0M89.1 474.5h0M90.8 474.9h0M93.2 474.6h0M95.0 475.0h0M97.1 474.8h0M99.4 475.2h0M103.4 475.1h0M105.4 474.5h0M108.0 474.7h0M110.1 474.6h0M114.0 474.7h0M116.0 474.7h0M118.5 475.0h0M120.9 475.2h0M122.9 474.9h0M125.0 475.0h0M126.8 475.1h0M129.1 474.6h0M131.1 474.7h0M133.3 475.0h0M135.1 474.7h0M137.3 474.7h0M139.5 474.9h0M141.9 474.8h0M143.7 474.7h0M145.8 475.0h0M148.0 474.7h0M150.2 474.8h0M152.1 475.1h0M156.5 474.7h0M158.6 475.0h0M160.8 474.8h0M164.8 474.7h0M167.3 474.7h0M169.4 474.8h0M171.3 474.9h0M173.8 474.7h0M177.6 475.0h0M179.7 475.2h0M181.7 474.8h0M9.3 477.0h0M11.6 476.5h0M13.3 476.4h0M15.4 476.5h0M17.4 476.7h0M19.8 476.7h0M21.9 476.4h0M23.9 476.8h0M26.4 476.6h0M28.3 476.8h0M30.6 476.4h0M32.6 476.5h0M34.4 476.8h0M36.9 476.4h0M39.2 476.7h0M40.9 476.5h0M42.9 476.9h0M45.2 477.0h0M47.5 476.4h0M49.3 476.6h0M52.0 476.5h0M53.9 476.7h0M55.7 476.9h0M57.9 477.0h0M60.0 476.4h0M62.0 476.4h0M64.3 476.4h0M66.3 476.7h0M68.4 476.5h0M70.9 476.7h0M72.9 476.6h0M74.6 476.5h0M77.2 476.8h0M79.2 476.5h0M81.4 476.7h0M85.7 476.6h0M87.6 476.9h0M89.8 477.0h0M96.5 476.5h0M98.3 476.4h0M100.3 476.9h0M102.4 476.5h0M104.3 476.8h0M106.9 477.0h0M109.0 476.6h0M111.0 476.6h0M112.9 477.0h0M114.9 476.8h0M117.3 476.7h0M119.3 476.6h0M121.8 476.7h0M123.4 476.5h0M125.7 476.7h0M127.8 476.5h0M130.1 477.0h0M132.4 476.9h0M134.3 477.0h0M136.4 476.6h0M143.2 476.8h0M144.9 476.7h0M155.9 476.8h0M157.4 476.6h0M163.9 476.4h0M166.3 476.7h0M168.3 477.0h0M172.8 476.5h0M180.7 476.4h0M8.2 478.6h0M10.2 478.8h0M12.3 478.4h0M14.6 478.3h0M16.7 478.7h0M18.6 478.2h0M21.0 478.5h0M23.0 478.2h0M25.1 478.2h0M27.4 478.8h0M29.1 478.2h0M31.7 478.6h0M33.3 478.8h0M35.6 478.4h0M38.1 478.6h0M40.0 478.7h0M41.9 478.6h0M44.5 478.2h0M46.4 478.2h0M48.7 478.2h0M50.7 478.7h0M52.7 478.3h0M54.9 478.9h0M56.8 478.4h0M58.9 478.5h0M61.2 478.7h0M63.2 478.7h0M65.7 478.7h0M67.3 478.8h0M70.0 478.2h0M71.7 478.5h0M74.2 478.6h0M76.0 478.7h0M78.0 478.8h0M79.9 478.5h0M82.4 478.7h0M86.4 478.7h0M88.9 478.9h0M93.1 478.6h0M95.2 478.6h0M97.3 478.9h0M99.1 478.2h0M101.4 478.8h0M103.4 478.6h0M105.4 478.2h0M107.8 478.5h0M109.8 478.5h0M111.8 478.7h0M114.0 478.2h0M116.1 478.3h0M118.6 478.3h0M120.3 478.3h0M122.8 478.3h0M124.5 478.6h0M126.7 478.4h0M128.8 478.4h0M131.1 478.5h0M133.3 478.6h0M143.6 478.5h0M146.2 478.5h0M148.2 478.6h0M150.3 478.6h0M154.6 478.2h0M156.9 478.4h0M158.7 478.3h0M164.8 478.6h0M167.4 478.2h0M171.3 478.4h0M173.9 478.5h0M175.4 478.5h0M178.0 478.3h0M179.9 478.4h0M182.3 478.2h0M9.1 480.6h0M11.4 480.3h0M13.3 480.6h0M15.9 480.3h0M18.0 480.4h0M19.7 480.4h0M21.9 480.4h0M24.4 480.1h0M26.4 480.1h0M28.2 480.2h0M30.6 480.4h0M32.6 480.1h0M34.5 480.4h0M37.0 480.1h0M39.3 480.2h0M40.9 480.4h0M42.9 480.4h0M47.8 480.6h0M49.5 480.6h0M51.9 480.1h0M54.0 480.3h0M56.1 480.4h0M58.3 480.7h0M60.1 480.3h0M62.3 480.7h0M64.4 480.5h0M66.2 480.2h0M68.6 480.1h0M70.8 480.7h0M73.1 480.7h0M75.0 480.1h0M76.8 480.7h0M79.1 480.7h0M81.2 480.6h0M83.2 480.7h0M85.7 480.3h0M87.4 480.4h0M90.0 480.6h0M93.8 480.7h0M96.4 480.6h0M98.2 480.5h0M100.1 480.1h0M102.7 480.4h0M104.5 480.6h0M106.6 480.2h0M109.2 480.1h0M111.3 480.7h0M113.0 480.1h0M115.1 480.6h0M117.4 480.3h0M119.8 480.5h0M121.6 480.6h0M123.7 480.0h0M125.8 480.5h0M127.7 480.2h0M130.4 480.5h0M132.2 480.3h0M134.4 480.3h0M136.7 480.2h0M140.9 480.4h0M145.1 480.1h0M147.0 480.7h0M149.2 480.0h0M151.0 480.4h0M155.3 480.6h0M157.4 480.6h0M159.5 480.6h0M162.0 480.2h0M165.8 480.4h0M168.2 480.5h0M170.2 480.2h0M172.8 480.1h0M174.7 480.2h0M176.8 480.1h0M178.9 480.2h0M181.1 480.2h0M7.9 482.3h0M10.1 482.5h0M12.3 481.9h0M14.4 482.2h0M16.8 482.2h0M18.6 482.4h0M20.8 482.2h0M23.2 482.2h0M25.1 482.0h0M27.3 482.4h0M29.3 481.9h0M31.6 482.1h0M33.5 482.1h0M35.5 482.1h0M37.9 482.4h0M40.2 481.9h0M42.1 482.4h0M46.5 482.3h0M48.8 482.0h0M50.9 481.9h0M52.7 482.3h0M54.7 482.1h0M56.8 482.3h0M58.9 482.4h0M63.6 482.0h0M65.3 482.5h0M67.5 482.2h0M69.5 482.4h0M72.0 482.3h0M74.1 482.0h0M76.3 482.0h0M77.9 482.5h0M80.2 482.3h0M82.7 482.4h0M84.7 482.0h0M86.9 482.5h0M88.4 482.1h0M90.7 482.0h0M92.9 482.1h0M94.9 482.5h0M97.3 482.3h0M99.7 482.5h0M101.5 482.2h0M103.8 482.5h0M106.0 482.2h0M107.8 482.5h0M109.8 482.4h0M111.9 482.5h0M114.2 481.9h0M116.5 482.2h0M118.7 482.1h0M120.5 482.0h0M122.7 482.5h0M125.0 482.1h0M126.8 482.3h0M128.9 482.2h0M130.9 482.3h0M133.4 482.4h0M135.5 482.4h0M137.3 482.2h0M139.6 482.4h0M141.5 481.9h0M144.2 482.1h0M145.7 482.2h0M148.3 482.2h0M150.3 482.0h0M154.4 482.0h0M156.6 482.4h0M158.6 482.4h0M160.8 482.2h0M165.3 482.5h0M167.2 482.2h0M169.0 482.5h0M171.5 482.1h0M173.6 482.0h0M175.6 481.9h0M177.7 482.5h0M180.0 482.1h0M181.9 481.9h0M9.2 483.8h0M11.3 484.0h0M13.4 483.9h0M15.7 483.7h0M17.6 483.9h0M19.7 483.7h0M21.9 484.3h0M24.2 483.9h0M26.5 483.8h0M28.0 484.0h0M30.6 484.1h0M32.6 484.1h0M35.0 484.0h0M36.9 483.7h0M39.0 484.1h0M40.8 484.3h0M42.9 484.1h0M45.0 483.9h0M47.1 483.9h0M49.2 484.1h0M51.6 484.0h0M53.9 483.9h0M55.7 483.8h0M57.9 483.8h0M62.5 484.4h0M64.4 484.2h0M66.7 483.7h0M68.6 483.9h0M70.8 483.9h0M73.1 484.2h0M75.1 483.8h0M76.8 484.0h0M79.0 484.3h0M81.3 484.1h0M83.4 483.9h0M85.2 484.0h0M87.9 484.2h0M89.8 483.9h0M91.6 484.1h0M93.9 484.0h0M96.5 484.2h0M98.4 483.7h0M100.2 484.2h0M102.4 484.3h0M104.6 484.3h0M106.8 483.9h0M113.1 483.8h0M115.3 483.8h0M117.1 484.1h0M119.8 484.1h0M121.7 484.1h0M124.1 483.8h0M128.3 483.9h0M130.3 484.3h0M132.0 484.3h0M134.1 484.0h0M140.8 484.3h0M142.8 483.9h0M144.9 484.4h0M146.7 484.4h0M149.3 484.1h0M151.4 483.8h0M153.4 483.7h0M155.9 483.9h0M157.9 484.3h0M159.5 484.0h0M162.0 484.3h0M163.7 483.9h0M165.9 484.2h0M168.3 484.2h0M170.0 483.9h0M172.3 483.7h0M174.6 484.2h0M176.9 483.8h0M178.9 484.2h0M181.3 484.2h0M8.1 486.2h0M10.7 485.7h0M12.6 486.1h0M14.8 485.7h0M16.5 485.8h0M19.0 485.9h0M20.9 486.0h0M23.0 485.9h0M24.9 485.8h0M27.3 485.6h0M29.2 485.9h0M31.5 485.9h0M33.4 485.9h0M36.0 486.0h0M37.6 485.6h0M39.8 485.8h0M44.0 485.8h0M46.2 485.6h0M48.8 486.0h0M50.3 485.7h0M52.4 485.8h0M54.9 485.9h0M56.8 485.9h0M58.9 485.7h0M61.3 485.7h0M63.2 486.2h0M65.7 486.0h0M67.4 485.7h0M69.6 486.0h0M72.1 485.8h0M73.7 486.0h0M76.3 485.7h0M77.9 486.0h0M82.6 486.0h0M84.7 485.6h0M86.8 485.7h0M89.0 485.8h0M91.0 485.6h0M92.7 485.8h0M94.8 485.8h0M97.4 486.1h0M99.5 485.6h0M101.2 486.1h0M103.9 485.6h0M105.9 485.9h0M107.9 485.7h0M109.6 485.6h0M112.3 485.7h0M114.2 486.0h0M116.7 485.5h0M118.3 485.5h0M120.4 485.7h0M123.0 485.8h0M126.7 486.0h0M129.0 485.7h0M131.1 485.6h0M133.3 485.6h0M135.3 485.9h0M137.3 485.6h0M139.4 486.0h0M143.8 485.7h0M146.0 486.2h0M148.4 486.0h0M150.0 485.9h0M152.3 485.8h0M154.4 485.7h0M156.3 485.7h0M159.0 485.9h0M160.9 485.7h0M162.8 485.6h0M165.2 486.0h0M167.1 485.9h0M169.0 485.8h0M171.5 485.7h0M173.3 485.6h0M175.9 485.6h0M177.7 485.8h0M179.7 486.1h0M182.1 486.2h0M9.1 487.9h0M11.2 488.0h0M13.8 487.9h0M15.9 487.5h0M17.9 488.0h0M19.8 487.4h0M21.8 488.0h0M24.0 487.5h0M26.3 487.5h0M28.6 487.5h0M30.7 488.0h0M32.8 488.0h0M34.9 487.6h0M36.9 487.8h0M39.1 487.5h0M42.9 487.7h0M45.2 487.7h0M47.7 487.8h0M49.5 487.5h0M51.9 488.0h0M53.8 487.9h0M56.0 487.4h0M58.1 488.0h0M59.9 487.9h0M62.4 488.1h0M64.2 487.4h0M66.3 487.9h0M68.4 487.8h0M70.9 487.6h0M73.2 488.0h0M75.1 487.7h0M77.3 488.0h0M81.4 487.7h0M83.7 487.8h0M85.3 487.7h0M87.5 487.5h0M89.9 487.9h0M92.0 487.6h0M94.2 488.0h0M96.3 487.7h0M98.6 487.4h0M100.1 487.7h0M102.7 487.4h0M104.8 487.7h0M106.9 487.5h0M109.0 487.9h0M111.1 487.5h0M112.9 487.6h0M115.3 488.0h0M117.2 487.8h0M119.6 488.0h0M121.3 487.7h0M124.0 487.9h0M126.0 487.9h0M128.1 487.4h0M129.8 488.0h0M132.6 487.4h0M134.3 487.5h0M136.6 488.0h0M138.7 487.7h0M143.0 487.7h0M144.9 487.6h0M146.7 487.7h0M149.3 487.9h0M151.5 487.5h0M153.4 487.9h0M155.5 487.7h0M157.5 487.8h0M159.4 487.6h0M161.9 487.7h0M164.2 487.6h0M166.2 487.8h0M168.5 488.0h0M170.5 487.9h0M172.8 487.4h0M178.8 487.5h0M180.7 488.1h0M8.1 489.5h0M10.3 489.7h0M12.2 489.3h0M14.8 489.3h0M16.8 489.8h0M18.8 489.7h0M20.7 489.9h0M25.0 489.3h0M29.5 489.7h0M31.2 489.3h0M33.4 489.2h0M35.9 489.5h0M37.8 489.6h0M40.3 489.9h0M42.0 489.4h0M44.5 489.5h0M46.7 489.7h0M48.5 489.6h0M50.7 489.3h0M52.5 489.7h0M54.7 489.7h0M56.8 489.9h0M59.2 489.8h0M61.3 489.5h0M63.4 489.9h0M65.1 489.8h0M67.7 489.5h0M70.0 489.5h0M71.7 489.4h0M74.3 489.5h0M75.8 489.7h0M78.4 489.8h0M80.5 489.3h0M82.3 489.6h0M84.5 489.5h0M86.5 489.5h0M88.4 489.5h0M90.8 489.2h0M92.7 489.5h0M94.9 489.7h0M97.1 489.7h0M99.6 489.9h0M101.4 489.4h0M103.4 489.7h0M105.7 489.7h0M107.8 489.3h0M109.9 489.5h0M112.2 489.4h0M114.5 489.7h0M116.3 489.7h0M118.3 489.5h0M122.7 489.5h0M124.7 489.8h0M127.0 489.8h0M129.3 489.4h0M130.9 489.3h0M132.9 489.3h0M135.4 489.8h0M137.4 489.4h0M139.9 489.4h0M141.5 489.5h0M143.7 489.8h0M145.9 489.2h0M148.2 489.3h0M150.2 489.8h0M152.3 489.3h0M154.2 489.9h0M156.8 489.9h0M158.9 489.7h0M160.7 489.6h0M162.8 489.3h0M165.2 489.7h0M167.1 489.7h0M169.0 489.9h0M171.8 489.7h0M173.9 489.3h0M175.5 489.6h0M177.6 489.7h0M180.1 489.5h0M181.8 489.6h0M9.4 491.5h0M11.3 491.4h0M13.2 491.3h0M15.5 491.5h0M17.8 491.7h0M19.9 491.6h0M24.3 491.3h0M25.9 491.6h0M30.7 491.3h0M32.5 491.6h0M34.7 491.7h0M36.8 491.1h0M39.0 491.2h0M49.7 491.5h0M51.8 491.1h0M55.9 491.6h0M58.1 491.2h0M60.2 491.3h0M62.0 491.6h0M64.2 491.3h0M66.6 491.5h0M68.3 491.1h0M71.0 491.7h0M72.9 491.1h0M74.9 491.2h0M76.8 491.2h0M79.0 491.5h0M81.1 491.6h0M83.4 491.5h0M85.3 491.3h0M87.6 491.7h0M89.9 491.1h0M91.7 491.6h0M94.2 491.7h0M96.0 491.6h0M98.5 491.3h0M100.6 491.2h0M102.2 491.2h0M104.9 491.1h0M106.7 491.6h0M109.0 491.1h0M110.8 491.6h0M113.2 491.4h0M115.2 491.2h0M117.3 491.3h0M121.8 491.7h0M123.7 491.3h0M125.9 491.4h0M128.3 491.1h0M130.0 491.3h0M132.1 491.4h0M134.7 491.1h0M136.5 491.7h0M138.9 491.5h0M140.4 491.3h0M142.6 491.4h0M145.2 491.5h0M147.1 491.5h0M149.3 491.1h0M151.0 491.7h0M159.8 491.4h0M162.2 491.5h0M164.0 491.7h0M166.3 491.3h0M168.4 491.7h0M170.0 491.2h0M172.2 491.7h0M174.9 491.5h0M176.5 491.2h0M178.6 491.2h0M180.8 491.3h0M8.3 493.1h0M10.3 492.9h0M12.6 493.5h0M14.8 493.3h0M16.4 493.6h0M19.1 492.9h0M21.1 493.5h0M23.3 492.9h0M24.9 493.2h0M27.4 493.4h0M29.1 492.9h0M31.6 493.6h0M33.4 493.4h0M35.5 493.2h0M38.1 493.0h0M40.0 493.3h0M42.3 493.1h0M44.5 493.5h0M46.5 493.0h0M48.8 493.4h0M50.9 493.4h0M57.0 493.3h0M59.3 493.4h0M61.3 493.4h0M63.7 493.2h0M65.6 493.4h0M67.5 493.5h0M69.7 493.0h0M72.0 493.5h0M73.9 492.9h0M76.3 493.6h0M78.4 493.5h0M80.2 493.0h0M82.7 493.6h0M84.7 493.2h0M86.4 493.2h0M88.8 493.4h0M90.9 493.4h0M93.2 493.4h0M95.4 493.0h0M97.0 493.3h0M99.3 493.0h0M101.1 493.5h0M103.5 493.3h0M105.8 493.6h0M107.8 493.4h0M110.2 493.2h0M112.0 493.2h0M114.2 493.0h0M116.2 493.2h0M118.2 493.3h0M120.5 493.1h0M122.4 493.0h0M124.5 493.2h0M127.0 493.5h0M129.1 493.0h0M131.1 493.4h0M133.3 492.9h0M135.7 493.2h0M137.5 493.5h0M139.7 493.5h0M141.9 493.2h0M143.8 493.1h0M146.3 493.6h0M148.1 493.2h0M150.2 492.9h0M152.5 493.6h0M156.3 493.1h0M159.0 493.1h0M160.9 493.4h0M163.3 493.1h0M165.3 492.9h0M166.9 493.1h0M169.2 493.1h0M171.6 493.5h0M173.6 493.1h0M175.6 493.0h0M177.6 493.5h0M179.8 493.1h0M182.0 493.0h0M9.0 495.3h0M11.5 495.3h0M13.8 495.3h0M17.9 495.1h0M19.6 495.1h0M22.1 494.8h0M24.4 495.2h0M26.2 494.9h0M28.7 494.8h0M30.6 494.9h0M32.5 495.3h0M34.7 495.1h0M37.0 495.2h0M38.9 495.1h0M41.1 495.4h0M43.5 494.9h0M45.0 495.4h0M47.3 495.0h0M49.7 495.4h0M52.0 494.9h0M57.8 495.1h0M60.0 495.0h0M62.1 495.4h0M64.2 495.2h0M66.8 495.4h0M68.8 495.1h0M73.1 495.3h0M75.0 495.3h0M76.9 495.3h0M79.5 495.3h0M81.0 495.0h0M83.2 495.1h0M85.9 494.9h0M87.4 495.2h0M89.6 494.8h0M92.0 494.9h0M94.4 494.9h0M96.0 495.4h0M98.2 495.2h0M100.5 495.3h0M102.9 494.9h0M108.7 494.8h0M111.3 494.8h0M113.3 494.9h0M115.0 495.1h0M128.1 495.4h0M130.2 495.2h0M132.2 495.0h0M134.0 494.9h0M136.3 494.7h0M138.7 494.8h0M140.9 495.3h0M142.8 495.2h0M147.0 494.7h0M149.4 495.4h0M151.5 495.0h0M153.1 495.4h0M155.4 495.3h0M157.3 495.2h0M159.5 495.2h0M161.9 495.2h0M163.8 495.3h0M166.0 495.0h0M168.3 494.9h0M172.5 494.8h0M174.8 495.3h0M176.5 495.4h0M179.0 495.0h0M180.7 494.9h0M8.5 497.2h0M10.2 497.0h0M12.7 496.8h0M14.7 497.1h0M18.7 496.7h0M20.8 497.1h0M23.3 497.0h0M25.0 496.7h0M27.6 496.7h0M29.3 497.1h0M31.7 496.8h0M33.9 496.8h0M35.9 497.0h0M37.8 496.6h0M39.7 497.2h0M42.1 497.0h0M48.5 497.2h0M50.9 497.2h0M53.0 497.2h0M54.8 496.8h0M61.0 496.8h0M63.5 497.0h0M65.1 497.2h0M67.3 497.1h0M71.9 497.0h0M73.9 496.9h0M76.2 496.6h0M78.4 497.1h0M80.2 496.7h0M82.3 496.6h0M84.4 496.9h0M86.8 497.2h0M88.5 497.2h0M91.1 496.8h0M93.0 497.3h0M95.3 496.7h0M97.5 496.9h0M99.2 497.0h0M101.3 496.7h0M103.9 496.7h0M105.5 497.0h0M107.9 496.6h0M109.9 496.8h0M112.1 497.0h0M114.0 496.6h0M116.1 496.9h0M120.8 497.2h0M122.4 496.8h0M126.7 496.7h0M128.7 497.3h0M131.4 496.8h0M133.3 497.0h0M135.2 496.8h0M137.6 497.3h0M139.7 496.8h0M141.9 496.9h0M143.9 497.0h0M147.9 496.7h0M152.6 496.6h0M154.6 497.1h0M156.9 497.0h0M158.6 496.8h0M160.6 497.2h0M163.3 496.6h0M165.4 497.1h0M166.9 496.7h0M171.5 496.9h0M173.2 497.2h0M175.9 497.1h0M177.5 497.2h0M180.1 497.2h0M182.3 496.7h0M9.0 499.1h0M11.2 498.4h0M13.7 499.0h0M15.3 498.5h0M17.6 498.5h0M19.7 498.6h0M21.7 498.6h0M23.9 498.7h0M30.7 498.5h0M32.4 498.6h0M37.0 498.6h0M40.9 498.8h0M43.1 499.1h0M45.5 498.6h0M47.4 498.6h0M49.4 498.4h0M51.9 498.9h0M53.7 498.5h0M55.6 498.4h0M57.7 498.5h0M60.2 498.4h0M62.0 498.4h0M64.6 499.1h0M66.6 498.8h0M68.8 498.9h0M70.4 498.5h0M72.9 499.1h0M75.0 499.0h0M76.9 499.0h0M78.9 498.9h0M81.5 498.7h0M83.6 498.5h0M85.5 498.9h0M88.0 498.5h0M89.8 498.9h0M92.1 498.4h0M93.8 498.5h0M96.1 498.7h0M98.6 499.0h0M100.1 499.1h0M102.6 498.7h0M106.8 498.5h0M109.1 498.6h0M111.1 498.9h0M113.2 498.6h0M115.5 498.8h0M117.6 498.6h0M119.8 498.8h0M121.5 498.6h0M123.5 498.9h0M125.5 499.1h0M127.7 498.4h0M130.1 498.4h0M132.0 498.9h0M134.5 498.8h0M136.1 498.5h0M138.9 498.6h0M140.6 498.4h0M142.7 499.0h0M144.8 498.5h0M147.2 499.0h0M151.2 498.9h0M153.4 498.6h0M155.5 498.9h0M157.3 498.8h0M159.9 498.8h0M162.2 498.6h0M164.2 498.4h0M165.8 498.5h0M168.3 498.7h0M170.1 499.1h0M172.8 498.4h0M174.3 498.9h0M177.0 498.6h0M178.9 499.1h0M180.9 498.5h0M8.0 500.4h0M10.1 500.7h0M12.4 500.8h0M14.9 500.4h0M16.4 500.9h0M19.1 500.8h0M21.0 500.6h0M23.1 500.7h0M25.2 500.3h0M27.6 500.5h0M29.2 500.6h0M31.3 500.9h0M33.7 500.4h0M38.1 500.4h0M42.0 500.3h0M44.4 500.4h0M46.6 500.7h0M48.4 500.4h0M50.8 500.8h0M52.5 500.4h0M55.0 500.3h0M56.7 500.6h0M59.0 500.8h0M61.1 500.9h0M63.6 500.4h0M65.7 500.6h0M67.6 500.5h0M69.5 500.8h0M71.8 500.7h0M73.7 500.4h0M76.1 500.3h0M77.9 500.9h0M80.0 500.6h0M82.5 500.8h0M84.2 500.6h0M86.6 500.3h0M88.7 500.6h0M90.7 500.4h0M93.1 500.4h0M95.2 500.9h0M97.4 500.6h0M99.1 500.4h0M101.3 500.4h0M105.9 500.8h0M107.5 500.6h0M109.6 500.9h0M112.0 500.5h0M114.3 500.4h0M116.4 500.8h0M118.6 500.4h0M120.4 500.7h0M122.9 500.9h0M125.1 500.5h0M126.7 500.7h0M128.9 500.5h0M131.3 500.3h0M133.4 500.4h0M135.5 500.5h0M137.2 500.9h0M139.5 500.5h0M141.6 500.8h0M145.8 500.9h0M148.4 500.5h0M150.2 500.7h0M152.6 500.8h0M154.6 500.5h0M156.3 500.3h0M160.9 500.3h0M162.6 500.8h0M165.3 500.5h0M167.0 500.4h0M169.6 500.3h0M171.1 500.9h0M173.8 500.3h0M175.9 500.8h0M177.6 500.4h0M179.9 500.7h0M182.2 500.7h0M9.1 502.2h0M11.5 502.6h0M13.8 502.5h0M15.8 502.1h0M18.1 502.6h0M20.1 502.8h0M21.7 502.3h0M24.4 502.5h0M26.1 502.8h0M28.7 502.3h0M30.4 502.2h0M32.7 502.4h0M34.8 502.7h0M36.8 502.5h0M38.8 502.2h0M41.3 502.3h0M47.3 502.2h0M49.4 502.3h0M55.6 502.4h0M57.8 502.4h0M60.0 502.4h0M62.3 502.3h0M64.1 502.4h0M66.8 502.3h0M68.3 502.3h0M70.4 502.1h0M72.7 502.4h0M75.1 502.3h0M76.8 502.6h0M79.0 502.4h0M81.2 502.6h0M83.2 502.6h0M85.7 502.2h0M87.4 502.7h0M89.7 502.5h0M91.6 502.5h0M94.3 502.5h0M95.9 502.2h0M98.4 502.3h0M100.5 502.7h0M102.3 502.6h0M104.6 502.2h0M106.6 502.6h0M109.1 502.7h0M110.7 502.6h0M112.8 502.3h0M115.0 502.5h0M117.7 502.2h0M119.6 502.3h0M121.7 502.7h0M123.9 502.5h0M125.7 502.4h0M127.8 502.2h0M130.2 502.3h0M132.2 502.3h0M134.4 502.2h0M136.8 502.5h0M138.3 502.1h0M140.9 502.5h0M143.0 502.4h0M149.0 502.2h0M151.4 502.2h0M153.3 502.7h0M155.5 502.3h0M157.4 502.8h0M161.8 502.5h0M163.9 502.5h0M166.4 502.4h0M170.1 502.5h0M172.8 502.4h0M174.8 502.1h0M176.9 502.3h0M178.9 502.8h0M180.9 502.6h0M8.2 504.4h0M10.2 504.5h0M12.4 504.6h0M14.9 504.5h0M16.7 504.2h0M18.7 504.6h0M21.1 504.4h0M23.4 504.6h0M24.9 504.0h0M27.2 504.5h0M29.6 504.3h0M31.2 504.3h0M34.0 504.2h0M35.9 504.5h0M38.2 504.5h0M48.2 504.2h0M54.5 504.0h0M57.0 504.2h0M59.0 504.2h0M61.1 504.4h0M63.0 504.4h0M65.4 504.3h0M67.5 504.3h0M69.3 504.4h0M71.6 504.3h0M73.7 504.6h0M76.2 504.0h0M77.8 504.2h0M80.6 504.2h0M82.6 504.4h0M84.5 504.2h0M86.9 504.4h0M88.9 504.1h0M90.9 504.6h0M92.7 504.1h0M95.3 504.2h0M97.2 504.3h0M99.1 504.0h0M101.7 504.2h0M103.9 504.1h0M105.9 504.2h0M107.7 504.0h0M109.6 504.3h0M112.2 504.0h0M114.4 504.3h0M118.2 504.5h0M120.8 504.6h0M123.0 504.6h0M124.8 504.3h0M127.1 504.1h0M129.1 504.5h0M131.3 504.3h0M133.1 504.2h0M135.3 504.3h0M137.3 504.0h0M139.7 504.6h0M141.9 504.4h0M144.1 503.9h0M146.1 504.5h0M148.4 504.1h0M150.6 504.3h0M152.1 504.5h0M154.2 504.2h0M156.8 504.6h0M158.7 504.2h0M160.6 504.1h0M162.8 504.4h0M164.8 504.4h0M169.6 504.1h0M171.7 504.3h0M173.3 504.1h0M175.8 504.1h0M178.1 504.6h0M180.1 504.0h0M181.8 504.4h0M9.2 506.3h0M11.1 506.2h0M13.6 506.2h0M15.5 506.2h0M18.0 505.9h0M19.5 505.9h0M22.3 506.0h0M24.0 506.3h0M25.9 505.8h0M28.2 506.4h0M30.2 506.1h0M32.9 506.0h0M34.4 505.9h0M37.1 506.2h0M38.7 506.2h0M45.6 506.1h0M47.4 506.0h0M49.4 506.1h0M51.3 506.2h0M53.7 505.9h0M56.0 505.8h0M58.1 506.0h0M59.9 506.0h0M62.6 506.0h0M64.2 505.9h0M66.6 506.0h0M68.5 506.1h0M71.0 506.4h0M72.9 506.5h0M75.3 506.0h0M77.4 506.2h0M79.0 506.2h0M81.5 506.4h0M83.5 506.4h0M85.7 506.4h0M87.9 506.0h0M89.8 505.9h0M91.6 506.0h0M94.0 506.2h0M96.3 505.8h0M98.1 506.5h0M100.3 506.0h0M102.3 505.8h0M104.9 505.9h0M106.7 506.3h0M108.6 506.0h0M110.8 506.0h0M113.1 506.3h0M117.6 505.9h0M119.2 506.5h0M121.6 506.3h0M123.9 506.3h0M125.6 505.9h0M127.7 506.1h0M130.3 506.1h0M132.4 505.9h0M134.0 506.0h0M136.8 506.2h0M138.7 506.3h0M141.0 505.9h0M146.9 506.1h0M149.2 506.4h0M151.5 506.4h0M153.3 505.9h0M155.8 505.8h0M157.4 505.9h0M160.0 506.3h0M162.1 506.2h0M164.0 506.3h0M165.8 505.9h0M167.9 506.5h0M170.1 505.9h0M172.7 506.1h0M174.5 505.9h0M176.9 506.4h0M178.9 506.0h0M180.9 505.9h0M8.2 508.3h0M10.6 508.0h0M12.3 508.3h0M14.7 508.2h0M17.0 507.6h0M19.1 507.8h0M20.7 507.9h0M23.4 508.1h0M27.1 508.3h0M29.4 507.7h0M31.8 508.0h0M33.5 507.8h0M35.4 508.0h0M38.0 507.9h0M40.1 508.2h0M44.3 508.0h0M46.3 508.2h0M48.5 507.6h0M50.7 508.3h0M52.9 508.3h0M54.5 507.8h0M57.1 507.9h0M59.2 507.7h0M60.9 507.8h0M63.5 508.3h0M65.6 507.7h0M67.3 507.9h0M70.0 508.1h0M72.0 507.8h0M74.2 507.7h0M76.3 508.1h0M78.3 507.7h0M80.3 508.0h0M82.7 507.8h0M84.7 507.8h0M86.4 508.3h0M88.9 508.1h0M91.2 508.0h0M97.6 507.6h0M99.7 508.2h0M101.3 508.0h0M103.9 508.1h0M105.4 508.1h0M108.1 508.1h0M109.9 507.8h0M112.4 508.0h0M114.4 508.0h0M116.4 507.6h0M118.4 508.1h0M120.5 508.2h0M126.7 508.1h0M128.9 507.8h0M130.8 507.6h0M133.4 507.9h0M135.7 507.9h0M137.8 507.7h0M140.0 508.2h0M141.8 507.7h0M146.1 507.7h0M148.1 507.9h0M150.3 507.7h0M152.7 507.7h0M154.6 508.2h0M156.7 507.7h0M159.1 508.2h0M160.9 507.9h0M163.0 507.6h0M165.3 507.7h0M167.1 507.9h0M169.6 508.3h0M171.3 507.6h0M173.3 508.1h0M175.6 507.8h0M177.8 507.7h0M179.7 508.3h0M181.7 507.7h0M8.9 509.5h0M11.6 509.6h0M13.4 510.0h0M15.5 509.9h0M17.7 509.8h0M19.8 509.8h0M22.0 509.8h0M24.2 510.0h0M26.2 510.0h0M28.4 510.0h0M30.6 509.8h0M32.3 509.5h0M34.6 509.5h0M36.8 510.1h0M38.6 509.8h0M45.0 510.1h0M47.5 509.9h0M49.7 509.7h0M51.5 510.0h0M54.0 509.6h0M56.0 509.8h0M58.1 509.7h0M60.3 509.9h0M64.1 509.7h0M66.2 509.5h0M68.7 509.6h0M74.9 509.9h0M77.4 509.7h0M79.4 509.5h0M81.0 510.1h0M85.3 509.5h0M87.5 510.0h0M89.7 509.6h0M91.8 509.7h0M94.1 510.1h0M96.5 509.6h0M98.1 509.5h0M100.1 509.6h0M102.6 509.7h0M104.4 509.5h0M106.4 509.9h0M108.9 509.7h0M111.0 509.7h0M113.0 510.0h0M115.5 509.6h0M117.4 510.1h0M119.5 509.6h0M121.8 509.6h0M123.7 509.9h0M126.2 509.5h0M132.1 509.9h0M134.2 510.0h0M136.8 510.1h0M138.7 509.7h0M142.7 510.1h0M144.7 509.9h0M147.2 509.8h0M149.0 509.5h0M151.3 509.9h0M153.7 509.5h0M155.9 509.9h0M157.4 510.0h0M159.7 510.0h0M161.7 510.0h0M164.0 510.1h0M166.2 510.1h0M168.1 509.5h0M170.7 509.8h0M172.2 509.5h0M174.8 509.7h0M176.6 510.0h0M179.1 509.8h0M181.1 509.5h0M8.3 511.8h0M10.4 511.6h0M12.3 511.4h0M14.7 511.9h0M16.6 512.0h0M18.7 511.9h0M21.2 511.9h0M22.7 511.5h0M24.9 511.5h0M27.1 511.9h0M29.6 511.6h0M31.4 511.8h0M33.8 511.4h0M35.4 512.0h0M37.8 511.7h0M44.1 511.5h0M46.6 511.9h0M48.3 511.6h0M50.3 511.4h0M52.4 511.6h0M54.8 511.9h0M57.1 511.5h0M58.8 511.7h0M60.9 511.8h0M63.0 511.4h0M65.4 511.3h0M67.8 511.6h0M69.4 511.4h0M72.1 511.5h0M73.8 511.6h0M75.9 511.7h0M78.4 511.7h0M80.2 511.4h0M82.7 511.9h0M84.9 512.0h0M86.7 511.6h0M89.1 511.9h0M90.6 511.5h0M95.4 511.6h0M97.2 511.3h0M99.4 511.9h0M101.4 511.7h0M103.6 511.6h0M106.0 511.6h0M108.0 511.9h0M110.0 511.6h0M112.1 511.5h0M113.9 511.7h0M116.5 511.7h0M118.2 511.8h0M120.6 511.6h0M122.3 511.9h0M124.6 511.5h0M127.0 511.6h0M128.9 511.7h0M131.2 511.4h0M133.4 511.9h0M135.4 511.9h0M137.2 511.9h0M139.9 511.6h0M144.2 511.4h0M146.1 511.4h0M148.3 511.3h0M150.4 511.4h0M152.4 512.0h0M154.6 511.3h0M156.3 511.5h0M159.0 511.5h0M160.8 511.4h0M163.0 511.8h0M165.1 511.4h0M167.3 511.4h0M169.0 511.7h0M171.1 511.4h0M173.8 511.6h0M175.8 511.9h0M177.5 511.3h0M180.1 511.8h0M182.0 511.4h0M9.6 513.8h0M11.7 513.8h0M13.8 513.3h0M15.6 513.6h0M17.8 513.3h0M19.8 513.2h0M22.0 513.8h0M24.4 513.8h0M26.1 513.6h0M28.0 513.5h0M30.5 513.8h0M35.0 513.6h0M36.5 513.4h0M39.1 513.6h0M42.8 513.3h0M45.6 513.2h0M47.5 513.5h0M49.2 513.8h0M51.4 513.6h0M53.7 513.7h0M55.6 513.2h0M58.3 513.2h0M60.2 513.3h0M62.2 513.6h0M64.1 513.3h0M66.2 513.7h0M68.5 513.5h0M70.4 513.1h0M73.1 513.7h0M74.8 513.5h0M76.8 513.7h0M79.1 513.4h0M81.0 513.2h0M83.5 513.6h0M85.6 513.7h0M87.8 513.3h0M89.9 513.7h0M94.2 513.2h0M96.2 513.7h0M98.5 513.7h0M100.7 513.5h0M102.3 513.4h0M104.4 513.4h0M106.8 513.2h0M109.1 513.6h0M110.7 513.5h0M113.5 513.7h0M115.3 513.1h0M117.7 513.4h0M119.5 513.5h0M121.3 513.6h0M123.7 513.7h0M125.9 513.2h0M128.0 513.2h0M130.1 513.4h0M132.1 513.5h0M134.3 513.6h0M136.2 513.4h0M138.6 513.2h0M143.1 513.2h0M144.8 513.6h0M147.3 513.5h0M149.3 513.6h0M151.5 513.5h0M153.5 513.5h0M155.6 513.5h0M157.9 513.4h0M160.1 513.2h0M162.1 513.2h0M164.3 513.8h0M165.8 513.2h0M168.1 513.6h0M170.1 513.8h0M172.5 513.4h0M174.9 513.2h0M177.0 513.6h0M178.9 513.7h0M180.9 513.7h0M8.5 515.0h0M10.4 515.0h0M12.3 515.5h0M14.7 515.1h0M16.5 515.5h0M18.9 515.2h0M21.0 515.1h0M23.2 515.4h0M25.0 515.3h0M27.1 515.6h0M29.3 515.2h0M31.6 515.0h0M35.8 515.4h0M37.9 515.5h0M41.9 515.5h0M43.9 515.3h0M46.2 515.5h0M48.5 515.4h0M52.8 515.7h0M55.1 515.4h0M56.7 515.4h0M58.9 515.4h0M61.4 515.5h0M63.1 515.5h0M65.2 515.2h0M67.5 515.1h0M73.8 515.4h0M76.2 515.2h0M80.1 515.2h0M82.6 515.4h0M84.5 515.4h0M86.5 515.5h0M88.9 515.4h0M90.6 515.5h0M93.2 515.3h0M95.0 515.1h0M97.4 515.5h0M99.1 515.1h0M101.5 515.0h0M103.3 515.2h0M105.4 515.5h0M108.0 515.7h0M110.0 515.3h0M111.9 515.1h0M114.3 515.4h0M116.2 515.5h0M118.4 515.0h0M120.6 515.2h0M122.7 515.5h0M124.6 515.1h0M127.0 515.4h0M129.2 515.4h0M131.0 515.2h0M133.1 515.1h0M135.5 515.6h0M137.3 515.4h0M142.1 515.4h0M143.8 515.2h0M145.9 515.0h0M148.3 515.3h0M150.1 515.5h0M154.8 515.6h0M156.9 515.2h0M158.7 515.5h0M160.5 515.2h0M162.7 515.1h0M165.2 515.7h0M167.5 515.1h0M169.6 515.1h0M171.1 515.5h0M173.3 515.2h0M175.9 515.2h0M177.7 515.6h0M180.0 515.5h0M182.3 515.1h0M9.4 517.4h0M11.4 517.3h0M13.2 517.2h0M15.5 517.5h0M17.6 517.4h0M19.8 517.2h0M21.7 516.9h0M23.8 517.4h0M26.4 517.2h0M28.5 517.0h0M30.3 517.4h0M34.4 517.4h0M36.8 517.4h0M39.2 517.5h0M41.3 517.4h0M43.4 517.4h0M45.5 517.2h0M47.7 517.1h0M51.8 516.9h0M53.9 517.4h0M56.0 517.4h0M58.1 517.5h0M60.2 517.1h0M62.5 517.2h0M64.3 517.3h0M66.5 517.5h0M68.5 517.4h0M70.5 517.1h0M72.8 517.3h0M75.1 517.5h0M79.2 517.4h0M81.1 517.3h0M83.8 516.9h0M85.5 516.9h0M87.9 517.4h0M89.7 517.1h0M91.9 517.2h0M94.4 517.4h0M100.3 517.0h0M102.6 517.0h0M106.6 517.0h0M109.2 517.3h0M111.0 517.2h0M113.5 517.0h0M114.9 517.5h0M117.5 517.3h0M119.8 517.0h0M121.4 517.2h0M123.5 517.5h0M126.0 517.1h0M127.9 517.5h0M130.2 517.1h0M132.3 517.5h0M134.5 516.9h0M136.5 517.1h0M138.8 517.1h0M140.8 516.9h0M142.9 517.5h0M145.0 517.3h0M146.7 517.0h0M149.0 517.3h0M151.4 517.0h0M155.8 517.1h0M157.4 517.2h0M159.8 517.5h0M161.9 517.0h0M164.1 517.3h0M166.2 517.1h0M168.2 517.1h0M170.1 517.0h0M172.4 517.5h0M174.5 517.0h0M176.5 516.8h0M178.9 517.1h0M180.7 517.5h0M8.1 519.1h0M10.5 518.9h0M12.8 519.1h0M14.2 519.1h0M16.4 518.8h0M18.5 519.3h0M23.1 519.2h0M25.5 518.8h0M27.6 518.9h0M29.4 519.2h0M31.4 519.2h0M35.5 518.7h0M37.8 519.1h0M40.2 519.3h0M42.1 518.8h0M44.3 519.0h0M46.5 519.2h0M48.5 518.9h0M50.8 518.9h0M52.8 518.9h0M54.5 518.9h0M57.0 518.9h0M59.2 519.1h0M61.4 519.0h0M63.1 519.0h0M65.4 519.1h0M67.8 518.9h0M69.4 519.3h0M71.5 519.3h0M73.9 518.7h0M76.4 518.8h0M78.2 519.3h0M84.4 519.1h0M86.6 519.1h0M88.7 518.7h0M90.6 519.2h0M92.9 519.0h0M94.8 519.3h0M97.4 519.0h0M99.7 519.3h0M101.7 519.2h0M103.7 519.2h0M107.9 519.2h0M110.2 519.0h0M112.1 519.0h0M114.2 519.3h0M116.2 519.2h0M118.4 518.7h0M120.7 519.2h0M122.7 519.3h0M124.6 518.9h0M126.8 518.9h0M129.0 519.0h0M131.0 519.3h0M135.6 518.7h0M137.8 519.0h0M139.4 519.1h0M141.9 519.0h0M143.7 519.1h0M146.2 519.3h0M148.1 519.3h0M150.6 518.7h0M154.5 519.1h0M156.3 519.1h0M160.8 519.2h0M167.3 519.3h0M169.6 519.2h0M171.1 518.7h0M173.5 518.8h0M175.9 519.1h0M178.0 519.0h0M180.1 519.1h0M182.3 519.1h0M9.5 520.8h0M11.3 520.5h0M13.8 520.9h0M15.9 521.1h0M17.6 520.9h0M20.1 520.8h0M23.9 521.1h0M26.2 520.7h0M28.2 520.5h0M30.5 520.9h0M32.4 521.1h0M34.7 520.7h0M37.1 521.0h0M39.0 520.6h0M40.8 521.1h0M43.1 520.8h0M47.5 520.9h0M49.9 520.9h0M51.6 520.6h0M53.5 520.7h0M56.2 521.1h0M57.9 520.6h0M59.9 520.6h0M62.2 520.7h0M64.1 520.9h0M66.7 521.1h0M68.6 521.0h0M70.5 520.8h0M72.9 521.0h0M75.2 521.0h0M77.3 521.1h0M79.5 520.9h0M81.5 521.0h0M85.8 520.9h0M87.8 520.9h0M89.7 520.6h0M91.9 520.8h0M93.8 521.0h0M96.4 521.1h0M98.4 520.6h0M100.5 521.0h0M102.2 520.8h0M104.7 521.0h0M107.0 520.9h0M108.7 520.9h0M110.9 520.9h0M113.5 520.7h0M115.3 521.0h0M117.1 520.5h0M119.5 520.7h0M121.4 521.1h0M123.7 520.8h0M125.5 520.6h0M127.7 520.8h0M130.4 520.7h0M132.1 520.5h0M136.3 520.9h0M138.5 520.6h0M140.6 521.0h0M142.5 520.9h0M144.9 520.8h0M147.2 520.6h0M149.1 520.9h0M153.3 521.2h0M155.3 520.7h0M157.7 520.7h0M160.1 520.5h0M162.0 520.8h0M163.8 521.0h0M166.2 520.8h0M168.1 520.7h0M170.1 521.0h0M172.3 520.5h0M174.6 521.1h0M177.0 521.0h0M178.9 520.8h0M181.0 520.7h0M8.3 522.4h0M10.3 522.9h0M12.8 522.5h0M14.5 523.0h0M16.9 522.9h0M18.6 522.4h0M21.3 522.8h0M23.1 522.6h0M25.1 522.3h0M27.4 522.5h0M29.5 522.9h0M31.5 522.7h0M33.4 522.4h0M35.7 522.7h0M42.5 522.4h0M44.6 523.0h0M48.3 522.7h0M50.5 522.5h0M52.8 523.0h0M54.8 522.5h0M57.0 522.5h0M59.0 522.6h0M61.2 523.0h0M63.2 522.7h0M65.5 522.3h0M67.6 522.7h0M69.9 523.0h0M72.1 522.8h0M73.7 522.5h0M76.0 522.9h0M78.2 522.8h0M80.5 522.5h0M84.7 522.4h0M86.4 522.7h0M88.6 522.6h0M90.9 523.0h0M93.0 522.9h0M94.8 522.7h0M97.0 522.7h0M99.2 522.7h0M101.5 522.5h0M103.4 522.4h0M106.0 522.8h0M107.7 522.4h0M109.8 522.7h0M111.8 522.5h0M114.3 522.3h0M116.2 523.0h0M118.3 522.6h0M120.7 522.7h0M122.4 522.5h0M124.8 522.4h0M126.8 523.0h0M128.8 522.4h0M131.1 522.7h0M133.6 522.5h0M135.5 522.6h0M137.4 522.7h0M139.3 522.6h0M141.9 522.5h0M144.1 522.7h0M146.3 522.6h0M148.1 522.7h0M150.4 522.7h0M152.2 522.8h0M154.6 522.6h0M156.5 522.9h0M158.6 523.0h0M160.9 522.9h0M163.1 522.8h0M164.9 522.7h0M167.4 523.0h0M169.6 523.0h0M171.8 522.9h0M173.7 523.0h0M175.9 522.7h0M180.0 522.9h0M181.7 522.8h0M9.3 524.2h0M11.2 524.3h0M13.2 524.7h0M15.7 524.3h0M17.6 524.8h0M19.9 524.4h0M22.0 524.6h0M24.2 524.2h0M26.3 524.8h0M28.3 524.4h0M30.3 524.3h0M34.4 524.5h0M36.9 524.7h0M39.1 524.2h0M40.8 524.4h0M43.2 524.2h0M47.6 524.3h0M49.3 524.5h0M51.4 524.7h0M53.8 524.4h0M56.2 524.3h0M58.0 524.6h0M60.1 524.7h0M62.4 524.7h0M64.2 524.2h0M66.3 524.5h0M68.9 524.4h0M71.0 524.4h0M73.2 524.5h0M74.7 524.6h0M77.4 524.4h0M79.0 524.7h0M81.0 524.5h0M83.2 524.2h0M85.3 524.7h0M88.0 524.5h0M89.7 524.5h0M91.8 524.2h0M93.8 524.6h0M96.4 524.6h0M98.1 524.4h0M100.4 524.5h0M102.2 524.3h0M104.9 524.2h0M106.5 524.3h0M108.6 524.6h0M111.1 524.6h0M112.9 524.8h0M115.5 524.6h0M117.3 524.6h0M119.7 524.2h0M122.0 524.2h0M123.9 524.8h0M125.8 524.6h0M128.3 524.4h0M130.4 524.3h0M132.4 524.8h0M134.5 524.3h0M136.7 524.4h0M138.8 524.3h0M141.0 524.4h0M143.1 524.6h0M145.0 524.8h0M147.4 524.4h0M149.1 524.2h0M151.5 524.2h0M153.3 524.8h0M155.5 524.4h0M158.0 524.4h0M159.9 524.4h0M161.8 524.6h0M164.2 524.3h0M166.1 524.7h0M168.2 524.6h0M172.7 524.3h0M177.0 524.7h0M181.3 524.7h0M8.2 526.0h0M10.1 526.2h0M12.3 526.3h0M14.7 526.6h0M16.9 526.1h0M18.6 526.4h0M20.9 526.3h0M23.3 526.2h0M29.5 526.5h0M31.4 526.5h0M35.5 526.1h0M38.2 526.3h0M39.9 526.1h0M42.3 526.3h0M46.6 526.2h0M48.3 526.1h0M50.9 526.5h0M52.5 526.4h0M54.7 526.1h0M57.1 526.7h0M58.8 526.0h0M61.5 526.3h0M63.6 526.1h0M65.7 526.3h0M67.7 526.5h0M70.0 526.7h0M71.8 526.2h0M74.0 526.0h0M76.3 526.4h0M82.7 526.1h0M84.7 526.3h0M86.5 526.5h0M88.6 526.3h0M94.9 526.2h0M97.5 526.2h0M99.4 526.3h0M101.8 526.2h0M103.7 526.0h0M105.4 526.6h0M112.2 526.6h0M114.3 526.7h0M116.4 526.3h0M118.3 526.2h0M120.5 526.2h0M122.9 526.6h0M125.1 526.6h0M126.9 526.7h0M128.8 526.1h0M131.2 526.6h0M133.0 526.2h0M135.3 526.3h0M137.4 526.4h0M139.6 526.1h0M141.8 526.5h0M143.6 526.1h0M148.4 526.2h0M150.6 526.3h0M152.7 526.7h0M154.2 526.1h0M156.9 526.3h0M158.5 526.3h0M161.0 526.6h0M162.8 526.6h0M165.0 526.1h0M166.9 526.3h0M173.3 526.3h0M177.9 526.4h0M180.2 526.2h0M182.0 526.7h0" stroke="#747474" stroke-width="1.6" stroke-linecap="square" fill="none"/>
<path d="M9.6 414.0h0M23.8 414.1h0M142.7 447.0h0M149.0 446.9h0M155.4 447.5h0M89.5 425.0h0M25.1 460.4h0M130.1 436.2h0M96.4 425.0h0M126.0 436.1h0M154.7 493.1h0M79.3 414.1h0M162.0 436.1h0M99.2 471.0h0M174.7 436.2h0M43.5 506.2h0M112.4 471.3h0M77.3 517.0h0M152.2 482.2h0M149.4 425.0h0M96.0 517.3h0M23.2 438.3h0M96.9 460.2h0M27.1 438.3h0M34.0 437.8h0M142.9 414.2h0M53.8 495.2h0M70.5 494.9h0M115.0 506.0h0M60.5 484.1h0M104.6 494.9h0M143.1 506.0h0M145.2 505.9h0M139.4 448.7h0M173.2 460.5h0M27.4 416.2h0M147.8 449.3h0M150.4 448.9h0M121.6 495.2h0M119.2 495.4h0M117.3 494.9h0M152.5 449.3h0M125.1 438.2h0M118.5 438.0h0M33.6 518.7h0M166.9 448.8h0M108.7 484.1h0M38.7 462.0h0M71.8 416.3h0M182.1 449.3h0M74.0 416.1h0M144.7 494.9h0M76.2 416.1h0M86.9 415.7h0M25.3 507.9h0M124.6 426.9h0M62.6 461.8h0M136.2 483.8h0M98.2 473.0h0M34.6 450.6h0M73.2 462.2h0M80.3 519.3h0M152.5 515.2h0M112.9 473.1h0M111.0 473.2h0M16.6 496.9h0M105.5 518.8h0M44.3 496.7h0M152.1 416.3h0M57.2 497.1h0M95.0 507.8h0M161.6 472.7h0M62.2 440.1h0M134.1 462.3h0M34.5 428.8h0M41.9 486.1h0M152.1 518.8h0M122.8 508.3h0M16.4 474.8h0M163.2 519.0h0M20.9 474.5h0M158.4 518.8h0M58.3 428.9h0M62.0 428.5h0M153.4 450.9h0M155.5 451.2h0M124.8 497.0h0M123.5 439.8h0M21.8 520.9h0M129.8 440.0h0M45.5 521.1h0M150.5 496.8h0M110.8 428.6h0M117.6 428.6h0M124.6 485.8h0M169.6 496.9h0M101.6 475.2h0M67.7 463.8h0M33.7 453.0h0M41.3 509.6h0M43.4 509.8h0M35.5 452.4h0M141.9 486.0h0M108.8 417.6h0M10.1 441.4h0M62.5 510.0h0M28.6 499.0h0M71.0 510.0h0M178.9 428.7h0M83.3 509.9h0M116.6 464.1h0M118.2 464.0h0M48.7 441.8h0M180.8 428.7h0M134.2 520.7h0M59.2 441.7h0M133.3 463.8h0M175.4 475.1h0M141.7 463.5h0M112.0 452.6h0M42.0 430.5h0M128.2 509.6h0M14.8 419.8h0M140.6 510.1h0M105.0 498.5h0M79.5 487.8h0M8.9 465.9h0M152.6 452.7h0M48.6 419.6h0M50.5 419.5h0M40.2 522.6h0M141.5 442.0h0M116.1 430.9h0M156.5 441.9h0M158.5 442.0h0M91.8 476.5h0M42.3 511.8h0M74.9 465.8h0M82.2 523.0h0M112.0 419.5h0M116.6 419.4h0M120.3 419.6h0M96.2 465.5h0M98.5 465.6h0M100.1 465.8h0M35.8 500.8h0M176.9 487.7h0M40.2 500.5h0M64.0 454.9h0M147.0 476.9h0M141.0 476.5h0M153.6 476.9h0M119.2 465.8h0M159.8 476.9h0M23.2 489.8h0M93.2 511.4h0M27.3 489.9h0M60.0 443.4h0M170.7 476.7h0M134.7 465.9h0M138.6 465.4h0M179.1 476.8h0M113.3 454.3h0M41.2 432.3h0M58.3 432.8h0M66.4 432.2h0M151.5 454.9h0M79.2 432.4h0M81.2 432.8h0M53.8 421.2h0M32.4 524.6h0M143.8 500.3h0M68.7 421.8h0M45.2 524.5h0M147.4 443.8h0M113.3 432.8h0M120.5 489.8h0M14.6 456.6h0M84.9 478.8h0M117.2 432.2h0M158.9 500.5h0M151.2 443.4h0M61.5 467.4h0M119.7 432.3h0M125.8 432.3h0M32.9 513.5h0M145.1 432.2h0M117.5 421.6h0M119.7 421.4h0M121.9 421.8h0M23.1 445.3h0M94.8 467.5h0M137.6 478.2h0M101.3 467.4h0M105.5 467.4h0M45.2 502.4h0M116.0 467.7h0M118.4 467.4h0M120.5 467.6h0M50.8 445.2h0M52.6 445.3h0M54.6 445.7h0M163.0 478.2h0M51.9 502.7h0M152.2 478.7h0M41.2 491.6h0M47.2 491.7h0M8.3 423.2h0M180.7 421.6h0M174.3 524.7h0M140.7 513.5h0M179.0 524.4h0M46.6 423.6h0M25.0 526.5h0M144.9 502.2h0M13.8 458.6h0M118.6 434.2h0M91.7 480.4h0M168.0 502.2h0M25.9 458.4h0M30.5 458.0h0M99.3 423.5h0M40.3 515.6h0M70.6 469.4h0M80.0 526.6h0M72.9 469.2h0M50.6 515.2h0M155.8 491.1h0M116.2 423.5h0M93.0 526.5h0M71.5 515.5h0M138.6 480.7h0M39.8 504.1h0M41.9 504.5h0M142.6 480.5h0M107.8 526.6h0M52.5 504.0h0M121.9 469.0h0M164.1 480.5h0M21.9 436.2h0M146.1 526.2h0M140.5 469.3h0M47.3 435.9h0M53.1 493.0h0M55.0 493.5h0M87.7 447.5h0M169.4 526.3h0M171.5 526.5h0M44.1 481.9h0" stroke="#2a9a40" stroke-width="1.85" stroke-linecap="square" fill="none"/>
<path d="M61.3 481.9h0M172.3 458.2h0M138.4 447.1h0M151.4 447.3h0M12.4 460.4h0M123.9 436.3h0M167.5 504.3h0M32.9 517.0h0M98.5 425.3h0M69.6 471.0h0M71.7 471.3h0M49.2 517.1h0M77.2 414.4h0M74.8 414.1h0M87.8 413.9h0M101.6 470.8h0M41.3 506.1h0M110.2 471.4h0M15.9 495.4h0M120.3 471.0h0M162.9 481.9h0M20.8 438.1h0M98.2 517.3h0M104.6 517.1h0M151.2 414.1h0M55.8 495.4h0M86.3 448.8h0M153.2 517.0h0M15.3 473.2h0M20.2 473.3h0M22.8 415.7h0M106.6 495.1h0M139.9 515.3h0M123.8 495.0h0M126.0 494.8h0M122.8 437.9h0M20.7 519.2h0M111.3 483.8h0M179.9 448.8h0M125.7 483.8h0M60.3 461.8h0M170.6 495.1h0M100.7 473.3h0M138.3 484.4h0M68.7 462.0h0M36.9 451.1h0M74.7 462.3h0M82.6 518.7h0M175.8 437.7h0M41.9 508.1h0M26.0 439.7h0M177.5 427.2h0M143.8 416.2h0M46.2 496.9h0M117.1 461.9h0M92.9 508.1h0M59.2 496.8h0M133.3 518.9h0M70.0 496.9h0M140.6 461.8h0M37.0 429.0h0M124.8 508.1h0M165.4 518.7h0M64.0 428.6h0M143.6 508.0h0M28.1 418.1h0M80.4 486.0h0M149.2 450.9h0M118.3 497.0h0M117.2 439.8h0M157.8 451.0h0M168.4 450.9h0M37.8 463.8h0M71.0 417.5h0M145.7 497.2h0M77.3 418.1h0M112.4 474.8h0M83.3 521.1h0M111.2 417.7h0M26.2 498.7h0M96.9 464.1h0M99.5 463.8h0M34.8 498.9h0M72.6 510.0h0M38.8 498.8h0M154.7 474.8h0M163.2 474.8h0M130.8 463.6h0M61.4 441.8h0M41.2 487.5h0M151.0 521.0h0M40.0 430.5h0M44.0 431.0h0M130.2 509.6h0M16.5 419.8h0M56.8 431.0h0M59.1 430.6h0M80.0 430.5h0M46.3 419.7h0M129.0 441.5h0M37.6 522.8h0M46.4 522.5h0M143.7 441.4h0M149.2 498.8h0M83.3 476.6h0M114.1 430.4h0M118.4 431.0h0M94.1 476.4h0M62.0 465.4h0M140.6 487.6h0M40.3 511.9h0M76.9 465.5h0M9.1 443.8h0M118.4 419.5h0M122.4 419.8h0M174.6 487.4h0M138.6 476.7h0M148.9 476.7h0M151.3 476.6h0M47.7 443.8h0M161.7 476.3h0M174.7 476.6h0M176.6 476.9h0M110.7 454.5h0M115.2 454.6h0M181.8 419.6h0M103.5 500.4h0M142.1 511.6h0M64.3 432.8h0M178.1 522.7h0M8.4 467.4h0M153.4 454.4h0M49.8 421.5h0M144.8 443.3h0M153.7 443.8h0M90.6 478.7h0M157.7 443.6h0M31.4 456.4h0M41.1 513.7h0M113.2 421.6h0M93.2 467.4h0M135.7 478.8h0M65.5 456.7h0M139.7 478.4h0M141.8 478.3h0M43.3 502.7h0M54.1 502.3h0M91.7 513.2h0M22.2 491.5h0M161.0 478.2h0M28.5 491.4h0M61.4 445.5h0M169.3 478.5h0M137.7 467.6h0M135.1 467.6h0M141.8 467.6h0M42.9 491.6h0M45.6 491.1h0M10.5 423.1h0M53.5 491.6h0M170.2 524.6h0M45.2 480.1h0M48.5 423.6h0M52.5 423.2h0M27.2 526.1h0M33.7 526.2h0M44.3 526.5h0M69.8 423.2h0M147.0 502.6h0M119.5 491.6h0M150.1 445.4h0M15.9 457.9h0M116.5 434.2h0M159.6 502.5h0M120.5 434.4h0M90.9 423.7h0M127.2 434.0h0M131.1 434.7h0M24.4 458.0h0M156.6 445.6h0M34.0 515.6h0M78.3 526.2h0M144.0 434.0h0M153.7 491.1h0M114.3 423.2h0M90.6 526.1h0M157.7 491.1h0M120.7 423.6h0M118.2 423.7h0M69.4 515.1h0M100.4 469.4h0M104.8 469.1h0M110.3 526.4h0M77.9 515.2h0M44.5 503.9h0M46.1 504.1h0M115.3 469.6h0M148.1 423.6h0M117.4 469.4h0M49.6 447.3h0M153.1 480.1h0M53.8 447.5h0M19.8 436.1h0M50.8 504.2h0M98.1 458.0h0M32.6 436.4h0M45.3 436.3h0M175.6 526.4h0M116.3 504.0h0" stroke="#f4801f" stroke-width="1.85" stroke-linecap="square" fill="none"/>
</g>
<path d="M57.3 412.6l.9 1.8h-1.8zM123.6 412.6l.9 1.8h-1.8zM21.3 412.6l.9 1.8h-1.8zM124.6 412.6l.9 1.8h-1.8zM142.7 412.6l.9 1.8h-1.8zM106.7 412.6l.9 1.8h-1.8zM86.2 412.6l.9 1.8h-1.8zM22.1 412.6l.9 1.8h-1.8zM66.1 412.6l.9 1.8h-1.8zM27.4 412.6l.9 1.8h-1.8zM145.1 412.6l.9 1.8h-1.8zM124.4 412.6l.9 1.8h-1.8zM64.0 528.6l.9 -1.8h-1.8zM162.8 528.6l.9 -1.8h-1.8zM53.7 528.6l.9 -1.8h-1.8zM36.1 528.6l.9 -1.8h-1.8zM86.3 528.6l.9 -1.8h-1.8zM53.0 528.6l.9 -1.8h-1.8zM133.4 528.6l.9 -1.8h-1.8zM140.7 528.6l.9 -1.8h-1.8zM53.4 528.6l.9 -1.8h-1.8zM156.5 528.6l.9 -1.8h-1.8zM68.7 528.6l.9 -1.8h-1.8zM96.0 528.6l.9 -1.8h-1.8zM7.6 496.2l1.8 .9v-1.8zM7.6 471.8l1.8 .9v-1.8zM7.6 508.3l1.8 .9v-1.8zM7.6 424.3l1.8 .9v-1.8zM7.6 420.0l1.8 .9v-1.8zM7.6 427.1l1.8 .9v-1.8zM7.6 433.1l1.8 .9v-1.8zM7.6 435.6l1.8 .9v-1.8zM7.6 467.4l1.8 .9v-1.8zM7.6 463.1l1.8 .9v-1.8zM182.4 448.4l-1.8 .9v-1.8zM182.4 513.9l-1.8 .9v-1.8zM182.4 484.0l-1.8 .9v-1.8zM182.4 510.8l-1.8 .9v-1.8zM182.4 482.8l-1.8 .9v-1.8zM182.4 430.8l-1.8 .9v-1.8zM182.4 511.6l-1.8 .9v-1.8zM182.4 470.6l-1.8 .9v-1.8zM182.4 438.4l-1.8 .9v-1.8zM182.4 474.6l-1.8 .9v-1.8z" fill="#2f9e44"/>
<rect x="6.6" y="411.6" width="176.7" height="117.8" fill="none" stroke="#111" stroke-width="1.1"/>
<text x="171.8" y="427.2" font-size="13" fill="#1c1c1c" text-anchor="middle" style="opacity:.9">(g)</text>
</g>
<text x="100.3" y="544.6" font-size="9.3" text-anchor="middle" fill="#222" textLength="118.7" lengthAdjust="spacingAndGlyphs">Voronoi coordination number</text>
</svg></body></html>
